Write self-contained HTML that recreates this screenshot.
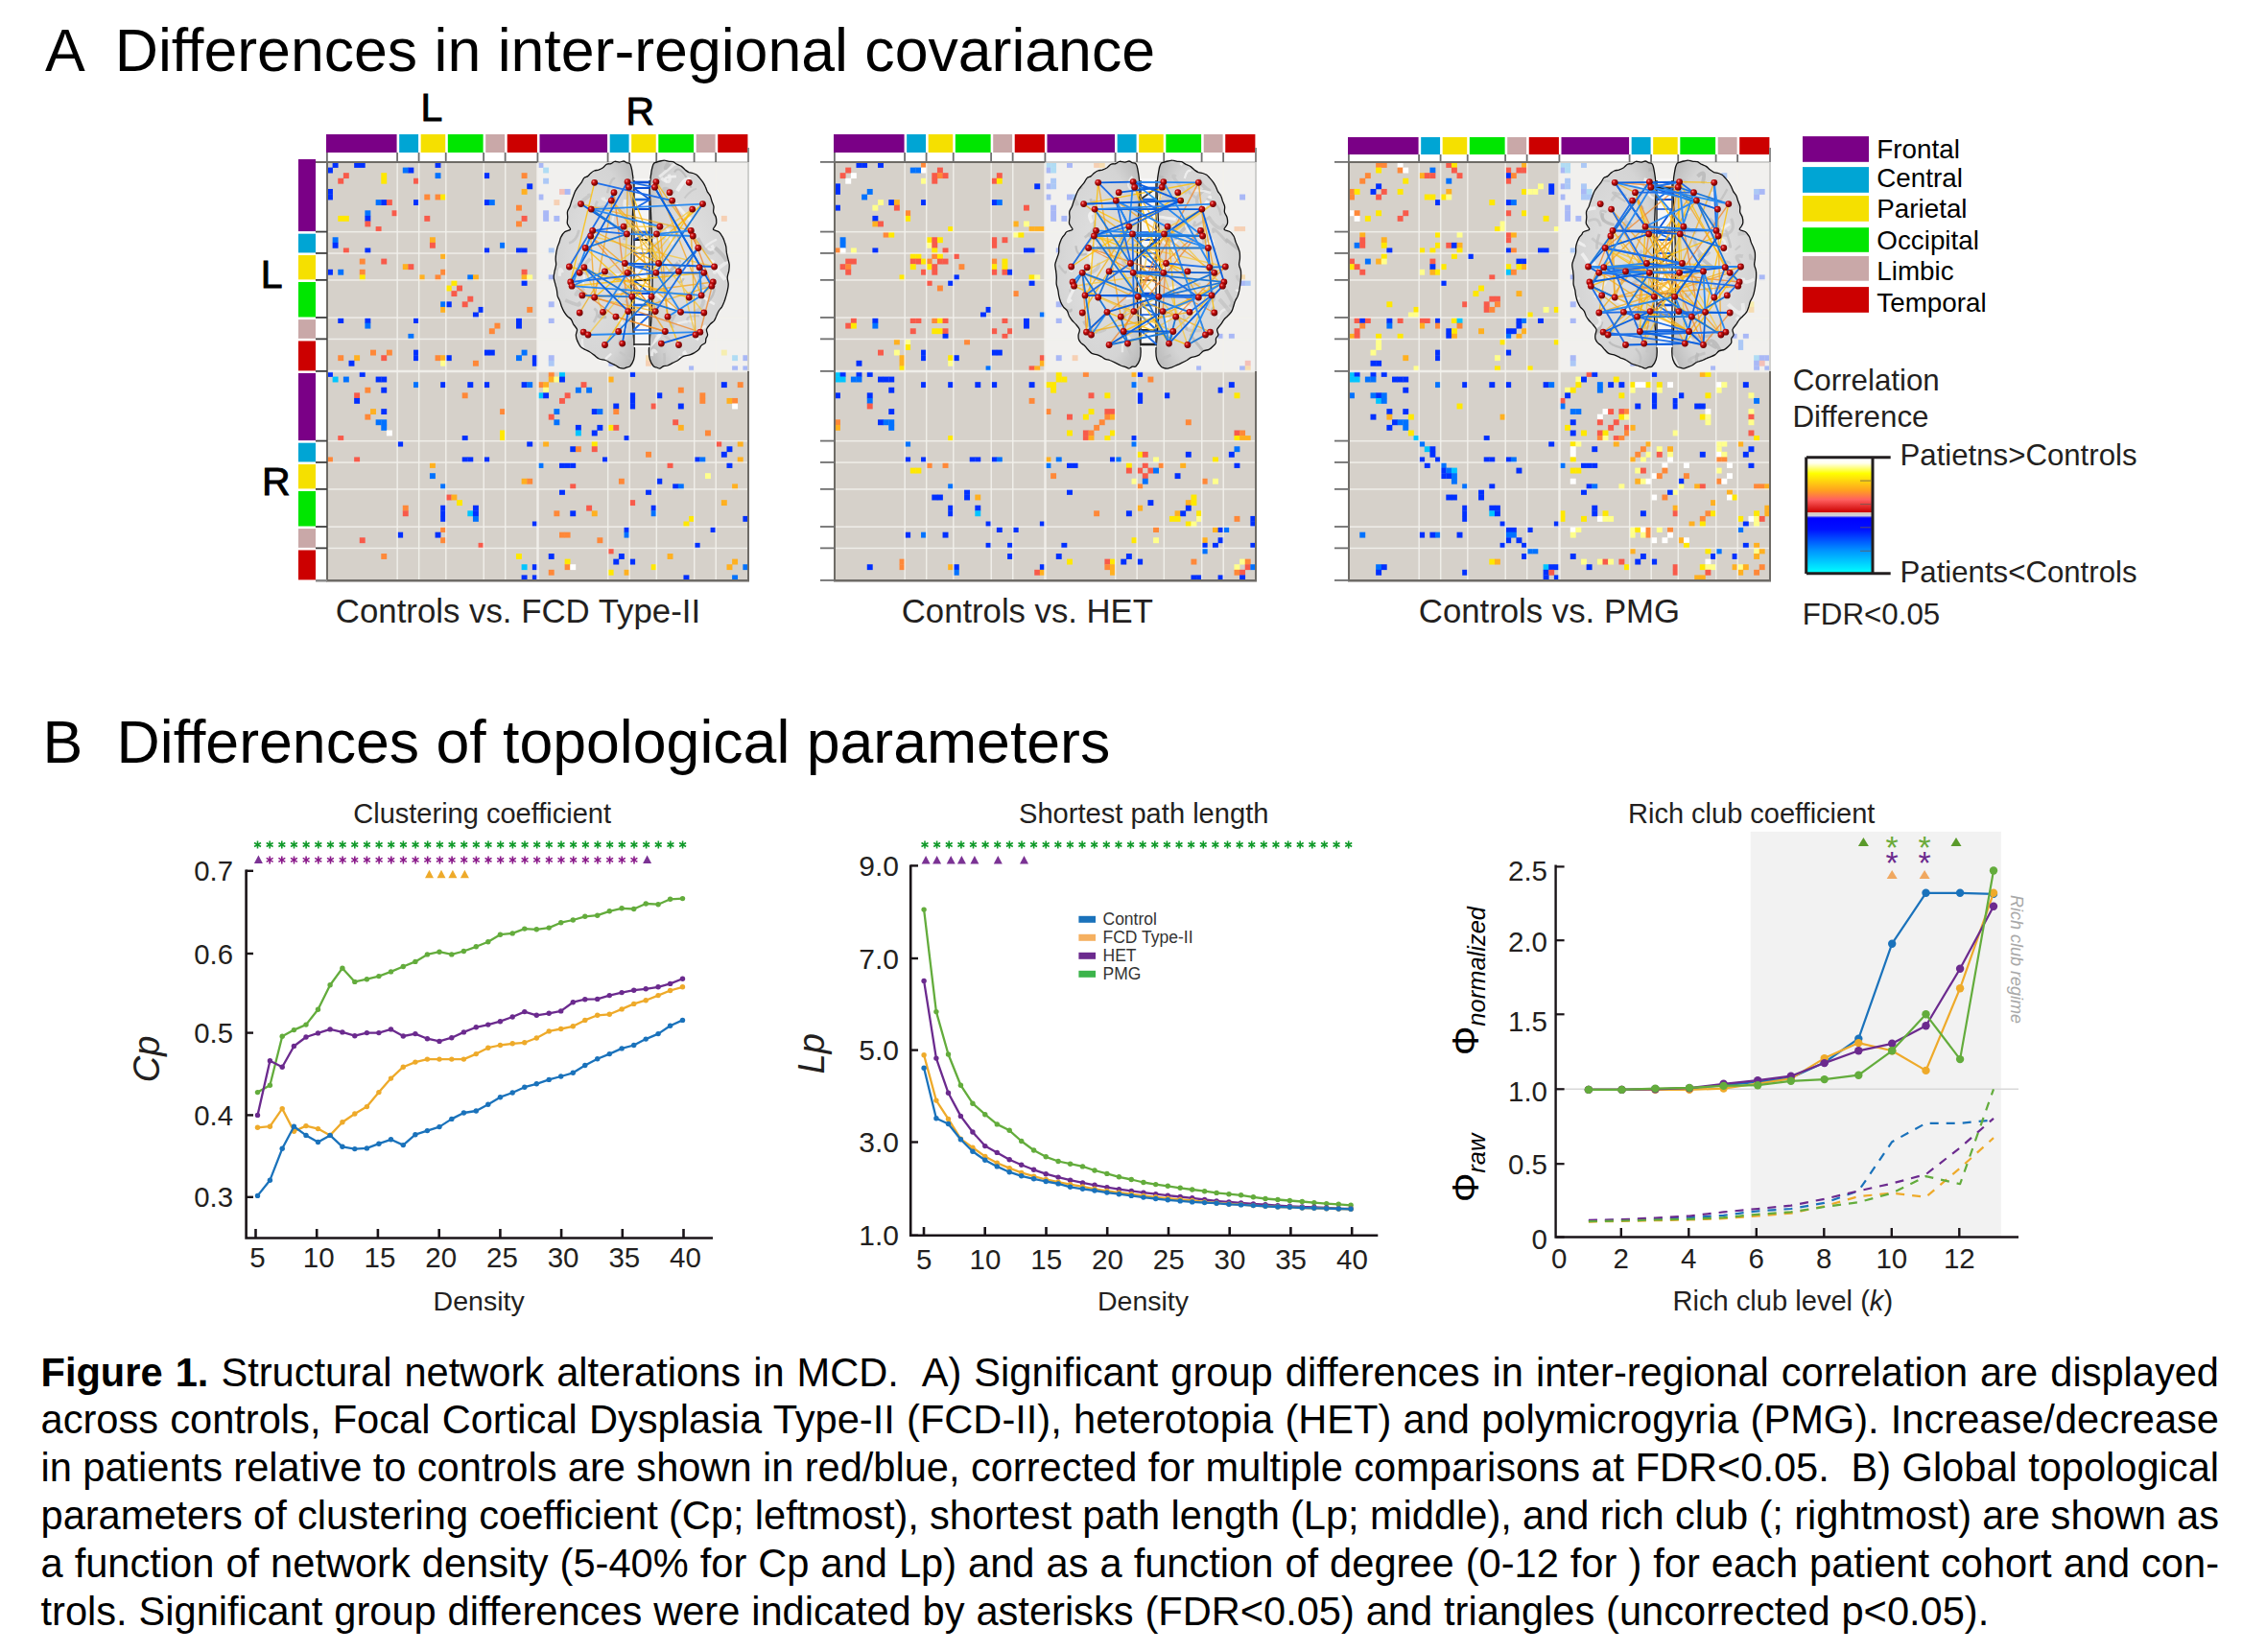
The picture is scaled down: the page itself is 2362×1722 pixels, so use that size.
<!DOCTYPE html>
<html><head><meta charset="utf-8"><style>
html,body{margin:0;padding:0;background:#fff;width:2362px;height:1722px;overflow:hidden}
body{position:relative;font-family:"Liberation Sans",sans-serif}
svg{position:absolute;left:0;top:0}
svg text{font-family:"Liberation Sans",sans-serif}
.cap{position:absolute;left:42.5px;width:2270.5px;font-size:41.6px;line-height:50px;height:50px;white-space:nowrap;color:#000}
</style></head><body>
<svg width="2362" height="1722" viewBox="0 0 2362 1722">
<rect x="341" y="169" width="439" height="436" fill="#d6d1ca"/>
<rect x="560.50" y="169" width="219.50" height="218.00" fill="#f1f0ee"/>
<rect x="346.63" y="169.00" width="5.93" height="5.89" fill="#0030ff"/>
<rect x="369.14" y="169.00" width="5.93" height="5.89" fill="#0030ff"/>
<rect x="374.77" y="169.00" width="5.93" height="5.89" fill="#0030ff"/>
<rect x="453.56" y="169.00" width="5.93" height="5.89" fill="#0030ff"/>
<rect x="341.00" y="174.59" width="5.93" height="5.89" fill="#0030ff"/>
<rect x="419.79" y="174.59" width="5.93" height="5.89" fill="#0072ff"/>
<rect x="425.42" y="174.59" width="5.93" height="5.89" fill="#0030ff"/>
<rect x="357.88" y="180.18" width="5.93" height="5.89" fill="#f85a4a"/>
<rect x="397.28" y="180.18" width="5.93" height="5.89" fill="#ffe800"/>
<rect x="453.56" y="180.18" width="5.93" height="5.89" fill="#0072ff"/>
<rect x="504.22" y="180.18" width="5.93" height="5.89" fill="#0030ff"/>
<rect x="543.62" y="180.18" width="5.93" height="5.89" fill="#ff8838"/>
<rect x="352.26" y="185.77" width="5.93" height="5.89" fill="#f85a4a"/>
<rect x="397.28" y="185.77" width="5.93" height="5.89" fill="#ffe800"/>
<rect x="431.05" y="185.77" width="5.93" height="5.89" fill="#f85a4a"/>
<rect x="549.24" y="191.36" width="5.93" height="5.89" fill="#0030ff"/>
<rect x="341.00" y="196.95" width="5.93" height="5.89" fill="#0030ff"/>
<rect x="543.62" y="196.95" width="5.93" height="5.89" fill="#ffb020"/>
<rect x="341.00" y="202.54" width="5.93" height="5.89" fill="#0030ff"/>
<rect x="442.31" y="202.54" width="5.93" height="5.89" fill="#ff8838"/>
<rect x="453.56" y="202.54" width="5.93" height="5.89" fill="#ff8838"/>
<rect x="459.19" y="202.54" width="5.93" height="5.89" fill="#ffe800"/>
<rect x="391.65" y="208.13" width="5.93" height="5.89" fill="#0072ff"/>
<rect x="397.28" y="208.13" width="5.93" height="5.89" fill="#0030ff"/>
<rect x="402.91" y="208.13" width="5.93" height="5.89" fill="#f85a4a"/>
<rect x="431.05" y="208.13" width="5.93" height="5.89" fill="#0030ff"/>
<rect x="504.22" y="208.13" width="5.93" height="5.89" fill="#0030ff"/>
<rect x="509.85" y="208.13" width="5.93" height="5.89" fill="#0072ff"/>
<rect x="537.99" y="213.72" width="5.93" height="5.89" fill="#ff8838"/>
<rect x="380.40" y="219.31" width="5.93" height="5.89" fill="#0072ff"/>
<rect x="408.54" y="219.31" width="5.93" height="5.89" fill="#f85a4a"/>
<rect x="352.26" y="224.90" width="5.93" height="5.89" fill="#ffe800"/>
<rect x="357.88" y="224.90" width="5.93" height="5.89" fill="#ffe800"/>
<rect x="380.40" y="224.90" width="5.93" height="5.89" fill="#0030ff"/>
<rect x="442.31" y="224.90" width="5.93" height="5.89" fill="#f85a4a"/>
<rect x="543.62" y="224.90" width="5.93" height="5.89" fill="#f85a4a"/>
<rect x="380.40" y="230.49" width="5.93" height="5.89" fill="#f85a4a"/>
<rect x="537.99" y="230.49" width="5.93" height="5.89" fill="#ff8838"/>
<rect x="391.65" y="236.08" width="5.93" height="5.89" fill="#f85a4a"/>
<rect x="346.63" y="247.26" width="5.93" height="5.89" fill="#0072ff"/>
<rect x="447.94" y="247.26" width="5.93" height="5.89" fill="#ffb020"/>
<rect x="346.63" y="252.85" width="5.93" height="5.89" fill="#0030ff"/>
<rect x="447.94" y="252.85" width="5.93" height="5.89" fill="#f85a4a"/>
<rect x="521.10" y="252.85" width="5.93" height="5.89" fill="#0072ff"/>
<rect x="357.88" y="258.44" width="5.93" height="5.89" fill="#f85a4a"/>
<rect x="380.40" y="258.44" width="5.93" height="5.89" fill="#0030ff"/>
<rect x="504.22" y="258.44" width="5.93" height="5.89" fill="#0030ff"/>
<rect x="537.99" y="258.44" width="5.93" height="5.89" fill="#0030ff"/>
<rect x="543.62" y="258.44" width="5.93" height="5.89" fill="#0030ff"/>
<rect x="459.19" y="264.03" width="5.93" height="5.89" fill="#ffb020"/>
<rect x="374.77" y="269.62" width="5.93" height="5.89" fill="#ff8838"/>
<rect x="397.28" y="269.62" width="5.93" height="5.89" fill="#f85a4a"/>
<rect x="419.79" y="275.21" width="5.93" height="5.89" fill="#ffb020"/>
<rect x="425.42" y="275.21" width="5.93" height="5.89" fill="#f85a4a"/>
<rect x="341.00" y="280.79" width="5.93" height="5.89" fill="#0030ff"/>
<rect x="352.26" y="280.79" width="5.93" height="5.89" fill="#0072ff"/>
<rect x="374.77" y="280.79" width="5.93" height="5.89" fill="#ff8838"/>
<rect x="459.19" y="280.79" width="5.93" height="5.89" fill="#ff8838"/>
<rect x="543.62" y="280.79" width="5.93" height="5.89" fill="#f85a4a"/>
<rect x="374.77" y="286.38" width="5.93" height="5.89" fill="#ffe800"/>
<rect x="436.68" y="286.38" width="5.93" height="5.89" fill="#ffb020"/>
<rect x="453.56" y="286.38" width="5.93" height="5.89" fill="#ff8838"/>
<rect x="487.33" y="286.38" width="5.93" height="5.89" fill="#0072ff"/>
<rect x="492.96" y="286.38" width="5.93" height="5.89" fill="#ffb020"/>
<rect x="543.62" y="286.38" width="5.93" height="5.89" fill="#ffb020"/>
<rect x="549.24" y="286.38" width="5.93" height="5.89" fill="#ffff8c"/>
<rect x="470.45" y="291.97" width="5.93" height="5.89" fill="#ffe800"/>
<rect x="543.62" y="291.97" width="5.93" height="5.89" fill="#0030ff"/>
<rect x="464.82" y="297.56" width="5.93" height="5.89" fill="#ffe800"/>
<rect x="476.08" y="297.56" width="5.93" height="5.89" fill="#f85a4a"/>
<rect x="470.45" y="303.15" width="5.93" height="5.89" fill="#f85a4a"/>
<rect x="487.33" y="308.74" width="5.93" height="5.89" fill="#f85a4a"/>
<rect x="459.19" y="314.33" width="5.93" height="5.89" fill="#0072ff"/>
<rect x="464.82" y="314.33" width="5.93" height="5.89" fill="#0030ff"/>
<rect x="481.71" y="314.33" width="5.93" height="5.89" fill="#f85a4a"/>
<rect x="459.19" y="319.92" width="5.93" height="5.89" fill="#ffb020"/>
<rect x="498.59" y="319.92" width="5.93" height="5.89" fill="#0030ff"/>
<rect x="549.24" y="319.92" width="5.93" height="5.89" fill="#ff8838"/>
<rect x="492.96" y="325.51" width="5.93" height="5.89" fill="#0030ff"/>
<rect x="352.26" y="331.10" width="5.93" height="5.89" fill="#0030ff"/>
<rect x="380.40" y="331.10" width="5.93" height="5.89" fill="#0030ff"/>
<rect x="431.05" y="331.10" width="5.93" height="5.89" fill="#0030ff"/>
<rect x="537.99" y="331.10" width="5.93" height="5.89" fill="#0030ff"/>
<rect x="380.40" y="336.69" width="5.93" height="5.89" fill="#0072ff"/>
<rect x="515.47" y="336.69" width="5.93" height="5.89" fill="#ff8838"/>
<rect x="537.99" y="336.69" width="5.93" height="5.89" fill="#0030ff"/>
<rect x="509.85" y="342.28" width="5.93" height="5.89" fill="#ff8838"/>
<rect x="425.42" y="347.87" width="5.93" height="5.89" fill="#0072ff"/>
<rect x="386.03" y="364.64" width="5.93" height="5.89" fill="#ff8838"/>
<rect x="402.91" y="364.64" width="5.93" height="5.89" fill="#ff8838"/>
<rect x="431.05" y="364.64" width="5.93" height="5.89" fill="#0030ff"/>
<rect x="504.22" y="364.64" width="5.93" height="5.89" fill="#0030ff"/>
<rect x="509.85" y="364.64" width="5.93" height="5.89" fill="#0030ff"/>
<rect x="543.62" y="364.64" width="5.93" height="5.89" fill="#0072ff"/>
<rect x="352.26" y="370.23" width="5.93" height="5.89" fill="#ff8838"/>
<rect x="369.14" y="370.23" width="5.93" height="5.89" fill="#ffb020"/>
<rect x="397.28" y="370.23" width="5.93" height="5.89" fill="#f85a4a"/>
<rect x="431.05" y="370.23" width="5.93" height="5.89" fill="#0030ff"/>
<rect x="453.56" y="370.23" width="5.93" height="5.89" fill="#ff8838"/>
<rect x="459.19" y="370.23" width="5.93" height="5.89" fill="#ffb020"/>
<rect x="464.82" y="370.23" width="5.93" height="5.89" fill="#0030ff"/>
<rect x="537.99" y="370.23" width="5.93" height="5.89" fill="#0072ff"/>
<rect x="554.87" y="370.23" width="5.93" height="5.89" fill="#0030ff"/>
<rect x="363.51" y="375.82" width="5.93" height="5.89" fill="#0030ff"/>
<rect x="459.19" y="375.82" width="5.93" height="5.89" fill="#ffff8c"/>
<rect x="492.96" y="375.82" width="5.93" height="5.89" fill="#ff8838"/>
<rect x="554.87" y="375.82" width="5.93" height="5.89" fill="#0030ff"/>
<rect x="341.00" y="387.00" width="5.93" height="5.89" fill="#0030ff"/>
<rect x="560.50" y="169.00" width="5.93" height="5.89" fill="#a9b8f6"/>
<rect x="374.77" y="387.00" width="5.93" height="5.89" fill="#0030ff"/>
<rect x="560.50" y="202.54" width="5.93" height="5.89" fill="#a9b8f6"/>
<rect x="346.63" y="392.59" width="5.93" height="5.89" fill="#00c4ff"/>
<rect x="566.13" y="174.59" width="5.93" height="5.89" fill="#b0dcf4"/>
<rect x="357.88" y="392.59" width="5.93" height="5.89" fill="#0072ff"/>
<rect x="566.13" y="185.77" width="5.93" height="5.89" fill="#acc8f6"/>
<rect x="391.65" y="392.59" width="5.93" height="5.89" fill="#0030ff"/>
<rect x="566.13" y="219.31" width="5.93" height="5.89" fill="#a9b8f6"/>
<rect x="397.28" y="392.59" width="5.93" height="5.89" fill="#0030ff"/>
<rect x="566.13" y="224.90" width="5.93" height="5.89" fill="#a9b8f6"/>
<rect x="431.05" y="398.18" width="5.93" height="5.89" fill="#0072ff"/>
<rect x="571.76" y="258.44" width="5.93" height="5.89" fill="#acc8f6"/>
<rect x="459.19" y="398.18" width="5.93" height="5.89" fill="#0030ff"/>
<rect x="571.76" y="286.38" width="5.93" height="5.89" fill="#a9b8f6"/>
<rect x="487.33" y="398.18" width="5.93" height="5.89" fill="#0030ff"/>
<rect x="571.76" y="314.33" width="5.93" height="5.89" fill="#a9b8f6"/>
<rect x="504.22" y="398.18" width="5.93" height="5.89" fill="#0030ff"/>
<rect x="571.76" y="331.10" width="5.93" height="5.89" fill="#a9b8f6"/>
<rect x="543.62" y="398.18" width="5.93" height="5.89" fill="#0030ff"/>
<rect x="571.76" y="370.23" width="5.93" height="5.89" fill="#a9b8f6"/>
<rect x="549.24" y="398.18" width="5.93" height="5.89" fill="#0072ff"/>
<rect x="571.76" y="375.82" width="5.93" height="5.89" fill="#acc8f6"/>
<rect x="380.40" y="403.77" width="5.93" height="5.89" fill="#ff8838"/>
<rect x="577.38" y="208.13" width="5.93" height="5.89" fill="#f6d0b4"/>
<rect x="397.28" y="403.77" width="5.93" height="5.89" fill="#0030ff"/>
<rect x="577.38" y="224.90" width="5.93" height="5.89" fill="#a9b8f6"/>
<rect x="369.14" y="409.36" width="5.93" height="5.89" fill="#f85a4a"/>
<rect x="583.01" y="196.95" width="5.93" height="5.89" fill="#f4c0b8"/>
<rect x="481.71" y="409.36" width="5.93" height="5.89" fill="#ff8838"/>
<rect x="583.01" y="308.74" width="5.93" height="5.89" fill="#f6d0b4"/>
<rect x="369.14" y="414.95" width="5.93" height="5.89" fill="#0030ff"/>
<rect x="588.64" y="196.95" width="5.93" height="5.89" fill="#a9b8f6"/>
<rect x="386.03" y="426.13" width="5.93" height="5.89" fill="#ffb020"/>
<rect x="599.90" y="213.72" width="5.93" height="5.89" fill="#f6dcb0"/>
<rect x="397.28" y="426.13" width="5.93" height="5.89" fill="#0030ff"/>
<rect x="599.90" y="224.90" width="5.93" height="5.89" fill="#a9b8f6"/>
<rect x="521.10" y="426.13" width="5.93" height="5.89" fill="#ff8838"/>
<rect x="599.90" y="347.87" width="5.93" height="5.89" fill="#f6d0b4"/>
<rect x="380.40" y="431.72" width="5.93" height="5.89" fill="#ff8838"/>
<rect x="605.53" y="208.13" width="5.93" height="5.89" fill="#f6d0b4"/>
<rect x="391.65" y="437.31" width="5.93" height="5.89" fill="#0072ff"/>
<rect x="611.15" y="219.31" width="5.93" height="5.89" fill="#acc8f6"/>
<rect x="397.28" y="437.31" width="5.93" height="5.89" fill="#0072ff"/>
<rect x="611.15" y="224.90" width="5.93" height="5.89" fill="#acc8f6"/>
<rect x="397.28" y="442.90" width="5.93" height="5.89" fill="#0072ff"/>
<rect x="616.78" y="224.90" width="5.93" height="5.89" fill="#acc8f6"/>
<rect x="402.91" y="448.49" width="5.93" height="5.89" fill="#ffffff"/>
<rect x="622.41" y="230.49" width="5.93" height="5.89" fill="#f8f8f8"/>
<rect x="521.10" y="448.49" width="5.93" height="5.89" fill="#ffe800"/>
<rect x="622.41" y="347.87" width="5.93" height="5.89" fill="#f6eeb0"/>
<rect x="352.26" y="454.08" width="5.93" height="5.89" fill="#f85a4a"/>
<rect x="628.04" y="180.18" width="5.93" height="5.89" fill="#f4c0b8"/>
<rect x="481.71" y="454.08" width="5.93" height="5.89" fill="#0030ff"/>
<rect x="628.04" y="308.74" width="5.93" height="5.89" fill="#a9b8f6"/>
<rect x="521.10" y="454.08" width="5.93" height="5.89" fill="#ffe800"/>
<rect x="628.04" y="347.87" width="5.93" height="5.89" fill="#f6eeb0"/>
<rect x="414.17" y="459.67" width="5.93" height="5.89" fill="#0030ff"/>
<rect x="633.67" y="241.67" width="5.93" height="5.89" fill="#a9b8f6"/>
<rect x="549.24" y="459.67" width="5.93" height="5.89" fill="#0030ff"/>
<rect x="633.67" y="375.82" width="5.93" height="5.89" fill="#a9b8f6"/>
<rect x="341.00" y="476.44" width="5.93" height="5.89" fill="#ff8838"/>
<rect x="650.55" y="169.00" width="5.93" height="5.89" fill="#f6d0b4"/>
<rect x="369.14" y="476.44" width="5.93" height="5.89" fill="#f85a4a"/>
<rect x="650.55" y="196.95" width="5.93" height="5.89" fill="#f4c0b8"/>
<rect x="481.71" y="476.44" width="5.93" height="5.89" fill="#0030ff"/>
<rect x="650.55" y="308.74" width="5.93" height="5.89" fill="#a9b8f6"/>
<rect x="487.33" y="476.44" width="5.93" height="5.89" fill="#0030ff"/>
<rect x="650.55" y="314.33" width="5.93" height="5.89" fill="#a9b8f6"/>
<rect x="504.22" y="476.44" width="5.93" height="5.89" fill="#0030ff"/>
<rect x="650.55" y="331.10" width="5.93" height="5.89" fill="#a9b8f6"/>
<rect x="447.94" y="482.03" width="5.93" height="5.89" fill="#ffb020"/>
<rect x="656.18" y="275.21" width="5.93" height="5.89" fill="#f6dcb0"/>
<rect x="447.94" y="493.21" width="5.93" height="5.89" fill="#0072ff"/>
<rect x="667.44" y="275.21" width="5.93" height="5.89" fill="#acc8f6"/>
<rect x="543.62" y="498.79" width="5.93" height="5.89" fill="#ffb020"/>
<rect x="673.06" y="370.23" width="5.93" height="5.89" fill="#f6dcb0"/>
<rect x="549.24" y="498.79" width="5.93" height="5.89" fill="#ff8838"/>
<rect x="673.06" y="375.82" width="5.93" height="5.89" fill="#f6d0b4"/>
<rect x="459.19" y="504.38" width="5.93" height="5.89" fill="#0072ff"/>
<rect x="678.69" y="286.38" width="5.93" height="5.89" fill="#acc8f6"/>
<rect x="464.82" y="515.56" width="5.93" height="5.89" fill="#f85a4a"/>
<rect x="689.95" y="291.97" width="5.93" height="5.89" fill="#f4c0b8"/>
<rect x="470.45" y="515.56" width="5.93" height="5.89" fill="#ffb020"/>
<rect x="689.95" y="297.56" width="5.93" height="5.89" fill="#f6dcb0"/>
<rect x="476.08" y="521.15" width="5.93" height="5.89" fill="#ffe800"/>
<rect x="695.58" y="303.15" width="5.93" height="5.89" fill="#f6eeb0"/>
<rect x="419.79" y="526.74" width="5.93" height="5.89" fill="#ff8838"/>
<rect x="701.21" y="247.26" width="5.93" height="5.89" fill="#f6d0b4"/>
<rect x="459.19" y="526.74" width="5.93" height="5.89" fill="#0030ff"/>
<rect x="701.21" y="286.38" width="5.93" height="5.89" fill="#a9b8f6"/>
<rect x="492.96" y="526.74" width="5.93" height="5.89" fill="#0030ff"/>
<rect x="701.21" y="319.92" width="5.93" height="5.89" fill="#a9b8f6"/>
<rect x="419.79" y="532.33" width="5.93" height="5.89" fill="#f85a4a"/>
<rect x="706.83" y="247.26" width="5.93" height="5.89" fill="#f4c0b8"/>
<rect x="459.19" y="532.33" width="5.93" height="5.89" fill="#0030ff"/>
<rect x="706.83" y="286.38" width="5.93" height="5.89" fill="#a9b8f6"/>
<rect x="487.33" y="532.33" width="5.93" height="5.89" fill="#00c4ff"/>
<rect x="706.83" y="314.33" width="5.93" height="5.89" fill="#b0dcf4"/>
<rect x="492.96" y="532.33" width="5.93" height="5.89" fill="#0030ff"/>
<rect x="706.83" y="319.92" width="5.93" height="5.89" fill="#a9b8f6"/>
<rect x="459.19" y="537.92" width="5.93" height="5.89" fill="#0030ff"/>
<rect x="712.46" y="286.38" width="5.93" height="5.89" fill="#a9b8f6"/>
<rect x="492.96" y="537.92" width="5.93" height="5.89" fill="#0072ff"/>
<rect x="712.46" y="319.92" width="5.93" height="5.89" fill="#acc8f6"/>
<rect x="554.87" y="543.51" width="5.93" height="5.89" fill="#0030ff"/>
<rect x="718.09" y="381.41" width="5.93" height="5.89" fill="#a9b8f6"/>
<rect x="459.19" y="549.10" width="5.93" height="5.89" fill="#ff8838"/>
<rect x="723.72" y="286.38" width="5.93" height="5.89" fill="#f6d0b4"/>
<rect x="414.17" y="554.69" width="5.93" height="5.89" fill="#0030ff"/>
<rect x="729.35" y="241.67" width="5.93" height="5.89" fill="#a9b8f6"/>
<rect x="453.56" y="554.69" width="5.93" height="5.89" fill="#0030ff"/>
<rect x="729.35" y="280.79" width="5.93" height="5.89" fill="#a9b8f6"/>
<rect x="374.77" y="560.28" width="5.93" height="5.89" fill="#f85a4a"/>
<rect x="734.97" y="202.54" width="5.93" height="5.89" fill="#f4c0b8"/>
<rect x="459.19" y="560.28" width="5.93" height="5.89" fill="#ff8838"/>
<rect x="734.97" y="286.38" width="5.93" height="5.89" fill="#f6d0b4"/>
<rect x="498.59" y="565.87" width="5.93" height="5.89" fill="#f85a4a"/>
<rect x="740.60" y="325.51" width="5.93" height="5.89" fill="#f4c0b8"/>
<rect x="397.28" y="577.05" width="5.93" height="5.89" fill="#ff8838"/>
<rect x="751.86" y="224.90" width="5.93" height="5.89" fill="#f6d0b4"/>
<rect x="537.99" y="577.05" width="5.93" height="5.89" fill="#ffe800"/>
<rect x="751.86" y="364.64" width="5.93" height="5.89" fill="#f6eeb0"/>
<rect x="543.62" y="588.23" width="5.93" height="5.89" fill="#00c4ff"/>
<rect x="763.12" y="370.23" width="5.93" height="5.89" fill="#b0dcf4"/>
<rect x="554.87" y="588.23" width="5.93" height="5.89" fill="#0030ff"/>
<rect x="763.12" y="381.41" width="5.93" height="5.89" fill="#a9b8f6"/>
<rect x="543.62" y="599.41" width="5.93" height="5.89" fill="#0030ff"/>
<rect x="774.37" y="370.23" width="5.93" height="5.89" fill="#a9b8f6"/>
<rect x="554.87" y="599.41" width="5.93" height="5.89" fill="#0030ff"/>
<rect x="774.37" y="381.41" width="5.93" height="5.89" fill="#a9b8f6"/>
<rect x="571.76" y="387.00" width="5.93" height="5.89" fill="#ff8838"/>
<rect x="583.01" y="387.00" width="5.93" height="5.89" fill="#00c4ff"/>
<rect x="656.18" y="387.00" width="5.93" height="5.89" fill="#0030ff"/>
<rect x="571.76" y="392.59" width="5.93" height="5.89" fill="#ffb020"/>
<rect x="577.38" y="392.59" width="5.93" height="5.89" fill="#ffff8c"/>
<rect x="583.01" y="392.59" width="5.93" height="5.89" fill="#0030ff"/>
<rect x="633.67" y="392.59" width="5.93" height="5.89" fill="#ffb020"/>
<rect x="560.50" y="398.18" width="5.93" height="5.89" fill="#ff8838"/>
<rect x="566.13" y="398.18" width="5.93" height="5.89" fill="#ffb020"/>
<rect x="605.53" y="398.18" width="5.93" height="5.89" fill="#f85a4a"/>
<rect x="751.86" y="398.18" width="5.93" height="5.89" fill="#0030ff"/>
<rect x="768.74" y="398.18" width="5.93" height="5.89" fill="#ff8838"/>
<rect x="566.13" y="403.77" width="5.93" height="5.89" fill="#ffff8c"/>
<rect x="599.90" y="403.77" width="5.93" height="5.89" fill="#0072ff"/>
<rect x="611.15" y="403.77" width="5.93" height="5.89" fill="#0072ff"/>
<rect x="706.83" y="403.77" width="5.93" height="5.89" fill="#ff8838"/>
<rect x="560.50" y="409.36" width="5.93" height="5.89" fill="#00c4ff"/>
<rect x="566.13" y="409.36" width="5.93" height="5.89" fill="#0030ff"/>
<rect x="588.64" y="409.36" width="5.93" height="5.89" fill="#f85a4a"/>
<rect x="656.18" y="409.36" width="5.93" height="5.89" fill="#0030ff"/>
<rect x="684.32" y="409.36" width="5.93" height="5.89" fill="#0030ff"/>
<rect x="729.35" y="409.36" width="5.93" height="5.89" fill="#ff8838"/>
<rect x="583.01" y="414.95" width="5.93" height="5.89" fill="#f85a4a"/>
<rect x="656.18" y="414.95" width="5.93" height="5.89" fill="#0030ff"/>
<rect x="729.35" y="414.95" width="5.93" height="5.89" fill="#ff8838"/>
<rect x="757.49" y="414.95" width="5.93" height="5.89" fill="#ffb020"/>
<rect x="763.12" y="414.95" width="5.93" height="5.89" fill="#ff8838"/>
<rect x="639.29" y="420.54" width="5.93" height="5.89" fill="#0030ff"/>
<rect x="656.18" y="420.54" width="5.93" height="5.89" fill="#0030ff"/>
<rect x="678.69" y="420.54" width="5.93" height="5.89" fill="#f85a4a"/>
<rect x="706.83" y="420.54" width="5.93" height="5.89" fill="#0030ff"/>
<rect x="763.12" y="420.54" width="5.93" height="5.89" fill="#ffffff"/>
<rect x="577.38" y="426.13" width="5.93" height="5.89" fill="#0072ff"/>
<rect x="616.78" y="426.13" width="5.93" height="5.89" fill="#0030ff"/>
<rect x="622.41" y="426.13" width="5.93" height="5.89" fill="#0072ff"/>
<rect x="639.29" y="426.13" width="5.93" height="5.89" fill="#ff8838"/>
<rect x="571.76" y="431.72" width="5.93" height="5.89" fill="#f85a4a"/>
<rect x="577.38" y="437.31" width="5.93" height="5.89" fill="#0072ff"/>
<rect x="701.21" y="437.31" width="5.93" height="5.89" fill="#f85a4a"/>
<rect x="599.90" y="442.90" width="5.93" height="5.89" fill="#0030ff"/>
<rect x="622.41" y="442.90" width="5.93" height="5.89" fill="#0030ff"/>
<rect x="633.67" y="442.90" width="5.93" height="5.89" fill="#ffe800"/>
<rect x="639.29" y="442.90" width="5.93" height="5.89" fill="#f85a4a"/>
<rect x="706.83" y="442.90" width="5.93" height="5.89" fill="#ffb020"/>
<rect x="599.90" y="448.49" width="5.93" height="5.89" fill="#00c4ff"/>
<rect x="616.78" y="448.49" width="5.93" height="5.89" fill="#0030ff"/>
<rect x="734.97" y="448.49" width="5.93" height="5.89" fill="#ff8838"/>
<rect x="650.55" y="454.08" width="5.93" height="5.89" fill="#0030ff"/>
<rect x="566.13" y="459.67" width="5.93" height="5.89" fill="#ffb020"/>
<rect x="616.78" y="459.67" width="5.93" height="5.89" fill="#ffe800"/>
<rect x="746.23" y="459.67" width="5.93" height="5.89" fill="#f85a4a"/>
<rect x="768.74" y="459.67" width="5.93" height="5.89" fill="#ffb020"/>
<rect x="594.27" y="465.26" width="5.93" height="5.89" fill="#0030ff"/>
<rect x="599.90" y="465.26" width="5.93" height="5.89" fill="#ff8838"/>
<rect x="616.78" y="465.26" width="5.93" height="5.89" fill="#f85a4a"/>
<rect x="757.49" y="465.26" width="5.93" height="5.89" fill="#0030ff"/>
<rect x="673.06" y="470.85" width="5.93" height="5.89" fill="#ff8838"/>
<rect x="751.86" y="470.85" width="5.93" height="5.89" fill="#0030ff"/>
<rect x="628.04" y="476.44" width="5.93" height="5.89" fill="#0030ff"/>
<rect x="723.72" y="476.44" width="5.93" height="5.89" fill="#0030ff"/>
<rect x="729.35" y="476.44" width="5.93" height="5.89" fill="#0072ff"/>
<rect x="768.74" y="476.44" width="5.93" height="5.89" fill="#ffb020"/>
<rect x="560.50" y="482.03" width="5.93" height="5.89" fill="#0072ff"/>
<rect x="583.01" y="482.03" width="5.93" height="5.89" fill="#0030ff"/>
<rect x="588.64" y="482.03" width="5.93" height="5.89" fill="#0030ff"/>
<rect x="594.27" y="482.03" width="5.93" height="5.89" fill="#0030ff"/>
<rect x="695.58" y="482.03" width="5.93" height="5.89" fill="#f85a4a"/>
<rect x="757.49" y="482.03" width="5.93" height="5.89" fill="#0030ff"/>
<rect x="734.97" y="493.21" width="5.93" height="5.89" fill="#ffff8c"/>
<rect x="644.92" y="498.79" width="5.93" height="5.89" fill="#ff8838"/>
<rect x="684.32" y="498.79" width="5.93" height="5.89" fill="#0030ff"/>
<rect x="594.27" y="504.38" width="5.93" height="5.89" fill="#f85a4a"/>
<rect x="701.21" y="504.38" width="5.93" height="5.89" fill="#0030ff"/>
<rect x="706.83" y="504.38" width="5.93" height="5.89" fill="#0072ff"/>
<rect x="763.12" y="504.38" width="5.93" height="5.89" fill="#ffb020"/>
<rect x="583.01" y="509.97" width="5.93" height="5.89" fill="#0030ff"/>
<rect x="673.06" y="509.97" width="5.93" height="5.89" fill="#0030ff"/>
<rect x="656.18" y="521.15" width="5.93" height="5.89" fill="#f85a4a"/>
<rect x="751.86" y="521.15" width="5.93" height="5.89" fill="#ffb020"/>
<rect x="611.15" y="526.74" width="5.93" height="5.89" fill="#f85a4a"/>
<rect x="678.69" y="526.74" width="5.93" height="5.89" fill="#0030ff"/>
<rect x="577.38" y="532.33" width="5.93" height="5.89" fill="#ff8838"/>
<rect x="594.27" y="532.33" width="5.93" height="5.89" fill="#0030ff"/>
<rect x="616.78" y="532.33" width="5.93" height="5.89" fill="#ffb020"/>
<rect x="678.69" y="532.33" width="5.93" height="5.89" fill="#0072ff"/>
<rect x="718.09" y="537.92" width="5.93" height="5.89" fill="#ffe800"/>
<rect x="774.37" y="537.92" width="5.93" height="5.89" fill="#0030ff"/>
<rect x="712.46" y="543.51" width="5.93" height="5.89" fill="#ffe800"/>
<rect x="650.55" y="549.10" width="5.93" height="5.89" fill="#0030ff"/>
<rect x="740.60" y="549.10" width="5.93" height="5.89" fill="#0030ff"/>
<rect x="583.01" y="554.69" width="5.93" height="5.89" fill="#ff8838"/>
<rect x="588.64" y="554.69" width="5.93" height="5.89" fill="#ff8838"/>
<rect x="650.55" y="554.69" width="5.93" height="5.89" fill="#0072ff"/>
<rect x="622.41" y="560.28" width="5.93" height="5.89" fill="#ff8838"/>
<rect x="723.72" y="565.87" width="5.93" height="5.89" fill="#0030ff"/>
<rect x="633.67" y="571.46" width="5.93" height="5.89" fill="#f85a4a"/>
<rect x="571.76" y="577.05" width="5.93" height="5.89" fill="#0030ff"/>
<rect x="644.92" y="577.05" width="5.93" height="5.89" fill="#0030ff"/>
<rect x="695.58" y="577.05" width="5.93" height="5.89" fill="#ffb020"/>
<rect x="588.64" y="582.64" width="5.93" height="5.89" fill="#ffe800"/>
<rect x="639.29" y="582.64" width="5.93" height="5.89" fill="#0030ff"/>
<rect x="656.18" y="582.64" width="5.93" height="5.89" fill="#0030ff"/>
<rect x="763.12" y="582.64" width="5.93" height="5.89" fill="#ffb020"/>
<rect x="588.64" y="588.23" width="5.93" height="5.89" fill="#ff8838"/>
<rect x="594.27" y="588.23" width="5.93" height="5.89" fill="#ffffff"/>
<rect x="678.69" y="588.23" width="5.93" height="5.89" fill="#ffe800"/>
<rect x="757.49" y="588.23" width="5.93" height="5.89" fill="#ffb020"/>
<rect x="774.37" y="588.23" width="5.93" height="5.89" fill="#0072ff"/>
<rect x="571.76" y="593.82" width="5.93" height="5.89" fill="#ff8838"/>
<rect x="633.67" y="593.82" width="5.93" height="5.89" fill="#ffe800"/>
<rect x="650.55" y="593.82" width="5.93" height="5.89" fill="#ffb020"/>
<rect x="712.46" y="599.41" width="5.93" height="5.89" fill="#0030ff"/>
<rect x="763.12" y="599.41" width="5.93" height="5.89" fill="#0072ff"/>
<rect x="413.42" y="169" width="1.5" height="436" fill="#f2f1ec" opacity="0.9"/>
<rect x="341" y="240.92" width="439" height="1.5" fill="#f2f1ec" opacity="0.9"/>
<rect x="435.93" y="169" width="1.5" height="436" fill="#f2f1ec" opacity="0.9"/>
<rect x="341" y="263.28" width="439" height="1.5" fill="#f2f1ec" opacity="0.9"/>
<rect x="464.07" y="169" width="1.5" height="436" fill="#f2f1ec" opacity="0.9"/>
<rect x="341" y="291.22" width="439" height="1.5" fill="#f2f1ec" opacity="0.9"/>
<rect x="503.47" y="169" width="1.5" height="436" fill="#f2f1ec" opacity="0.9"/>
<rect x="341" y="330.35" width="439" height="1.5" fill="#f2f1ec" opacity="0.9"/>
<rect x="525.98" y="169" width="1.5" height="436" fill="#f2f1ec" opacity="0.9"/>
<rect x="341" y="352.71" width="439" height="1.5" fill="#f2f1ec" opacity="0.9"/>
<rect x="559.25" y="169" width="2.5" height="436" fill="#f2f1ec" opacity="0.9"/>
<rect x="341" y="385.75" width="439" height="2.5" fill="#f2f1ec" opacity="0.9"/>
<rect x="632.92" y="169" width="1.5" height="436" fill="#f2f1ec" opacity="0.9"/>
<rect x="341" y="458.92" width="439" height="1.5" fill="#f2f1ec" opacity="0.9"/>
<rect x="655.43" y="169" width="1.5" height="436" fill="#f2f1ec" opacity="0.9"/>
<rect x="341" y="481.28" width="439" height="1.5" fill="#f2f1ec" opacity="0.9"/>
<rect x="683.57" y="169" width="1.5" height="436" fill="#f2f1ec" opacity="0.9"/>
<rect x="341" y="509.22" width="439" height="1.5" fill="#f2f1ec" opacity="0.9"/>
<rect x="722.97" y="169" width="1.5" height="436" fill="#f2f1ec" opacity="0.9"/>
<rect x="341" y="548.35" width="439" height="1.5" fill="#f2f1ec" opacity="0.9"/>
<rect x="745.48" y="169" width="1.5" height="436" fill="#f2f1ec" opacity="0.9"/>
<rect x="341" y="570.71" width="439" height="1.5" fill="#f2f1ec" opacity="0.9"/>
<rect x="340" y="168" width="2" height="438" fill="#6e6b66"/>
<rect x="340" y="604" width="441" height="2.5" fill="#6e6b66"/>
<rect x="340" y="168" width="220.50" height="2" fill="#6e6b66"/>
<rect x="560.50" y="168" width="219.50" height="2" fill="#cfcfcd"/>
<rect x="779" y="169" width="2" height="218.00" fill="#cfcfcd"/>
<rect x="779" y="387.00" width="2" height="218.00" fill="#6e6b66"/>
<rect x="340.00" y="140" width="73.57" height="19" fill="#7a0086"/>
<rect x="416.17" y="140" width="19.91" height="19" fill="#00a5d4"/>
<rect x="438.68" y="140" width="25.54" height="19" fill="#f5e000"/>
<rect x="466.82" y="140" width="36.80" height="19" fill="#00e600"/>
<rect x="506.22" y="140" width="19.91" height="19" fill="#c9a8a8"/>
<rect x="528.73" y="140" width="31.17" height="19" fill="#cc0000"/>
<rect x="562.50" y="140" width="70.57" height="19" fill="#7a0086"/>
<rect x="635.67" y="140" width="19.91" height="19" fill="#00a5d4"/>
<rect x="658.18" y="140" width="25.54" height="19" fill="#f5e000"/>
<rect x="686.32" y="140" width="36.80" height="19" fill="#00e600"/>
<rect x="725.72" y="140" width="19.91" height="19" fill="#c9a8a8"/>
<rect x="748.23" y="140" width="31.17" height="19" fill="#cc0000"/>
<rect x="340.00" y="159" width="1.8" height="10" fill="#707070"/>
<rect x="413.17" y="159" width="1.8" height="10" fill="#707070"/>
<rect x="435.68" y="159" width="1.8" height="10" fill="#707070"/>
<rect x="463.82" y="159" width="1.8" height="10" fill="#707070"/>
<rect x="503.22" y="159" width="1.8" height="10" fill="#707070"/>
<rect x="525.73" y="159" width="1.8" height="10" fill="#707070"/>
<rect x="559.50" y="159" width="1.8" height="10" fill="#707070"/>
<rect x="632.67" y="159" width="1.8" height="10" fill="#707070"/>
<rect x="655.18" y="159" width="1.8" height="10" fill="#707070"/>
<rect x="683.32" y="159" width="1.8" height="10" fill="#707070"/>
<rect x="722.72" y="159" width="1.8" height="10" fill="#707070"/>
<rect x="745.23" y="159" width="1.8" height="10" fill="#707070"/>
<rect x="779.00" y="159" width="1.8" height="10" fill="#707070"/>
<rect x="779" y="154" width="2" height="15" fill="#8a8a8a"/>
<rect x="311" y="166.00" width="18" height="75.07" fill="#7a0086"/>
<rect x="311" y="243.67" width="18" height="19.76" fill="#00a5d4"/>
<rect x="311" y="266.03" width="18" height="25.35" fill="#f5e000"/>
<rect x="311" y="293.97" width="18" height="36.53" fill="#00e600"/>
<rect x="311" y="333.10" width="18" height="19.76" fill="#c9a8a8"/>
<rect x="311" y="355.46" width="18" height="30.94" fill="#cc0000"/>
<rect x="311" y="389.00" width="18" height="70.07" fill="#7a0086"/>
<rect x="311" y="461.67" width="18" height="19.76" fill="#00a5d4"/>
<rect x="311" y="484.03" width="18" height="25.35" fill="#f5e000"/>
<rect x="311" y="511.97" width="18" height="36.53" fill="#00e600"/>
<rect x="311" y="551.10" width="18" height="19.76" fill="#c9a8a8"/>
<rect x="311" y="573.46" width="18" height="30.94" fill="#cc0000"/>
<rect x="329" y="240.67" width="12" height="1.8" fill="#404040"/>
<rect x="329" y="263.03" width="12" height="1.8" fill="#404040"/>
<rect x="329" y="290.97" width="12" height="1.8" fill="#404040"/>
<rect x="329" y="330.10" width="12" height="1.8" fill="#404040"/>
<rect x="329" y="352.46" width="12" height="1.8" fill="#404040"/>
<rect x="329" y="386.00" width="12" height="1.8" fill="#404040"/>
<rect x="329" y="458.67" width="12" height="1.8" fill="#404040"/>
<rect x="329" y="481.03" width="12" height="1.8" fill="#404040"/>
<rect x="329" y="508.97" width="12" height="1.8" fill="#404040"/>
<rect x="329" y="548.10" width="12" height="1.8" fill="#404040"/>
<rect x="329" y="570.46" width="12" height="1.8" fill="#404040"/>
<rect x="329" y="168" width="12" height="2" fill="#6e6b66"/>
<rect x="329" y="604" width="12" height="2.5" fill="#8a8a8a"/>
<rect x="870" y="169" width="439" height="436" fill="#d6d1ca"/>
<rect x="1089.50" y="169" width="219.50" height="218.00" fill="#f1f0ee"/>
<rect x="892.51" y="169.00" width="5.93" height="5.89" fill="#0030ff"/>
<rect x="898.14" y="169.00" width="5.93" height="5.89" fill="#0030ff"/>
<rect x="915.03" y="169.00" width="5.93" height="5.89" fill="#0030ff"/>
<rect x="960.05" y="169.00" width="5.93" height="5.89" fill="#ff8838"/>
<rect x="881.26" y="174.59" width="5.93" height="5.89" fill="#f85a4a"/>
<rect x="948.79" y="174.59" width="5.93" height="5.89" fill="#0072ff"/>
<rect x="954.42" y="174.59" width="5.93" height="5.89" fill="#0072ff"/>
<rect x="960.05" y="174.59" width="5.93" height="5.89" fill="#ffffff"/>
<rect x="976.94" y="174.59" width="5.93" height="5.89" fill="#f85a4a"/>
<rect x="875.63" y="180.18" width="5.93" height="5.89" fill="#f85a4a"/>
<rect x="886.88" y="180.18" width="5.93" height="5.89" fill="#ffffff"/>
<rect x="971.31" y="180.18" width="5.93" height="5.89" fill="#f85a4a"/>
<rect x="976.94" y="180.18" width="5.93" height="5.89" fill="#ff8838"/>
<rect x="982.56" y="180.18" width="5.93" height="5.89" fill="#f85a4a"/>
<rect x="1038.85" y="180.18" width="5.93" height="5.89" fill="#f85a4a"/>
<rect x="881.26" y="185.77" width="5.93" height="5.89" fill="#ffffff"/>
<rect x="960.05" y="185.77" width="5.93" height="5.89" fill="#ffff8c"/>
<rect x="971.31" y="185.77" width="5.93" height="5.89" fill="#f85a4a"/>
<rect x="1033.22" y="185.77" width="5.93" height="5.89" fill="#f85a4a"/>
<rect x="1038.85" y="185.77" width="5.93" height="5.89" fill="#ffe800"/>
<rect x="870.00" y="191.36" width="5.93" height="5.89" fill="#0030ff"/>
<rect x="1078.24" y="191.36" width="5.93" height="5.89" fill="#0030ff"/>
<rect x="870.00" y="196.95" width="5.93" height="5.89" fill="#0030ff"/>
<rect x="903.77" y="196.95" width="5.93" height="5.89" fill="#0072ff"/>
<rect x="898.14" y="202.54" width="5.93" height="5.89" fill="#0072ff"/>
<rect x="915.03" y="208.13" width="5.93" height="5.89" fill="#ffff8c"/>
<rect x="926.28" y="208.13" width="5.93" height="5.89" fill="#0030ff"/>
<rect x="931.91" y="208.13" width="5.93" height="5.89" fill="#ffb020"/>
<rect x="960.05" y="208.13" width="5.93" height="5.89" fill="#0030ff"/>
<rect x="1033.22" y="208.13" width="5.93" height="5.89" fill="#0030ff"/>
<rect x="1038.85" y="208.13" width="5.93" height="5.89" fill="#0072ff"/>
<rect x="870.00" y="213.72" width="5.93" height="5.89" fill="#0030ff"/>
<rect x="909.40" y="213.72" width="5.93" height="5.89" fill="#ffff8c"/>
<rect x="931.91" y="213.72" width="5.93" height="5.89" fill="#f85a4a"/>
<rect x="1066.99" y="213.72" width="5.93" height="5.89" fill="#f85a4a"/>
<rect x="943.17" y="219.31" width="5.93" height="5.89" fill="#ff8838"/>
<rect x="909.40" y="224.90" width="5.93" height="5.89" fill="#0030ff"/>
<rect x="943.17" y="224.90" width="5.93" height="5.89" fill="#ffe800"/>
<rect x="909.40" y="230.49" width="5.93" height="5.89" fill="#ffb020"/>
<rect x="915.03" y="230.49" width="5.93" height="5.89" fill="#f85a4a"/>
<rect x="1055.73" y="230.49" width="5.93" height="5.89" fill="#ffb020"/>
<rect x="1066.99" y="230.49" width="5.93" height="5.89" fill="#ffff8c"/>
<rect x="988.19" y="236.08" width="5.93" height="5.89" fill="#ffe800"/>
<rect x="1072.62" y="236.08" width="5.93" height="5.89" fill="#ffb020"/>
<rect x="1078.24" y="236.08" width="5.93" height="5.89" fill="#ffb020"/>
<rect x="1083.87" y="236.08" width="5.93" height="5.89" fill="#ffb020"/>
<rect x="920.65" y="241.67" width="5.93" height="5.89" fill="#ff8838"/>
<rect x="926.28" y="241.67" width="5.93" height="5.89" fill="#ffe800"/>
<rect x="1055.73" y="241.67" width="5.93" height="5.89" fill="#ffff8c"/>
<rect x="1061.36" y="241.67" width="5.93" height="5.89" fill="#ffe800"/>
<rect x="875.63" y="247.26" width="5.93" height="5.89" fill="#0072ff"/>
<rect x="965.68" y="247.26" width="5.93" height="5.89" fill="#ffe800"/>
<rect x="971.31" y="247.26" width="5.93" height="5.89" fill="#f85a4a"/>
<rect x="976.94" y="247.26" width="5.93" height="5.89" fill="#ffe800"/>
<rect x="1033.22" y="247.26" width="5.93" height="5.89" fill="#f85a4a"/>
<rect x="1044.47" y="247.26" width="5.93" height="5.89" fill="#f85a4a"/>
<rect x="875.63" y="252.85" width="5.93" height="5.89" fill="#0072ff"/>
<rect x="965.68" y="252.85" width="5.93" height="5.89" fill="#ffff8c"/>
<rect x="971.31" y="252.85" width="5.93" height="5.89" fill="#f85a4a"/>
<rect x="1033.22" y="252.85" width="5.93" height="5.89" fill="#f85a4a"/>
<rect x="870.00" y="258.44" width="5.93" height="5.89" fill="#ff8838"/>
<rect x="875.63" y="258.44" width="5.93" height="5.89" fill="#ffffff"/>
<rect x="886.88" y="258.44" width="5.93" height="5.89" fill="#ffff8c"/>
<rect x="909.40" y="258.44" width="5.93" height="5.89" fill="#0030ff"/>
<rect x="971.31" y="258.44" width="5.93" height="5.89" fill="#ffe800"/>
<rect x="982.56" y="258.44" width="5.93" height="5.89" fill="#f85a4a"/>
<rect x="1066.99" y="258.44" width="5.93" height="5.89" fill="#0030ff"/>
<rect x="1072.62" y="258.44" width="5.93" height="5.89" fill="#0030ff"/>
<rect x="948.79" y="264.03" width="5.93" height="5.89" fill="#ffe800"/>
<rect x="954.42" y="264.03" width="5.93" height="5.89" fill="#ffe800"/>
<rect x="971.31" y="264.03" width="5.93" height="5.89" fill="#ff8838"/>
<rect x="976.94" y="264.03" width="5.93" height="5.89" fill="#ffe800"/>
<rect x="993.82" y="264.03" width="5.93" height="5.89" fill="#f85a4a"/>
<rect x="881.26" y="269.62" width="5.93" height="5.89" fill="#f85a4a"/>
<rect x="886.88" y="269.62" width="5.93" height="5.89" fill="#f85a4a"/>
<rect x="948.79" y="269.62" width="5.93" height="5.89" fill="#f85a4a"/>
<rect x="954.42" y="269.62" width="5.93" height="5.89" fill="#f85a4a"/>
<rect x="960.05" y="269.62" width="5.93" height="5.89" fill="#ffe800"/>
<rect x="965.68" y="269.62" width="5.93" height="5.89" fill="#ff8838"/>
<rect x="976.94" y="269.62" width="5.93" height="5.89" fill="#f85a4a"/>
<rect x="982.56" y="269.62" width="5.93" height="5.89" fill="#f85a4a"/>
<rect x="1033.22" y="269.62" width="5.93" height="5.89" fill="#ff8838"/>
<rect x="1044.47" y="269.62" width="5.93" height="5.89" fill="#ffe800"/>
<rect x="875.63" y="275.21" width="5.93" height="5.89" fill="#f85a4a"/>
<rect x="881.26" y="275.21" width="5.93" height="5.89" fill="#ff8838"/>
<rect x="948.79" y="275.21" width="5.93" height="5.89" fill="#ffe800"/>
<rect x="965.68" y="275.21" width="5.93" height="5.89" fill="#ffe800"/>
<rect x="971.31" y="275.21" width="5.93" height="5.89" fill="#f85a4a"/>
<rect x="999.45" y="275.21" width="5.93" height="5.89" fill="#ff8838"/>
<rect x="1033.22" y="275.21" width="5.93" height="5.89" fill="#ffe800"/>
<rect x="1044.47" y="275.21" width="5.93" height="5.89" fill="#ffe800"/>
<rect x="881.26" y="280.79" width="5.93" height="5.89" fill="#f85a4a"/>
<rect x="960.05" y="280.79" width="5.93" height="5.89" fill="#f85a4a"/>
<rect x="971.31" y="280.79" width="5.93" height="5.89" fill="#f85a4a"/>
<rect x="1033.22" y="280.79" width="5.93" height="5.89" fill="#f85a4a"/>
<rect x="1044.47" y="280.79" width="5.93" height="5.89" fill="#f85a4a"/>
<rect x="1050.10" y="280.79" width="5.93" height="5.89" fill="#0030ff"/>
<rect x="937.54" y="286.38" width="5.93" height="5.89" fill="#ffe800"/>
<rect x="993.82" y="286.38" width="5.93" height="5.89" fill="#0030ff"/>
<rect x="1072.62" y="286.38" width="5.93" height="5.89" fill="#ffe800"/>
<rect x="1078.24" y="286.38" width="5.93" height="5.89" fill="#ffff8c"/>
<rect x="965.68" y="291.97" width="5.93" height="5.89" fill="#f85a4a"/>
<rect x="988.19" y="291.97" width="5.93" height="5.89" fill="#0030ff"/>
<rect x="1072.62" y="291.97" width="5.93" height="5.89" fill="#0030ff"/>
<rect x="976.94" y="297.56" width="5.93" height="5.89" fill="#ff8838"/>
<rect x="1055.73" y="303.15" width="5.93" height="5.89" fill="#ff8838"/>
<rect x="1027.59" y="319.92" width="5.93" height="5.89" fill="#0030ff"/>
<rect x="1021.96" y="325.51" width="5.93" height="5.89" fill="#0030ff"/>
<rect x="1083.87" y="325.51" width="5.93" height="5.89" fill="#0072ff"/>
<rect x="886.88" y="331.10" width="5.93" height="5.89" fill="#f85a4a"/>
<rect x="909.40" y="331.10" width="5.93" height="5.89" fill="#0030ff"/>
<rect x="948.79" y="331.10" width="5.93" height="5.89" fill="#f85a4a"/>
<rect x="954.42" y="331.10" width="5.93" height="5.89" fill="#f85a4a"/>
<rect x="971.31" y="331.10" width="5.93" height="5.89" fill="#ff8838"/>
<rect x="976.94" y="331.10" width="5.93" height="5.89" fill="#ffe800"/>
<rect x="982.56" y="331.10" width="5.93" height="5.89" fill="#f85a4a"/>
<rect x="1044.47" y="331.10" width="5.93" height="5.89" fill="#f85a4a"/>
<rect x="1066.99" y="331.10" width="5.93" height="5.89" fill="#0030ff"/>
<rect x="881.26" y="336.69" width="5.93" height="5.89" fill="#f85a4a"/>
<rect x="886.88" y="336.69" width="5.93" height="5.89" fill="#ffe800"/>
<rect x="909.40" y="336.69" width="5.93" height="5.89" fill="#0072ff"/>
<rect x="1066.99" y="336.69" width="5.93" height="5.89" fill="#0030ff"/>
<rect x="948.79" y="342.28" width="5.93" height="5.89" fill="#f85a4a"/>
<rect x="971.31" y="342.28" width="5.93" height="5.89" fill="#ffe800"/>
<rect x="976.94" y="342.28" width="5.93" height="5.89" fill="#ffe800"/>
<rect x="982.56" y="342.28" width="5.93" height="5.89" fill="#f85a4a"/>
<rect x="1033.22" y="342.28" width="5.93" height="5.89" fill="#f85a4a"/>
<rect x="1050.10" y="342.28" width="5.93" height="5.89" fill="#f85a4a"/>
<rect x="982.56" y="347.87" width="5.93" height="5.89" fill="#0030ff"/>
<rect x="1044.47" y="347.87" width="5.93" height="5.89" fill="#f85a4a"/>
<rect x="931.91" y="353.46" width="5.93" height="5.89" fill="#ffb020"/>
<rect x="943.17" y="353.46" width="5.93" height="5.89" fill="#ffff8c"/>
<rect x="1005.08" y="353.46" width="5.93" height="5.89" fill="#ff8838"/>
<rect x="943.17" y="359.05" width="5.93" height="5.89" fill="#ffe800"/>
<rect x="915.03" y="364.64" width="5.93" height="5.89" fill="#f85a4a"/>
<rect x="931.91" y="364.64" width="5.93" height="5.89" fill="#ffff8c"/>
<rect x="960.05" y="364.64" width="5.93" height="5.89" fill="#0030ff"/>
<rect x="1033.22" y="364.64" width="5.93" height="5.89" fill="#0030ff"/>
<rect x="1038.85" y="364.64" width="5.93" height="5.89" fill="#0030ff"/>
<rect x="937.54" y="370.23" width="5.93" height="5.89" fill="#ffb020"/>
<rect x="960.05" y="370.23" width="5.93" height="5.89" fill="#0030ff"/>
<rect x="988.19" y="370.23" width="5.93" height="5.89" fill="#ffe800"/>
<rect x="993.82" y="370.23" width="5.93" height="5.89" fill="#0030ff"/>
<rect x="1083.87" y="370.23" width="5.93" height="5.89" fill="#f85a4a"/>
<rect x="892.51" y="375.82" width="5.93" height="5.89" fill="#0030ff"/>
<rect x="937.54" y="375.82" width="5.93" height="5.89" fill="#ffb020"/>
<rect x="988.19" y="375.82" width="5.93" height="5.89" fill="#ffff8c"/>
<rect x="1083.87" y="375.82" width="5.93" height="5.89" fill="#ffb020"/>
<rect x="937.54" y="381.41" width="5.93" height="5.89" fill="#ffe800"/>
<rect x="1027.59" y="381.41" width="5.93" height="5.89" fill="#0072ff"/>
<rect x="1072.62" y="381.41" width="5.93" height="5.89" fill="#f85a4a"/>
<rect x="1078.24" y="381.41" width="5.93" height="5.89" fill="#ffb020"/>
<rect x="870.00" y="387.00" width="5.93" height="5.89" fill="#00c4ff"/>
<rect x="1089.50" y="169.00" width="5.93" height="5.89" fill="#b0dcf4"/>
<rect x="875.63" y="387.00" width="5.93" height="5.89" fill="#0030ff"/>
<rect x="1089.50" y="174.59" width="5.93" height="5.89" fill="#a9b8f6"/>
<rect x="892.51" y="387.00" width="5.93" height="5.89" fill="#0030ff"/>
<rect x="1089.50" y="191.36" width="5.93" height="5.89" fill="#a9b8f6"/>
<rect x="903.77" y="387.00" width="5.93" height="5.89" fill="#0030ff"/>
<rect x="1089.50" y="202.54" width="5.93" height="5.89" fill="#a9b8f6"/>
<rect x="870.00" y="392.59" width="5.93" height="5.89" fill="#00c4ff"/>
<rect x="1095.13" y="169.00" width="5.93" height="5.89" fill="#b0dcf4"/>
<rect x="875.63" y="392.59" width="5.93" height="5.89" fill="#00c4ff"/>
<rect x="1095.13" y="174.59" width="5.93" height="5.89" fill="#b0dcf4"/>
<rect x="886.88" y="392.59" width="5.93" height="5.89" fill="#0072ff"/>
<rect x="1095.13" y="185.77" width="5.93" height="5.89" fill="#acc8f6"/>
<rect x="892.51" y="392.59" width="5.93" height="5.89" fill="#0072ff"/>
<rect x="1095.13" y="191.36" width="5.93" height="5.89" fill="#acc8f6"/>
<rect x="915.03" y="392.59" width="5.93" height="5.89" fill="#0030ff"/>
<rect x="1095.13" y="213.72" width="5.93" height="5.89" fill="#a9b8f6"/>
<rect x="920.65" y="392.59" width="5.93" height="5.89" fill="#0030ff"/>
<rect x="1095.13" y="219.31" width="5.93" height="5.89" fill="#a9b8f6"/>
<rect x="926.28" y="392.59" width="5.93" height="5.89" fill="#0030ff"/>
<rect x="1095.13" y="224.90" width="5.93" height="5.89" fill="#a9b8f6"/>
<rect x="960.05" y="398.18" width="5.93" height="5.89" fill="#0030ff"/>
<rect x="1100.76" y="258.44" width="5.93" height="5.89" fill="#a9b8f6"/>
<rect x="988.19" y="398.18" width="5.93" height="5.89" fill="#0030ff"/>
<rect x="1100.76" y="286.38" width="5.93" height="5.89" fill="#a9b8f6"/>
<rect x="1016.33" y="398.18" width="5.93" height="5.89" fill="#0030ff"/>
<rect x="1100.76" y="314.33" width="5.93" height="5.89" fill="#a9b8f6"/>
<rect x="1033.22" y="398.18" width="5.93" height="5.89" fill="#0030ff"/>
<rect x="1100.76" y="331.10" width="5.93" height="5.89" fill="#a9b8f6"/>
<rect x="1072.62" y="398.18" width="5.93" height="5.89" fill="#0030ff"/>
<rect x="1100.76" y="370.23" width="5.93" height="5.89" fill="#a9b8f6"/>
<rect x="926.28" y="403.77" width="5.93" height="5.89" fill="#0030ff"/>
<rect x="1106.38" y="224.90" width="5.93" height="5.89" fill="#a9b8f6"/>
<rect x="870.00" y="409.36" width="5.93" height="5.89" fill="#0030ff"/>
<rect x="1112.01" y="169.00" width="5.93" height="5.89" fill="#a9b8f6"/>
<rect x="903.77" y="409.36" width="5.93" height="5.89" fill="#0030ff"/>
<rect x="1112.01" y="202.54" width="5.93" height="5.89" fill="#a9b8f6"/>
<rect x="903.77" y="414.95" width="5.93" height="5.89" fill="#0072ff"/>
<rect x="1117.64" y="202.54" width="5.93" height="5.89" fill="#acc8f6"/>
<rect x="1072.62" y="414.95" width="5.93" height="5.89" fill="#ff8838"/>
<rect x="1117.64" y="370.23" width="5.93" height="5.89" fill="#f6d0b4"/>
<rect x="903.77" y="420.54" width="5.93" height="5.89" fill="#f85a4a"/>
<rect x="1123.27" y="202.54" width="5.93" height="5.89" fill="#f4c0b8"/>
<rect x="926.28" y="426.13" width="5.93" height="5.89" fill="#0030ff"/>
<rect x="1128.90" y="224.90" width="5.93" height="5.89" fill="#a9b8f6"/>
<rect x="870.00" y="437.31" width="5.93" height="5.89" fill="#ff8838"/>
<rect x="1140.15" y="169.00" width="5.93" height="5.89" fill="#f6d0b4"/>
<rect x="915.03" y="437.31" width="5.93" height="5.89" fill="#0030ff"/>
<rect x="1140.15" y="213.72" width="5.93" height="5.89" fill="#a9b8f6"/>
<rect x="920.65" y="437.31" width="5.93" height="5.89" fill="#0072ff"/>
<rect x="1140.15" y="219.31" width="5.93" height="5.89" fill="#acc8f6"/>
<rect x="926.28" y="437.31" width="5.93" height="5.89" fill="#0072ff"/>
<rect x="1140.15" y="224.90" width="5.93" height="5.89" fill="#acc8f6"/>
<rect x="870.00" y="442.90" width="5.93" height="5.89" fill="#ffb020"/>
<rect x="1145.78" y="169.00" width="5.93" height="5.89" fill="#f6dcb0"/>
<rect x="926.28" y="442.90" width="5.93" height="5.89" fill="#0072ff"/>
<rect x="1145.78" y="224.90" width="5.93" height="5.89" fill="#acc8f6"/>
<rect x="988.19" y="454.08" width="5.93" height="5.89" fill="#ffe800"/>
<rect x="1157.04" y="286.38" width="5.93" height="5.89" fill="#f6eeb0"/>
<rect x="943.17" y="459.67" width="5.93" height="5.89" fill="#0072ff"/>
<rect x="1162.67" y="241.67" width="5.93" height="5.89" fill="#acc8f6"/>
<rect x="943.17" y="476.44" width="5.93" height="5.89" fill="#0030ff"/>
<rect x="1179.55" y="241.67" width="5.93" height="5.89" fill="#a9b8f6"/>
<rect x="960.05" y="476.44" width="5.93" height="5.89" fill="#0030ff"/>
<rect x="1179.55" y="258.44" width="5.93" height="5.89" fill="#a9b8f6"/>
<rect x="1010.71" y="476.44" width="5.93" height="5.89" fill="#0030ff"/>
<rect x="1179.55" y="308.74" width="5.93" height="5.89" fill="#a9b8f6"/>
<rect x="1016.33" y="476.44" width="5.93" height="5.89" fill="#0030ff"/>
<rect x="1179.55" y="314.33" width="5.93" height="5.89" fill="#a9b8f6"/>
<rect x="1033.22" y="476.44" width="5.93" height="5.89" fill="#0030ff"/>
<rect x="1179.55" y="331.10" width="5.93" height="5.89" fill="#a9b8f6"/>
<rect x="1038.85" y="476.44" width="5.93" height="5.89" fill="#0072ff"/>
<rect x="1179.55" y="336.69" width="5.93" height="5.89" fill="#acc8f6"/>
<rect x="965.68" y="482.03" width="5.93" height="5.89" fill="#ff8838"/>
<rect x="1185.18" y="264.03" width="5.93" height="5.89" fill="#f6d0b4"/>
<rect x="982.56" y="482.03" width="5.93" height="5.89" fill="#ff8838"/>
<rect x="1185.18" y="280.79" width="5.93" height="5.89" fill="#f6d0b4"/>
<rect x="948.79" y="487.62" width="5.93" height="5.89" fill="#ffe800"/>
<rect x="1190.81" y="247.26" width="5.93" height="5.89" fill="#f6eeb0"/>
<rect x="954.42" y="487.62" width="5.93" height="5.89" fill="#ffe800"/>
<rect x="1190.81" y="252.85" width="5.93" height="5.89" fill="#f6eeb0"/>
<rect x="988.19" y="504.38" width="5.93" height="5.89" fill="#0072ff"/>
<rect x="1207.69" y="286.38" width="5.93" height="5.89" fill="#acc8f6"/>
<rect x="1005.08" y="509.97" width="5.93" height="5.89" fill="#0030ff"/>
<rect x="1213.32" y="303.15" width="5.93" height="5.89" fill="#a9b8f6"/>
<rect x="971.31" y="515.56" width="5.93" height="5.89" fill="#0030ff"/>
<rect x="1218.95" y="269.62" width="5.93" height="5.89" fill="#a9b8f6"/>
<rect x="976.94" y="515.56" width="5.93" height="5.89" fill="#0030ff"/>
<rect x="1218.95" y="275.21" width="5.93" height="5.89" fill="#a9b8f6"/>
<rect x="1005.08" y="515.56" width="5.93" height="5.89" fill="#0030ff"/>
<rect x="1218.95" y="303.15" width="5.93" height="5.89" fill="#a9b8f6"/>
<rect x="1016.33" y="515.56" width="5.93" height="5.89" fill="#ffb020"/>
<rect x="1218.95" y="314.33" width="5.93" height="5.89" fill="#f6dcb0"/>
<rect x="988.19" y="526.74" width="5.93" height="5.89" fill="#0030ff"/>
<rect x="1230.21" y="286.38" width="5.93" height="5.89" fill="#a9b8f6"/>
<rect x="1016.33" y="526.74" width="5.93" height="5.89" fill="#0030ff"/>
<rect x="1230.21" y="314.33" width="5.93" height="5.89" fill="#a9b8f6"/>
<rect x="988.19" y="532.33" width="5.93" height="5.89" fill="#0030ff"/>
<rect x="1235.83" y="286.38" width="5.93" height="5.89" fill="#a9b8f6"/>
<rect x="1016.33" y="532.33" width="5.93" height="5.89" fill="#00c4ff"/>
<rect x="1235.83" y="314.33" width="5.93" height="5.89" fill="#b0dcf4"/>
<rect x="1027.59" y="543.51" width="5.93" height="5.89" fill="#0030ff"/>
<rect x="1247.09" y="325.51" width="5.93" height="5.89" fill="#a9b8f6"/>
<rect x="1083.87" y="543.51" width="5.93" height="5.89" fill="#0030ff"/>
<rect x="1247.09" y="381.41" width="5.93" height="5.89" fill="#a9b8f6"/>
<rect x="1038.85" y="549.10" width="5.93" height="5.89" fill="#0030ff"/>
<rect x="1252.72" y="336.69" width="5.93" height="5.89" fill="#a9b8f6"/>
<rect x="1055.73" y="549.10" width="5.93" height="5.89" fill="#0030ff"/>
<rect x="1252.72" y="353.46" width="5.93" height="5.89" fill="#a9b8f6"/>
<rect x="943.17" y="554.69" width="5.93" height="5.89" fill="#0030ff"/>
<rect x="1258.35" y="241.67" width="5.93" height="5.89" fill="#a9b8f6"/>
<rect x="960.05" y="554.69" width="5.93" height="5.89" fill="#0072ff"/>
<rect x="1258.35" y="258.44" width="5.93" height="5.89" fill="#acc8f6"/>
<rect x="982.56" y="554.69" width="5.93" height="5.89" fill="#0030ff"/>
<rect x="1258.35" y="280.79" width="5.93" height="5.89" fill="#a9b8f6"/>
<rect x="1027.59" y="565.87" width="5.93" height="5.89" fill="#0030ff"/>
<rect x="1269.60" y="325.51" width="5.93" height="5.89" fill="#a9b8f6"/>
<rect x="1050.10" y="565.87" width="5.93" height="5.89" fill="#0030ff"/>
<rect x="1269.60" y="347.87" width="5.93" height="5.89" fill="#a9b8f6"/>
<rect x="1050.10" y="577.05" width="5.93" height="5.89" fill="#0030ff"/>
<rect x="1280.86" y="347.87" width="5.93" height="5.89" fill="#a9b8f6"/>
<rect x="937.54" y="582.64" width="5.93" height="5.89" fill="#ff8838"/>
<rect x="1286.49" y="236.08" width="5.93" height="5.89" fill="#f6d0b4"/>
<rect x="903.77" y="588.23" width="5.93" height="5.89" fill="#0030ff"/>
<rect x="1292.12" y="202.54" width="5.93" height="5.89" fill="#a9b8f6"/>
<rect x="937.54" y="588.23" width="5.93" height="5.89" fill="#ff8838"/>
<rect x="1292.12" y="236.08" width="5.93" height="5.89" fill="#f6d0b4"/>
<rect x="988.19" y="588.23" width="5.93" height="5.89" fill="#ffb020"/>
<rect x="1292.12" y="286.38" width="5.93" height="5.89" fill="#f6dcb0"/>
<rect x="993.82" y="588.23" width="5.93" height="5.89" fill="#0030ff"/>
<rect x="1292.12" y="291.97" width="5.93" height="5.89" fill="#a9b8f6"/>
<rect x="1083.87" y="588.23" width="5.93" height="5.89" fill="#0030ff"/>
<rect x="1292.12" y="381.41" width="5.93" height="5.89" fill="#a9b8f6"/>
<rect x="993.82" y="593.82" width="5.93" height="5.89" fill="#0072ff"/>
<rect x="1297.74" y="291.97" width="5.93" height="5.89" fill="#acc8f6"/>
<rect x="1078.24" y="593.82" width="5.93" height="5.89" fill="#f85a4a"/>
<rect x="1297.74" y="375.82" width="5.93" height="5.89" fill="#f4c0b8"/>
<rect x="1083.87" y="593.82" width="5.93" height="5.89" fill="#ffb020"/>
<rect x="1297.74" y="381.41" width="5.93" height="5.89" fill="#f6dcb0"/>
<rect x="1100.76" y="387.00" width="5.93" height="5.89" fill="#ffe800"/>
<rect x="1128.90" y="387.00" width="5.93" height="5.89" fill="#ff8838"/>
<rect x="1179.55" y="387.00" width="5.93" height="5.89" fill="#ffb020"/>
<rect x="1185.18" y="387.00" width="5.93" height="5.89" fill="#0030ff"/>
<rect x="1100.76" y="392.59" width="5.93" height="5.89" fill="#ffe800"/>
<rect x="1106.38" y="392.59" width="5.93" height="5.89" fill="#ffe800"/>
<rect x="1196.44" y="392.59" width="5.93" height="5.89" fill="#ff8838"/>
<rect x="1089.50" y="398.18" width="5.93" height="5.89" fill="#ffe800"/>
<rect x="1095.13" y="398.18" width="5.93" height="5.89" fill="#ffe800"/>
<rect x="1179.55" y="398.18" width="5.93" height="5.89" fill="#0072ff"/>
<rect x="1280.86" y="398.18" width="5.93" height="5.89" fill="#0030ff"/>
<rect x="1095.13" y="403.77" width="5.93" height="5.89" fill="#ffe800"/>
<rect x="1269.60" y="403.77" width="5.93" height="5.89" fill="#0030ff"/>
<rect x="1134.53" y="409.36" width="5.93" height="5.89" fill="#f85a4a"/>
<rect x="1151.41" y="409.36" width="5.93" height="5.89" fill="#ffe800"/>
<rect x="1185.18" y="409.36" width="5.93" height="5.89" fill="#0030ff"/>
<rect x="1213.32" y="409.36" width="5.93" height="5.89" fill="#0030ff"/>
<rect x="1286.49" y="409.36" width="5.93" height="5.89" fill="#ffe800"/>
<rect x="1185.18" y="414.95" width="5.93" height="5.89" fill="#0030ff"/>
<rect x="1089.50" y="426.13" width="5.93" height="5.89" fill="#ff8838"/>
<rect x="1134.53" y="426.13" width="5.93" height="5.89" fill="#ffe800"/>
<rect x="1151.41" y="426.13" width="5.93" height="5.89" fill="#f85a4a"/>
<rect x="1157.04" y="426.13" width="5.93" height="5.89" fill="#f85a4a"/>
<rect x="1112.01" y="431.72" width="5.93" height="5.89" fill="#f85a4a"/>
<rect x="1128.90" y="431.72" width="5.93" height="5.89" fill="#ffe800"/>
<rect x="1151.41" y="431.72" width="5.93" height="5.89" fill="#ff8838"/>
<rect x="1157.04" y="431.72" width="5.93" height="5.89" fill="#ffb020"/>
<rect x="1145.78" y="437.31" width="5.93" height="5.89" fill="#ff8838"/>
<rect x="1235.83" y="437.31" width="5.93" height="5.89" fill="#ff8838"/>
<rect x="1140.15" y="442.90" width="5.93" height="5.89" fill="#ff8838"/>
<rect x="1112.01" y="448.49" width="5.93" height="5.89" fill="#ffe800"/>
<rect x="1128.90" y="448.49" width="5.93" height="5.89" fill="#f85a4a"/>
<rect x="1134.53" y="448.49" width="5.93" height="5.89" fill="#ff8838"/>
<rect x="1157.04" y="448.49" width="5.93" height="5.89" fill="#ffe800"/>
<rect x="1286.49" y="448.49" width="5.93" height="5.89" fill="#f85a4a"/>
<rect x="1292.12" y="448.49" width="5.93" height="5.89" fill="#ff8838"/>
<rect x="1128.90" y="454.08" width="5.93" height="5.89" fill="#f85a4a"/>
<rect x="1134.53" y="454.08" width="5.93" height="5.89" fill="#ffb020"/>
<rect x="1151.41" y="454.08" width="5.93" height="5.89" fill="#ffe800"/>
<rect x="1179.55" y="454.08" width="5.93" height="5.89" fill="#0030ff"/>
<rect x="1286.49" y="454.08" width="5.93" height="5.89" fill="#ffe800"/>
<rect x="1292.12" y="454.08" width="5.93" height="5.89" fill="#ffb020"/>
<rect x="1297.74" y="454.08" width="5.93" height="5.89" fill="#ffb020"/>
<rect x="1179.55" y="459.67" width="5.93" height="5.89" fill="#0072ff"/>
<rect x="1286.49" y="465.26" width="5.93" height="5.89" fill="#0072ff"/>
<rect x="1185.18" y="470.85" width="5.93" height="5.89" fill="#ffe800"/>
<rect x="1190.81" y="470.85" width="5.93" height="5.89" fill="#f85a4a"/>
<rect x="1235.83" y="470.85" width="5.93" height="5.89" fill="#0030ff"/>
<rect x="1280.86" y="470.85" width="5.93" height="5.89" fill="#0030ff"/>
<rect x="1089.50" y="476.44" width="5.93" height="5.89" fill="#ffb020"/>
<rect x="1100.76" y="476.44" width="5.93" height="5.89" fill="#0072ff"/>
<rect x="1157.04" y="476.44" width="5.93" height="5.89" fill="#0030ff"/>
<rect x="1162.67" y="476.44" width="5.93" height="5.89" fill="#0072ff"/>
<rect x="1202.06" y="476.44" width="5.93" height="5.89" fill="#ffff8c"/>
<rect x="1263.97" y="476.44" width="5.93" height="5.89" fill="#ffe800"/>
<rect x="1089.50" y="482.03" width="5.93" height="5.89" fill="#0072ff"/>
<rect x="1112.01" y="482.03" width="5.93" height="5.89" fill="#0030ff"/>
<rect x="1117.64" y="482.03" width="5.93" height="5.89" fill="#0030ff"/>
<rect x="1173.92" y="482.03" width="5.93" height="5.89" fill="#ffe800"/>
<rect x="1190.81" y="482.03" width="5.93" height="5.89" fill="#f85a4a"/>
<rect x="1207.69" y="482.03" width="5.93" height="5.89" fill="#ff8838"/>
<rect x="1230.21" y="482.03" width="5.93" height="5.89" fill="#ffb020"/>
<rect x="1286.49" y="482.03" width="5.93" height="5.89" fill="#0030ff"/>
<rect x="1173.92" y="487.62" width="5.93" height="5.89" fill="#f85a4a"/>
<rect x="1185.18" y="487.62" width="5.93" height="5.89" fill="#f85a4a"/>
<rect x="1196.44" y="487.62" width="5.93" height="5.89" fill="#f85a4a"/>
<rect x="1202.06" y="487.62" width="5.93" height="5.89" fill="#0072ff"/>
<rect x="1095.13" y="493.21" width="5.93" height="5.89" fill="#ff8838"/>
<rect x="1190.81" y="493.21" width="5.93" height="5.89" fill="#f85a4a"/>
<rect x="1224.58" y="493.21" width="5.93" height="5.89" fill="#0030ff"/>
<rect x="1179.55" y="498.79" width="5.93" height="5.89" fill="#ffff8c"/>
<rect x="1190.81" y="498.79" width="5.93" height="5.89" fill="#0072ff"/>
<rect x="1252.72" y="498.79" width="5.93" height="5.89" fill="#ff8838"/>
<rect x="1263.97" y="498.79" width="5.93" height="5.89" fill="#ffff8c"/>
<rect x="1185.18" y="504.38" width="5.93" height="5.89" fill="#ff8838"/>
<rect x="1112.01" y="509.97" width="5.93" height="5.89" fill="#0030ff"/>
<rect x="1241.46" y="515.56" width="5.93" height="5.89" fill="#ffe800"/>
<rect x="1196.44" y="521.15" width="5.93" height="5.89" fill="#0030ff"/>
<rect x="1235.83" y="521.15" width="5.93" height="5.89" fill="#ffb020"/>
<rect x="1241.46" y="521.15" width="5.93" height="5.89" fill="#ffe800"/>
<rect x="1185.18" y="526.74" width="5.93" height="5.89" fill="#ffb020"/>
<rect x="1235.83" y="526.74" width="5.93" height="5.89" fill="#0030ff"/>
<rect x="1140.15" y="532.33" width="5.93" height="5.89" fill="#ff8838"/>
<rect x="1173.92" y="532.33" width="5.93" height="5.89" fill="#0030ff"/>
<rect x="1224.58" y="532.33" width="5.93" height="5.89" fill="#ffb020"/>
<rect x="1230.21" y="532.33" width="5.93" height="5.89" fill="#0030ff"/>
<rect x="1247.09" y="532.33" width="5.93" height="5.89" fill="#ffe800"/>
<rect x="1218.95" y="537.92" width="5.93" height="5.89" fill="#ffe800"/>
<rect x="1224.58" y="537.92" width="5.93" height="5.89" fill="#ffe800"/>
<rect x="1247.09" y="537.92" width="5.93" height="5.89" fill="#ffff8c"/>
<rect x="1286.49" y="537.92" width="5.93" height="5.89" fill="#ff8838"/>
<rect x="1303.37" y="537.92" width="5.93" height="5.89" fill="#0030ff"/>
<rect x="1235.83" y="543.51" width="5.93" height="5.89" fill="#ffe800"/>
<rect x="1241.46" y="543.51" width="5.93" height="5.89" fill="#ffff8c"/>
<rect x="1303.37" y="543.51" width="5.93" height="5.89" fill="#0030ff"/>
<rect x="1202.06" y="549.10" width="5.93" height="5.89" fill="#ff8838"/>
<rect x="1263.97" y="549.10" width="5.93" height="5.89" fill="#ffb020"/>
<rect x="1269.60" y="549.10" width="5.93" height="5.89" fill="#0030ff"/>
<rect x="1275.23" y="549.10" width="5.93" height="5.89" fill="#0072ff"/>
<rect x="1179.55" y="560.28" width="5.93" height="5.89" fill="#ffe800"/>
<rect x="1202.06" y="560.28" width="5.93" height="5.89" fill="#ffff8c"/>
<rect x="1252.72" y="560.28" width="5.93" height="5.89" fill="#ffb020"/>
<rect x="1269.60" y="560.28" width="5.93" height="5.89" fill="#0030ff"/>
<rect x="1106.38" y="565.87" width="5.93" height="5.89" fill="#0030ff"/>
<rect x="1252.72" y="565.87" width="5.93" height="5.89" fill="#0030ff"/>
<rect x="1263.97" y="565.87" width="5.93" height="5.89" fill="#0030ff"/>
<rect x="1303.37" y="565.87" width="5.93" height="5.89" fill="#0030ff"/>
<rect x="1252.72" y="571.46" width="5.93" height="5.89" fill="#0072ff"/>
<rect x="1100.76" y="577.05" width="5.93" height="5.89" fill="#0030ff"/>
<rect x="1173.92" y="577.05" width="5.93" height="5.89" fill="#0030ff"/>
<rect x="1112.01" y="582.64" width="5.93" height="5.89" fill="#ffe800"/>
<rect x="1151.41" y="582.64" width="5.93" height="5.89" fill="#f85a4a"/>
<rect x="1157.04" y="582.64" width="5.93" height="5.89" fill="#ffe800"/>
<rect x="1168.29" y="582.64" width="5.93" height="5.89" fill="#0030ff"/>
<rect x="1185.18" y="582.64" width="5.93" height="5.89" fill="#0030ff"/>
<rect x="1241.46" y="582.64" width="5.93" height="5.89" fill="#ff8838"/>
<rect x="1292.12" y="582.64" width="5.93" height="5.89" fill="#ffff8c"/>
<rect x="1297.74" y="582.64" width="5.93" height="5.89" fill="#ff8838"/>
<rect x="1151.41" y="588.23" width="5.93" height="5.89" fill="#ff8838"/>
<rect x="1157.04" y="588.23" width="5.93" height="5.89" fill="#ffb020"/>
<rect x="1286.49" y="588.23" width="5.93" height="5.89" fill="#ffff8c"/>
<rect x="1297.74" y="588.23" width="5.93" height="5.89" fill="#f85a4a"/>
<rect x="1303.37" y="588.23" width="5.93" height="5.89" fill="#0072ff"/>
<rect x="1157.04" y="593.82" width="5.93" height="5.89" fill="#ffb020"/>
<rect x="1286.49" y="593.82" width="5.93" height="5.89" fill="#ff8838"/>
<rect x="1292.12" y="593.82" width="5.93" height="5.89" fill="#f85a4a"/>
<rect x="1241.46" y="599.41" width="5.93" height="5.89" fill="#0030ff"/>
<rect x="1247.09" y="599.41" width="5.93" height="5.89" fill="#0030ff"/>
<rect x="1269.60" y="599.41" width="5.93" height="5.89" fill="#0030ff"/>
<rect x="1292.12" y="599.41" width="5.93" height="5.89" fill="#0030ff"/>
<rect x="942.42" y="169" width="1.5" height="436" fill="#f2f1ec" opacity="0.9"/>
<rect x="870" y="240.92" width="439" height="1.5" fill="#f2f1ec" opacity="0.9"/>
<rect x="964.93" y="169" width="1.5" height="436" fill="#f2f1ec" opacity="0.9"/>
<rect x="870" y="263.28" width="439" height="1.5" fill="#f2f1ec" opacity="0.9"/>
<rect x="993.07" y="169" width="1.5" height="436" fill="#f2f1ec" opacity="0.9"/>
<rect x="870" y="291.22" width="439" height="1.5" fill="#f2f1ec" opacity="0.9"/>
<rect x="1032.47" y="169" width="1.5" height="436" fill="#f2f1ec" opacity="0.9"/>
<rect x="870" y="330.35" width="439" height="1.5" fill="#f2f1ec" opacity="0.9"/>
<rect x="1054.98" y="169" width="1.5" height="436" fill="#f2f1ec" opacity="0.9"/>
<rect x="870" y="352.71" width="439" height="1.5" fill="#f2f1ec" opacity="0.9"/>
<rect x="1088.25" y="169" width="2.5" height="436" fill="#f2f1ec" opacity="0.9"/>
<rect x="870" y="385.75" width="439" height="2.5" fill="#f2f1ec" opacity="0.9"/>
<rect x="1161.92" y="169" width="1.5" height="436" fill="#f2f1ec" opacity="0.9"/>
<rect x="870" y="458.92" width="439" height="1.5" fill="#f2f1ec" opacity="0.9"/>
<rect x="1184.43" y="169" width="1.5" height="436" fill="#f2f1ec" opacity="0.9"/>
<rect x="870" y="481.28" width="439" height="1.5" fill="#f2f1ec" opacity="0.9"/>
<rect x="1212.57" y="169" width="1.5" height="436" fill="#f2f1ec" opacity="0.9"/>
<rect x="870" y="509.22" width="439" height="1.5" fill="#f2f1ec" opacity="0.9"/>
<rect x="1251.97" y="169" width="1.5" height="436" fill="#f2f1ec" opacity="0.9"/>
<rect x="870" y="548.35" width="439" height="1.5" fill="#f2f1ec" opacity="0.9"/>
<rect x="1274.48" y="169" width="1.5" height="436" fill="#f2f1ec" opacity="0.9"/>
<rect x="870" y="570.71" width="439" height="1.5" fill="#f2f1ec" opacity="0.9"/>
<rect x="869" y="168" width="2" height="438" fill="#6e6b66"/>
<rect x="869" y="604" width="441" height="2.5" fill="#6e6b66"/>
<rect x="869" y="168" width="220.50" height="2" fill="#6e6b66"/>
<rect x="1089.50" y="168" width="219.50" height="2" fill="#cfcfcd"/>
<rect x="1308" y="169" width="2" height="218.00" fill="#cfcfcd"/>
<rect x="1308" y="387.00" width="2" height="218.00" fill="#6e6b66"/>
<rect x="869.00" y="140" width="73.57" height="19" fill="#7a0086"/>
<rect x="945.17" y="140" width="19.91" height="19" fill="#00a5d4"/>
<rect x="967.68" y="140" width="25.54" height="19" fill="#f5e000"/>
<rect x="995.82" y="140" width="36.80" height="19" fill="#00e600"/>
<rect x="1035.22" y="140" width="19.91" height="19" fill="#c9a8a8"/>
<rect x="1057.73" y="140" width="31.17" height="19" fill="#cc0000"/>
<rect x="1091.50" y="140" width="70.57" height="19" fill="#7a0086"/>
<rect x="1164.67" y="140" width="19.91" height="19" fill="#00a5d4"/>
<rect x="1187.18" y="140" width="25.54" height="19" fill="#f5e000"/>
<rect x="1215.32" y="140" width="36.80" height="19" fill="#00e600"/>
<rect x="1254.72" y="140" width="19.91" height="19" fill="#c9a8a8"/>
<rect x="1277.23" y="140" width="31.17" height="19" fill="#cc0000"/>
<rect x="869.00" y="159" width="1.8" height="10" fill="#707070"/>
<rect x="942.17" y="159" width="1.8" height="10" fill="#707070"/>
<rect x="964.68" y="159" width="1.8" height="10" fill="#707070"/>
<rect x="992.82" y="159" width="1.8" height="10" fill="#707070"/>
<rect x="1032.22" y="159" width="1.8" height="10" fill="#707070"/>
<rect x="1054.73" y="159" width="1.8" height="10" fill="#707070"/>
<rect x="1088.50" y="159" width="1.8" height="10" fill="#707070"/>
<rect x="1161.67" y="159" width="1.8" height="10" fill="#707070"/>
<rect x="1184.18" y="159" width="1.8" height="10" fill="#707070"/>
<rect x="1212.32" y="159" width="1.8" height="10" fill="#707070"/>
<rect x="1251.72" y="159" width="1.8" height="10" fill="#707070"/>
<rect x="1274.23" y="159" width="1.8" height="10" fill="#707070"/>
<rect x="1308.00" y="159" width="1.8" height="10" fill="#707070"/>
<rect x="1308" y="154" width="2" height="15" fill="#8a8a8a"/>
<rect x="855" y="168.00" width="15" height="1.8" fill="#707070"/>
<rect x="855" y="240.67" width="15" height="1.8" fill="#707070"/>
<rect x="855" y="263.03" width="15" height="1.8" fill="#707070"/>
<rect x="855" y="290.97" width="15" height="1.8" fill="#707070"/>
<rect x="855" y="330.10" width="15" height="1.8" fill="#707070"/>
<rect x="855" y="352.46" width="15" height="1.8" fill="#707070"/>
<rect x="855" y="386.00" width="15" height="1.8" fill="#707070"/>
<rect x="855" y="458.67" width="15" height="1.8" fill="#707070"/>
<rect x="855" y="481.03" width="15" height="1.8" fill="#707070"/>
<rect x="855" y="508.97" width="15" height="1.8" fill="#707070"/>
<rect x="855" y="548.10" width="15" height="1.8" fill="#707070"/>
<rect x="855" y="570.46" width="15" height="1.8" fill="#707070"/>
<rect x="855" y="604.00" width="15" height="1.8" fill="#707070"/>
<rect x="1406" y="169" width="439" height="436" fill="#d6d1ca"/>
<rect x="1625.50" y="169" width="219.50" height="218.00" fill="#f1f0ee"/>
<rect x="1434.14" y="169.00" width="5.93" height="5.89" fill="#ff8838"/>
<rect x="1439.77" y="169.00" width="5.93" height="5.89" fill="#ff8838"/>
<rect x="1456.65" y="169.00" width="5.93" height="5.89" fill="#ffffff"/>
<rect x="1507.31" y="169.00" width="5.93" height="5.89" fill="#f85a4a"/>
<rect x="1512.94" y="169.00" width="5.93" height="5.89" fill="#ffe800"/>
<rect x="1586.10" y="169.00" width="5.93" height="5.89" fill="#ffb020"/>
<rect x="1434.14" y="174.59" width="5.93" height="5.89" fill="#ffe800"/>
<rect x="1456.65" y="174.59" width="5.93" height="5.89" fill="#ff8838"/>
<rect x="1462.28" y="174.59" width="5.93" height="5.89" fill="#ffffff"/>
<rect x="1490.42" y="174.59" width="5.93" height="5.89" fill="#0072ff"/>
<rect x="1512.94" y="174.59" width="5.93" height="5.89" fill="#f85a4a"/>
<rect x="1569.22" y="174.59" width="5.93" height="5.89" fill="#f85a4a"/>
<rect x="1580.47" y="174.59" width="5.93" height="5.89" fill="#f85a4a"/>
<rect x="1586.10" y="174.59" width="5.93" height="5.89" fill="#f85a4a"/>
<rect x="1422.88" y="180.18" width="5.93" height="5.89" fill="#ff8838"/>
<rect x="1479.17" y="180.18" width="5.93" height="5.89" fill="#ffb020"/>
<rect x="1484.79" y="180.18" width="5.93" height="5.89" fill="#f85a4a"/>
<rect x="1490.42" y="180.18" width="5.93" height="5.89" fill="#f85a4a"/>
<rect x="1518.56" y="180.18" width="5.93" height="5.89" fill="#f85a4a"/>
<rect x="1569.22" y="180.18" width="5.93" height="5.89" fill="#0030ff"/>
<rect x="1574.85" y="180.18" width="5.93" height="5.89" fill="#ff8838"/>
<rect x="1417.26" y="185.77" width="5.93" height="5.89" fill="#ff8838"/>
<rect x="1462.28" y="185.77" width="5.93" height="5.89" fill="#ffe800"/>
<rect x="1507.31" y="185.77" width="5.93" height="5.89" fill="#0072ff"/>
<rect x="1569.22" y="185.77" width="5.93" height="5.89" fill="#f85a4a"/>
<rect x="1434.14" y="191.36" width="5.93" height="5.89" fill="#0030ff"/>
<rect x="1602.99" y="191.36" width="5.93" height="5.89" fill="#ffff8c"/>
<rect x="1614.24" y="191.36" width="5.93" height="5.89" fill="#0030ff"/>
<rect x="1406.00" y="196.95" width="5.93" height="5.89" fill="#ff8838"/>
<rect x="1411.63" y="196.95" width="5.93" height="5.89" fill="#ffe800"/>
<rect x="1428.51" y="196.95" width="5.93" height="5.89" fill="#0030ff"/>
<rect x="1439.77" y="196.95" width="5.93" height="5.89" fill="#f85a4a"/>
<rect x="1456.65" y="196.95" width="5.93" height="5.89" fill="#ffe800"/>
<rect x="1507.31" y="196.95" width="5.93" height="5.89" fill="#ffb020"/>
<rect x="1586.10" y="196.95" width="5.93" height="5.89" fill="#ffe800"/>
<rect x="1591.73" y="196.95" width="5.93" height="5.89" fill="#ffff8c"/>
<rect x="1597.36" y="196.95" width="5.93" height="5.89" fill="#ffff8c"/>
<rect x="1614.24" y="196.95" width="5.93" height="5.89" fill="#0030ff"/>
<rect x="1406.00" y="202.54" width="5.93" height="5.89" fill="#ff8838"/>
<rect x="1434.14" y="202.54" width="5.93" height="5.89" fill="#f85a4a"/>
<rect x="1484.79" y="202.54" width="5.93" height="5.89" fill="#ffe800"/>
<rect x="1490.42" y="202.54" width="5.93" height="5.89" fill="#ffe800"/>
<rect x="1501.68" y="202.54" width="5.93" height="5.89" fill="#ffe800"/>
<rect x="1507.31" y="202.54" width="5.93" height="5.89" fill="#ffff8c"/>
<rect x="1496.05" y="208.13" width="5.93" height="5.89" fill="#0030ff"/>
<rect x="1552.33" y="208.13" width="5.93" height="5.89" fill="#ffe800"/>
<rect x="1569.22" y="208.13" width="5.93" height="5.89" fill="#0030ff"/>
<rect x="1574.85" y="208.13" width="5.93" height="5.89" fill="#0072ff"/>
<rect x="1406.00" y="219.31" width="5.93" height="5.89" fill="#ffffff"/>
<rect x="1411.63" y="219.31" width="5.93" height="5.89" fill="#ff8838"/>
<rect x="1434.14" y="219.31" width="5.93" height="5.89" fill="#ffe800"/>
<rect x="1462.28" y="219.31" width="5.93" height="5.89" fill="#f85a4a"/>
<rect x="1569.22" y="219.31" width="5.93" height="5.89" fill="#f85a4a"/>
<rect x="1586.10" y="219.31" width="5.93" height="5.89" fill="#ffe800"/>
<rect x="1411.63" y="224.90" width="5.93" height="5.89" fill="#ffffff"/>
<rect x="1422.88" y="224.90" width="5.93" height="5.89" fill="#ffe800"/>
<rect x="1456.65" y="224.90" width="5.93" height="5.89" fill="#f85a4a"/>
<rect x="1608.62" y="224.90" width="5.93" height="5.89" fill="#ffe800"/>
<rect x="1563.59" y="230.49" width="5.93" height="5.89" fill="#ffff8c"/>
<rect x="1557.96" y="236.08" width="5.93" height="5.89" fill="#ffe800"/>
<rect x="1563.59" y="236.08" width="5.93" height="5.89" fill="#ffff8c"/>
<rect x="1619.87" y="236.08" width="5.93" height="5.89" fill="#ffff8c"/>
<rect x="1417.26" y="241.67" width="5.93" height="5.89" fill="#ffb020"/>
<rect x="1496.05" y="241.67" width="5.93" height="5.89" fill="#ffe800"/>
<rect x="1518.56" y="241.67" width="5.93" height="5.89" fill="#ffff8c"/>
<rect x="1569.22" y="241.67" width="5.93" height="5.89" fill="#f85a4a"/>
<rect x="1574.85" y="241.67" width="5.93" height="5.89" fill="#ffb020"/>
<rect x="1417.26" y="247.26" width="5.93" height="5.89" fill="#f85a4a"/>
<rect x="1439.77" y="247.26" width="5.93" height="5.89" fill="#ffb020"/>
<rect x="1569.22" y="247.26" width="5.93" height="5.89" fill="#f85a4a"/>
<rect x="1411.63" y="252.85" width="5.93" height="5.89" fill="#0072ff"/>
<rect x="1417.26" y="252.85" width="5.93" height="5.89" fill="#f85a4a"/>
<rect x="1439.77" y="252.85" width="5.93" height="5.89" fill="#ffe800"/>
<rect x="1496.05" y="252.85" width="5.93" height="5.89" fill="#ffe800"/>
<rect x="1507.31" y="252.85" width="5.93" height="5.89" fill="#f85a4a"/>
<rect x="1512.94" y="252.85" width="5.93" height="5.89" fill="#0030ff"/>
<rect x="1518.56" y="252.85" width="5.93" height="5.89" fill="#ffb020"/>
<rect x="1445.40" y="258.44" width="5.93" height="5.89" fill="#0030ff"/>
<rect x="1479.17" y="258.44" width="5.93" height="5.89" fill="#ffe800"/>
<rect x="1490.42" y="258.44" width="5.93" height="5.89" fill="#ffe800"/>
<rect x="1518.56" y="258.44" width="5.93" height="5.89" fill="#ffe800"/>
<rect x="1569.22" y="258.44" width="5.93" height="5.89" fill="#0030ff"/>
<rect x="1574.85" y="258.44" width="5.93" height="5.89" fill="#ff8838"/>
<rect x="1602.99" y="258.44" width="5.93" height="5.89" fill="#0030ff"/>
<rect x="1608.62" y="258.44" width="5.93" height="5.89" fill="#0030ff"/>
<rect x="1439.77" y="264.03" width="5.93" height="5.89" fill="#ffe800"/>
<rect x="1512.94" y="264.03" width="5.93" height="5.89" fill="#ffe800"/>
<rect x="1529.82" y="264.03" width="5.93" height="5.89" fill="#0030ff"/>
<rect x="1406.00" y="269.62" width="5.93" height="5.89" fill="#f85a4a"/>
<rect x="1422.88" y="269.62" width="5.93" height="5.89" fill="#0072ff"/>
<rect x="1434.14" y="269.62" width="5.93" height="5.89" fill="#ffb020"/>
<rect x="1439.77" y="269.62" width="5.93" height="5.89" fill="#ffff8c"/>
<rect x="1490.42" y="269.62" width="5.93" height="5.89" fill="#f85a4a"/>
<rect x="1580.47" y="269.62" width="5.93" height="5.89" fill="#0030ff"/>
<rect x="1586.10" y="269.62" width="5.93" height="5.89" fill="#0030ff"/>
<rect x="1406.00" y="275.21" width="5.93" height="5.89" fill="#ffe800"/>
<rect x="1411.63" y="275.21" width="5.93" height="5.89" fill="#f85a4a"/>
<rect x="1490.42" y="275.21" width="5.93" height="5.89" fill="#0030ff"/>
<rect x="1501.68" y="275.21" width="5.93" height="5.89" fill="#ffe800"/>
<rect x="1569.22" y="275.21" width="5.93" height="5.89" fill="#ffe800"/>
<rect x="1580.47" y="275.21" width="5.93" height="5.89" fill="#ffe800"/>
<rect x="1586.10" y="275.21" width="5.93" height="5.89" fill="#ffb020"/>
<rect x="1417.26" y="280.79" width="5.93" height="5.89" fill="#f85a4a"/>
<rect x="1479.17" y="280.79" width="5.93" height="5.89" fill="#ffff8c"/>
<rect x="1490.42" y="280.79" width="5.93" height="5.89" fill="#ffb020"/>
<rect x="1496.05" y="280.79" width="5.93" height="5.89" fill="#ffe800"/>
<rect x="1569.22" y="280.79" width="5.93" height="5.89" fill="#00c4ff"/>
<rect x="1574.85" y="280.79" width="5.93" height="5.89" fill="#ff8838"/>
<rect x="1552.33" y="286.38" width="5.93" height="5.89" fill="#f85a4a"/>
<rect x="1501.68" y="291.97" width="5.93" height="5.89" fill="#0030ff"/>
<rect x="1541.08" y="297.56" width="5.93" height="5.89" fill="#ffe800"/>
<rect x="1535.45" y="303.15" width="5.93" height="5.89" fill="#ffe800"/>
<rect x="1580.47" y="303.15" width="5.93" height="5.89" fill="#ffb020"/>
<rect x="1552.33" y="308.74" width="5.93" height="5.89" fill="#f85a4a"/>
<rect x="1557.96" y="308.74" width="5.93" height="5.89" fill="#f85a4a"/>
<rect x="1445.40" y="314.33" width="5.93" height="5.89" fill="#ffe800"/>
<rect x="1524.19" y="314.33" width="5.93" height="5.89" fill="#f85a4a"/>
<rect x="1546.71" y="314.33" width="5.93" height="5.89" fill="#f85a4a"/>
<rect x="1557.96" y="314.33" width="5.93" height="5.89" fill="#ff8838"/>
<rect x="1473.54" y="319.92" width="5.93" height="5.89" fill="#ffe800"/>
<rect x="1546.71" y="319.92" width="5.93" height="5.89" fill="#f85a4a"/>
<rect x="1552.33" y="319.92" width="5.93" height="5.89" fill="#ff8838"/>
<rect x="1608.62" y="319.92" width="5.93" height="5.89" fill="#ffff8c"/>
<rect x="1619.87" y="319.92" width="5.93" height="5.89" fill="#ffe800"/>
<rect x="1467.91" y="325.51" width="5.93" height="5.89" fill="#ffff8c"/>
<rect x="1473.54" y="325.51" width="5.93" height="5.89" fill="#ffff8c"/>
<rect x="1591.73" y="325.51" width="5.93" height="5.89" fill="#ffe800"/>
<rect x="1411.63" y="331.10" width="5.93" height="5.89" fill="#f85a4a"/>
<rect x="1417.26" y="331.10" width="5.93" height="5.89" fill="#0030ff"/>
<rect x="1422.88" y="331.10" width="5.93" height="5.89" fill="#f85a4a"/>
<rect x="1445.40" y="331.10" width="5.93" height="5.89" fill="#0030ff"/>
<rect x="1456.65" y="331.10" width="5.93" height="5.89" fill="#f85a4a"/>
<rect x="1479.17" y="331.10" width="5.93" height="5.89" fill="#f85a4a"/>
<rect x="1484.79" y="331.10" width="5.93" height="5.89" fill="#f85a4a"/>
<rect x="1496.05" y="331.10" width="5.93" height="5.89" fill="#0030ff"/>
<rect x="1512.94" y="331.10" width="5.93" height="5.89" fill="#ffe800"/>
<rect x="1518.56" y="331.10" width="5.93" height="5.89" fill="#00c4ff"/>
<rect x="1580.47" y="331.10" width="5.93" height="5.89" fill="#0030ff"/>
<rect x="1586.10" y="331.10" width="5.93" height="5.89" fill="#0072ff"/>
<rect x="1602.99" y="331.10" width="5.93" height="5.89" fill="#0030ff"/>
<rect x="1417.26" y="336.69" width="5.93" height="5.89" fill="#ff8838"/>
<rect x="1445.40" y="336.69" width="5.93" height="5.89" fill="#0072ff"/>
<rect x="1479.17" y="336.69" width="5.93" height="5.89" fill="#ffb020"/>
<rect x="1496.05" y="336.69" width="5.93" height="5.89" fill="#ff8838"/>
<rect x="1518.56" y="336.69" width="5.93" height="5.89" fill="#ff8838"/>
<rect x="1580.47" y="336.69" width="5.93" height="5.89" fill="#0030ff"/>
<rect x="1411.63" y="342.28" width="5.93" height="5.89" fill="#f85a4a"/>
<rect x="1507.31" y="342.28" width="5.93" height="5.89" fill="#0030ff"/>
<rect x="1512.94" y="342.28" width="5.93" height="5.89" fill="#ffe800"/>
<rect x="1541.08" y="342.28" width="5.93" height="5.89" fill="#ffb020"/>
<rect x="1569.22" y="342.28" width="5.93" height="5.89" fill="#0030ff"/>
<rect x="1574.85" y="342.28" width="5.93" height="5.89" fill="#0030ff"/>
<rect x="1586.10" y="342.28" width="5.93" height="5.89" fill="#ffb020"/>
<rect x="1406.00" y="347.87" width="5.93" height="5.89" fill="#ffb020"/>
<rect x="1411.63" y="347.87" width="5.93" height="5.89" fill="#f85a4a"/>
<rect x="1434.14" y="347.87" width="5.93" height="5.89" fill="#ffe800"/>
<rect x="1456.65" y="347.87" width="5.93" height="5.89" fill="#ffe800"/>
<rect x="1507.31" y="347.87" width="5.93" height="5.89" fill="#0030ff"/>
<rect x="1512.94" y="347.87" width="5.93" height="5.89" fill="#ffb020"/>
<rect x="1569.22" y="347.87" width="5.93" height="5.89" fill="#0072ff"/>
<rect x="1580.47" y="347.87" width="5.93" height="5.89" fill="#ffb020"/>
<rect x="1434.14" y="353.46" width="5.93" height="5.89" fill="#ffff8c"/>
<rect x="1563.59" y="353.46" width="5.93" height="5.89" fill="#ffe800"/>
<rect x="1619.87" y="353.46" width="5.93" height="5.89" fill="#ffe800"/>
<rect x="1434.14" y="359.05" width="5.93" height="5.89" fill="#ffff8c"/>
<rect x="1428.51" y="364.64" width="5.93" height="5.89" fill="#ffff8c"/>
<rect x="1496.05" y="364.64" width="5.93" height="5.89" fill="#0030ff"/>
<rect x="1569.22" y="364.64" width="5.93" height="5.89" fill="#0030ff"/>
<rect x="1462.28" y="370.23" width="5.93" height="5.89" fill="#ffb020"/>
<rect x="1496.05" y="370.23" width="5.93" height="5.89" fill="#0030ff"/>
<rect x="1557.96" y="370.23" width="5.93" height="5.89" fill="#ffff8c"/>
<rect x="1428.51" y="375.82" width="5.93" height="5.89" fill="#0030ff"/>
<rect x="1434.14" y="375.82" width="5.93" height="5.89" fill="#0030ff"/>
<rect x="1473.54" y="381.41" width="5.93" height="5.89" fill="#ffff8c"/>
<rect x="1557.96" y="381.41" width="5.93" height="5.89" fill="#ffe800"/>
<rect x="1591.73" y="381.41" width="5.93" height="5.89" fill="#ffe800"/>
<rect x="1406.00" y="387.00" width="5.93" height="5.89" fill="#00c4ff"/>
<rect x="1625.50" y="169.00" width="5.93" height="5.89" fill="#b0dcf4"/>
<rect x="1411.63" y="387.00" width="5.93" height="5.89" fill="#0030ff"/>
<rect x="1625.50" y="174.59" width="5.93" height="5.89" fill="#a9b8f6"/>
<rect x="1428.51" y="387.00" width="5.93" height="5.89" fill="#0030ff"/>
<rect x="1625.50" y="191.36" width="5.93" height="5.89" fill="#a9b8f6"/>
<rect x="1439.77" y="387.00" width="5.93" height="5.89" fill="#0030ff"/>
<rect x="1625.50" y="202.54" width="5.93" height="5.89" fill="#a9b8f6"/>
<rect x="1406.00" y="392.59" width="5.93" height="5.89" fill="#00c4ff"/>
<rect x="1631.13" y="169.00" width="5.93" height="5.89" fill="#b0dcf4"/>
<rect x="1411.63" y="392.59" width="5.93" height="5.89" fill="#00c4ff"/>
<rect x="1631.13" y="174.59" width="5.93" height="5.89" fill="#b0dcf4"/>
<rect x="1422.88" y="392.59" width="5.93" height="5.89" fill="#0072ff"/>
<rect x="1631.13" y="185.77" width="5.93" height="5.89" fill="#acc8f6"/>
<rect x="1428.51" y="392.59" width="5.93" height="5.89" fill="#0072ff"/>
<rect x="1631.13" y="191.36" width="5.93" height="5.89" fill="#acc8f6"/>
<rect x="1451.03" y="392.59" width="5.93" height="5.89" fill="#0030ff"/>
<rect x="1631.13" y="213.72" width="5.93" height="5.89" fill="#a9b8f6"/>
<rect x="1456.65" y="392.59" width="5.93" height="5.89" fill="#0030ff"/>
<rect x="1631.13" y="219.31" width="5.93" height="5.89" fill="#a9b8f6"/>
<rect x="1462.28" y="392.59" width="5.93" height="5.89" fill="#0030ff"/>
<rect x="1631.13" y="224.90" width="5.93" height="5.89" fill="#a9b8f6"/>
<rect x="1496.05" y="398.18" width="5.93" height="5.89" fill="#0072ff"/>
<rect x="1636.76" y="258.44" width="5.93" height="5.89" fill="#acc8f6"/>
<rect x="1524.19" y="398.18" width="5.93" height="5.89" fill="#0030ff"/>
<rect x="1636.76" y="286.38" width="5.93" height="5.89" fill="#a9b8f6"/>
<rect x="1552.33" y="398.18" width="5.93" height="5.89" fill="#0030ff"/>
<rect x="1636.76" y="314.33" width="5.93" height="5.89" fill="#a9b8f6"/>
<rect x="1569.22" y="398.18" width="5.93" height="5.89" fill="#0030ff"/>
<rect x="1636.76" y="331.10" width="5.93" height="5.89" fill="#a9b8f6"/>
<rect x="1608.62" y="398.18" width="5.93" height="5.89" fill="#0030ff"/>
<rect x="1636.76" y="370.23" width="5.93" height="5.89" fill="#a9b8f6"/>
<rect x="1614.24" y="398.18" width="5.93" height="5.89" fill="#0072ff"/>
<rect x="1636.76" y="375.82" width="5.93" height="5.89" fill="#acc8f6"/>
<rect x="1462.28" y="403.77" width="5.93" height="5.89" fill="#0030ff"/>
<rect x="1642.38" y="224.90" width="5.93" height="5.89" fill="#a9b8f6"/>
<rect x="1406.00" y="409.36" width="5.93" height="5.89" fill="#0072ff"/>
<rect x="1648.01" y="169.00" width="5.93" height="5.89" fill="#acc8f6"/>
<rect x="1428.51" y="409.36" width="5.93" height="5.89" fill="#0072ff"/>
<rect x="1648.01" y="191.36" width="5.93" height="5.89" fill="#acc8f6"/>
<rect x="1434.14" y="409.36" width="5.93" height="5.89" fill="#0030ff"/>
<rect x="1648.01" y="196.95" width="5.93" height="5.89" fill="#a9b8f6"/>
<rect x="1439.77" y="409.36" width="5.93" height="5.89" fill="#0072ff"/>
<rect x="1648.01" y="202.54" width="5.93" height="5.89" fill="#acc8f6"/>
<rect x="1434.14" y="414.95" width="5.93" height="5.89" fill="#00c4ff"/>
<rect x="1653.64" y="196.95" width="5.93" height="5.89" fill="#b0dcf4"/>
<rect x="1439.77" y="414.95" width="5.93" height="5.89" fill="#0072ff"/>
<rect x="1653.64" y="202.54" width="5.93" height="5.89" fill="#acc8f6"/>
<rect x="1518.56" y="420.54" width="5.93" height="5.89" fill="#ffe800"/>
<rect x="1659.27" y="280.79" width="5.93" height="5.89" fill="#f6eeb0"/>
<rect x="1445.40" y="426.13" width="5.93" height="5.89" fill="#0030ff"/>
<rect x="1664.90" y="208.13" width="5.93" height="5.89" fill="#a9b8f6"/>
<rect x="1462.28" y="426.13" width="5.93" height="5.89" fill="#0030ff"/>
<rect x="1664.90" y="224.90" width="5.93" height="5.89" fill="#a9b8f6"/>
<rect x="1428.51" y="431.72" width="5.93" height="5.89" fill="#0030ff"/>
<rect x="1670.53" y="191.36" width="5.93" height="5.89" fill="#a9b8f6"/>
<rect x="1445.40" y="431.72" width="5.93" height="5.89" fill="#ffb020"/>
<rect x="1670.53" y="208.13" width="5.93" height="5.89" fill="#f6dcb0"/>
<rect x="1467.91" y="431.72" width="5.93" height="5.89" fill="#ffe800"/>
<rect x="1670.53" y="230.49" width="5.93" height="5.89" fill="#f6eeb0"/>
<rect x="1563.59" y="431.72" width="5.93" height="5.89" fill="#ffb020"/>
<rect x="1670.53" y="325.51" width="5.93" height="5.89" fill="#f6dcb0"/>
<rect x="1451.03" y="437.31" width="5.93" height="5.89" fill="#0030ff"/>
<rect x="1676.15" y="213.72" width="5.93" height="5.89" fill="#a9b8f6"/>
<rect x="1456.65" y="437.31" width="5.93" height="5.89" fill="#0072ff"/>
<rect x="1676.15" y="219.31" width="5.93" height="5.89" fill="#acc8f6"/>
<rect x="1462.28" y="437.31" width="5.93" height="5.89" fill="#0072ff"/>
<rect x="1676.15" y="224.90" width="5.93" height="5.89" fill="#acc8f6"/>
<rect x="1445.40" y="442.90" width="5.93" height="5.89" fill="#0030ff"/>
<rect x="1681.78" y="208.13" width="5.93" height="5.89" fill="#a9b8f6"/>
<rect x="1462.28" y="442.90" width="5.93" height="5.89" fill="#0072ff"/>
<rect x="1681.78" y="224.90" width="5.93" height="5.89" fill="#acc8f6"/>
<rect x="1467.91" y="448.49" width="5.93" height="5.89" fill="#ffe800"/>
<rect x="1687.41" y="230.49" width="5.93" height="5.89" fill="#f6eeb0"/>
<rect x="1473.54" y="454.08" width="5.93" height="5.89" fill="#00c4ff"/>
<rect x="1693.04" y="236.08" width="5.93" height="5.89" fill="#b0dcf4"/>
<rect x="1546.71" y="454.08" width="5.93" height="5.89" fill="#0030ff"/>
<rect x="1693.04" y="308.74" width="5.93" height="5.89" fill="#a9b8f6"/>
<rect x="1479.17" y="459.67" width="5.93" height="5.89" fill="#0072ff"/>
<rect x="1698.67" y="241.67" width="5.93" height="5.89" fill="#acc8f6"/>
<rect x="1614.24" y="459.67" width="5.93" height="5.89" fill="#0030ff"/>
<rect x="1698.67" y="375.82" width="5.93" height="5.89" fill="#a9b8f6"/>
<rect x="1484.79" y="465.26" width="5.93" height="5.89" fill="#00c4ff"/>
<rect x="1704.29" y="247.26" width="5.93" height="5.89" fill="#b0dcf4"/>
<rect x="1490.42" y="465.26" width="5.93" height="5.89" fill="#0030ff"/>
<rect x="1704.29" y="252.85" width="5.93" height="5.89" fill="#a9b8f6"/>
<rect x="1490.42" y="470.85" width="5.93" height="5.89" fill="#0030ff"/>
<rect x="1709.92" y="252.85" width="5.93" height="5.89" fill="#a9b8f6"/>
<rect x="1479.17" y="476.44" width="5.93" height="5.89" fill="#0030ff"/>
<rect x="1715.55" y="241.67" width="5.93" height="5.89" fill="#a9b8f6"/>
<rect x="1496.05" y="476.44" width="5.93" height="5.89" fill="#0030ff"/>
<rect x="1715.55" y="258.44" width="5.93" height="5.89" fill="#a9b8f6"/>
<rect x="1546.71" y="476.44" width="5.93" height="5.89" fill="#0030ff"/>
<rect x="1715.55" y="308.74" width="5.93" height="5.89" fill="#a9b8f6"/>
<rect x="1552.33" y="476.44" width="5.93" height="5.89" fill="#0030ff"/>
<rect x="1715.55" y="314.33" width="5.93" height="5.89" fill="#a9b8f6"/>
<rect x="1569.22" y="476.44" width="5.93" height="5.89" fill="#0030ff"/>
<rect x="1715.55" y="331.10" width="5.93" height="5.89" fill="#a9b8f6"/>
<rect x="1574.85" y="476.44" width="5.93" height="5.89" fill="#0072ff"/>
<rect x="1715.55" y="336.69" width="5.93" height="5.89" fill="#acc8f6"/>
<rect x="1484.79" y="482.03" width="5.93" height="5.89" fill="#0030ff"/>
<rect x="1721.18" y="247.26" width="5.93" height="5.89" fill="#a9b8f6"/>
<rect x="1501.68" y="482.03" width="5.93" height="5.89" fill="#0072ff"/>
<rect x="1721.18" y="264.03" width="5.93" height="5.89" fill="#acc8f6"/>
<rect x="1501.68" y="487.62" width="5.93" height="5.89" fill="#0030ff"/>
<rect x="1726.81" y="264.03" width="5.93" height="5.89" fill="#a9b8f6"/>
<rect x="1507.31" y="487.62" width="5.93" height="5.89" fill="#0072ff"/>
<rect x="1726.81" y="269.62" width="5.93" height="5.89" fill="#acc8f6"/>
<rect x="1512.94" y="487.62" width="5.93" height="5.89" fill="#00c4ff"/>
<rect x="1726.81" y="275.21" width="5.93" height="5.89" fill="#b0dcf4"/>
<rect x="1580.47" y="487.62" width="5.93" height="5.89" fill="#0030ff"/>
<rect x="1726.81" y="342.28" width="5.93" height="5.89" fill="#a9b8f6"/>
<rect x="1501.68" y="493.21" width="5.93" height="5.89" fill="#0030ff"/>
<rect x="1732.44" y="264.03" width="5.93" height="5.89" fill="#a9b8f6"/>
<rect x="1507.31" y="493.21" width="5.93" height="5.89" fill="#0030ff"/>
<rect x="1732.44" y="269.62" width="5.93" height="5.89" fill="#a9b8f6"/>
<rect x="1512.94" y="493.21" width="5.93" height="5.89" fill="#0072ff"/>
<rect x="1732.44" y="275.21" width="5.93" height="5.89" fill="#acc8f6"/>
<rect x="1512.94" y="498.79" width="5.93" height="5.89" fill="#0072ff"/>
<rect x="1738.06" y="275.21" width="5.93" height="5.89" fill="#acc8f6"/>
<rect x="1524.19" y="504.38" width="5.93" height="5.89" fill="#0072ff"/>
<rect x="1743.69" y="286.38" width="5.93" height="5.89" fill="#acc8f6"/>
<rect x="1552.33" y="504.38" width="5.93" height="5.89" fill="#0030ff"/>
<rect x="1743.69" y="314.33" width="5.93" height="5.89" fill="#a9b8f6"/>
<rect x="1541.08" y="509.97" width="5.93" height="5.89" fill="#0030ff"/>
<rect x="1749.32" y="303.15" width="5.93" height="5.89" fill="#a9b8f6"/>
<rect x="1507.31" y="515.56" width="5.93" height="5.89" fill="#0030ff"/>
<rect x="1754.95" y="269.62" width="5.93" height="5.89" fill="#a9b8f6"/>
<rect x="1512.94" y="515.56" width="5.93" height="5.89" fill="#0030ff"/>
<rect x="1754.95" y="275.21" width="5.93" height="5.89" fill="#a9b8f6"/>
<rect x="1541.08" y="515.56" width="5.93" height="5.89" fill="#0030ff"/>
<rect x="1754.95" y="303.15" width="5.93" height="5.89" fill="#a9b8f6"/>
<rect x="1524.19" y="526.74" width="5.93" height="5.89" fill="#0030ff"/>
<rect x="1766.21" y="286.38" width="5.93" height="5.89" fill="#a9b8f6"/>
<rect x="1552.33" y="526.74" width="5.93" height="5.89" fill="#0030ff"/>
<rect x="1766.21" y="314.33" width="5.93" height="5.89" fill="#a9b8f6"/>
<rect x="1557.96" y="526.74" width="5.93" height="5.89" fill="#0030ff"/>
<rect x="1766.21" y="319.92" width="5.93" height="5.89" fill="#a9b8f6"/>
<rect x="1524.19" y="532.33" width="5.93" height="5.89" fill="#0030ff"/>
<rect x="1771.83" y="286.38" width="5.93" height="5.89" fill="#a9b8f6"/>
<rect x="1552.33" y="532.33" width="5.93" height="5.89" fill="#00c4ff"/>
<rect x="1771.83" y="314.33" width="5.93" height="5.89" fill="#b0dcf4"/>
<rect x="1557.96" y="532.33" width="5.93" height="5.89" fill="#0030ff"/>
<rect x="1771.83" y="319.92" width="5.93" height="5.89" fill="#a9b8f6"/>
<rect x="1524.19" y="537.92" width="5.93" height="5.89" fill="#0030ff"/>
<rect x="1777.46" y="286.38" width="5.93" height="5.89" fill="#a9b8f6"/>
<rect x="1563.59" y="543.51" width="5.93" height="5.89" fill="#0030ff"/>
<rect x="1783.09" y="325.51" width="5.93" height="5.89" fill="#a9b8f6"/>
<rect x="1619.87" y="543.51" width="5.93" height="5.89" fill="#0030ff"/>
<rect x="1783.09" y="381.41" width="5.93" height="5.89" fill="#a9b8f6"/>
<rect x="1569.22" y="549.10" width="5.93" height="5.89" fill="#0030ff"/>
<rect x="1788.72" y="331.10" width="5.93" height="5.89" fill="#a9b8f6"/>
<rect x="1574.85" y="549.10" width="5.93" height="5.89" fill="#0030ff"/>
<rect x="1788.72" y="336.69" width="5.93" height="5.89" fill="#a9b8f6"/>
<rect x="1591.73" y="549.10" width="5.93" height="5.89" fill="#0030ff"/>
<rect x="1788.72" y="353.46" width="5.93" height="5.89" fill="#a9b8f6"/>
<rect x="1417.26" y="554.69" width="5.93" height="5.89" fill="#0072ff"/>
<rect x="1794.35" y="180.18" width="5.93" height="5.89" fill="#acc8f6"/>
<rect x="1479.17" y="554.69" width="5.93" height="5.89" fill="#0030ff"/>
<rect x="1794.35" y="241.67" width="5.93" height="5.89" fill="#a9b8f6"/>
<rect x="1490.42" y="554.69" width="5.93" height="5.89" fill="#0030ff"/>
<rect x="1794.35" y="252.85" width="5.93" height="5.89" fill="#a9b8f6"/>
<rect x="1496.05" y="554.69" width="5.93" height="5.89" fill="#0072ff"/>
<rect x="1794.35" y="258.44" width="5.93" height="5.89" fill="#acc8f6"/>
<rect x="1518.56" y="554.69" width="5.93" height="5.89" fill="#0030ff"/>
<rect x="1794.35" y="280.79" width="5.93" height="5.89" fill="#a9b8f6"/>
<rect x="1569.22" y="554.69" width="5.93" height="5.89" fill="#0072ff"/>
<rect x="1794.35" y="331.10" width="5.93" height="5.89" fill="#acc8f6"/>
<rect x="1574.85" y="554.69" width="5.93" height="5.89" fill="#0072ff"/>
<rect x="1794.35" y="336.69" width="5.93" height="5.89" fill="#acc8f6"/>
<rect x="1569.22" y="560.28" width="5.93" height="5.89" fill="#0030ff"/>
<rect x="1799.97" y="331.10" width="5.93" height="5.89" fill="#a9b8f6"/>
<rect x="1580.47" y="560.28" width="5.93" height="5.89" fill="#0030ff"/>
<rect x="1799.97" y="342.28" width="5.93" height="5.89" fill="#a9b8f6"/>
<rect x="1563.59" y="565.87" width="5.93" height="5.89" fill="#0030ff"/>
<rect x="1805.60" y="325.51" width="5.93" height="5.89" fill="#a9b8f6"/>
<rect x="1586.10" y="565.87" width="5.93" height="5.89" fill="#0030ff"/>
<rect x="1805.60" y="347.87" width="5.93" height="5.89" fill="#a9b8f6"/>
<rect x="1591.73" y="571.46" width="5.93" height="5.89" fill="#0072ff"/>
<rect x="1811.23" y="353.46" width="5.93" height="5.89" fill="#acc8f6"/>
<rect x="1597.36" y="571.46" width="5.93" height="5.89" fill="#0072ff"/>
<rect x="1811.23" y="359.05" width="5.93" height="5.89" fill="#acc8f6"/>
<rect x="1586.10" y="577.05" width="5.93" height="5.89" fill="#0030ff"/>
<rect x="1816.86" y="347.87" width="5.93" height="5.89" fill="#a9b8f6"/>
<rect x="1552.33" y="582.64" width="5.93" height="5.89" fill="#ffe800"/>
<rect x="1822.49" y="314.33" width="5.93" height="5.89" fill="#f6eeb0"/>
<rect x="1557.96" y="582.64" width="5.93" height="5.89" fill="#ffb020"/>
<rect x="1822.49" y="319.92" width="5.93" height="5.89" fill="#f6dcb0"/>
<rect x="1434.14" y="588.23" width="5.93" height="5.89" fill="#0072ff"/>
<rect x="1828.12" y="196.95" width="5.93" height="5.89" fill="#acc8f6"/>
<rect x="1439.77" y="588.23" width="5.93" height="5.89" fill="#0030ff"/>
<rect x="1828.12" y="202.54" width="5.93" height="5.89" fill="#a9b8f6"/>
<rect x="1608.62" y="588.23" width="5.93" height="5.89" fill="#00c4ff"/>
<rect x="1828.12" y="370.23" width="5.93" height="5.89" fill="#b0dcf4"/>
<rect x="1614.24" y="588.23" width="5.93" height="5.89" fill="#0030ff"/>
<rect x="1828.12" y="375.82" width="5.93" height="5.89" fill="#a9b8f6"/>
<rect x="1619.87" y="588.23" width="5.93" height="5.89" fill="#0030ff"/>
<rect x="1828.12" y="381.41" width="5.93" height="5.89" fill="#a9b8f6"/>
<rect x="1434.14" y="593.82" width="5.93" height="5.89" fill="#0030ff"/>
<rect x="1833.74" y="196.95" width="5.93" height="5.89" fill="#a9b8f6"/>
<rect x="1524.19" y="593.82" width="5.93" height="5.89" fill="#0030ff"/>
<rect x="1833.74" y="286.38" width="5.93" height="5.89" fill="#a9b8f6"/>
<rect x="1608.62" y="593.82" width="5.93" height="5.89" fill="#0030ff"/>
<rect x="1833.74" y="370.23" width="5.93" height="5.89" fill="#a9b8f6"/>
<rect x="1614.24" y="593.82" width="5.93" height="5.89" fill="#f85a4a"/>
<rect x="1833.74" y="375.82" width="5.93" height="5.89" fill="#f4c0b8"/>
<rect x="1608.62" y="599.41" width="5.93" height="5.89" fill="#0030ff"/>
<rect x="1839.37" y="370.23" width="5.93" height="5.89" fill="#a9b8f6"/>
<rect x="1619.87" y="599.41" width="5.93" height="5.89" fill="#0030ff"/>
<rect x="1839.37" y="381.41" width="5.93" height="5.89" fill="#a9b8f6"/>
<rect x="1653.64" y="387.00" width="5.93" height="5.89" fill="#f85a4a"/>
<rect x="1659.27" y="387.00" width="5.93" height="5.89" fill="#0030ff"/>
<rect x="1721.18" y="387.00" width="5.93" height="5.89" fill="#0030ff"/>
<rect x="1771.83" y="387.00" width="5.93" height="5.89" fill="#ffb020"/>
<rect x="1777.46" y="387.00" width="5.93" height="5.89" fill="#ffe800"/>
<rect x="1642.38" y="392.59" width="5.93" height="5.89" fill="#ffff8c"/>
<rect x="1648.01" y="392.59" width="5.93" height="5.89" fill="#0030ff"/>
<rect x="1681.78" y="392.59" width="5.93" height="5.89" fill="#ffe800"/>
<rect x="1642.38" y="398.18" width="5.93" height="5.89" fill="#ffe800"/>
<rect x="1664.90" y="398.18" width="5.93" height="5.89" fill="#0072ff"/>
<rect x="1676.15" y="398.18" width="5.93" height="5.89" fill="#0030ff"/>
<rect x="1687.41" y="398.18" width="5.93" height="5.89" fill="#0030ff"/>
<rect x="1698.67" y="398.18" width="5.93" height="5.89" fill="#ffe800"/>
<rect x="1704.29" y="398.18" width="5.93" height="5.89" fill="#ffffff"/>
<rect x="1709.92" y="398.18" width="5.93" height="5.89" fill="#ffffff"/>
<rect x="1715.55" y="398.18" width="5.93" height="5.89" fill="#ffe800"/>
<rect x="1726.81" y="398.18" width="5.93" height="5.89" fill="#ffe800"/>
<rect x="1738.06" y="398.18" width="5.93" height="5.89" fill="#ffffff"/>
<rect x="1788.72" y="398.18" width="5.93" height="5.89" fill="#ffffff"/>
<rect x="1794.35" y="398.18" width="5.93" height="5.89" fill="#ffff8c"/>
<rect x="1816.86" y="398.18" width="5.93" height="5.89" fill="#0030ff"/>
<rect x="1631.13" y="403.77" width="5.93" height="5.89" fill="#ffff8c"/>
<rect x="1636.76" y="403.77" width="5.93" height="5.89" fill="#ffe800"/>
<rect x="1664.90" y="403.77" width="5.93" height="5.89" fill="#0072ff"/>
<rect x="1698.67" y="403.77" width="5.93" height="5.89" fill="#ffff8c"/>
<rect x="1726.81" y="403.77" width="5.93" height="5.89" fill="#ffff8c"/>
<rect x="1788.72" y="403.77" width="5.93" height="5.89" fill="#ffff8c"/>
<rect x="1631.13" y="409.36" width="5.93" height="5.89" fill="#0030ff"/>
<rect x="1687.41" y="409.36" width="5.93" height="5.89" fill="#ffe800"/>
<rect x="1721.18" y="409.36" width="5.93" height="5.89" fill="#0030ff"/>
<rect x="1749.32" y="409.36" width="5.93" height="5.89" fill="#0030ff"/>
<rect x="1777.46" y="409.36" width="5.93" height="5.89" fill="#ffe800"/>
<rect x="1822.49" y="409.36" width="5.93" height="5.89" fill="#ffff8c"/>
<rect x="1625.50" y="414.95" width="5.93" height="5.89" fill="#f85a4a"/>
<rect x="1721.18" y="414.95" width="5.93" height="5.89" fill="#0030ff"/>
<rect x="1743.69" y="414.95" width="5.93" height="5.89" fill="#0030ff"/>
<rect x="1828.12" y="414.95" width="5.93" height="5.89" fill="#0072ff"/>
<rect x="1625.50" y="420.54" width="5.93" height="5.89" fill="#0072ff"/>
<rect x="1704.29" y="420.54" width="5.93" height="5.89" fill="#0030ff"/>
<rect x="1721.18" y="420.54" width="5.93" height="5.89" fill="#0030ff"/>
<rect x="1743.69" y="420.54" width="5.93" height="5.89" fill="#0030ff"/>
<rect x="1766.21" y="420.54" width="5.93" height="5.89" fill="#0030ff"/>
<rect x="1771.83" y="420.54" width="5.93" height="5.89" fill="#0030ff"/>
<rect x="1636.76" y="426.13" width="5.93" height="5.89" fill="#0072ff"/>
<rect x="1642.38" y="426.13" width="5.93" height="5.89" fill="#0072ff"/>
<rect x="1670.53" y="426.13" width="5.93" height="5.89" fill="#ffffff"/>
<rect x="1676.15" y="426.13" width="5.93" height="5.89" fill="#f85a4a"/>
<rect x="1687.41" y="426.13" width="5.93" height="5.89" fill="#f85a4a"/>
<rect x="1693.04" y="426.13" width="5.93" height="5.89" fill="#ff8838"/>
<rect x="1777.46" y="426.13" width="5.93" height="5.89" fill="#ffffff"/>
<rect x="1822.49" y="426.13" width="5.93" height="5.89" fill="#ffff8c"/>
<rect x="1664.90" y="431.72" width="5.93" height="5.89" fill="#ffffff"/>
<rect x="1687.41" y="431.72" width="5.93" height="5.89" fill="#ffe800"/>
<rect x="1693.04" y="431.72" width="5.93" height="5.89" fill="#ffff8c"/>
<rect x="1771.83" y="431.72" width="5.93" height="5.89" fill="#ffe800"/>
<rect x="1777.46" y="431.72" width="5.93" height="5.89" fill="#ffff8c"/>
<rect x="1822.49" y="431.72" width="5.93" height="5.89" fill="#f85a4a"/>
<rect x="1636.76" y="437.31" width="5.93" height="5.89" fill="#0030ff"/>
<rect x="1664.90" y="437.31" width="5.93" height="5.89" fill="#f85a4a"/>
<rect x="1681.78" y="437.31" width="5.93" height="5.89" fill="#f85a4a"/>
<rect x="1777.46" y="437.31" width="5.93" height="5.89" fill="#ffff8c"/>
<rect x="1822.49" y="437.31" width="5.93" height="5.89" fill="#ffff8c"/>
<rect x="1631.13" y="442.90" width="5.93" height="5.89" fill="#ffe800"/>
<rect x="1676.15" y="442.90" width="5.93" height="5.89" fill="#f85a4a"/>
<rect x="1693.04" y="442.90" width="5.93" height="5.89" fill="#f85a4a"/>
<rect x="1698.67" y="442.90" width="5.93" height="5.89" fill="#ffb020"/>
<rect x="1636.76" y="448.49" width="5.93" height="5.89" fill="#0030ff"/>
<rect x="1648.01" y="448.49" width="5.93" height="5.89" fill="#ffe800"/>
<rect x="1664.90" y="448.49" width="5.93" height="5.89" fill="#f85a4a"/>
<rect x="1670.53" y="448.49" width="5.93" height="5.89" fill="#ffe800"/>
<rect x="1693.04" y="448.49" width="5.93" height="5.89" fill="#ff8838"/>
<rect x="1743.69" y="448.49" width="5.93" height="5.89" fill="#ffff8c"/>
<rect x="1822.49" y="448.49" width="5.93" height="5.89" fill="#f85a4a"/>
<rect x="1664.90" y="454.08" width="5.93" height="5.89" fill="#ff8838"/>
<rect x="1670.53" y="454.08" width="5.93" height="5.89" fill="#ffff8c"/>
<rect x="1681.78" y="454.08" width="5.93" height="5.89" fill="#f85a4a"/>
<rect x="1687.41" y="454.08" width="5.93" height="5.89" fill="#ff8838"/>
<rect x="1828.12" y="454.08" width="5.93" height="5.89" fill="#ffe800"/>
<rect x="1636.76" y="459.67" width="5.93" height="5.89" fill="#ffe800"/>
<rect x="1642.38" y="459.67" width="5.93" height="5.89" fill="#ffff8c"/>
<rect x="1681.78" y="459.67" width="5.93" height="5.89" fill="#ffb020"/>
<rect x="1715.55" y="459.67" width="5.93" height="5.89" fill="#ffb020"/>
<rect x="1788.72" y="459.67" width="5.93" height="5.89" fill="#ffff8c"/>
<rect x="1794.35" y="459.67" width="5.93" height="5.89" fill="#ffff8c"/>
<rect x="1811.23" y="459.67" width="5.93" height="5.89" fill="#ffb020"/>
<rect x="1636.76" y="465.26" width="5.93" height="5.89" fill="#ffffff"/>
<rect x="1659.27" y="465.26" width="5.93" height="5.89" fill="#0030ff"/>
<rect x="1709.92" y="465.26" width="5.93" height="5.89" fill="#ff8838"/>
<rect x="1726.81" y="465.26" width="5.93" height="5.89" fill="#ffff8c"/>
<rect x="1738.06" y="465.26" width="5.93" height="5.89" fill="#ffb020"/>
<rect x="1788.72" y="465.26" width="5.93" height="5.89" fill="#ffff8c"/>
<rect x="1822.49" y="465.26" width="5.93" height="5.89" fill="#0030ff"/>
<rect x="1636.76" y="470.85" width="5.93" height="5.89" fill="#ffffff"/>
<rect x="1704.29" y="470.85" width="5.93" height="5.89" fill="#ff8838"/>
<rect x="1715.55" y="470.85" width="5.93" height="5.89" fill="#ffff8c"/>
<rect x="1726.81" y="470.85" width="5.93" height="5.89" fill="#f85a4a"/>
<rect x="1738.06" y="470.85" width="5.93" height="5.89" fill="#ffff8c"/>
<rect x="1771.83" y="470.85" width="5.93" height="5.89" fill="#0030ff"/>
<rect x="1788.72" y="470.85" width="5.93" height="5.89" fill="#ffffff"/>
<rect x="1794.35" y="470.85" width="5.93" height="5.89" fill="#ffff8c"/>
<rect x="1816.86" y="470.85" width="5.93" height="5.89" fill="#0030ff"/>
<rect x="1636.76" y="476.44" width="5.93" height="5.89" fill="#ffe800"/>
<rect x="1698.67" y="476.44" width="5.93" height="5.89" fill="#ffb020"/>
<rect x="1709.92" y="476.44" width="5.93" height="5.89" fill="#ffff8c"/>
<rect x="1738.06" y="476.44" width="5.93" height="5.89" fill="#ffffff"/>
<rect x="1788.72" y="476.44" width="5.93" height="5.89" fill="#ff8838"/>
<rect x="1794.35" y="476.44" width="5.93" height="5.89" fill="#ff8838"/>
<rect x="1625.50" y="482.03" width="5.93" height="5.89" fill="#0072ff"/>
<rect x="1648.01" y="482.03" width="5.93" height="5.89" fill="#0030ff"/>
<rect x="1653.64" y="482.03" width="5.93" height="5.89" fill="#0030ff"/>
<rect x="1659.27" y="482.03" width="5.93" height="5.89" fill="#0030ff"/>
<rect x="1732.44" y="482.03" width="5.93" height="5.89" fill="#ffffff"/>
<rect x="1754.95" y="482.03" width="5.93" height="5.89" fill="#ffffff"/>
<rect x="1799.97" y="482.03" width="5.93" height="5.89" fill="#ffffff"/>
<rect x="1822.49" y="482.03" width="5.93" height="5.89" fill="#0030ff"/>
<rect x="1636.76" y="487.62" width="5.93" height="5.89" fill="#ffe800"/>
<rect x="1642.38" y="487.62" width="5.93" height="5.89" fill="#ffe800"/>
<rect x="1704.29" y="487.62" width="5.93" height="5.89" fill="#ffff8c"/>
<rect x="1709.92" y="487.62" width="5.93" height="5.89" fill="#f85a4a"/>
<rect x="1732.44" y="487.62" width="5.93" height="5.89" fill="#ff8838"/>
<rect x="1788.72" y="487.62" width="5.93" height="5.89" fill="#ffff8c"/>
<rect x="1721.18" y="493.21" width="5.93" height="5.89" fill="#ffffff"/>
<rect x="1726.81" y="493.21" width="5.93" height="5.89" fill="#ff8838"/>
<rect x="1754.95" y="493.21" width="5.93" height="5.89" fill="#ff8838"/>
<rect x="1799.97" y="493.21" width="5.93" height="5.89" fill="#ffffff"/>
<rect x="1636.76" y="498.79" width="5.93" height="5.89" fill="#ffffff"/>
<rect x="1704.29" y="498.79" width="5.93" height="5.89" fill="#ffb020"/>
<rect x="1709.92" y="498.79" width="5.93" height="5.89" fill="#ffff8c"/>
<rect x="1715.55" y="498.79" width="5.93" height="5.89" fill="#ffffff"/>
<rect x="1749.32" y="498.79" width="5.93" height="5.89" fill="#0030ff"/>
<rect x="1788.72" y="498.79" width="5.93" height="5.89" fill="#ff8838"/>
<rect x="1794.35" y="498.79" width="5.93" height="5.89" fill="#ffffff"/>
<rect x="1653.64" y="504.38" width="5.93" height="5.89" fill="#0030ff"/>
<rect x="1659.27" y="504.38" width="5.93" height="5.89" fill="#0072ff"/>
<rect x="1687.41" y="504.38" width="5.93" height="5.89" fill="#ffff8c"/>
<rect x="1749.32" y="504.38" width="5.93" height="5.89" fill="#ffff8c"/>
<rect x="1766.21" y="504.38" width="5.93" height="5.89" fill="#ffb020"/>
<rect x="1771.83" y="504.38" width="5.93" height="5.89" fill="#f85a4a"/>
<rect x="1828.12" y="504.38" width="5.93" height="5.89" fill="#ff8838"/>
<rect x="1833.74" y="504.38" width="5.93" height="5.89" fill="#ff8838"/>
<rect x="1839.37" y="504.38" width="5.93" height="5.89" fill="#ffb020"/>
<rect x="1648.01" y="509.97" width="5.93" height="5.89" fill="#0030ff"/>
<rect x="1738.06" y="509.97" width="5.93" height="5.89" fill="#0030ff"/>
<rect x="1743.69" y="509.97" width="5.93" height="5.89" fill="#ffff8c"/>
<rect x="1799.97" y="509.97" width="5.93" height="5.89" fill="#ffb020"/>
<rect x="1721.18" y="515.56" width="5.93" height="5.89" fill="#ffffff"/>
<rect x="1732.44" y="515.56" width="5.93" height="5.89" fill="#ff8838"/>
<rect x="1799.97" y="515.56" width="5.93" height="5.89" fill="#ffffff"/>
<rect x="1805.60" y="515.56" width="5.93" height="5.89" fill="#ffe800"/>
<rect x="1783.09" y="521.15" width="5.93" height="5.89" fill="#ffb020"/>
<rect x="1659.27" y="526.74" width="5.93" height="5.89" fill="#0030ff"/>
<rect x="1743.69" y="526.74" width="5.93" height="5.89" fill="#ffb020"/>
<rect x="1839.37" y="526.74" width="5.93" height="5.89" fill="#ffb020"/>
<rect x="1625.50" y="532.33" width="5.93" height="5.89" fill="#ffe800"/>
<rect x="1659.27" y="532.33" width="5.93" height="5.89" fill="#0030ff"/>
<rect x="1670.53" y="532.33" width="5.93" height="5.89" fill="#ffe800"/>
<rect x="1709.92" y="532.33" width="5.93" height="5.89" fill="#0030ff"/>
<rect x="1743.69" y="532.33" width="5.93" height="5.89" fill="#f85a4a"/>
<rect x="1777.46" y="532.33" width="5.93" height="5.89" fill="#ff8838"/>
<rect x="1783.09" y="532.33" width="5.93" height="5.89" fill="#ffe800"/>
<rect x="1828.12" y="532.33" width="5.93" height="5.89" fill="#ffe800"/>
<rect x="1839.37" y="532.33" width="5.93" height="5.89" fill="#ffb020"/>
<rect x="1625.50" y="537.92" width="5.93" height="5.89" fill="#ffe800"/>
<rect x="1648.01" y="537.92" width="5.93" height="5.89" fill="#ffe800"/>
<rect x="1664.90" y="537.92" width="5.93" height="5.89" fill="#ffffff"/>
<rect x="1670.53" y="537.92" width="5.93" height="5.89" fill="#ffff8c"/>
<rect x="1676.15" y="537.92" width="5.93" height="5.89" fill="#ffff8c"/>
<rect x="1771.83" y="537.92" width="5.93" height="5.89" fill="#ff8838"/>
<rect x="1811.23" y="537.92" width="5.93" height="5.89" fill="#ffe800"/>
<rect x="1822.49" y="537.92" width="5.93" height="5.89" fill="#ffffff"/>
<rect x="1828.12" y="537.92" width="5.93" height="5.89" fill="#ffff8c"/>
<rect x="1833.74" y="537.92" width="5.93" height="5.89" fill="#f85a4a"/>
<rect x="1760.58" y="543.51" width="5.93" height="5.89" fill="#ffb020"/>
<rect x="1771.83" y="543.51" width="5.93" height="5.89" fill="#ffe800"/>
<rect x="1816.86" y="543.51" width="5.93" height="5.89" fill="#0030ff"/>
<rect x="1828.12" y="543.51" width="5.93" height="5.89" fill="#ffff8c"/>
<rect x="1636.76" y="549.10" width="5.93" height="5.89" fill="#ffffff"/>
<rect x="1642.38" y="549.10" width="5.93" height="5.89" fill="#ffff8c"/>
<rect x="1698.67" y="549.10" width="5.93" height="5.89" fill="#ffff8c"/>
<rect x="1704.29" y="549.10" width="5.93" height="5.89" fill="#ffe800"/>
<rect x="1709.92" y="549.10" width="5.93" height="5.89" fill="#ffffff"/>
<rect x="1715.55" y="549.10" width="5.93" height="5.89" fill="#ff8838"/>
<rect x="1726.81" y="549.10" width="5.93" height="5.89" fill="#ffff8c"/>
<rect x="1738.06" y="549.10" width="5.93" height="5.89" fill="#ff8838"/>
<rect x="1811.23" y="549.10" width="5.93" height="5.89" fill="#0072ff"/>
<rect x="1636.76" y="554.69" width="5.93" height="5.89" fill="#ffff8c"/>
<rect x="1698.67" y="554.69" width="5.93" height="5.89" fill="#ffff8c"/>
<rect x="1709.92" y="554.69" width="5.93" height="5.89" fill="#ffff8c"/>
<rect x="1715.55" y="554.69" width="5.93" height="5.89" fill="#ff8838"/>
<rect x="1738.06" y="554.69" width="5.93" height="5.89" fill="#ffffff"/>
<rect x="1721.18" y="560.28" width="5.93" height="5.89" fill="#ffffff"/>
<rect x="1732.44" y="560.28" width="5.93" height="5.89" fill="#ffffff"/>
<rect x="1749.32" y="560.28" width="5.93" height="5.89" fill="#ffb020"/>
<rect x="1754.95" y="560.28" width="5.93" height="5.89" fill="#ffffff"/>
<rect x="1754.95" y="565.87" width="5.93" height="5.89" fill="#ffe800"/>
<rect x="1816.86" y="565.87" width="5.93" height="5.89" fill="#0030ff"/>
<rect x="1828.12" y="565.87" width="5.93" height="5.89" fill="#ffb020"/>
<rect x="1698.67" y="571.46" width="5.93" height="5.89" fill="#ffb020"/>
<rect x="1777.46" y="571.46" width="5.93" height="5.89" fill="#ffe800"/>
<rect x="1788.72" y="571.46" width="5.93" height="5.89" fill="#0072ff"/>
<rect x="1828.12" y="571.46" width="5.93" height="5.89" fill="#ffff8c"/>
<rect x="1833.74" y="571.46" width="5.93" height="5.89" fill="#ffb020"/>
<rect x="1636.76" y="577.05" width="5.93" height="5.89" fill="#0030ff"/>
<rect x="1709.92" y="577.05" width="5.93" height="5.89" fill="#0030ff"/>
<rect x="1783.09" y="577.05" width="5.93" height="5.89" fill="#0030ff"/>
<rect x="1805.60" y="577.05" width="5.93" height="5.89" fill="#0030ff"/>
<rect x="1828.12" y="577.05" width="5.93" height="5.89" fill="#ffb020"/>
<rect x="1648.01" y="582.64" width="5.93" height="5.89" fill="#ffff8c"/>
<rect x="1664.90" y="582.64" width="5.93" height="5.89" fill="#ffff8c"/>
<rect x="1670.53" y="582.64" width="5.93" height="5.89" fill="#f85a4a"/>
<rect x="1676.15" y="582.64" width="5.93" height="5.89" fill="#ffff8c"/>
<rect x="1687.41" y="582.64" width="5.93" height="5.89" fill="#f85a4a"/>
<rect x="1704.29" y="582.64" width="5.93" height="5.89" fill="#0030ff"/>
<rect x="1721.18" y="582.64" width="5.93" height="5.89" fill="#0030ff"/>
<rect x="1777.46" y="582.64" width="5.93" height="5.89" fill="#ffffff"/>
<rect x="1653.64" y="588.23" width="5.93" height="5.89" fill="#0030ff"/>
<rect x="1693.04" y="588.23" width="5.93" height="5.89" fill="#ffe800"/>
<rect x="1743.69" y="588.23" width="5.93" height="5.89" fill="#f85a4a"/>
<rect x="1771.83" y="588.23" width="5.93" height="5.89" fill="#ffe800"/>
<rect x="1777.46" y="588.23" width="5.93" height="5.89" fill="#ffff8c"/>
<rect x="1783.09" y="588.23" width="5.93" height="5.89" fill="#ffff8c"/>
<rect x="1805.60" y="588.23" width="5.93" height="5.89" fill="#ffb020"/>
<rect x="1811.23" y="588.23" width="5.93" height="5.89" fill="#ffff8c"/>
<rect x="1816.86" y="588.23" width="5.93" height="5.89" fill="#ffb020"/>
<rect x="1833.74" y="588.23" width="5.93" height="5.89" fill="#ff8838"/>
<rect x="1743.69" y="593.82" width="5.93" height="5.89" fill="#f85a4a"/>
<rect x="1777.46" y="593.82" width="5.93" height="5.89" fill="#f85a4a"/>
<rect x="1811.23" y="593.82" width="5.93" height="5.89" fill="#ffb020"/>
<rect x="1828.12" y="593.82" width="5.93" height="5.89" fill="#ff8838"/>
<rect x="1766.21" y="599.41" width="5.93" height="5.89" fill="#ffb020"/>
<rect x="1771.83" y="599.41" width="5.93" height="5.89" fill="#ffb020"/>
<rect x="1478.42" y="169" width="1.5" height="436" fill="#f2f1ec" opacity="0.9"/>
<rect x="1406" y="240.92" width="439" height="1.5" fill="#f2f1ec" opacity="0.9"/>
<rect x="1500.93" y="169" width="1.5" height="436" fill="#f2f1ec" opacity="0.9"/>
<rect x="1406" y="263.28" width="439" height="1.5" fill="#f2f1ec" opacity="0.9"/>
<rect x="1529.07" y="169" width="1.5" height="436" fill="#f2f1ec" opacity="0.9"/>
<rect x="1406" y="291.22" width="439" height="1.5" fill="#f2f1ec" opacity="0.9"/>
<rect x="1568.47" y="169" width="1.5" height="436" fill="#f2f1ec" opacity="0.9"/>
<rect x="1406" y="330.35" width="439" height="1.5" fill="#f2f1ec" opacity="0.9"/>
<rect x="1590.98" y="169" width="1.5" height="436" fill="#f2f1ec" opacity="0.9"/>
<rect x="1406" y="352.71" width="439" height="1.5" fill="#f2f1ec" opacity="0.9"/>
<rect x="1624.25" y="169" width="2.5" height="436" fill="#f2f1ec" opacity="0.9"/>
<rect x="1406" y="385.75" width="439" height="2.5" fill="#f2f1ec" opacity="0.9"/>
<rect x="1697.92" y="169" width="1.5" height="436" fill="#f2f1ec" opacity="0.9"/>
<rect x="1406" y="458.92" width="439" height="1.5" fill="#f2f1ec" opacity="0.9"/>
<rect x="1720.43" y="169" width="1.5" height="436" fill="#f2f1ec" opacity="0.9"/>
<rect x="1406" y="481.28" width="439" height="1.5" fill="#f2f1ec" opacity="0.9"/>
<rect x="1748.57" y="169" width="1.5" height="436" fill="#f2f1ec" opacity="0.9"/>
<rect x="1406" y="509.22" width="439" height="1.5" fill="#f2f1ec" opacity="0.9"/>
<rect x="1787.97" y="169" width="1.5" height="436" fill="#f2f1ec" opacity="0.9"/>
<rect x="1406" y="548.35" width="439" height="1.5" fill="#f2f1ec" opacity="0.9"/>
<rect x="1810.48" y="169" width="1.5" height="436" fill="#f2f1ec" opacity="0.9"/>
<rect x="1406" y="570.71" width="439" height="1.5" fill="#f2f1ec" opacity="0.9"/>
<rect x="1405" y="168" width="2" height="438" fill="#6e6b66"/>
<rect x="1405" y="604" width="441" height="2.5" fill="#6e6b66"/>
<rect x="1405" y="168" width="220.50" height="2" fill="#6e6b66"/>
<rect x="1625.50" y="168" width="219.50" height="2" fill="#cfcfcd"/>
<rect x="1844" y="169" width="2" height="218.00" fill="#cfcfcd"/>
<rect x="1844" y="387.00" width="2" height="218.00" fill="#6e6b66"/>
<rect x="1405.00" y="143" width="73.57" height="18" fill="#7a0086"/>
<rect x="1481.17" y="143" width="19.91" height="18" fill="#00a5d4"/>
<rect x="1503.68" y="143" width="25.54" height="18" fill="#f5e000"/>
<rect x="1531.82" y="143" width="36.80" height="18" fill="#00e600"/>
<rect x="1571.22" y="143" width="19.91" height="18" fill="#c9a8a8"/>
<rect x="1593.73" y="143" width="31.17" height="18" fill="#cc0000"/>
<rect x="1627.50" y="143" width="70.57" height="18" fill="#7a0086"/>
<rect x="1700.67" y="143" width="19.91" height="18" fill="#00a5d4"/>
<rect x="1723.18" y="143" width="25.54" height="18" fill="#f5e000"/>
<rect x="1751.32" y="143" width="36.80" height="18" fill="#00e600"/>
<rect x="1790.72" y="143" width="19.91" height="18" fill="#c9a8a8"/>
<rect x="1813.23" y="143" width="31.17" height="18" fill="#cc0000"/>
<rect x="1405.00" y="161" width="1.8" height="8" fill="#707070"/>
<rect x="1478.17" y="161" width="1.8" height="8" fill="#707070"/>
<rect x="1500.68" y="161" width="1.8" height="8" fill="#707070"/>
<rect x="1528.82" y="161" width="1.8" height="8" fill="#707070"/>
<rect x="1568.22" y="161" width="1.8" height="8" fill="#707070"/>
<rect x="1590.73" y="161" width="1.8" height="8" fill="#707070"/>
<rect x="1624.50" y="161" width="1.8" height="8" fill="#707070"/>
<rect x="1697.67" y="161" width="1.8" height="8" fill="#707070"/>
<rect x="1720.18" y="161" width="1.8" height="8" fill="#707070"/>
<rect x="1748.32" y="161" width="1.8" height="8" fill="#707070"/>
<rect x="1787.72" y="161" width="1.8" height="8" fill="#707070"/>
<rect x="1810.23" y="161" width="1.8" height="8" fill="#707070"/>
<rect x="1844.00" y="161" width="1.8" height="8" fill="#707070"/>
<rect x="1844" y="154" width="2" height="15" fill="#8a8a8a"/>
<rect x="1391" y="168.00" width="15" height="1.8" fill="#707070"/>
<rect x="1391" y="240.67" width="15" height="1.8" fill="#707070"/>
<rect x="1391" y="263.03" width="15" height="1.8" fill="#707070"/>
<rect x="1391" y="290.97" width="15" height="1.8" fill="#707070"/>
<rect x="1391" y="330.10" width="15" height="1.8" fill="#707070"/>
<rect x="1391" y="352.46" width="15" height="1.8" fill="#707070"/>
<rect x="1391" y="386.00" width="15" height="1.8" fill="#707070"/>
<rect x="1391" y="458.67" width="15" height="1.8" fill="#707070"/>
<rect x="1391" y="481.03" width="15" height="1.8" fill="#707070"/>
<rect x="1391" y="508.97" width="15" height="1.8" fill="#707070"/>
<rect x="1391" y="548.10" width="15" height="1.8" fill="#707070"/>
<rect x="1391" y="570.46" width="15" height="1.8" fill="#707070"/>
<rect x="1391" y="604.00" width="15" height="1.8" fill="#707070"/>
<text x="46.9" y="74.3" font-size="62.6" fill="#000" text-anchor="start" >A</text>
<text x="119.7" y="74.3" font-size="62.6" fill="#000" text-anchor="start" >Differences in inter-regional covariance</text>
<text x="44.5" y="795.2" font-size="62.6" fill="#000" text-anchor="start" >B</text>
<text x="121.6" y="795.2" font-size="62.6" fill="#000" text-anchor="start" >Differences of topological parameters</text>
<text x="438.4" y="126.0" font-size="41" fill="#000" text-anchor="start" stroke="#000" stroke-width="0.9">L</text>
<text x="652.5" y="130.3" font-size="41" fill="#000" text-anchor="start" stroke="#000" stroke-width="0.9">R</text>
<text x="271.8" y="300.3" font-size="41" fill="#000" text-anchor="start" stroke="#000" stroke-width="0.9">L</text>
<text x="272.9" y="516.3" font-size="41" fill="#000" text-anchor="start" stroke="#000" stroke-width="0.9">R</text>
<defs><radialGradient id="bga" cx="50%" cy="50%" r="65%"><stop offset="0" stop-color="#e2e2e2"/><stop offset="0.75" stop-color="#d4d4d4"/><stop offset="1" stop-color="#bdbdbd"/></radialGradient><radialGradient id="nda" cx="35%" cy="35%" r="65%"><stop offset="0" stop-color="#ff9a9a"/><stop offset="0.35" stop-color="#c81010"/><stop offset="1" stop-color="#6a0000"/></radialGradient><clipPath id="cpa"><path d="M658.9,178.4 C658.2,174.5 657.8,172.2 656.8,170.8 C655.9,169.3 654.5,170.1 653.4,169.7 C652.2,169.2 651.4,168.1 650.1,168.0 C648.8,167.9 647.0,169.1 645.4,169.1 C643.8,169.1 642.0,168.0 640.6,168.3 C639.2,168.5 638.3,170.2 636.9,170.6 C635.6,171.1 633.9,170.4 632.5,171.1 C631.1,171.7 630.1,173.7 628.6,174.7 C627.1,175.7 625.3,176.5 623.8,177.1 C622.2,177.6 620.7,177.4 619.4,178.0 C618.0,178.6 616.8,179.6 615.7,180.5 C614.5,181.5 613.9,182.8 612.7,183.6 C611.6,184.4 610.0,184.3 608.9,185.4 C607.8,186.5 607.2,188.6 606.2,190.1 C605.2,191.6 603.9,193.0 602.8,194.5 C601.7,195.9 600.6,197.4 599.7,199.1 C598.9,200.7 598.4,202.4 597.7,204.2 C597.0,206.0 596.4,207.9 595.7,209.7 C595.1,211.6 594.7,213.5 594.0,215.3 C593.3,217.2 591.9,218.8 591.5,220.6 C591.1,222.5 591.8,224.5 591.7,226.5 C591.7,228.5 591.1,231.2 591.3,232.7 C591.5,234.3 592.4,234.9 592.9,236.0 C593.4,237.1 595.2,238.3 594.4,239.3 C593.7,240.3 590.3,240.4 588.6,241.8 C587.0,243.1 585.5,245.6 584.6,247.4 C583.7,249.1 583.7,250.7 583.1,252.3 C582.6,253.9 581.8,255.3 581.2,257.1 C580.7,258.9 580.2,261.2 579.8,263.3 C579.5,265.4 579.2,267.5 579.2,269.6 C579.1,271.8 579.8,273.9 579.6,276.0 C579.5,278.1 578.6,280.0 578.2,282.2 C577.8,284.4 577.1,286.9 577.2,289.2 C577.3,291.5 578.3,293.9 578.8,296.1 C579.3,298.3 580.0,300.2 580.4,302.3 C580.8,304.4 580.7,306.7 581.2,308.6 C581.8,310.6 583.0,312.2 583.7,314.1 C584.4,315.9 584.8,318.0 585.5,319.8 C586.2,321.6 587.0,323.3 587.9,324.9 C588.9,326.6 590.1,328.2 591.3,329.5 C592.6,330.9 594.3,331.6 595.4,333.0 C596.5,334.4 596.7,336.1 597.7,337.9 C598.7,339.6 601.0,341.6 601.5,343.4 C601.9,345.3 600.4,347.4 600.4,349.0 C600.3,350.7 600.7,351.9 601.1,353.3 C601.5,354.7 602.1,356.0 602.8,357.4 C603.5,358.7 604.3,360.5 605.4,361.6 C606.5,362.8 608.0,363.5 609.6,364.3 C611.1,365.2 613.0,365.7 614.6,366.7 C616.1,367.6 617.4,368.7 619.0,369.9 C620.7,371.1 622.5,373.1 624.5,374.0 C626.5,374.9 629.2,374.7 631.2,375.5 C633.2,376.2 634.7,377.4 636.5,378.3 C638.3,379.3 640.5,380.2 642.0,381.0 C643.5,381.9 644.4,382.9 645.7,383.4 C647.1,383.9 648.8,384.2 650.1,384.1 C651.4,384.0 652.3,383.2 653.4,382.8 C654.6,382.4 655.6,383.1 656.8,381.7 C658.0,380.4 659.8,377.4 660.6,374.8 C661.4,372.1 661.6,370.2 661.6,365.7 C661.5,361.2 660.7,355.3 660.2,347.6 C659.7,340.0 658.8,330.2 658.5,319.8 C658.1,309.3 657.9,296.6 657.9,285.0 C657.9,273.4 658.2,261.8 658.5,250.1 C658.8,238.5 659.5,224.6 659.8,215.3 C660.2,206.1 660.8,200.6 660.6,194.5 C660.5,188.3 659.5,182.4 658.9,178.4Z"/><path d="M679.1,178.4 C679.8,174.5 680.3,172.3 681.2,170.8 C682.0,169.2 683.3,169.6 684.4,169.1 C685.5,168.6 686.5,168.3 687.9,168.0 C689.3,167.7 691.1,167.1 692.7,167.2 C694.2,167.2 695.8,168.0 697.4,168.3 C698.9,168.5 700.4,168.2 701.7,168.7 C703.1,169.2 704.0,170.3 705.5,171.1 C706.9,171.8 708.8,172.4 710.3,173.4 C711.8,174.4 713.0,176.0 714.2,177.1 C715.5,178.1 716.6,179.0 718.0,179.6 C719.3,180.1 721.0,180.1 722.3,180.5 C723.7,181.0 725.1,181.5 726.2,182.3 C727.3,183.1 728.1,184.2 729.1,185.4 C730.1,186.6 731.4,188.2 732.5,189.7 C733.5,191.2 734.4,192.8 735.2,194.5 C736.0,196.1 736.4,198.0 737.2,199.6 C738.1,201.2 739.5,202.5 740.3,204.2 C741.1,205.9 741.4,208.0 742.0,209.8 C742.6,211.7 743.7,213.4 744.0,215.3 C744.2,217.2 743.3,219.3 743.7,221.2 C744.1,223.0 745.8,224.6 746.3,226.5 C746.7,228.4 746.8,231.2 746.7,232.7 C746.5,234.3 745.7,234.9 745.1,236.0 C744.6,237.1 742.8,238.3 743.6,239.3 C744.3,240.2 747.7,240.4 749.4,241.8 C751.0,243.1 752.4,245.6 753.4,247.4 C754.4,249.1 754.8,250.5 755.3,252.2 C755.9,253.8 756.4,255.2 756.8,257.1 C757.1,259.0 757.1,261.3 757.4,263.4 C757.8,265.5 758.4,267.6 758.8,269.6 C759.3,271.7 760.0,273.8 760.2,275.8 C760.3,277.9 760.1,280.0 759.8,282.2 C759.4,284.4 758.3,286.8 758.2,289.1 C758.1,291.4 759.2,293.9 759.2,296.1 C759.3,298.3 758.8,300.4 758.4,302.4 C758.0,304.5 757.4,306.6 756.8,308.6 C756.2,310.6 755.7,312.5 755.0,314.3 C754.2,316.2 753.5,318.1 752.5,319.8 C751.5,321.4 750.0,322.7 749.1,324.3 C748.1,326.0 747.4,327.8 746.7,329.5 C745.9,331.2 745.4,333.0 744.4,334.4 C743.3,335.8 741.6,336.4 740.3,337.9 C739.0,339.4 737.0,341.6 736.5,343.4 C736.1,345.3 737.7,347.4 737.6,349.0 C737.5,350.6 736.3,351.6 735.9,353.0 C735.5,354.4 736.0,356.2 735.2,357.4 C734.4,358.5 732.1,358.9 731.0,360.1 C729.9,361.2 729.6,363.1 728.4,364.3 C727.3,365.6 725.5,366.6 724.0,367.6 C722.4,368.5 720.9,369.3 719.0,369.9 C717.0,370.5 714.3,370.5 712.3,371.4 C710.3,372.3 708.6,374.3 706.8,375.5 C705.0,376.6 703.2,377.2 701.4,378.2 C699.6,379.1 697.6,380.4 696.0,381.0 C694.4,381.6 693.0,381.2 691.6,381.7 C690.3,382.3 689.1,383.9 687.9,384.1 C686.7,384.3 685.6,383.4 684.5,383.0 C683.4,382.6 682.3,383.1 681.2,381.7 C680.0,380.4 678.2,377.4 677.4,374.8 C676.6,372.1 676.4,370.2 676.4,365.7 C676.5,361.2 677.3,355.3 677.8,347.6 C678.3,340.0 679.2,330.2 679.5,319.8 C679.9,309.3 680.1,296.6 680.1,285.0 C680.1,273.4 679.8,261.8 679.5,250.1 C679.2,238.5 678.5,224.6 678.2,215.3 C677.8,206.1 677.2,200.6 677.4,194.5 C677.5,188.3 678.5,182.4 679.1,178.4Z"/></clipPath></defs>
<path d="M658.9,178.4 C658.2,174.5 657.8,172.2 656.8,170.8 C655.9,169.3 654.5,170.1 653.4,169.7 C652.2,169.2 651.4,168.1 650.1,168.0 C648.8,167.9 647.0,169.1 645.4,169.1 C643.8,169.1 642.0,168.0 640.6,168.3 C639.2,168.5 638.3,170.2 636.9,170.6 C635.6,171.1 633.9,170.4 632.5,171.1 C631.1,171.7 630.1,173.7 628.6,174.7 C627.1,175.7 625.3,176.5 623.8,177.1 C622.2,177.6 620.7,177.4 619.4,178.0 C618.0,178.6 616.8,179.6 615.7,180.5 C614.5,181.5 613.9,182.8 612.7,183.6 C611.6,184.4 610.0,184.3 608.9,185.4 C607.8,186.5 607.2,188.6 606.2,190.1 C605.2,191.6 603.9,193.0 602.8,194.5 C601.7,195.9 600.6,197.4 599.7,199.1 C598.9,200.7 598.4,202.4 597.7,204.2 C597.0,206.0 596.4,207.9 595.7,209.7 C595.1,211.6 594.7,213.5 594.0,215.3 C593.3,217.2 591.9,218.8 591.5,220.6 C591.1,222.5 591.8,224.5 591.7,226.5 C591.7,228.5 591.1,231.2 591.3,232.7 C591.5,234.3 592.4,234.9 592.9,236.0 C593.4,237.1 595.2,238.3 594.4,239.3 C593.7,240.3 590.3,240.4 588.6,241.8 C587.0,243.1 585.5,245.6 584.6,247.4 C583.7,249.1 583.7,250.7 583.1,252.3 C582.6,253.9 581.8,255.3 581.2,257.1 C580.7,258.9 580.2,261.2 579.8,263.3 C579.5,265.4 579.2,267.5 579.2,269.6 C579.1,271.8 579.8,273.9 579.6,276.0 C579.5,278.1 578.6,280.0 578.2,282.2 C577.8,284.4 577.1,286.9 577.2,289.2 C577.3,291.5 578.3,293.9 578.8,296.1 C579.3,298.3 580.0,300.2 580.4,302.3 C580.8,304.4 580.7,306.7 581.2,308.6 C581.8,310.6 583.0,312.2 583.7,314.1 C584.4,315.9 584.8,318.0 585.5,319.8 C586.2,321.6 587.0,323.3 587.9,324.9 C588.9,326.6 590.1,328.2 591.3,329.5 C592.6,330.9 594.3,331.6 595.4,333.0 C596.5,334.4 596.7,336.1 597.7,337.9 C598.7,339.6 601.0,341.6 601.5,343.4 C601.9,345.3 600.4,347.4 600.4,349.0 C600.3,350.7 600.7,351.9 601.1,353.3 C601.5,354.7 602.1,356.0 602.8,357.4 C603.5,358.7 604.3,360.5 605.4,361.6 C606.5,362.8 608.0,363.5 609.6,364.3 C611.1,365.2 613.0,365.7 614.6,366.7 C616.1,367.6 617.4,368.7 619.0,369.9 C620.7,371.1 622.5,373.1 624.5,374.0 C626.5,374.9 629.2,374.7 631.2,375.5 C633.2,376.2 634.7,377.4 636.5,378.3 C638.3,379.3 640.5,380.2 642.0,381.0 C643.5,381.9 644.4,382.9 645.7,383.4 C647.1,383.9 648.8,384.2 650.1,384.1 C651.4,384.0 652.3,383.2 653.4,382.8 C654.6,382.4 655.6,383.1 656.8,381.7 C658.0,380.4 659.8,377.4 660.6,374.8 C661.4,372.1 661.6,370.2 661.6,365.7 C661.5,361.2 660.7,355.3 660.2,347.6 C659.7,340.0 658.8,330.2 658.5,319.8 C658.1,309.3 657.9,296.6 657.9,285.0 C657.9,273.4 658.2,261.8 658.5,250.1 C658.8,238.5 659.5,224.6 659.8,215.3 C660.2,206.1 660.8,200.6 660.6,194.5 C660.5,188.3 659.5,182.4 658.9,178.4Z" fill="url(#bga)"/><path d="M679.1,178.4 C679.8,174.5 680.3,172.3 681.2,170.8 C682.0,169.2 683.3,169.6 684.4,169.1 C685.5,168.6 686.5,168.3 687.9,168.0 C689.3,167.7 691.1,167.1 692.7,167.2 C694.2,167.2 695.8,168.0 697.4,168.3 C698.9,168.5 700.4,168.2 701.7,168.7 C703.1,169.2 704.0,170.3 705.5,171.1 C706.9,171.8 708.8,172.4 710.3,173.4 C711.8,174.4 713.0,176.0 714.2,177.1 C715.5,178.1 716.6,179.0 718.0,179.6 C719.3,180.1 721.0,180.1 722.3,180.5 C723.7,181.0 725.1,181.5 726.2,182.3 C727.3,183.1 728.1,184.2 729.1,185.4 C730.1,186.6 731.4,188.2 732.5,189.7 C733.5,191.2 734.4,192.8 735.2,194.5 C736.0,196.1 736.4,198.0 737.2,199.6 C738.1,201.2 739.5,202.5 740.3,204.2 C741.1,205.9 741.4,208.0 742.0,209.8 C742.6,211.7 743.7,213.4 744.0,215.3 C744.2,217.2 743.3,219.3 743.7,221.2 C744.1,223.0 745.8,224.6 746.3,226.5 C746.7,228.4 746.8,231.2 746.7,232.7 C746.5,234.3 745.7,234.9 745.1,236.0 C744.6,237.1 742.8,238.3 743.6,239.3 C744.3,240.2 747.7,240.4 749.4,241.8 C751.0,243.1 752.4,245.6 753.4,247.4 C754.4,249.1 754.8,250.5 755.3,252.2 C755.9,253.8 756.4,255.2 756.8,257.1 C757.1,259.0 757.1,261.3 757.4,263.4 C757.8,265.5 758.4,267.6 758.8,269.6 C759.3,271.7 760.0,273.8 760.2,275.8 C760.3,277.9 760.1,280.0 759.8,282.2 C759.4,284.4 758.3,286.8 758.2,289.1 C758.1,291.4 759.2,293.9 759.2,296.1 C759.3,298.3 758.8,300.4 758.4,302.4 C758.0,304.5 757.4,306.6 756.8,308.6 C756.2,310.6 755.7,312.5 755.0,314.3 C754.2,316.2 753.5,318.1 752.5,319.8 C751.5,321.4 750.0,322.7 749.1,324.3 C748.1,326.0 747.4,327.8 746.7,329.5 C745.9,331.2 745.4,333.0 744.4,334.4 C743.3,335.8 741.6,336.4 740.3,337.9 C739.0,339.4 737.0,341.6 736.5,343.4 C736.1,345.3 737.7,347.4 737.6,349.0 C737.5,350.6 736.3,351.6 735.9,353.0 C735.5,354.4 736.0,356.2 735.2,357.4 C734.4,358.5 732.1,358.9 731.0,360.1 C729.9,361.2 729.6,363.1 728.4,364.3 C727.3,365.6 725.5,366.6 724.0,367.6 C722.4,368.5 720.9,369.3 719.0,369.9 C717.0,370.5 714.3,370.5 712.3,371.4 C710.3,372.3 708.6,374.3 706.8,375.5 C705.0,376.6 703.2,377.2 701.4,378.2 C699.6,379.1 697.6,380.4 696.0,381.0 C694.4,381.6 693.0,381.2 691.6,381.7 C690.3,382.3 689.1,383.9 687.9,384.1 C686.7,384.3 685.6,383.4 684.5,383.0 C683.4,382.6 682.3,383.1 681.2,381.7 C680.0,380.4 678.2,377.4 677.4,374.8 C676.6,372.1 676.4,370.2 676.4,365.7 C676.5,361.2 677.3,355.3 677.8,347.6 C678.3,340.0 679.2,330.2 679.5,319.8 C679.9,309.3 680.1,296.6 680.1,285.0 C680.1,273.4 679.8,261.8 679.5,250.1 C679.2,238.5 678.5,224.6 678.2,215.3 C677.8,206.1 677.2,200.6 677.4,194.5 C677.5,188.3 678.5,182.4 679.1,178.4Z" fill="url(#bga)"/>
<g clip-path="url(#cpa)"><path d="M660.2,291.1 q-1.2,8.5 -11.2,10.9" stroke="#c0c0c0" stroke-width="3.0" fill="none" opacity="0.8"/><path d="M690.0,209.0 q-4.7,-9.8 11.1,7.0" stroke="#c0c0c0" stroke-width="2.1" fill="none" opacity="0.8"/><path d="M757.9,380.2 q3.6,3.0 11.9,-15.7" stroke="#c4c4c4" stroke-width="2.1" fill="none" opacity="0.8"/><path d="M739.0,299.9 q-4.2,2.2 -11.0,-9.6" stroke="#c0c0c0" stroke-width="2.6" fill="none" opacity="0.8"/><path d="M577.7,186.7 q-2.2,1.2 15.5,-15.0" stroke="#b8b8b8" stroke-width="2.5" fill="none" opacity="0.8"/><path d="M716.5,280.8 q-10.3,6.4 -3.6,12.5" stroke="#efefef" stroke-width="2.8" fill="none" opacity="0.8"/><path d="M753.4,354.4 q-6.9,10.2 -16.1,-4.5" stroke="#efefef" stroke-width="3.4" fill="none" opacity="0.8"/><path d="M654.2,292.6 q6.7,-5.5 -14.9,-6.0" stroke="#f4f4f4" stroke-width="3.9" fill="none" opacity="0.8"/><path d="M716.6,194.0 q5.0,-11.7 -1.3,-0.5" stroke="#f4f4f4" stroke-width="3.4" fill="none" opacity="0.8"/><path d="M611.6,280.0 q-1.9,-2.8 -3.8,17.6" stroke="#f4f4f4" stroke-width="2.0" fill="none" opacity="0.8"/><path d="M736.1,382.5 q-4.7,9.2 -10.4,-3.8" stroke="#c4c4c4" stroke-width="3.7" fill="none" opacity="0.8"/><path d="M695.1,190.1 q-6.9,-5.8 9.8,-6.2" stroke="#f4f4f4" stroke-width="2.6" fill="none" opacity="0.8"/><path d="M590.4,187.8 q3.3,-11.6 -4.7,4.4" stroke="#c4c4c4" stroke-width="2.3" fill="none" opacity="0.8"/><path d="M685.1,351.1 q8.8,-7.6 -12.5,14.7" stroke="#f4f4f4" stroke-width="3.6" fill="none" opacity="0.8"/><path d="M622.8,209.8 q-7.3,10.8 13.8,3.7" stroke="#c4c4c4" stroke-width="2.8" fill="none" opacity="0.8"/><path d="M596.0,176.5 q-6.3,4.9 -8.7,11.7" stroke="#b8b8b8" stroke-width="3.2" fill="none" opacity="0.8"/><path d="M630.9,206.6 q-9.0,-0.5 5.5,4.2" stroke="#efefef" stroke-width="2.1" fill="none" opacity="0.8"/><path d="M616.0,369.3 q-10.3,-2.1 -9.0,-16.3" stroke="#efefef" stroke-width="2.6" fill="none" opacity="0.8"/><path d="M674.7,382.1 q-3.3,9.4 17.3,5.6" stroke="#efefef" stroke-width="3.4" fill="none" opacity="0.8"/><path d="M684.6,198.9 q10.2,-0.6 -5.1,-6.8" stroke="#efefef" stroke-width="2.1" fill="none" opacity="0.8"/><path d="M687.1,184.5 q5.5,-4.3 18.0,-15.3" stroke="#efefef" stroke-width="3.1" fill="none" opacity="0.8"/><path d="M712.7,366.0 q7.0,10.0 -5.3,6.7" stroke="#f4f4f4" stroke-width="3.8" fill="none" opacity="0.8"/><path d="M737.4,259.8 q8.7,1.7 4.5,-4.2" stroke="#efefef" stroke-width="3.2" fill="none" opacity="0.8"/><path d="M689.1,185.6 q11.8,9.1 8.2,-4.0" stroke="#efefef" stroke-width="3.5" fill="none" opacity="0.8"/><path d="M683.9,264.9 q-10.0,6.0 -16.9,3.6" stroke="#c4c4c4" stroke-width="3.0" fill="none" opacity="0.8"/><path d="M619.3,321.6 q6.7,3.8 -0.5,14.3" stroke="#c0c0c0" stroke-width="2.7" fill="none" opacity="0.8"/><path d="M603.2,302.6 q-7.9,9.7 5.8,-2.1" stroke="#c4c4c4" stroke-width="3.8" fill="none" opacity="0.8"/><path d="M637.1,314.5 q3.2,7.3 9.2,-10.8" stroke="#f4f4f4" stroke-width="2.4" fill="none" opacity="0.8"/><path d="M617.3,370.6 q-8.7,-0.1 12.1,12.6" stroke="#f4f4f4" stroke-width="3.4" fill="none" opacity="0.8"/><path d="M751.9,228.9 q-9.3,-0.7 15.3,11.9" stroke="#f4f4f4" stroke-width="2.8" fill="none" opacity="0.8"/><path d="M672.7,315.9 q-1.1,-10.2 -16.9,13.4" stroke="#c4c4c4" stroke-width="2.1" fill="none" opacity="0.8"/><path d="M707.5,293.5 q3.6,1.5 5.1,-3.4" stroke="#b8b8b8" stroke-width="2.4" fill="none" opacity="0.8"/><path d="M718.6,226.6 q7.1,11.6 -13.8,-14.1" stroke="#f4f4f4" stroke-width="3.1" fill="none" opacity="0.8"/><path d="M694.8,249.1 q4.4,-7.2 -0.9,-11.6" stroke="#efefef" stroke-width="2.0" fill="none" opacity="0.8"/><path d="M663.9,325.1 q-6.6,6.7 1.4,16.1" stroke="#f4f4f4" stroke-width="3.0" fill="none" opacity="0.8"/><path d="M760.6,203.0 q-9.9,10.4 8.0,-13.3" stroke="#f4f4f4" stroke-width="2.9" fill="none" opacity="0.8"/><path d="M692.1,368.2 q1.2,3.7 0.1,11.5" stroke="#c0c0c0" stroke-width="2.7" fill="none" opacity="0.8"/><path d="M637.0,384.1 q5.3,7.6 5.1,7.8" stroke="#efefef" stroke-width="2.4" fill="none" opacity="0.8"/><path d="M742.7,383.7 q0.9,7.0 -6.5,14.8" stroke="#b8b8b8" stroke-width="3.7" fill="none" opacity="0.8"/><path d="M641.1,186.2 q-3.8,-1.9 -8.1,15.1" stroke="#c0c0c0" stroke-width="2.4" fill="none" opacity="0.8"/><path d="M736.7,262.4 q-7.9,-4.0 10.4,-12.9" stroke="#efefef" stroke-width="2.3" fill="none" opacity="0.8"/><path d="M672.0,327.2 q10.7,-0.2 16.2,-14.9" stroke="#c0c0c0" stroke-width="2.4" fill="none" opacity="0.8"/><path d="M673.9,231.8 q3.3,0.5 12.4,2.2" stroke="#c4c4c4" stroke-width="2.6" fill="none" opacity="0.8"/><path d="M647.1,354.0 q-7.0,8.4 16.9,0.9" stroke="#c4c4c4" stroke-width="3.1" fill="none" opacity="0.8"/><path d="M613.9,285.9 q-11.9,-3.0 1.4,-16.4" stroke="#c4c4c4" stroke-width="3.8" fill="none" opacity="0.8"/><path d="M677.1,385.7 q-0.2,4.6 -15.6,1.4" stroke="#efefef" stroke-width="2.8" fill="none" opacity="0.8"/><path d="M753.2,371.2 q-6.1,-0.2 -5.8,14.4" stroke="#b8b8b8" stroke-width="3.9" fill="none" opacity="0.8"/><path d="M746.4,283.5 q-7.4,2.8 15.3,-13.3" stroke="#efefef" stroke-width="3.6" fill="none" opacity="0.8"/><path d="M581.0,210.7 q-11.7,-5.2 8.0,-9.2" stroke="#f4f4f4" stroke-width="3.0" fill="none" opacity="0.8"/><path d="M668.9,296.1 q3.0,5.2 7.2,13.6" stroke="#c4c4c4" stroke-width="2.0" fill="none" opacity="0.8"/><path d="M693.5,349.5 q-8.2,-7.1 4.7,5.0" stroke="#c4c4c4" stroke-width="3.1" fill="none" opacity="0.8"/><path d="M733.7,302.6 q-6.4,5.8 11.2,14.5" stroke="#f4f4f4" stroke-width="2.6" fill="none" opacity="0.8"/><path d="M634.9,371.0 q6.7,-7.3 -14.5,14.0" stroke="#f4f4f4" stroke-width="2.3" fill="none" opacity="0.8"/><path d="M593.1,253.3 q8.0,-1.9 10.4,-13.5" stroke="#c0c0c0" stroke-width="2.8" fill="none" opacity="0.8"/><path d="M703.1,171.9 q1.7,-3.4 11.6,-5.0" stroke="#f4f4f4" stroke-width="3.4" fill="none" opacity="0.8"/><path d="M693.8,243.6 q7.3,-0.4 -17.1,9.4" stroke="#f4f4f4" stroke-width="3.2" fill="none" opacity="0.8"/><path d="M743.7,273.9 q-7.6,-7.1 12.2,17.7" stroke="#f4f4f4" stroke-width="3.9" fill="none" opacity="0.8"/><path d="M594.4,181.6 q-10.1,-9.7 -3.9,-2.6" stroke="#c0c0c0" stroke-width="2.7" fill="none" opacity="0.8"/><path d="M615.6,250.1 q8.3,-7.6 -1.7,8.6" stroke="#efefef" stroke-width="2.8" fill="none" opacity="0.8"/><path d="M612.8,204.3 q7.0,-4.2 -14.9,12.3" stroke="#c4c4c4" stroke-width="3.8" fill="none" opacity="0.8"/><path d="M744.3,374.7 q2.4,0.1 17.4,11.0" stroke="#c4c4c4" stroke-width="2.5" fill="none" opacity="0.8"/><path d="M744.8,331.8 q7.6,-2.3 14.3,13.7" stroke="#f4f4f4" stroke-width="3.4" fill="none" opacity="0.8"/><path d="M718.3,336.4 q-7.0,-7.6 10.7,-7.1" stroke="#c0c0c0" stroke-width="2.2" fill="none" opacity="0.8"/><path d="M740.5,385.9 q-10.8,-5.4 16.6,-7.2" stroke="#c4c4c4" stroke-width="2.4" fill="none" opacity="0.8"/><path d="M651.7,208.0 q-2.6,12.0 5.1,7.2" stroke="#efefef" stroke-width="3.5" fill="none" opacity="0.8"/><path d="M757.5,173.0 q-9.4,-6.3 -2.0,0.2" stroke="#c4c4c4" stroke-width="3.5" fill="none" opacity="0.8"/><path d="M696.3,170.4 q-6.0,9.7 1.8,0.3" stroke="#b8b8b8" stroke-width="3.9" fill="none" opacity="0.8"/><path d="M681.5,386.9 q7.4,-10.2 3.5,9.3" stroke="#c0c0c0" stroke-width="2.1" fill="none" opacity="0.8"/><path d="M748.3,203.2 q11.3,8.5 1.5,3.5" stroke="#c0c0c0" stroke-width="2.9" fill="none" opacity="0.8"/><path d="M668.0,230.6 q2.3,-3.2 -7.7,5.6" stroke="#c0c0c0" stroke-width="3.1" fill="none" opacity="0.8"/><path d="M629.1,325.7 q-11.4,6.5 3.1,4.8" stroke="#b8b8b8" stroke-width="2.8" fill="none" opacity="0.8"/><path d="M703.0,179.6 q6.0,-10.8 17.6,16.0" stroke="#b8b8b8" stroke-width="2.1" fill="none" opacity="0.8"/><path d="M743.7,262.5 q-6.0,6.1 -16.4,-14.5" stroke="#c0c0c0" stroke-width="3.6" fill="none" opacity="0.8"/><path d="M744.5,199.8 q2.5,-9.2 4.5,-1.6" stroke="#f4f4f4" stroke-width="2.4" fill="none" opacity="0.8"/><path d="M586.4,284.2 q-3.3,-8.6 -3.0,3.6" stroke="#efefef" stroke-width="3.3" fill="none" opacity="0.8"/><path d="M702.5,248.1 q7.6,-8.7 -7.6,-13.4" stroke="#c4c4c4" stroke-width="3.0" fill="none" opacity="0.8"/><path d="M669.5,235.9 q3.0,-3.4 -8.2,6.7" stroke="#c4c4c4" stroke-width="3.1" fill="none" opacity="0.8"/><path d="M685.9,307.3 q-7.4,-6.0 17.3,15.0" stroke="#f4f4f4" stroke-width="3.8" fill="none" opacity="0.8"/><path d="M584.1,181.4 q-5.8,-11.4 -16.6,-10.0" stroke="#b8b8b8" stroke-width="2.6" fill="none" opacity="0.8"/><path d="M716.1,368.8 q1.2,3.1 -4.6,-0.8" stroke="#f4f4f4" stroke-width="2.4" fill="none" opacity="0.8"/><path d="M640.2,331.9 q7.3,-1.3 11.6,12.2" stroke="#efefef" stroke-width="3.5" fill="none" opacity="0.8"/><path d="M658.7,332.4 q7.4,-3.1 5.5,17.6" stroke="#c0c0c0" stroke-width="2.7" fill="none" opacity="0.8"/><path d="M678.0,332.1 q-1.7,-3.1 -14.5,13.5" stroke="#f4f4f4" stroke-width="2.2" fill="none" opacity="0.8"/><path d="M592.2,292.1 q7.6,-0.9 11.6,-17.7" stroke="#c0c0c0" stroke-width="2.6" fill="none" opacity="0.8"/><path d="M744.7,300.8 q-0.1,6.3 -6.2,13.7" stroke="#b8b8b8" stroke-width="2.4" fill="none" opacity="0.8"/><path d="M698.0,240.0 q-4.3,-1.4 3.4,14.5" stroke="#efefef" stroke-width="3.4" fill="none" opacity="0.8"/><path d="M628.3,284.6 q-1.0,-6.7 16.8,8.3" stroke="#b8b8b8" stroke-width="3.0" fill="none" opacity="0.8"/><path d="M592.4,350.3 q-3.3,-2.5 -4.0,-11.0" stroke="#efefef" stroke-width="3.1" fill="none" opacity="0.8"/><path d="M723.8,286.9 q1.5,-7.8 9.3,13.7" stroke="#c4c4c4" stroke-width="2.6" fill="none" opacity="0.8"/><path d="M580.9,281.4 q-8.2,-4.9 -17.2,12.3" stroke="#c4c4c4" stroke-width="2.8" fill="none" opacity="0.8"/><path d="M684.1,235.2 q-10.0,-10.0 8.5,14.4" stroke="#c4c4c4" stroke-width="2.2" fill="none" opacity="0.8"/><path d="M693.7,199.7 q-6.1,-6.7 9.6,0.8" stroke="#c0c0c0" stroke-width="3.5" fill="none" opacity="0.8"/><path d="M649.5,242.3 q4.1,-0.2 1.3,8.0" stroke="#b8b8b8" stroke-width="3.4" fill="none" opacity="0.8"/><path d="M745.5,258.3 q8.5,7.3 12.0,14.0" stroke="#b8b8b8" stroke-width="3.9" fill="none" opacity="0.8"/><path d="M694.9,283.2 q7.3,-1.9 -2.9,-12.7" stroke="#efefef" stroke-width="3.5" fill="none" opacity="0.8"/><path d="M759.5,250.6 q-4.3,-2.7 1.0,-8.1" stroke="#f4f4f4" stroke-width="3.8" fill="none" opacity="0.8"/><path d="M663.7,328.8 q3.6,6.6 -11.5,-15.8" stroke="#b8b8b8" stroke-width="2.9" fill="none" opacity="0.8"/><path d="M684.5,368.0 q-4.5,-7.3 -5.1,3.2" stroke="#efefef" stroke-width="3.2" fill="none" opacity="0.8"/><path d="M663.8,279.9 q-7.6,-5.3 -11.8,9.3" stroke="#c0c0c0" stroke-width="2.6" fill="none" opacity="0.8"/><path d="M677.9,347.8 q8.5,-0.4 -3.5,16.4" stroke="#c0c0c0" stroke-width="3.3" fill="none" opacity="0.8"/><path d="M719.1,188.3 q-2.4,-6.8 -13.2,10.7" stroke="#f4f4f4" stroke-width="4.0" fill="none" opacity="0.8"/><path d="M723.3,338.3 q3.8,-6.3 -17.6,-1.0" stroke="#efefef" stroke-width="2.7" fill="none" opacity="0.8"/><path d="M723.7,324.9 q9.0,-2.0 9.8,-12.8" stroke="#c4c4c4" stroke-width="3.8" fill="none" opacity="0.8"/><path d="M726.1,196.8 q-5.6,0.8 -12.6,9.7" stroke="#c4c4c4" stroke-width="2.0" fill="none" opacity="0.8"/><path d="M728.2,354.2 q-10.0,-5.5 7.8,-14.5" stroke="#f4f4f4" stroke-width="3.0" fill="none" opacity="0.8"/><path d="M663.2,378.2 q1.0,0.1 -17.3,-11.2" stroke="#c4c4c4" stroke-width="2.4" fill="none" opacity="0.8"/><path d="M702.6,339.9 q-7.0,1.0 0.9,-12.3" stroke="#c0c0c0" stroke-width="3.7" fill="none" opacity="0.8"/><path d="M634.2,236.4 q1.4,11.9 6.0,-15.6" stroke="#efefef" stroke-width="2.1" fill="none" opacity="0.8"/><path d="M602.8,314.9 q5.9,6.8 -13.6,-2.0" stroke="#c0c0c0" stroke-width="3.7" fill="none" opacity="0.8"/><path d="M708.0,272.6 q1.5,-1.0 -17.6,17.7" stroke="#b8b8b8" stroke-width="3.6" fill="none" opacity="0.8"/></g>
<path d="M658.9,178.4 C658.2,174.5 657.8,172.2 656.8,170.8 C655.9,169.3 654.5,170.1 653.4,169.7 C652.2,169.2 651.4,168.1 650.1,168.0 C648.8,167.9 647.0,169.1 645.4,169.1 C643.8,169.1 642.0,168.0 640.6,168.3 C639.2,168.5 638.3,170.2 636.9,170.6 C635.6,171.1 633.9,170.4 632.5,171.1 C631.1,171.7 630.1,173.7 628.6,174.7 C627.1,175.7 625.3,176.5 623.8,177.1 C622.2,177.6 620.7,177.4 619.4,178.0 C618.0,178.6 616.8,179.6 615.7,180.5 C614.5,181.5 613.9,182.8 612.7,183.6 C611.6,184.4 610.0,184.3 608.9,185.4 C607.8,186.5 607.2,188.6 606.2,190.1 C605.2,191.6 603.9,193.0 602.8,194.5 C601.7,195.9 600.6,197.4 599.7,199.1 C598.9,200.7 598.4,202.4 597.7,204.2 C597.0,206.0 596.4,207.9 595.7,209.7 C595.1,211.6 594.7,213.5 594.0,215.3 C593.3,217.2 591.9,218.8 591.5,220.6 C591.1,222.5 591.8,224.5 591.7,226.5 C591.7,228.5 591.1,231.2 591.3,232.7 C591.5,234.3 592.4,234.9 592.9,236.0 C593.4,237.1 595.2,238.3 594.4,239.3 C593.7,240.3 590.3,240.4 588.6,241.8 C587.0,243.1 585.5,245.6 584.6,247.4 C583.7,249.1 583.7,250.7 583.1,252.3 C582.6,253.9 581.8,255.3 581.2,257.1 C580.7,258.9 580.2,261.2 579.8,263.3 C579.5,265.4 579.2,267.5 579.2,269.6 C579.1,271.8 579.8,273.9 579.6,276.0 C579.5,278.1 578.6,280.0 578.2,282.2 C577.8,284.4 577.1,286.9 577.2,289.2 C577.3,291.5 578.3,293.9 578.8,296.1 C579.3,298.3 580.0,300.2 580.4,302.3 C580.8,304.4 580.7,306.7 581.2,308.6 C581.8,310.6 583.0,312.2 583.7,314.1 C584.4,315.9 584.8,318.0 585.5,319.8 C586.2,321.6 587.0,323.3 587.9,324.9 C588.9,326.6 590.1,328.2 591.3,329.5 C592.6,330.9 594.3,331.6 595.4,333.0 C596.5,334.4 596.7,336.1 597.7,337.9 C598.7,339.6 601.0,341.6 601.5,343.4 C601.9,345.3 600.4,347.4 600.4,349.0 C600.3,350.7 600.7,351.9 601.1,353.3 C601.5,354.7 602.1,356.0 602.8,357.4 C603.5,358.7 604.3,360.5 605.4,361.6 C606.5,362.8 608.0,363.5 609.6,364.3 C611.1,365.2 613.0,365.7 614.6,366.7 C616.1,367.6 617.4,368.7 619.0,369.9 C620.7,371.1 622.5,373.1 624.5,374.0 C626.5,374.9 629.2,374.7 631.2,375.5 C633.2,376.2 634.7,377.4 636.5,378.3 C638.3,379.3 640.5,380.2 642.0,381.0 C643.5,381.9 644.4,382.9 645.7,383.4 C647.1,383.9 648.8,384.2 650.1,384.1 C651.4,384.0 652.3,383.2 653.4,382.8 C654.6,382.4 655.6,383.1 656.8,381.7 C658.0,380.4 659.8,377.4 660.6,374.8 C661.4,372.1 661.6,370.2 661.6,365.7 C661.5,361.2 660.7,355.3 660.2,347.6 C659.7,340.0 658.8,330.2 658.5,319.8 C658.1,309.3 657.9,296.6 657.9,285.0 C657.9,273.4 658.2,261.8 658.5,250.1 C658.8,238.5 659.5,224.6 659.8,215.3 C660.2,206.1 660.8,200.6 660.6,194.5 C660.5,188.3 659.5,182.4 658.9,178.4Z" fill="none" stroke="#111" stroke-width="1.3"/><path d="M679.1,178.4 C679.8,174.5 680.3,172.3 681.2,170.8 C682.0,169.2 683.3,169.6 684.4,169.1 C685.5,168.6 686.5,168.3 687.9,168.0 C689.3,167.7 691.1,167.1 692.7,167.2 C694.2,167.2 695.8,168.0 697.4,168.3 C698.9,168.5 700.4,168.2 701.7,168.7 C703.1,169.2 704.0,170.3 705.5,171.1 C706.9,171.8 708.8,172.4 710.3,173.4 C711.8,174.4 713.0,176.0 714.2,177.1 C715.5,178.1 716.6,179.0 718.0,179.6 C719.3,180.1 721.0,180.1 722.3,180.5 C723.7,181.0 725.1,181.5 726.2,182.3 C727.3,183.1 728.1,184.2 729.1,185.4 C730.1,186.6 731.4,188.2 732.5,189.7 C733.5,191.2 734.4,192.8 735.2,194.5 C736.0,196.1 736.4,198.0 737.2,199.6 C738.1,201.2 739.5,202.5 740.3,204.2 C741.1,205.9 741.4,208.0 742.0,209.8 C742.6,211.7 743.7,213.4 744.0,215.3 C744.2,217.2 743.3,219.3 743.7,221.2 C744.1,223.0 745.8,224.6 746.3,226.5 C746.7,228.4 746.8,231.2 746.7,232.7 C746.5,234.3 745.7,234.9 745.1,236.0 C744.6,237.1 742.8,238.3 743.6,239.3 C744.3,240.2 747.7,240.4 749.4,241.8 C751.0,243.1 752.4,245.6 753.4,247.4 C754.4,249.1 754.8,250.5 755.3,252.2 C755.9,253.8 756.4,255.2 756.8,257.1 C757.1,259.0 757.1,261.3 757.4,263.4 C757.8,265.5 758.4,267.6 758.8,269.6 C759.3,271.7 760.0,273.8 760.2,275.8 C760.3,277.9 760.1,280.0 759.8,282.2 C759.4,284.4 758.3,286.8 758.2,289.1 C758.1,291.4 759.2,293.9 759.2,296.1 C759.3,298.3 758.8,300.4 758.4,302.4 C758.0,304.5 757.4,306.6 756.8,308.6 C756.2,310.6 755.7,312.5 755.0,314.3 C754.2,316.2 753.5,318.1 752.5,319.8 C751.5,321.4 750.0,322.7 749.1,324.3 C748.1,326.0 747.4,327.8 746.7,329.5 C745.9,331.2 745.4,333.0 744.4,334.4 C743.3,335.8 741.6,336.4 740.3,337.9 C739.0,339.4 737.0,341.6 736.5,343.4 C736.1,345.3 737.7,347.4 737.6,349.0 C737.5,350.6 736.3,351.6 735.9,353.0 C735.5,354.4 736.0,356.2 735.2,357.4 C734.4,358.5 732.1,358.9 731.0,360.1 C729.9,361.2 729.6,363.1 728.4,364.3 C727.3,365.6 725.5,366.6 724.0,367.6 C722.4,368.5 720.9,369.3 719.0,369.9 C717.0,370.5 714.3,370.5 712.3,371.4 C710.3,372.3 708.6,374.3 706.8,375.5 C705.0,376.6 703.2,377.2 701.4,378.2 C699.6,379.1 697.6,380.4 696.0,381.0 C694.4,381.6 693.0,381.2 691.6,381.7 C690.3,382.3 689.1,383.9 687.9,384.1 C686.7,384.3 685.6,383.4 684.5,383.0 C683.4,382.6 682.3,383.1 681.2,381.7 C680.0,380.4 678.2,377.4 677.4,374.8 C676.6,372.1 676.4,370.2 676.4,365.7 C676.5,361.2 677.3,355.3 677.8,347.6 C678.3,340.0 679.2,330.2 679.5,319.8 C679.9,309.3 680.1,296.6 680.1,285.0 C680.1,273.4 679.8,261.8 679.5,250.1 C679.2,238.5 678.5,224.6 678.2,215.3 C677.8,206.1 677.2,200.6 677.4,194.5 C677.5,188.3 678.5,182.4 679.1,178.4Z" fill="none" stroke="#111" stroke-width="1.3"/>
<rect x="660.5" y="186.0" width="17" height="176" fill="#f6f6f6"/>
<path d="M661.0,188.0 V360.0 M677.0,188.0 V360.0" stroke="#111" stroke-width="1.3"/>
<line x1="660.5" y1="190.0" x2="677.5" y2="190.0" stroke="#0a50d8" stroke-width="2.6"/>
<line x1="660.5" y1="196.0" x2="677.5" y2="196.0" stroke="#0a50d8" stroke-width="2.0"/>
<line x1="660.5" y1="208.0" x2="677.5" y2="208.0" stroke="#1a6ae8" stroke-width="2.6"/>
<line x1="660.5" y1="218.0" x2="677.5" y2="218.0" stroke="#0a50d8" stroke-width="2.0"/>
<line x1="660.5" y1="242.0" x2="677.5" y2="242.0" stroke="#1a6ae8" stroke-width="2.6"/>
<line x1="660.5" y1="250.0" x2="677.5" y2="250.0" stroke="#222" stroke-width="2.0"/>
<line x1="660.5" y1="264.0" x2="677.5" y2="264.0" stroke="#0a50d8" stroke-width="1.5"/>
<line x1="660.5" y1="278.0" x2="677.5" y2="278.0" stroke="#1a6ae8" stroke-width="2.6"/>
<line x1="660.5" y1="292.0" x2="677.5" y2="292.0" stroke="#222" stroke-width="2.0"/>
<line x1="660.5" y1="306.0" x2="677.5" y2="306.0" stroke="#0a50d8" stroke-width="2.0"/>
<line x1="660.5" y1="318.0" x2="677.5" y2="318.0" stroke="#1a6ae8" stroke-width="2.6"/>
<line x1="660.5" y1="328.0" x2="677.5" y2="328.0" stroke="#0a50d8" stroke-width="2.0"/>
<line x1="660.5" y1="344.0" x2="677.5" y2="344.0" stroke="#1a6ae8" stroke-width="1.5"/>
<line x1="660.5" y1="359.0" x2="677.5" y2="359.0" stroke="#222" stroke-width="1.5"/>
<line x1="660.5" y1="196.0" x2="677.5" y2="208.0" stroke="#0a50d8" stroke-width="1.8"/>
<line x1="660.5" y1="218.0" x2="677.5" y2="208.0" stroke="#1a6ae8" stroke-width="1.8"/>
<line x1="660.5" y1="250.0" x2="677.5" y2="242.0" stroke="#0a50d8" stroke-width="1.8"/>
<line x1="660.5" y1="264.0" x2="677.5" y2="278.0" stroke="#f0a020" stroke-width="1.8"/>
<line x1="660.5" y1="292.0" x2="677.5" y2="306.0" stroke="#0a50d8" stroke-width="1.8"/>
<line x1="660.5" y1="344.0" x2="677.5" y2="328.0" stroke="#1a6ae8" stroke-width="1.8"/>
<line x1="683.2" y1="324.6" x2="606.9" y2="307.9" stroke="#f0b020" stroke-width="1.4" opacity="0.8"/>
<line x1="654.1" y1="189.6" x2="686.6" y2="274.5" stroke="#ffc000" stroke-width="1.4" opacity="0.8"/>
<line x1="593.4" y1="278.0" x2="718.3" y2="310.0" stroke="#ffc000" stroke-width="1.4" opacity="0.8"/>
<line x1="613.0" y1="349.0" x2="721.7" y2="218.1" stroke="#f5c842" stroke-width="1.4" opacity="0.8"/>
<line x1="628.5" y1="325.3" x2="608.9" y2="278.7" stroke="#f5c842" stroke-width="1.4" opacity="0.8"/>
<line x1="619.7" y1="310.0" x2="743.3" y2="294.0" stroke="#f5a623" stroke-width="1.4" opacity="0.8"/>
<line x1="653.5" y1="243.9" x2="651.4" y2="274.5" stroke="#f5c842" stroke-width="1.4" opacity="0.8"/>
<line x1="596.1" y1="298.2" x2="733.8" y2="284.3" stroke="#ffc000" stroke-width="1.4" opacity="0.8"/>
<line x1="615.7" y1="246.0" x2="744.6" y2="278.0" stroke="#f5c842" stroke-width="1.4" opacity="0.8"/>
<line x1="744.6" y1="278.0" x2="683.9" y2="189.6" stroke="#f0b020" stroke-width="1.4" opacity="0.8"/>
<line x1="605.5" y1="212.6" x2="720.3" y2="240.4" stroke="#f0b020" stroke-width="1.4" opacity="0.8"/>
<line x1="707.5" y1="359.5" x2="696.0" y2="330.2" stroke="#ffc000" stroke-width="1.4" opacity="0.8"/>
<line x1="619.7" y1="310.0" x2="732.5" y2="212.6" stroke="#ffc000" stroke-width="1.4" opacity="0.8"/>
<line x1="654.1" y1="284.3" x2="693.3" y2="345.5" stroke="#f5a623" stroke-width="1.4" opacity="0.8"/>
<line x1="725.0" y1="349.0" x2="720.3" y2="240.4" stroke="#f0b020" stroke-width="1.4" opacity="0.8"/>
<line x1="637.3" y1="209.1" x2="686.6" y2="274.5" stroke="#f0b020" stroke-width="1.4" opacity="0.8"/>
<line x1="619.7" y1="310.0" x2="615.7" y2="246.0" stroke="#f5a623" stroke-width="1.4" opacity="0.8"/>
<line x1="619.7" y1="190.3" x2="594.7" y2="294.0" stroke="#ffc000" stroke-width="1.4" opacity="0.8"/>
<line x1="630.5" y1="282.9" x2="604.2" y2="326.0" stroke="#f0b020" stroke-width="1.4" opacity="0.8"/>
<line x1="727.8" y1="258.5" x2="700.7" y2="209.1" stroke="#f08a30" stroke-width="1.4" opacity="0.8"/>
<line x1="655.5" y1="195.2" x2="683.2" y2="324.6" stroke="#f0b020" stroke-width="1.4" opacity="0.8"/>
<line x1="720.3" y1="240.4" x2="741.9" y2="298.2" stroke="#f08a30" stroke-width="1.4" opacity="0.8"/>
<line x1="654.1" y1="189.6" x2="653.5" y2="243.9" stroke="#f0b020" stroke-width="1.4" opacity="0.8"/>
<line x1="642.0" y1="330.2" x2="693.3" y2="345.5" stroke="#f5a623" stroke-width="1.4" opacity="0.8"/>
<line x1="615.7" y1="246.0" x2="709.5" y2="325.3" stroke="#f5a623" stroke-width="1.4" opacity="0.8"/>
<line x1="683.2" y1="324.6" x2="610.2" y2="258.5" stroke="#ffc000" stroke-width="1.4" opacity="0.8"/>
<line x1="617.7" y1="240.4" x2="686.6" y2="274.5" stroke="#f0b020" stroke-width="1.4" opacity="0.8"/>
<line x1="619.7" y1="310.0" x2="640.0" y2="200.7" stroke="#f5a623" stroke-width="1.4" opacity="0.8"/>
<line x1="615.7" y1="246.0" x2="683.2" y2="324.6" stroke="#f08a30" stroke-width="1.4" opacity="0.8"/>
<line x1="721.7" y1="218.1" x2="630.5" y2="359.5" stroke="#ffc000" stroke-width="1.4" opacity="0.8"/>
<line x1="642.0" y1="330.2" x2="594.7" y2="294.0" stroke="#f08a30" stroke-width="1.4" opacity="0.8"/>
<line x1="693.3" y1="345.5" x2="642.0" y2="330.2" stroke="#f08a30" stroke-width="1.4" opacity="0.8"/>
<line x1="687.9" y1="236.2" x2="650.1" y2="236.2" stroke="#f5c842" stroke-width="1.4" opacity="0.8"/>
<line x1="619.7" y1="310.0" x2="729.8" y2="346.2" stroke="#f08a30" stroke-width="1.4" opacity="0.8"/>
<line x1="683.9" y1="189.6" x2="731.1" y2="307.9" stroke="#f5a623" stroke-width="1.4" opacity="0.8"/>
<line x1="743.3" y1="294.0" x2="729.8" y2="346.2" stroke="#f08a30" stroke-width="1.4" opacity="0.8"/>
<line x1="731.1" y1="307.9" x2="741.9" y2="298.2" stroke="#f5c842" stroke-width="1.4" opacity="0.8"/>
<line x1="637.3" y1="209.1" x2="707.5" y2="282.9" stroke="#f5a623" stroke-width="1.4" opacity="0.8"/>
<line x1="725.0" y1="349.0" x2="707.5" y2="282.9" stroke="#f5c842" stroke-width="1.4" opacity="0.8"/>
<line x1="654.8" y1="324.6" x2="640.0" y2="200.7" stroke="#f08a30" stroke-width="1.4" opacity="0.8"/>
<line x1="721.7" y1="218.1" x2="630.5" y2="282.9" stroke="#f5c842" stroke-width="1.4" opacity="0.8"/>
<line x1="741.9" y1="298.2" x2="654.8" y2="324.6" stroke="#f0b020" stroke-width="1.4" opacity="0.8"/>
<line x1="637.3" y1="209.1" x2="733.8" y2="326.0" stroke="#f5c842" stroke-width="1.4" opacity="0.8"/>
<line x1="696.0" y1="330.2" x2="684.5" y2="243.9" stroke="#f0b020" stroke-width="1.4" opacity="0.8"/>
<line x1="696.0" y1="330.2" x2="687.9" y2="236.2" stroke="#f5a623" stroke-width="1.4" opacity="0.8"/>
<line x1="616.3" y1="218.1" x2="732.5" y2="212.6" stroke="#2a8af0" stroke-width="1.8"/>
<line x1="617.7" y1="240.4" x2="650.1" y2="236.2" stroke="#1f6fe8" stroke-width="1.8"/>
<line x1="610.2" y1="258.5" x2="653.5" y2="243.9" stroke="#1e78d8" stroke-width="1.8"/>
<line x1="628.5" y1="325.3" x2="654.1" y2="284.3" stroke="#2a8af0" stroke-width="1.8"/>
<line x1="658.9" y1="309.3" x2="709.5" y2="325.3" stroke="#1e78d8" stroke-width="1.8"/>
<line x1="696.0" y1="330.2" x2="731.1" y2="307.9" stroke="#2a8af0" stroke-width="1.8"/>
<line x1="651.4" y1="274.5" x2="610.2" y2="258.5" stroke="#2a8af0" stroke-width="1.8"/>
<line x1="731.1" y1="307.9" x2="596.1" y2="298.2" stroke="#2a8af0" stroke-width="1.8"/>
<line x1="741.9" y1="298.2" x2="743.3" y2="294.0" stroke="#1f6fe8" stroke-width="1.8"/>
<line x1="731.1" y1="307.9" x2="729.1" y2="278.7" stroke="#2a8af0" stroke-width="1.8"/>
<line x1="683.9" y1="284.3" x2="709.5" y2="325.3" stroke="#2a8af0" stroke-width="1.8"/>
<line x1="654.1" y1="189.6" x2="594.7" y2="294.0" stroke="#0a60e0" stroke-width="1.8"/>
<line x1="615.7" y1="246.0" x2="596.1" y2="298.2" stroke="#2a8af0" stroke-width="1.8"/>
<line x1="608.9" y1="278.7" x2="654.8" y2="324.6" stroke="#0a60e0" stroke-width="1.8"/>
<line x1="683.9" y1="284.3" x2="733.8" y2="284.3" stroke="#0a60e0" stroke-width="1.8"/>
<line x1="593.4" y1="278.0" x2="640.0" y2="200.7" stroke="#1f6fe8" stroke-width="1.8"/>
<line x1="729.8" y1="346.2" x2="689.3" y2="358.1" stroke="#0a60e0" stroke-width="1.8"/>
<line x1="651.4" y1="274.5" x2="744.6" y2="278.0" stroke="#0a60e0" stroke-width="1.8"/>
<line x1="658.9" y1="309.3" x2="608.9" y2="278.7" stroke="#1e78d8" stroke-width="1.8"/>
<line x1="594.7" y1="294.0" x2="683.9" y2="284.3" stroke="#1f6fe8" stroke-width="1.8"/>
<line x1="653.5" y1="243.9" x2="605.5" y2="212.6" stroke="#0a60e0" stroke-width="1.8"/>
<line x1="630.5" y1="359.5" x2="727.8" y2="258.5" stroke="#1e78d8" stroke-width="1.8"/>
<line x1="683.2" y1="324.6" x2="727.8" y2="258.5" stroke="#1f6fe8" stroke-width="1.8"/>
<line x1="683.9" y1="284.3" x2="732.5" y2="212.6" stroke="#1e78d8" stroke-width="1.8"/>
<line x1="729.8" y1="346.2" x2="613.0" y2="349.0" stroke="#2a8af0" stroke-width="1.8"/>
<line x1="654.1" y1="189.6" x2="682.5" y2="195.2" stroke="#1f6fe8" stroke-width="1.8"/>
<line x1="658.9" y1="309.3" x2="606.9" y2="307.9" stroke="#1e78d8" stroke-width="1.8"/>
<line x1="653.5" y1="243.9" x2="722.3" y2="246.0" stroke="#2a8af0" stroke-width="1.8"/>
<line x1="733.8" y1="284.3" x2="682.5" y2="195.2" stroke="#1e78d8" stroke-width="1.8"/>
<line x1="733.8" y1="326.0" x2="709.5" y2="325.3" stroke="#0a60e0" stroke-width="1.8"/>
<line x1="653.5" y1="243.9" x2="616.3" y2="218.1" stroke="#1e78d8" stroke-width="1.8"/>
<line x1="630.5" y1="282.9" x2="596.1" y2="298.2" stroke="#2a8af0" stroke-width="1.8"/>
<line x1="743.3" y1="294.0" x2="731.1" y2="307.9" stroke="#1e78d8" stroke-width="1.8"/>
<line x1="617.7" y1="240.4" x2="653.5" y2="243.9" stroke="#1f6fe8" stroke-width="1.8"/>
<line x1="640.0" y1="200.7" x2="637.3" y2="209.1" stroke="#0a60e0" stroke-width="1.8"/>
<line x1="648.7" y1="358.1" x2="654.8" y2="324.6" stroke="#0a60e0" stroke-width="1.8"/>
<line x1="615.7" y1="246.0" x2="610.2" y2="258.5" stroke="#2a8af0" stroke-width="1.8"/>
<line x1="604.2" y1="326.0" x2="604.2" y2="326.0" stroke="#2a8af0" stroke-width="1.8"/>
<line x1="616.3" y1="218.1" x2="687.9" y2="236.2" stroke="#2a8af0" stroke-width="1.8"/>
<line x1="741.9" y1="298.2" x2="682.5" y2="195.2" stroke="#0a60e0" stroke-width="1.8"/>
<line x1="619.7" y1="190.3" x2="700.7" y2="209.1" stroke="#1f6fe8" stroke-width="1.8"/>
<line x1="720.3" y1="240.4" x2="684.5" y2="243.9" stroke="#2a8af0" stroke-width="1.8"/>
<line x1="616.3" y1="218.1" x2="616.3" y2="218.1" stroke="#2a8af0" stroke-width="1.8"/>
<line x1="733.8" y1="284.3" x2="718.3" y2="310.0" stroke="#2a8af0" stroke-width="1.8"/>
<line x1="651.4" y1="274.5" x2="683.9" y2="284.3" stroke="#1f6fe8" stroke-width="1.8"/>
<circle cx="619.7" cy="190.3" r="3.4" fill="url(#nda)"/>
<circle cx="718.3" cy="190.3" r="3.4" fill="url(#nda)"/>
<circle cx="654.1" cy="189.6" r="3.4" fill="url(#nda)"/>
<circle cx="683.9" cy="189.6" r="3.4" fill="url(#nda)"/>
<circle cx="655.5" cy="195.2" r="3.4" fill="url(#nda)"/>
<circle cx="682.5" cy="195.2" r="3.4" fill="url(#nda)"/>
<circle cx="640.0" cy="200.7" r="3.4" fill="url(#nda)"/>
<circle cx="698.0" cy="200.7" r="3.4" fill="url(#nda)"/>
<circle cx="637.3" cy="209.1" r="3.4" fill="url(#nda)"/>
<circle cx="700.7" cy="209.1" r="3.4" fill="url(#nda)"/>
<circle cx="605.5" cy="212.6" r="3.4" fill="url(#nda)"/>
<circle cx="732.5" cy="212.6" r="3.4" fill="url(#nda)"/>
<circle cx="616.3" cy="218.1" r="3.4" fill="url(#nda)"/>
<circle cx="721.7" cy="218.1" r="3.4" fill="url(#nda)"/>
<circle cx="650.1" cy="236.2" r="3.4" fill="url(#nda)"/>
<circle cx="687.9" cy="236.2" r="3.4" fill="url(#nda)"/>
<circle cx="617.7" cy="240.4" r="3.4" fill="url(#nda)"/>
<circle cx="720.3" cy="240.4" r="3.4" fill="url(#nda)"/>
<circle cx="615.7" cy="246.0" r="3.4" fill="url(#nda)"/>
<circle cx="722.3" cy="246.0" r="3.4" fill="url(#nda)"/>
<circle cx="653.5" cy="243.9" r="3.4" fill="url(#nda)"/>
<circle cx="684.5" cy="243.9" r="3.4" fill="url(#nda)"/>
<circle cx="610.2" cy="258.5" r="3.4" fill="url(#nda)"/>
<circle cx="727.8" cy="258.5" r="3.4" fill="url(#nda)"/>
<circle cx="593.4" cy="278.0" r="3.4" fill="url(#nda)"/>
<circle cx="744.6" cy="278.0" r="3.4" fill="url(#nda)"/>
<circle cx="608.9" cy="278.7" r="3.4" fill="url(#nda)"/>
<circle cx="729.1" cy="278.7" r="3.4" fill="url(#nda)"/>
<circle cx="604.2" cy="284.3" r="3.4" fill="url(#nda)"/>
<circle cx="733.8" cy="284.3" r="3.4" fill="url(#nda)"/>
<circle cx="630.5" cy="282.9" r="3.4" fill="url(#nda)"/>
<circle cx="707.5" cy="282.9" r="3.4" fill="url(#nda)"/>
<circle cx="651.4" cy="274.5" r="3.4" fill="url(#nda)"/>
<circle cx="686.6" cy="274.5" r="3.4" fill="url(#nda)"/>
<circle cx="654.1" cy="284.3" r="3.4" fill="url(#nda)"/>
<circle cx="683.9" cy="284.3" r="3.4" fill="url(#nda)"/>
<circle cx="594.7" cy="294.0" r="3.4" fill="url(#nda)"/>
<circle cx="743.3" cy="294.0" r="3.4" fill="url(#nda)"/>
<circle cx="596.1" cy="298.2" r="3.4" fill="url(#nda)"/>
<circle cx="741.9" cy="298.2" r="3.4" fill="url(#nda)"/>
<circle cx="606.9" cy="307.9" r="3.4" fill="url(#nda)"/>
<circle cx="731.1" cy="307.9" r="3.4" fill="url(#nda)"/>
<circle cx="619.7" cy="310.0" r="3.4" fill="url(#nda)"/>
<circle cx="718.3" cy="310.0" r="3.4" fill="url(#nda)"/>
<circle cx="658.9" cy="309.3" r="3.4" fill="url(#nda)"/>
<circle cx="679.1" cy="309.3" r="3.4" fill="url(#nda)"/>
<circle cx="604.2" cy="326.0" r="3.4" fill="url(#nda)"/>
<circle cx="733.8" cy="326.0" r="3.4" fill="url(#nda)"/>
<circle cx="628.5" cy="325.3" r="3.4" fill="url(#nda)"/>
<circle cx="709.5" cy="325.3" r="3.4" fill="url(#nda)"/>
<circle cx="654.8" cy="324.6" r="3.4" fill="url(#nda)"/>
<circle cx="683.2" cy="324.6" r="3.4" fill="url(#nda)"/>
<circle cx="642.0" cy="330.2" r="3.4" fill="url(#nda)"/>
<circle cx="696.0" cy="330.2" r="3.4" fill="url(#nda)"/>
<circle cx="608.2" cy="346.2" r="3.4" fill="url(#nda)"/>
<circle cx="729.8" cy="346.2" r="3.4" fill="url(#nda)"/>
<circle cx="613.0" cy="349.0" r="3.4" fill="url(#nda)"/>
<circle cx="725.0" cy="349.0" r="3.4" fill="url(#nda)"/>
<circle cx="644.7" cy="345.5" r="3.4" fill="url(#nda)"/>
<circle cx="693.3" cy="345.5" r="3.4" fill="url(#nda)"/>
<circle cx="630.5" cy="359.5" r="3.4" fill="url(#nda)"/>
<circle cx="707.5" cy="359.5" r="3.4" fill="url(#nda)"/>
<circle cx="648.7" cy="358.1" r="3.4" fill="url(#nda)"/>
<circle cx="689.3" cy="358.1" r="3.4" fill="url(#nda)"/>
<defs><radialGradient id="bgb" cx="50%" cy="50%" r="65%"><stop offset="0" stop-color="#e2e2e2"/><stop offset="0.75" stop-color="#d4d4d4"/><stop offset="1" stop-color="#bdbdbd"/></radialGradient><radialGradient id="ndb" cx="35%" cy="35%" r="65%"><stop offset="0" stop-color="#ff9a9a"/><stop offset="0.35" stop-color="#c81010"/><stop offset="1" stop-color="#6a0000"/></radialGradient><clipPath id="cpb"><path d="M1186.2,178.4 C1185.6,174.5 1185.1,172.2 1184.1,170.8 C1183.1,169.3 1181.6,170.1 1180.4,169.7 C1179.2,169.2 1178.3,168.1 1176.9,168.0 C1175.5,167.9 1173.6,169.1 1171.9,169.1 C1170.3,169.1 1168.4,168.0 1166.9,168.3 C1165.4,168.5 1164.3,170.2 1162.9,170.6 C1161.5,171.1 1159.8,170.4 1158.3,171.1 C1156.8,171.7 1155.6,173.7 1154.1,174.7 C1152.5,175.7 1150.6,176.5 1149.0,177.1 C1147.3,177.6 1145.8,177.4 1144.3,178.0 C1142.9,178.6 1141.5,179.6 1140.4,180.5 C1139.2,181.5 1138.4,182.8 1137.2,183.6 C1136.0,184.4 1134.3,184.3 1133.2,185.4 C1132.0,186.5 1131.3,188.6 1130.3,190.1 C1129.2,191.7 1127.9,193.0 1126.7,194.5 C1125.6,195.9 1124.4,197.4 1123.5,199.0 C1122.6,200.7 1122.0,202.4 1121.3,204.2 C1120.6,206.0 1119.9,207.9 1119.2,209.7 C1118.6,211.6 1118.1,213.5 1117.4,215.3 C1116.7,217.2 1115.2,218.8 1114.8,220.6 C1114.4,222.5 1115.0,224.5 1115.0,226.5 C1114.9,228.5 1114.3,231.2 1114.5,232.7 C1114.7,234.3 1115.7,234.9 1116.2,236.0 C1116.8,237.1 1118.6,238.3 1117.8,239.3 C1117.1,240.3 1113.0,240.9 1111.7,241.8 C1110.3,242.7 1110.4,243.8 1109.7,244.7 C1109.0,245.7 1108.1,246.1 1107.4,247.4 C1106.6,248.6 1105.8,250.5 1105.2,252.1 C1104.6,253.7 1104.1,255.2 1103.8,257.1 C1103.5,259.0 1104.0,261.4 1103.6,263.5 C1103.2,265.6 1102.3,267.6 1101.6,269.6 C1101.0,271.7 1100.0,273.7 1099.8,275.8 C1099.7,277.9 1100.4,280.0 1100.6,282.2 C1100.9,284.4 1101.2,286.8 1101.3,289.1 C1101.4,291.4 1100.9,293.9 1101.2,296.1 C1101.5,298.3 1102.4,300.2 1102.8,302.3 C1103.3,304.4 1103.3,306.6 1103.8,308.6 C1104.2,310.7 1104.8,312.6 1105.5,314.4 C1106.3,316.3 1107.2,318.2 1108.4,319.8 C1109.5,321.4 1111.4,322.4 1112.4,324.0 C1113.4,325.7 1113.7,327.9 1114.5,329.5 C1115.4,331.2 1116.4,332.6 1117.5,334.0 C1118.6,335.4 1120.0,336.3 1121.3,337.9 C1122.6,339.4 1124.8,341.6 1125.3,343.4 C1125.8,345.3 1124.3,347.3 1124.1,349.0 C1124.0,350.7 1123.9,352.1 1124.4,353.5 C1124.8,354.9 1125.7,356.2 1126.7,357.4 C1127.8,358.5 1129.5,359.3 1130.7,360.5 C1131.9,361.6 1132.6,363.0 1133.9,364.3 C1135.2,365.6 1136.6,367.4 1138.2,368.4 C1139.9,369.3 1142.3,369.3 1143.9,369.9 C1145.6,370.5 1146.8,371.1 1148.2,371.8 C1149.6,372.6 1150.8,373.8 1152.2,374.4 C1153.6,375.0 1155.1,374.8 1156.8,375.5 C1158.6,376.1 1160.7,377.2 1162.6,378.2 C1164.5,379.1 1166.6,380.3 1168.3,381.0 C1170.0,381.7 1171.3,381.8 1172.7,382.3 C1174.2,382.8 1175.7,384.1 1176.9,384.1 C1178.2,384.1 1179.1,382.6 1180.3,382.2 C1181.5,381.8 1182.8,383.0 1184.1,381.7 C1185.4,380.5 1187.3,377.4 1188.1,374.8 C1188.9,372.1 1189.2,370.2 1189.1,365.7 C1189.0,361.2 1188.2,355.3 1187.7,347.6 C1187.1,340.0 1186.2,330.2 1185.8,319.8 C1185.4,309.3 1185.2,296.6 1185.2,285.0 C1185.2,273.4 1185.5,261.8 1185.8,250.1 C1186.1,238.5 1186.9,224.6 1187.2,215.3 C1187.6,206.1 1188.3,200.6 1188.1,194.5 C1187.9,188.3 1186.9,182.4 1186.2,178.4Z"/><path d="M1207.8,178.4 C1208.4,174.5 1209.0,172.3 1209.9,170.8 C1210.8,169.2 1212.2,169.6 1213.4,169.1 C1214.6,168.6 1215.6,168.3 1217.1,168.0 C1218.5,167.7 1220.5,167.1 1222.1,167.2 C1223.8,167.2 1225.5,168.0 1227.1,168.3 C1228.7,168.5 1230.3,168.2 1231.7,168.7 C1233.2,169.2 1234.2,170.3 1235.7,171.1 C1237.2,171.8 1239.3,172.4 1240.8,173.4 C1242.4,174.4 1243.7,176.0 1245.0,177.1 C1246.4,178.1 1247.6,179.0 1249.0,179.6 C1250.5,180.1 1252.2,180.1 1253.6,180.5 C1255.1,181.0 1256.5,181.5 1257.7,182.3 C1258.9,183.1 1259.7,184.2 1260.8,185.4 C1261.9,186.6 1263.3,188.2 1264.4,189.7 C1265.4,191.2 1266.4,192.8 1267.3,194.5 C1268.1,196.1 1268.6,198.0 1269.5,199.6 C1270.4,201.2 1271.9,202.5 1272.7,204.2 C1273.6,205.9 1273.9,208.0 1274.5,209.8 C1275.2,211.7 1276.3,213.4 1276.6,215.3 C1276.9,217.2 1276.0,219.4 1276.4,221.2 C1276.8,223.1 1278.5,224.6 1279.0,226.5 C1279.5,228.4 1279.7,231.2 1279.5,232.7 C1279.3,234.3 1278.4,234.9 1277.8,236.0 C1277.3,237.1 1275.4,238.3 1276.2,239.3 C1276.9,240.2 1280.9,240.9 1282.3,241.8 C1283.8,242.7 1284.0,243.5 1284.7,244.4 C1285.4,245.4 1286.1,246.0 1286.6,247.4 C1287.2,248.7 1287.5,250.7 1288.1,252.4 C1288.7,254.0 1289.5,255.3 1290.2,257.1 C1290.9,258.9 1291.8,261.1 1292.2,263.2 C1292.5,265.3 1292.5,267.5 1292.4,269.6 C1292.3,271.8 1291.4,273.9 1291.6,276.0 C1291.8,278.1 1293.1,280.0 1293.4,282.2 C1293.7,284.4 1293.6,286.8 1293.5,289.2 C1293.4,291.5 1293.1,293.9 1292.8,296.1 C1292.5,298.3 1292.3,300.3 1291.9,302.4 C1291.4,304.5 1291.0,306.7 1290.2,308.6 C1289.5,310.6 1288.1,312.1 1287.4,314.0 C1286.6,315.8 1286.3,317.9 1285.6,319.8 C1285.0,321.6 1284.5,323.6 1283.5,325.2 C1282.5,326.9 1280.8,328.2 1279.5,329.5 C1278.2,330.9 1276.8,332.0 1275.7,333.4 C1274.6,334.8 1273.9,336.2 1272.7,337.9 C1271.6,339.5 1269.2,341.6 1268.7,343.4 C1268.2,345.3 1270.1,347.4 1269.9,349.0 C1269.7,350.6 1267.9,351.5 1267.5,352.9 C1267.1,354.2 1267.8,356.0 1267.3,357.4 C1266.7,358.8 1265.2,360.1 1264.0,361.2 C1262.9,362.4 1261.7,363.5 1260.1,364.3 C1258.5,365.1 1256.1,364.9 1254.4,365.9 C1252.7,366.8 1251.5,368.9 1250.1,369.9 C1248.6,370.9 1247.2,371.2 1245.7,371.7 C1244.2,372.2 1242.5,372.2 1241.1,372.8 C1239.7,373.4 1238.8,374.5 1237.2,375.5 C1235.5,376.4 1233.4,377.4 1231.5,378.3 C1229.6,379.3 1227.3,380.3 1225.7,381.0 C1224.0,381.8 1222.9,382.3 1221.5,382.9 C1220.1,383.4 1218.4,384.0 1217.1,384.1 C1215.7,384.2 1214.5,384.0 1213.3,383.6 C1212.1,383.2 1211.1,383.2 1209.9,381.7 C1208.7,380.3 1206.7,377.4 1205.9,374.8 C1205.1,372.1 1204.8,370.2 1204.9,365.7 C1205.0,361.2 1205.8,355.3 1206.3,347.6 C1206.9,340.0 1207.8,330.2 1208.2,319.8 C1208.6,309.3 1208.8,296.6 1208.8,285.0 C1208.8,273.4 1208.5,261.8 1208.2,250.1 C1207.9,238.5 1207.1,224.6 1206.8,215.3 C1206.4,206.1 1205.7,200.6 1205.9,194.5 C1206.1,188.3 1207.1,182.4 1207.8,178.4Z"/></clipPath></defs>
<path d="M1186.2,178.4 C1185.6,174.5 1185.1,172.2 1184.1,170.8 C1183.1,169.3 1181.6,170.1 1180.4,169.7 C1179.2,169.2 1178.3,168.1 1176.9,168.0 C1175.5,167.9 1173.6,169.1 1171.9,169.1 C1170.3,169.1 1168.4,168.0 1166.9,168.3 C1165.4,168.5 1164.3,170.2 1162.9,170.6 C1161.5,171.1 1159.8,170.4 1158.3,171.1 C1156.8,171.7 1155.6,173.7 1154.1,174.7 C1152.5,175.7 1150.6,176.5 1149.0,177.1 C1147.3,177.6 1145.8,177.4 1144.3,178.0 C1142.9,178.6 1141.5,179.6 1140.4,180.5 C1139.2,181.5 1138.4,182.8 1137.2,183.6 C1136.0,184.4 1134.3,184.3 1133.2,185.4 C1132.0,186.5 1131.3,188.6 1130.3,190.1 C1129.2,191.7 1127.9,193.0 1126.7,194.5 C1125.6,195.9 1124.4,197.4 1123.5,199.0 C1122.6,200.7 1122.0,202.4 1121.3,204.2 C1120.6,206.0 1119.9,207.9 1119.2,209.7 C1118.6,211.6 1118.1,213.5 1117.4,215.3 C1116.7,217.2 1115.2,218.8 1114.8,220.6 C1114.4,222.5 1115.0,224.5 1115.0,226.5 C1114.9,228.5 1114.3,231.2 1114.5,232.7 C1114.7,234.3 1115.7,234.9 1116.2,236.0 C1116.8,237.1 1118.6,238.3 1117.8,239.3 C1117.1,240.3 1113.0,240.9 1111.7,241.8 C1110.3,242.7 1110.4,243.8 1109.7,244.7 C1109.0,245.7 1108.1,246.1 1107.4,247.4 C1106.6,248.6 1105.8,250.5 1105.2,252.1 C1104.6,253.7 1104.1,255.2 1103.8,257.1 C1103.5,259.0 1104.0,261.4 1103.6,263.5 C1103.2,265.6 1102.3,267.6 1101.6,269.6 C1101.0,271.7 1100.0,273.7 1099.8,275.8 C1099.7,277.9 1100.4,280.0 1100.6,282.2 C1100.9,284.4 1101.2,286.8 1101.3,289.1 C1101.4,291.4 1100.9,293.9 1101.2,296.1 C1101.5,298.3 1102.4,300.2 1102.8,302.3 C1103.3,304.4 1103.3,306.6 1103.8,308.6 C1104.2,310.7 1104.8,312.6 1105.5,314.4 C1106.3,316.3 1107.2,318.2 1108.4,319.8 C1109.5,321.4 1111.4,322.4 1112.4,324.0 C1113.4,325.7 1113.7,327.9 1114.5,329.5 C1115.4,331.2 1116.4,332.6 1117.5,334.0 C1118.6,335.4 1120.0,336.3 1121.3,337.9 C1122.6,339.4 1124.8,341.6 1125.3,343.4 C1125.8,345.3 1124.3,347.3 1124.1,349.0 C1124.0,350.7 1123.9,352.1 1124.4,353.5 C1124.8,354.9 1125.7,356.2 1126.7,357.4 C1127.8,358.5 1129.5,359.3 1130.7,360.5 C1131.9,361.6 1132.6,363.0 1133.9,364.3 C1135.2,365.6 1136.6,367.4 1138.2,368.4 C1139.9,369.3 1142.3,369.3 1143.9,369.9 C1145.6,370.5 1146.8,371.1 1148.2,371.8 C1149.6,372.6 1150.8,373.8 1152.2,374.4 C1153.6,375.0 1155.1,374.8 1156.8,375.5 C1158.6,376.1 1160.7,377.2 1162.6,378.2 C1164.5,379.1 1166.6,380.3 1168.3,381.0 C1170.0,381.7 1171.3,381.8 1172.7,382.3 C1174.2,382.8 1175.7,384.1 1176.9,384.1 C1178.2,384.1 1179.1,382.6 1180.3,382.2 C1181.5,381.8 1182.8,383.0 1184.1,381.7 C1185.4,380.5 1187.3,377.4 1188.1,374.8 C1188.9,372.1 1189.2,370.2 1189.1,365.7 C1189.0,361.2 1188.2,355.3 1187.7,347.6 C1187.1,340.0 1186.2,330.2 1185.8,319.8 C1185.4,309.3 1185.2,296.6 1185.2,285.0 C1185.2,273.4 1185.5,261.8 1185.8,250.1 C1186.1,238.5 1186.9,224.6 1187.2,215.3 C1187.6,206.1 1188.3,200.6 1188.1,194.5 C1187.9,188.3 1186.9,182.4 1186.2,178.4Z" fill="url(#bgb)"/><path d="M1207.8,178.4 C1208.4,174.5 1209.0,172.3 1209.9,170.8 C1210.8,169.2 1212.2,169.6 1213.4,169.1 C1214.6,168.6 1215.6,168.3 1217.1,168.0 C1218.5,167.7 1220.5,167.1 1222.1,167.2 C1223.8,167.2 1225.5,168.0 1227.1,168.3 C1228.7,168.5 1230.3,168.2 1231.7,168.7 C1233.2,169.2 1234.2,170.3 1235.7,171.1 C1237.2,171.8 1239.3,172.4 1240.8,173.4 C1242.4,174.4 1243.7,176.0 1245.0,177.1 C1246.4,178.1 1247.6,179.0 1249.0,179.6 C1250.5,180.1 1252.2,180.1 1253.6,180.5 C1255.1,181.0 1256.5,181.5 1257.7,182.3 C1258.9,183.1 1259.7,184.2 1260.8,185.4 C1261.9,186.6 1263.3,188.2 1264.4,189.7 C1265.4,191.2 1266.4,192.8 1267.3,194.5 C1268.1,196.1 1268.6,198.0 1269.5,199.6 C1270.4,201.2 1271.9,202.5 1272.7,204.2 C1273.6,205.9 1273.9,208.0 1274.5,209.8 C1275.2,211.7 1276.3,213.4 1276.6,215.3 C1276.9,217.2 1276.0,219.4 1276.4,221.2 C1276.8,223.1 1278.5,224.6 1279.0,226.5 C1279.5,228.4 1279.7,231.2 1279.5,232.7 C1279.3,234.3 1278.4,234.9 1277.8,236.0 C1277.3,237.1 1275.4,238.3 1276.2,239.3 C1276.9,240.2 1280.9,240.9 1282.3,241.8 C1283.8,242.7 1284.0,243.5 1284.7,244.4 C1285.4,245.4 1286.1,246.0 1286.6,247.4 C1287.2,248.7 1287.5,250.7 1288.1,252.4 C1288.7,254.0 1289.5,255.3 1290.2,257.1 C1290.9,258.9 1291.8,261.1 1292.2,263.2 C1292.5,265.3 1292.5,267.5 1292.4,269.6 C1292.3,271.8 1291.4,273.9 1291.6,276.0 C1291.8,278.1 1293.1,280.0 1293.4,282.2 C1293.7,284.4 1293.6,286.8 1293.5,289.2 C1293.4,291.5 1293.1,293.9 1292.8,296.1 C1292.5,298.3 1292.3,300.3 1291.9,302.4 C1291.4,304.5 1291.0,306.7 1290.2,308.6 C1289.5,310.6 1288.1,312.1 1287.4,314.0 C1286.6,315.8 1286.3,317.9 1285.6,319.8 C1285.0,321.6 1284.5,323.6 1283.5,325.2 C1282.5,326.9 1280.8,328.2 1279.5,329.5 C1278.2,330.9 1276.8,332.0 1275.7,333.4 C1274.6,334.8 1273.9,336.2 1272.7,337.9 C1271.6,339.5 1269.2,341.6 1268.7,343.4 C1268.2,345.3 1270.1,347.4 1269.9,349.0 C1269.7,350.6 1267.9,351.5 1267.5,352.9 C1267.1,354.2 1267.8,356.0 1267.3,357.4 C1266.7,358.8 1265.2,360.1 1264.0,361.2 C1262.9,362.4 1261.7,363.5 1260.1,364.3 C1258.5,365.1 1256.1,364.9 1254.4,365.9 C1252.7,366.8 1251.5,368.9 1250.1,369.9 C1248.6,370.9 1247.2,371.2 1245.7,371.7 C1244.2,372.2 1242.5,372.2 1241.1,372.8 C1239.7,373.4 1238.8,374.5 1237.2,375.5 C1235.5,376.4 1233.4,377.4 1231.5,378.3 C1229.6,379.3 1227.3,380.3 1225.7,381.0 C1224.0,381.8 1222.9,382.3 1221.5,382.9 C1220.1,383.4 1218.4,384.0 1217.1,384.1 C1215.7,384.2 1214.5,384.0 1213.3,383.6 C1212.1,383.2 1211.1,383.2 1209.9,381.7 C1208.7,380.3 1206.7,377.4 1205.9,374.8 C1205.1,372.1 1204.8,370.2 1204.9,365.7 C1205.0,361.2 1205.8,355.3 1206.3,347.6 C1206.9,340.0 1207.8,330.2 1208.2,319.8 C1208.6,309.3 1208.8,296.6 1208.8,285.0 C1208.8,273.4 1208.5,261.8 1208.2,250.1 C1207.9,238.5 1207.1,224.6 1206.8,215.3 C1206.4,206.1 1205.7,200.6 1205.9,194.5 C1206.1,188.3 1207.1,182.4 1207.8,178.4Z" fill="url(#bgb)"/>
<g clip-path="url(#cpb)"><path d="M1192.0,312.6 q-8.6,-11.7 -4.5,-8.1" stroke="#b8b8b8" stroke-width="3.6" fill="none" opacity="0.8"/><path d="M1234.3,300.3 q-12.0,3.0 17.2,-4.8" stroke="#c4c4c4" stroke-width="2.7" fill="none" opacity="0.8"/><path d="M1140.3,294.8 q-10.2,4.5 -5.9,-3.4" stroke="#f4f4f4" stroke-width="3.7" fill="none" opacity="0.8"/><path d="M1102.8,181.4 q-6.6,11.7 -2.7,-2.0" stroke="#c4c4c4" stroke-width="3.3" fill="none" opacity="0.8"/><path d="M1289.2,286.7 q1.4,11.4 13.9,2.0" stroke="#c4c4c4" stroke-width="3.0" fill="none" opacity="0.8"/><path d="M1115.5,301.6 q-0.7,2.6 1.5,5.1" stroke="#c4c4c4" stroke-width="2.2" fill="none" opacity="0.8"/><path d="M1136.7,341.2 q-3.4,-3.3 6.8,6.3" stroke="#b8b8b8" stroke-width="2.2" fill="none" opacity="0.8"/><path d="M1145.1,247.9 q1.8,6.4 -11.5,-4.3" stroke="#c4c4c4" stroke-width="3.7" fill="none" opacity="0.8"/><path d="M1105.6,173.7 q-11.0,-7.1 3.9,9.1" stroke="#c0c0c0" stroke-width="2.4" fill="none" opacity="0.8"/><path d="M1114.4,228.2 q-5.4,-3.7 4.9,-16.1" stroke="#c0c0c0" stroke-width="2.9" fill="none" opacity="0.8"/><path d="M1140.0,230.0 q4.7,8.5 -9.4,17.6" stroke="#c0c0c0" stroke-width="2.9" fill="none" opacity="0.8"/><path d="M1206.6,208.0 q9.9,-11.8 -8.3,9.7" stroke="#f4f4f4" stroke-width="2.7" fill="none" opacity="0.8"/><path d="M1146.4,169.9 q-6.1,-9.2 -5.0,1.7" stroke="#efefef" stroke-width="2.3" fill="none" opacity="0.8"/><path d="M1280.7,362.0 q3.3,-6.5 1.0,-0.8" stroke="#b8b8b8" stroke-width="3.3" fill="none" opacity="0.8"/><path d="M1150.6,376.3 q-1.2,2.8 -16.3,-6.1" stroke="#f4f4f4" stroke-width="3.7" fill="none" opacity="0.8"/><path d="M1224.4,265.9 q5.6,0.5 -17.0,-17.9" stroke="#f4f4f4" stroke-width="2.1" fill="none" opacity="0.8"/><path d="M1208.4,226.5 q-6.2,-1.6 17.3,2.2" stroke="#f4f4f4" stroke-width="3.2" fill="none" opacity="0.8"/><path d="M1279.2,379.6 q-2.0,2.1 14.4,10.4" stroke="#efefef" stroke-width="3.2" fill="none" opacity="0.8"/><path d="M1167.2,249.1 q1.5,-11.6 7.6,14.5" stroke="#c0c0c0" stroke-width="3.6" fill="none" opacity="0.8"/><path d="M1274.8,368.3 q-7.2,10.2 10.5,7.6" stroke="#c4c4c4" stroke-width="2.4" fill="none" opacity="0.8"/><path d="M1152.1,342.5 q-0.2,2.7 -10.4,3.6" stroke="#c4c4c4" stroke-width="3.4" fill="none" opacity="0.8"/><path d="M1212.8,183.8 q-4.2,4.4 -12.9,-14.7" stroke="#b8b8b8" stroke-width="2.6" fill="none" opacity="0.8"/><path d="M1235.3,335.1 q-3.2,-11.3 -0.4,-2.0" stroke="#c0c0c0" stroke-width="2.4" fill="none" opacity="0.8"/><path d="M1229.8,243.1 q9.2,-9.7 -9.9,16.7" stroke="#f4f4f4" stroke-width="2.7" fill="none" opacity="0.8"/><path d="M1265.3,319.5 q-6.7,10.1 0.0,7.1" stroke="#b8b8b8" stroke-width="2.3" fill="none" opacity="0.8"/><path d="M1190.1,301.4 q-1.0,6.9 -16.2,9.8" stroke="#f4f4f4" stroke-width="2.8" fill="none" opacity="0.8"/><path d="M1235.9,342.2 q4.2,3.9 17.0,1.9" stroke="#c4c4c4" stroke-width="3.4" fill="none" opacity="0.8"/><path d="M1167.7,329.1 q6.6,9.5 4.8,-11.9" stroke="#b8b8b8" stroke-width="3.0" fill="none" opacity="0.8"/><path d="M1255.9,197.6 q-10.9,7.3 -7.7,15.7" stroke="#c0c0c0" stroke-width="3.2" fill="none" opacity="0.8"/><path d="M1175.3,360.1 q-4.3,-9.0 5.1,12.3" stroke="#c4c4c4" stroke-width="3.2" fill="none" opacity="0.8"/><path d="M1252.6,258.7 q3.8,-3.8 9.7,-0.3" stroke="#c4c4c4" stroke-width="3.9" fill="none" opacity="0.8"/><path d="M1258.6,208.2 q8.1,-9.4 -8.4,14.0" stroke="#f4f4f4" stroke-width="3.7" fill="none" opacity="0.8"/><path d="M1226.9,331.2 q11.5,10.0 9.7,12.9" stroke="#b8b8b8" stroke-width="2.6" fill="none" opacity="0.8"/><path d="M1269.9,332.8 q1.3,-11.0 11.2,-11.0" stroke="#efefef" stroke-width="2.4" fill="none" opacity="0.8"/><path d="M1257.4,371.9 q6.6,1.1 -17.2,14.8" stroke="#f4f4f4" stroke-width="2.7" fill="none" opacity="0.8"/><path d="M1196.7,212.1 q0.7,3.6 10.8,0.2" stroke="#efefef" stroke-width="3.3" fill="none" opacity="0.8"/><path d="M1190.6,307.5 q8.5,9.4 -17.0,12.4" stroke="#c0c0c0" stroke-width="2.0" fill="none" opacity="0.8"/><path d="M1129.5,334.6 q4.6,11.0 6.6,-2.6" stroke="#b8b8b8" stroke-width="2.8" fill="none" opacity="0.8"/><path d="M1218.1,333.9 q-3.6,-6.4 -2.8,11.0" stroke="#f4f4f4" stroke-width="3.7" fill="none" opacity="0.8"/><path d="M1281.7,174.8 q2.8,11.2 16.6,8.9" stroke="#c4c4c4" stroke-width="3.9" fill="none" opacity="0.8"/><path d="M1104.6,218.1 q3.1,-0.9 -5.9,5.4" stroke="#c0c0c0" stroke-width="3.7" fill="none" opacity="0.8"/><path d="M1255.7,254.0 q-3.9,-10.6 10.7,6.7" stroke="#c4c4c4" stroke-width="4.0" fill="none" opacity="0.8"/><path d="M1127.0,194.9 q2.4,4.1 -17.5,-9.8" stroke="#c0c0c0" stroke-width="3.0" fill="none" opacity="0.8"/><path d="M1242.2,349.7 q-3.8,-2.8 13.0,17.6" stroke="#b8b8b8" stroke-width="3.0" fill="none" opacity="0.8"/><path d="M1137.3,305.4 q2.9,-10.5 -5.7,-8.4" stroke="#c4c4c4" stroke-width="3.1" fill="none" opacity="0.8"/><path d="M1263.2,314.6 q5.9,-5.9 -2.9,-14.3" stroke="#c0c0c0" stroke-width="3.5" fill="none" opacity="0.8"/><path d="M1222.8,206.0 q-8.3,2.9 -8.1,-5.9" stroke="#c4c4c4" stroke-width="2.7" fill="none" opacity="0.8"/><path d="M1276.6,369.6 q2.4,-10.3 4.5,14.0" stroke="#c4c4c4" stroke-width="3.9" fill="none" opacity="0.8"/><path d="M1220.6,303.5 q-4.9,-4.0 5.7,-3.7" stroke="#f4f4f4" stroke-width="3.0" fill="none" opacity="0.8"/><path d="M1225.9,184.2 q-9.6,-6.0 11.2,17.6" stroke="#c4c4c4" stroke-width="3.3" fill="none" opacity="0.8"/><path d="M1132.7,264.4 q-10.4,4.5 -11.2,-8.1" stroke="#b8b8b8" stroke-width="2.2" fill="none" opacity="0.8"/><path d="M1140.7,208.3 q-1.0,10.5 -3.9,-1.2" stroke="#b8b8b8" stroke-width="2.7" fill="none" opacity="0.8"/><path d="M1239.1,333.3 q2.2,6.8 -0.5,5.7" stroke="#f4f4f4" stroke-width="3.4" fill="none" opacity="0.8"/><path d="M1265.3,242.7 q-4.6,-11.4 14.1,10.4" stroke="#c0c0c0" stroke-width="2.8" fill="none" opacity="0.8"/><path d="M1288.4,366.5 q4.6,0.5 2.8,-11.5" stroke="#f4f4f4" stroke-width="2.8" fill="none" opacity="0.8"/><path d="M1261.8,199.3 q-9.2,-4.6 -12.3,-13.6" stroke="#c0c0c0" stroke-width="3.7" fill="none" opacity="0.8"/><path d="M1173.4,275.9 q-9.8,-7.4 12.2,-4.3" stroke="#c4c4c4" stroke-width="3.1" fill="none" opacity="0.8"/><path d="M1149.3,378.5 q6.8,-9.0 -10.5,12.4" stroke="#b8b8b8" stroke-width="2.2" fill="none" opacity="0.8"/><path d="M1145.9,175.5 q9.8,-9.4 4.2,-11.3" stroke="#c4c4c4" stroke-width="3.7" fill="none" opacity="0.8"/><path d="M1263.4,309.7 q-4.8,11.8 -4.2,12.3" stroke="#c0c0c0" stroke-width="2.2" fill="none" opacity="0.8"/><path d="M1206.1,368.3 q1.5,8.2 14.3,1.8" stroke="#c0c0c0" stroke-width="3.1" fill="none" opacity="0.8"/><path d="M1264.9,250.0 q-11.4,7.1 1.0,4.4" stroke="#f4f4f4" stroke-width="4.0" fill="none" opacity="0.8"/><path d="M1142.2,257.6 q5.9,0.6 10.0,6.4" stroke="#c4c4c4" stroke-width="3.7" fill="none" opacity="0.8"/><path d="M1226.4,247.9 q-3.7,3.7 11.7,-13.9" stroke="#b8b8b8" stroke-width="3.6" fill="none" opacity="0.8"/><path d="M1111.7,201.1 q0.8,-7.8 11.8,13.0" stroke="#c4c4c4" stroke-width="4.0" fill="none" opacity="0.8"/><path d="M1142.9,256.6 q-5.2,1.7 7.2,9.1" stroke="#f4f4f4" stroke-width="3.6" fill="none" opacity="0.8"/><path d="M1246.1,230.8 q-7.1,10.9 15.5,-5.2" stroke="#c0c0c0" stroke-width="2.6" fill="none" opacity="0.8"/><path d="M1219.1,249.8 q-4.2,1.6 1.4,1.1" stroke="#b8b8b8" stroke-width="4.0" fill="none" opacity="0.8"/><path d="M1276.2,233.7 q-4.4,10.5 -15.9,-6.6" stroke="#c4c4c4" stroke-width="3.9" fill="none" opacity="0.8"/><path d="M1228.6,323.4 q9.2,-9.9 16.5,3.9" stroke="#f4f4f4" stroke-width="3.5" fill="none" opacity="0.8"/><path d="M1293.6,385.1 q12.0,6.7 -2.3,14.8" stroke="#b8b8b8" stroke-width="2.6" fill="none" opacity="0.8"/><path d="M1109.2,379.1 q3.8,-0.5 -10.7,-10.1" stroke="#b8b8b8" stroke-width="2.1" fill="none" opacity="0.8"/><path d="M1117.5,273.4 q0.3,4.2 -1.2,9.9" stroke="#f4f4f4" stroke-width="3.4" fill="none" opacity="0.8"/><path d="M1291.9,354.0 q2.2,-8.0 -1.0,-1.9" stroke="#f4f4f4" stroke-width="2.3" fill="none" opacity="0.8"/><path d="M1138.6,258.5 q-5.8,-10.3 -1.1,15.2" stroke="#f4f4f4" stroke-width="2.9" fill="none" opacity="0.8"/><path d="M1116.9,312.2 q-7.9,8.3 2.6,-11.6" stroke="#f4f4f4" stroke-width="3.2" fill="none" opacity="0.8"/><path d="M1115.6,322.3 q3.0,3.9 -16.4,-1.0" stroke="#b8b8b8" stroke-width="3.7" fill="none" opacity="0.8"/><path d="M1244.3,198.8 q8.6,-1.0 17.8,2.2" stroke="#efefef" stroke-width="2.5" fill="none" opacity="0.8"/><path d="M1280.9,381.4 q9.4,0.4 3.4,0.9" stroke="#f4f4f4" stroke-width="3.3" fill="none" opacity="0.8"/><path d="M1148.1,254.4 q-5.5,10.7 13.6,6.1" stroke="#c4c4c4" stroke-width="2.9" fill="none" opacity="0.8"/><path d="M1107.3,350.9 q11.1,3.1 9.7,2.0" stroke="#f4f4f4" stroke-width="3.3" fill="none" opacity="0.8"/><path d="M1230.7,172.1 q5.6,-8.6 -7.2,-10.5" stroke="#efefef" stroke-width="2.9" fill="none" opacity="0.8"/><path d="M1279.5,352.8 q7.6,0.3 10.6,-15.5" stroke="#c4c4c4" stroke-width="2.3" fill="none" opacity="0.8"/><path d="M1178.3,353.3 q-8.4,-10.1 -8.4,14.0" stroke="#efefef" stroke-width="2.5" fill="none" opacity="0.8"/><path d="M1240.3,194.2 q-7.9,2.3 8.7,13.6" stroke="#c4c4c4" stroke-width="2.9" fill="none" opacity="0.8"/><path d="M1291.9,257.4 q9.9,12.0 -14.2,-8.2" stroke="#b8b8b8" stroke-width="3.4" fill="none" opacity="0.8"/><path d="M1272.4,224.5 q-0.6,-11.9 -14.9,-17.7" stroke="#c0c0c0" stroke-width="2.5" fill="none" opacity="0.8"/><path d="M1281.7,317.5 q9.2,6.4 -4.1,-15.6" stroke="#c0c0c0" stroke-width="3.8" fill="none" opacity="0.8"/><path d="M1288.3,301.7 q4.5,5.9 11.7,-6.8" stroke="#f4f4f4" stroke-width="2.6" fill="none" opacity="0.8"/><path d="M1241.5,178.3 q-4.4,-2.6 -6.7,7.7" stroke="#f4f4f4" stroke-width="2.3" fill="none" opacity="0.8"/><path d="M1125.7,182.6 q-10.1,-4.1 -4.3,-6.5" stroke="#f4f4f4" stroke-width="2.6" fill="none" opacity="0.8"/><path d="M1114.0,242.4 q-9.4,-1.8 -8.4,-15.9" stroke="#efefef" stroke-width="2.3" fill="none" opacity="0.8"/><path d="M1280.8,326.0 q7.5,5.7 -9.8,-14.1" stroke="#c4c4c4" stroke-width="4.0" fill="none" opacity="0.8"/><path d="M1233.1,327.1 q-11.5,-3.1 12.8,-4.8" stroke="#f4f4f4" stroke-width="2.3" fill="none" opacity="0.8"/><path d="M1184.2,193.8 q10.1,1.4 12.2,-11.3" stroke="#efefef" stroke-width="3.3" fill="none" opacity="0.8"/><path d="M1240.1,242.2 q-7.5,-8.4 -2.0,-13.9" stroke="#efefef" stroke-width="2.1" fill="none" opacity="0.8"/><path d="M1191.8,179.3 q6.4,4.9 16.3,-12.0" stroke="#f4f4f4" stroke-width="2.8" fill="none" opacity="0.8"/><path d="M1180.3,183.9 q-11.0,11.6 6.3,17.5" stroke="#efefef" stroke-width="2.1" fill="none" opacity="0.8"/><path d="M1274.0,380.0 q-4.6,0.7 -0.1,-2.6" stroke="#c4c4c4" stroke-width="2.5" fill="none" opacity="0.8"/><path d="M1192.3,197.1 q2.1,10.6 9.8,-6.1" stroke="#f4f4f4" stroke-width="3.4" fill="none" opacity="0.8"/><path d="M1144.9,273.9 q2.3,6.7 -10.5,11.7" stroke="#c4c4c4" stroke-width="3.7" fill="none" opacity="0.8"/><path d="M1103.5,276.5 q8.9,11.7 7.1,5.9" stroke="#c0c0c0" stroke-width="2.3" fill="none" opacity="0.8"/><path d="M1277.3,364.3 q-0.1,4.4 15.3,17.4" stroke="#c4c4c4" stroke-width="2.0" fill="none" opacity="0.8"/><path d="M1280.7,190.8 q6.9,-5.8 7.8,2.3" stroke="#f4f4f4" stroke-width="2.9" fill="none" opacity="0.8"/><path d="M1221.8,268.4 q4.7,-11.9 5.0,7.4" stroke="#efefef" stroke-width="3.7" fill="none" opacity="0.8"/><path d="M1204.0,287.1 q6.4,0.8 15.0,-17.0" stroke="#f4f4f4" stroke-width="3.7" fill="none" opacity="0.8"/><path d="M1183.8,264.3 q2.7,8.3 15.6,-16.4" stroke="#efefef" stroke-width="2.7" fill="none" opacity="0.8"/><path d="M1138.2,255.8 q4.1,3.3 -7.9,2.1" stroke="#b8b8b8" stroke-width="3.4" fill="none" opacity="0.8"/><path d="M1139.8,221.8 q-7.0,-0.3 -1.6,10.0" stroke="#f4f4f4" stroke-width="3.7" fill="none" opacity="0.8"/><path d="M1248.6,305.8 q-10.6,6.6 -12.7,10.5" stroke="#c4c4c4" stroke-width="3.5" fill="none" opacity="0.8"/></g>
<path d="M1186.2,178.4 C1185.6,174.5 1185.1,172.2 1184.1,170.8 C1183.1,169.3 1181.6,170.1 1180.4,169.7 C1179.2,169.2 1178.3,168.1 1176.9,168.0 C1175.5,167.9 1173.6,169.1 1171.9,169.1 C1170.3,169.1 1168.4,168.0 1166.9,168.3 C1165.4,168.5 1164.3,170.2 1162.9,170.6 C1161.5,171.1 1159.8,170.4 1158.3,171.1 C1156.8,171.7 1155.6,173.7 1154.1,174.7 C1152.5,175.7 1150.6,176.5 1149.0,177.1 C1147.3,177.6 1145.8,177.4 1144.3,178.0 C1142.9,178.6 1141.5,179.6 1140.4,180.5 C1139.2,181.5 1138.4,182.8 1137.2,183.6 C1136.0,184.4 1134.3,184.3 1133.2,185.4 C1132.0,186.5 1131.3,188.6 1130.3,190.1 C1129.2,191.7 1127.9,193.0 1126.7,194.5 C1125.6,195.9 1124.4,197.4 1123.5,199.0 C1122.6,200.7 1122.0,202.4 1121.3,204.2 C1120.6,206.0 1119.9,207.9 1119.2,209.7 C1118.6,211.6 1118.1,213.5 1117.4,215.3 C1116.7,217.2 1115.2,218.8 1114.8,220.6 C1114.4,222.5 1115.0,224.5 1115.0,226.5 C1114.9,228.5 1114.3,231.2 1114.5,232.7 C1114.7,234.3 1115.7,234.9 1116.2,236.0 C1116.8,237.1 1118.6,238.3 1117.8,239.3 C1117.1,240.3 1113.0,240.9 1111.7,241.8 C1110.3,242.7 1110.4,243.8 1109.7,244.7 C1109.0,245.7 1108.1,246.1 1107.4,247.4 C1106.6,248.6 1105.8,250.5 1105.2,252.1 C1104.6,253.7 1104.1,255.2 1103.8,257.1 C1103.5,259.0 1104.0,261.4 1103.6,263.5 C1103.2,265.6 1102.3,267.6 1101.6,269.6 C1101.0,271.7 1100.0,273.7 1099.8,275.8 C1099.7,277.9 1100.4,280.0 1100.6,282.2 C1100.9,284.4 1101.2,286.8 1101.3,289.1 C1101.4,291.4 1100.9,293.9 1101.2,296.1 C1101.5,298.3 1102.4,300.2 1102.8,302.3 C1103.3,304.4 1103.3,306.6 1103.8,308.6 C1104.2,310.7 1104.8,312.6 1105.5,314.4 C1106.3,316.3 1107.2,318.2 1108.4,319.8 C1109.5,321.4 1111.4,322.4 1112.4,324.0 C1113.4,325.7 1113.7,327.9 1114.5,329.5 C1115.4,331.2 1116.4,332.6 1117.5,334.0 C1118.6,335.4 1120.0,336.3 1121.3,337.9 C1122.6,339.4 1124.8,341.6 1125.3,343.4 C1125.8,345.3 1124.3,347.3 1124.1,349.0 C1124.0,350.7 1123.9,352.1 1124.4,353.5 C1124.8,354.9 1125.7,356.2 1126.7,357.4 C1127.8,358.5 1129.5,359.3 1130.7,360.5 C1131.9,361.6 1132.6,363.0 1133.9,364.3 C1135.2,365.6 1136.6,367.4 1138.2,368.4 C1139.9,369.3 1142.3,369.3 1143.9,369.9 C1145.6,370.5 1146.8,371.1 1148.2,371.8 C1149.6,372.6 1150.8,373.8 1152.2,374.4 C1153.6,375.0 1155.1,374.8 1156.8,375.5 C1158.6,376.1 1160.7,377.2 1162.6,378.2 C1164.5,379.1 1166.6,380.3 1168.3,381.0 C1170.0,381.7 1171.3,381.8 1172.7,382.3 C1174.2,382.8 1175.7,384.1 1176.9,384.1 C1178.2,384.1 1179.1,382.6 1180.3,382.2 C1181.5,381.8 1182.8,383.0 1184.1,381.7 C1185.4,380.5 1187.3,377.4 1188.1,374.8 C1188.9,372.1 1189.2,370.2 1189.1,365.7 C1189.0,361.2 1188.2,355.3 1187.7,347.6 C1187.1,340.0 1186.2,330.2 1185.8,319.8 C1185.4,309.3 1185.2,296.6 1185.2,285.0 C1185.2,273.4 1185.5,261.8 1185.8,250.1 C1186.1,238.5 1186.9,224.6 1187.2,215.3 C1187.6,206.1 1188.3,200.6 1188.1,194.5 C1187.9,188.3 1186.9,182.4 1186.2,178.4Z" fill="none" stroke="#111" stroke-width="1.3"/><path d="M1207.8,178.4 C1208.4,174.5 1209.0,172.3 1209.9,170.8 C1210.8,169.2 1212.2,169.6 1213.4,169.1 C1214.6,168.6 1215.6,168.3 1217.1,168.0 C1218.5,167.7 1220.5,167.1 1222.1,167.2 C1223.8,167.2 1225.5,168.0 1227.1,168.3 C1228.7,168.5 1230.3,168.2 1231.7,168.7 C1233.2,169.2 1234.2,170.3 1235.7,171.1 C1237.2,171.8 1239.3,172.4 1240.8,173.4 C1242.4,174.4 1243.7,176.0 1245.0,177.1 C1246.4,178.1 1247.6,179.0 1249.0,179.6 C1250.5,180.1 1252.2,180.1 1253.6,180.5 C1255.1,181.0 1256.5,181.5 1257.7,182.3 C1258.9,183.1 1259.7,184.2 1260.8,185.4 C1261.9,186.6 1263.3,188.2 1264.4,189.7 C1265.4,191.2 1266.4,192.8 1267.3,194.5 C1268.1,196.1 1268.6,198.0 1269.5,199.6 C1270.4,201.2 1271.9,202.5 1272.7,204.2 C1273.6,205.9 1273.9,208.0 1274.5,209.8 C1275.2,211.7 1276.3,213.4 1276.6,215.3 C1276.9,217.2 1276.0,219.4 1276.4,221.2 C1276.8,223.1 1278.5,224.6 1279.0,226.5 C1279.5,228.4 1279.7,231.2 1279.5,232.7 C1279.3,234.3 1278.4,234.9 1277.8,236.0 C1277.3,237.1 1275.4,238.3 1276.2,239.3 C1276.9,240.2 1280.9,240.9 1282.3,241.8 C1283.8,242.7 1284.0,243.5 1284.7,244.4 C1285.4,245.4 1286.1,246.0 1286.6,247.4 C1287.2,248.7 1287.5,250.7 1288.1,252.4 C1288.7,254.0 1289.5,255.3 1290.2,257.1 C1290.9,258.9 1291.8,261.1 1292.2,263.2 C1292.5,265.3 1292.5,267.5 1292.4,269.6 C1292.3,271.8 1291.4,273.9 1291.6,276.0 C1291.8,278.1 1293.1,280.0 1293.4,282.2 C1293.7,284.4 1293.6,286.8 1293.5,289.2 C1293.4,291.5 1293.1,293.9 1292.8,296.1 C1292.5,298.3 1292.3,300.3 1291.9,302.4 C1291.4,304.5 1291.0,306.7 1290.2,308.6 C1289.5,310.6 1288.1,312.1 1287.4,314.0 C1286.6,315.8 1286.3,317.9 1285.6,319.8 C1285.0,321.6 1284.5,323.6 1283.5,325.2 C1282.5,326.9 1280.8,328.2 1279.5,329.5 C1278.2,330.9 1276.8,332.0 1275.7,333.4 C1274.6,334.8 1273.9,336.2 1272.7,337.9 C1271.6,339.5 1269.2,341.6 1268.7,343.4 C1268.2,345.3 1270.1,347.4 1269.9,349.0 C1269.7,350.6 1267.9,351.5 1267.5,352.9 C1267.1,354.2 1267.8,356.0 1267.3,357.4 C1266.7,358.8 1265.2,360.1 1264.0,361.2 C1262.9,362.4 1261.7,363.5 1260.1,364.3 C1258.5,365.1 1256.1,364.9 1254.4,365.9 C1252.7,366.8 1251.5,368.9 1250.1,369.9 C1248.6,370.9 1247.2,371.2 1245.7,371.7 C1244.2,372.2 1242.5,372.2 1241.1,372.8 C1239.7,373.4 1238.8,374.5 1237.2,375.5 C1235.5,376.4 1233.4,377.4 1231.5,378.3 C1229.6,379.3 1227.3,380.3 1225.7,381.0 C1224.0,381.8 1222.9,382.3 1221.5,382.9 C1220.1,383.4 1218.4,384.0 1217.1,384.1 C1215.7,384.2 1214.5,384.0 1213.3,383.6 C1212.1,383.2 1211.1,383.2 1209.9,381.7 C1208.7,380.3 1206.7,377.4 1205.9,374.8 C1205.1,372.1 1204.8,370.2 1204.9,365.7 C1205.0,361.2 1205.8,355.3 1206.3,347.6 C1206.9,340.0 1207.8,330.2 1208.2,319.8 C1208.6,309.3 1208.8,296.6 1208.8,285.0 C1208.8,273.4 1208.5,261.8 1208.2,250.1 C1207.9,238.5 1207.1,224.6 1206.8,215.3 C1206.4,206.1 1205.7,200.6 1205.9,194.5 C1206.1,188.3 1207.1,182.4 1207.8,178.4Z" fill="none" stroke="#111" stroke-width="1.3"/>
<rect x="1188.5" y="186.0" width="17" height="176" fill="#f6f6f6"/>
<path d="M1189.0,188.0 V360.0 M1205.0,188.0 V360.0" stroke="#111" stroke-width="1.3"/>
<line x1="1188.5" y1="190.0" x2="1205.5" y2="190.0" stroke="#0a50d8" stroke-width="1.5"/>
<line x1="1188.5" y1="196.0" x2="1205.5" y2="196.0" stroke="#1a6ae8" stroke-width="2.6"/>
<line x1="1188.5" y1="208.0" x2="1205.5" y2="208.0" stroke="#1a6ae8" stroke-width="2.6"/>
<line x1="1188.5" y1="218.0" x2="1205.5" y2="218.0" stroke="#1a6ae8" stroke-width="1.5"/>
<line x1="1188.5" y1="242.0" x2="1205.5" y2="242.0" stroke="#0a50d8" stroke-width="1.5"/>
<line x1="1188.5" y1="250.0" x2="1205.5" y2="250.0" stroke="#0a50d8" stroke-width="2.0"/>
<line x1="1188.5" y1="264.0" x2="1205.5" y2="264.0" stroke="#1a6ae8" stroke-width="1.5"/>
<line x1="1188.5" y1="278.0" x2="1205.5" y2="278.0" stroke="#0a50d8" stroke-width="2.0"/>
<line x1="1188.5" y1="292.0" x2="1205.5" y2="292.0" stroke="#222" stroke-width="1.5"/>
<line x1="1188.5" y1="306.0" x2="1205.5" y2="306.0" stroke="#0a50d8" stroke-width="2.6"/>
<line x1="1188.5" y1="318.0" x2="1205.5" y2="318.0" stroke="#1a6ae8" stroke-width="2.6"/>
<line x1="1188.5" y1="328.0" x2="1205.5" y2="328.0" stroke="#0a50d8" stroke-width="1.5"/>
<line x1="1188.5" y1="344.0" x2="1205.5" y2="344.0" stroke="#222" stroke-width="2.0"/>
<line x1="1188.5" y1="359.0" x2="1205.5" y2="359.0" stroke="#222" stroke-width="2.6"/>
<line x1="1188.5" y1="208.0" x2="1205.5" y2="196.0" stroke="#333" stroke-width="1.8"/>
<line x1="1188.5" y1="208.0" x2="1205.5" y2="218.0" stroke="#1a6ae8" stroke-width="1.8"/>
<line x1="1188.5" y1="264.0" x2="1205.5" y2="250.0" stroke="#333" stroke-width="1.8"/>
<line x1="1188.5" y1="264.0" x2="1205.5" y2="278.0" stroke="#1a6ae8" stroke-width="1.8"/>
<line x1="1188.5" y1="278.0" x2="1205.5" y2="292.0" stroke="#f0a020" stroke-width="1.8"/>
<line x1="1188.5" y1="318.0" x2="1205.5" y2="328.0" stroke="#1a6ae8" stroke-width="1.8"/>
<line x1="1188.5" y1="328.0" x2="1205.5" y2="344.0" stroke="#1a6ae8" stroke-width="1.8"/>
<line x1="1188.5" y1="344.0" x2="1205.5" y2="359.0" stroke="#1a6ae8" stroke-width="1.8"/>
<line x1="1131.0" y1="307.9" x2="1176.9" y2="236.2" stroke="#f0b020" stroke-width="1.4" opacity="0.8"/>
<line x1="1275.9" y1="294.0" x2="1156.1" y2="359.5" stroke="#f0b020" stroke-width="1.4" opacity="0.8"/>
<line x1="1181.9" y1="324.6" x2="1119.6" y2="298.2" stroke="#f0b020" stroke-width="1.4" opacity="0.8"/>
<line x1="1163.3" y1="209.1" x2="1265.8" y2="284.3" stroke="#f5a623" stroke-width="1.4" opacity="0.8"/>
<line x1="1116.7" y1="278.0" x2="1140.4" y2="246.0" stroke="#f5c842" stroke-width="1.4" opacity="0.8"/>
<line x1="1225.7" y1="330.2" x2="1217.1" y2="236.2" stroke="#ffc000" stroke-width="1.4" opacity="0.8"/>
<line x1="1176.9" y1="236.2" x2="1141.1" y2="218.1" stroke="#ffc000" stroke-width="1.4" opacity="0.8"/>
<line x1="1261.5" y1="346.2" x2="1237.9" y2="359.5" stroke="#f5c842" stroke-width="1.4" opacity="0.8"/>
<line x1="1140.4" y1="246.0" x2="1237.9" y2="282.9" stroke="#ffc000" stroke-width="1.4" opacity="0.8"/>
<line x1="1225.7" y1="330.2" x2="1277.3" y2="278.0" stroke="#f08a30" stroke-width="1.4" opacity="0.8"/>
<line x1="1134.6" y1="258.5" x2="1259.4" y2="258.5" stroke="#f5c842" stroke-width="1.4" opacity="0.8"/>
<line x1="1237.9" y1="282.9" x2="1215.6" y2="274.5" stroke="#ffc000" stroke-width="1.4" opacity="0.8"/>
<line x1="1275.9" y1="294.0" x2="1171.2" y2="345.5" stroke="#ffc000" stroke-width="1.4" opacity="0.8"/>
<line x1="1218.5" y1="358.1" x2="1142.5" y2="240.4" stroke="#ffc000" stroke-width="1.4" opacity="0.8"/>
<line x1="1140.4" y1="246.0" x2="1277.3" y2="278.0" stroke="#f5c842" stroke-width="1.4" opacity="0.8"/>
<line x1="1265.8" y1="284.3" x2="1277.3" y2="278.0" stroke="#f5c842" stroke-width="1.4" opacity="0.8"/>
<line x1="1263.0" y1="307.9" x2="1249.3" y2="190.3" stroke="#f5a623" stroke-width="1.4" opacity="0.8"/>
<line x1="1217.1" y1="236.2" x2="1171.2" y2="345.5" stroke="#f08a30" stroke-width="1.4" opacity="0.8"/>
<line x1="1134.6" y1="258.5" x2="1265.8" y2="326.0" stroke="#f08a30" stroke-width="1.4" opacity="0.8"/>
<line x1="1217.1" y1="236.2" x2="1274.4" y2="298.2" stroke="#f5c842" stroke-width="1.4" opacity="0.8"/>
<line x1="1251.5" y1="240.4" x2="1132.5" y2="346.2" stroke="#f08a30" stroke-width="1.4" opacity="0.8"/>
<line x1="1225.7" y1="330.2" x2="1175.5" y2="358.1" stroke="#f5c842" stroke-width="1.4" opacity="0.8"/>
<line x1="1265.8" y1="326.0" x2="1263.0" y2="307.9" stroke="#ffc000" stroke-width="1.4" opacity="0.8"/>
<line x1="1222.8" y1="345.5" x2="1274.4" y2="298.2" stroke="#f5c842" stroke-width="1.4" opacity="0.8"/>
<line x1="1186.2" y1="309.3" x2="1249.3" y2="190.3" stroke="#f08a30" stroke-width="1.4" opacity="0.8"/>
<line x1="1134.6" y1="258.5" x2="1212.8" y2="284.3" stroke="#f08a30" stroke-width="1.4" opacity="0.8"/>
<line x1="1212.8" y1="189.6" x2="1186.2" y2="309.3" stroke="#f5c842" stroke-width="1.4" opacity="0.8"/>
<line x1="1142.5" y1="240.4" x2="1225.7" y2="330.2" stroke="#f5c842" stroke-width="1.4" opacity="0.8"/>
<line x1="1128.2" y1="326.0" x2="1180.5" y2="243.9" stroke="#f0b020" stroke-width="1.4" opacity="0.8"/>
<line x1="1131.0" y1="307.9" x2="1264.4" y2="212.6" stroke="#f5c842" stroke-width="1.4" opacity="0.8"/>
<line x1="1261.5" y1="346.2" x2="1128.2" y2="284.3" stroke="#f0b020" stroke-width="1.4" opacity="0.8"/>
<line x1="1119.6" y1="298.2" x2="1212.8" y2="284.3" stroke="#f5c842" stroke-width="1.4" opacity="0.8"/>
<line x1="1168.3" y1="330.2" x2="1144.7" y2="190.3" stroke="#f5a623" stroke-width="1.4" opacity="0.8"/>
<line x1="1128.2" y1="284.3" x2="1132.5" y2="346.2" stroke="#f08a30" stroke-width="1.4" opacity="0.8"/>
<line x1="1178.4" y1="274.5" x2="1252.9" y2="218.1" stroke="#f0b020" stroke-width="1.4" opacity="0.8"/>
<line x1="1154.0" y1="325.3" x2="1237.9" y2="359.5" stroke="#ffc000" stroke-width="1.4" opacity="0.8"/>
<line x1="1137.5" y1="349.0" x2="1207.8" y2="309.3" stroke="#f5c842" stroke-width="1.4" opacity="0.8"/>
<line x1="1128.2" y1="284.3" x2="1252.9" y2="218.1" stroke="#f5c842" stroke-width="1.4" opacity="0.8"/>
<line x1="1263.0" y1="307.9" x2="1129.6" y2="212.6" stroke="#f0b020" stroke-width="1.4" opacity="0.8"/>
<line x1="1256.5" y1="349.0" x2="1217.1" y2="236.2" stroke="#f08a30" stroke-width="1.4" opacity="0.8"/>
<line x1="1237.9" y1="359.5" x2="1182.7" y2="195.2" stroke="#f5c842" stroke-width="1.4" opacity="0.8"/>
<line x1="1251.5" y1="240.4" x2="1156.1" y2="359.5" stroke="#f08a30" stroke-width="1.4" opacity="0.8"/>
<line x1="1132.5" y1="346.2" x2="1240.0" y2="325.3" stroke="#f0b020" stroke-width="1.4" opacity="0.8"/>
<line x1="1156.1" y1="282.9" x2="1265.8" y2="284.3" stroke="#f5c842" stroke-width="1.4" opacity="0.8"/>
<line x1="1222.8" y1="345.5" x2="1119.6" y2="298.2" stroke="#f5c842" stroke-width="1.4" opacity="0.8"/>
<line x1="1168.3" y1="330.2" x2="1215.6" y2="274.5" stroke="#f5c842" stroke-width="1.4" opacity="0.8"/>
<line x1="1217.1" y1="236.2" x2="1212.1" y2="324.6" stroke="#f08a30" stroke-width="1.4" opacity="0.8"/>
<line x1="1249.3" y1="310.0" x2="1182.7" y2="195.2" stroke="#f0b020" stroke-width="1.4" opacity="0.8"/>
<line x1="1129.6" y1="212.6" x2="1249.3" y2="190.3" stroke="#ffc000" stroke-width="1.4" opacity="0.8"/>
<line x1="1264.4" y1="212.6" x2="1213.5" y2="243.9" stroke="#f5c842" stroke-width="1.4" opacity="0.8"/>
<line x1="1265.8" y1="284.3" x2="1252.9" y2="218.1" stroke="#f5a623" stroke-width="1.4" opacity="0.8"/>
<line x1="1237.9" y1="359.5" x2="1265.8" y2="284.3" stroke="#f5c842" stroke-width="1.4" opacity="0.8"/>
<line x1="1212.8" y1="284.3" x2="1181.2" y2="189.6" stroke="#ffc000" stroke-width="1.4" opacity="0.8"/>
<line x1="1144.7" y1="190.3" x2="1132.5" y2="346.2" stroke="#ffc000" stroke-width="1.4" opacity="0.8"/>
<line x1="1116.7" y1="278.0" x2="1249.3" y2="190.3" stroke="#ffc000" stroke-width="1.4" opacity="0.8"/>
<line x1="1131.0" y1="307.9" x2="1249.3" y2="310.0" stroke="#1f6fe8" stroke-width="1.8"/>
<line x1="1249.3" y1="190.3" x2="1181.2" y2="189.6" stroke="#2a8af0" stroke-width="1.8"/>
<line x1="1128.2" y1="284.3" x2="1240.0" y2="325.3" stroke="#1e78d8" stroke-width="1.8"/>
<line x1="1259.4" y1="258.5" x2="1263.0" y2="307.9" stroke="#0a60e0" stroke-width="1.8"/>
<line x1="1140.4" y1="246.0" x2="1140.4" y2="246.0" stroke="#1e78d8" stroke-width="1.8"/>
<line x1="1129.6" y1="212.6" x2="1230.7" y2="209.1" stroke="#1e78d8" stroke-width="1.8"/>
<line x1="1178.4" y1="274.5" x2="1141.1" y2="218.1" stroke="#1e78d8" stroke-width="1.8"/>
<line x1="1176.9" y1="236.2" x2="1163.3" y2="209.1" stroke="#0a60e0" stroke-width="1.8"/>
<line x1="1181.9" y1="324.6" x2="1180.5" y2="243.9" stroke="#1f6fe8" stroke-width="1.8"/>
<line x1="1249.3" y1="310.0" x2="1275.9" y2="294.0" stroke="#2a8af0" stroke-width="1.8"/>
<line x1="1132.5" y1="346.2" x2="1137.5" y2="349.0" stroke="#1f6fe8" stroke-width="1.8"/>
<line x1="1213.5" y1="243.9" x2="1178.4" y2="274.5" stroke="#0a60e0" stroke-width="1.8"/>
<line x1="1274.4" y1="298.2" x2="1218.5" y2="358.1" stroke="#0a60e0" stroke-width="1.8"/>
<line x1="1140.4" y1="246.0" x2="1186.2" y2="309.3" stroke="#1e78d8" stroke-width="1.8"/>
<line x1="1181.2" y1="189.6" x2="1176.9" y2="236.2" stroke="#2a8af0" stroke-width="1.8"/>
<line x1="1253.6" y1="246.0" x2="1181.2" y2="189.6" stroke="#2a8af0" stroke-width="1.8"/>
<line x1="1265.8" y1="284.3" x2="1207.8" y2="309.3" stroke="#1e78d8" stroke-width="1.8"/>
<line x1="1175.5" y1="358.1" x2="1168.3" y2="330.2" stroke="#1e78d8" stroke-width="1.8"/>
<line x1="1275.9" y1="294.0" x2="1252.9" y2="218.1" stroke="#0a60e0" stroke-width="1.8"/>
<line x1="1176.9" y1="236.2" x2="1144.7" y2="310.0" stroke="#1e78d8" stroke-width="1.8"/>
<line x1="1230.7" y1="209.1" x2="1176.9" y2="236.2" stroke="#1f6fe8" stroke-width="1.8"/>
<line x1="1213.5" y1="243.9" x2="1252.9" y2="218.1" stroke="#0a60e0" stroke-width="1.8"/>
<line x1="1116.7" y1="278.0" x2="1142.5" y2="240.4" stroke="#1f6fe8" stroke-width="1.8"/>
<line x1="1175.5" y1="358.1" x2="1128.2" y2="284.3" stroke="#1e78d8" stroke-width="1.8"/>
<line x1="1140.4" y1="246.0" x2="1176.9" y2="236.2" stroke="#2a8af0" stroke-width="1.8"/>
<line x1="1119.6" y1="298.2" x2="1128.2" y2="284.3" stroke="#1e78d8" stroke-width="1.8"/>
<line x1="1259.4" y1="258.5" x2="1134.6" y2="258.5" stroke="#1e78d8" stroke-width="1.8"/>
<line x1="1259.4" y1="258.5" x2="1213.5" y2="243.9" stroke="#2a8af0" stroke-width="1.8"/>
<line x1="1265.8" y1="284.3" x2="1156.1" y2="282.9" stroke="#0a60e0" stroke-width="1.8"/>
<line x1="1218.5" y1="358.1" x2="1222.8" y2="345.5" stroke="#1e78d8" stroke-width="1.8"/>
<line x1="1240.0" y1="325.3" x2="1263.0" y2="307.9" stroke="#1f6fe8" stroke-width="1.8"/>
<line x1="1212.8" y1="189.6" x2="1265.8" y2="284.3" stroke="#2a8af0" stroke-width="1.8"/>
<line x1="1237.9" y1="359.5" x2="1263.0" y2="307.9" stroke="#2a8af0" stroke-width="1.8"/>
<line x1="1144.7" y1="310.0" x2="1144.7" y2="310.0" stroke="#2a8af0" stroke-width="1.8"/>
<line x1="1275.9" y1="294.0" x2="1181.2" y2="284.3" stroke="#1e78d8" stroke-width="1.8"/>
<line x1="1137.5" y1="349.0" x2="1154.0" y2="325.3" stroke="#2a8af0" stroke-width="1.8"/>
<line x1="1263.0" y1="307.9" x2="1263.0" y2="307.9" stroke="#0a60e0" stroke-width="1.8"/>
<line x1="1211.3" y1="195.2" x2="1166.2" y2="200.7" stroke="#0a60e0" stroke-width="1.8"/>
<line x1="1218.5" y1="358.1" x2="1212.1" y2="324.6" stroke="#2a8af0" stroke-width="1.8"/>
<line x1="1163.3" y1="209.1" x2="1259.4" y2="258.5" stroke="#2a8af0" stroke-width="1.8"/>
<line x1="1181.2" y1="189.6" x2="1181.2" y2="189.6" stroke="#2a8af0" stroke-width="1.8"/>
<line x1="1181.2" y1="284.3" x2="1218.5" y2="358.1" stroke="#1e78d8" stroke-width="1.8"/>
<line x1="1213.5" y1="243.9" x2="1140.4" y2="246.0" stroke="#1f6fe8" stroke-width="1.8"/>
<line x1="1132.5" y1="346.2" x2="1154.0" y2="325.3" stroke="#0a60e0" stroke-width="1.8"/>
<line x1="1249.3" y1="310.0" x2="1212.1" y2="324.6" stroke="#2a8af0" stroke-width="1.8"/>
<line x1="1225.7" y1="330.2" x2="1218.5" y2="358.1" stroke="#1e78d8" stroke-width="1.8"/>
<line x1="1212.8" y1="284.3" x2="1180.5" y2="243.9" stroke="#1e78d8" stroke-width="1.8"/>
<line x1="1249.3" y1="310.0" x2="1212.8" y2="284.3" stroke="#1f6fe8" stroke-width="1.8"/>
<line x1="1256.5" y1="349.0" x2="1217.1" y2="236.2" stroke="#2a8af0" stroke-width="1.8"/>
<line x1="1131.0" y1="307.9" x2="1178.4" y2="274.5" stroke="#1f6fe8" stroke-width="1.8"/>
<line x1="1118.1" y1="294.0" x2="1133.2" y2="278.7" stroke="#2a8af0" stroke-width="1.8"/>
<line x1="1181.2" y1="284.3" x2="1212.8" y2="284.3" stroke="#2a8af0" stroke-width="1.8"/>
<line x1="1128.2" y1="284.3" x2="1137.5" y2="349.0" stroke="#1e78d8" stroke-width="1.8"/>
<line x1="1163.3" y1="209.1" x2="1181.2" y2="284.3" stroke="#1f6fe8" stroke-width="1.8"/>
<line x1="1142.5" y1="240.4" x2="1253.6" y2="246.0" stroke="#2a8af0" stroke-width="1.8"/>
<line x1="1180.5" y1="243.9" x2="1163.3" y2="209.1" stroke="#2a8af0" stroke-width="1.8"/>
<line x1="1154.0" y1="325.3" x2="1207.8" y2="309.3" stroke="#0a60e0" stroke-width="1.8"/>
<line x1="1141.1" y1="218.1" x2="1252.9" y2="218.1" stroke="#0a60e0" stroke-width="1.8"/>
<line x1="1181.2" y1="189.6" x2="1144.7" y2="190.3" stroke="#0a60e0" stroke-width="1.8"/>
<line x1="1181.2" y1="284.3" x2="1212.8" y2="284.3" stroke="#0a60e0" stroke-width="1.8"/>
<line x1="1237.9" y1="359.5" x2="1261.5" y2="346.2" stroke="#1e78d8" stroke-width="1.8"/>
<line x1="1260.8" y1="278.7" x2="1277.3" y2="278.0" stroke="#1e78d8" stroke-width="1.8"/>
<line x1="1141.1" y1="218.1" x2="1264.4" y2="212.6" stroke="#2a8af0" stroke-width="1.8"/>
<line x1="1156.1" y1="282.9" x2="1156.1" y2="282.9" stroke="#2a8af0" stroke-width="1.8"/>
<line x1="1230.7" y1="209.1" x2="1181.2" y2="189.6" stroke="#0a60e0" stroke-width="1.8"/>
<line x1="1275.9" y1="294.0" x2="1207.8" y2="309.3" stroke="#1e78d8" stroke-width="1.8"/>
<line x1="1215.6" y1="274.5" x2="1260.8" y2="278.7" stroke="#1f6fe8" stroke-width="1.8"/>
<line x1="1144.7" y1="190.3" x2="1163.3" y2="209.1" stroke="#1f6fe8" stroke-width="1.8"/>
<line x1="1212.1" y1="324.6" x2="1156.1" y2="359.5" stroke="#0a60e0" stroke-width="1.8"/>
<line x1="1230.7" y1="209.1" x2="1140.4" y2="246.0" stroke="#0a60e0" stroke-width="1.8"/>
<line x1="1263.0" y1="307.9" x2="1131.0" y2="307.9" stroke="#0a60e0" stroke-width="1.8"/>
<line x1="1171.2" y1="345.5" x2="1222.8" y2="345.5" stroke="#0a60e0" stroke-width="1.8"/>
<line x1="1140.4" y1="246.0" x2="1253.6" y2="246.0" stroke="#1e78d8" stroke-width="1.8"/>
<line x1="1129.6" y1="212.6" x2="1230.7" y2="209.1" stroke="#0a60e0" stroke-width="1.8"/>
<line x1="1156.1" y1="359.5" x2="1222.8" y2="345.5" stroke="#1e78d8" stroke-width="1.8"/>
<circle cx="1144.7" cy="190.3" r="3.4" fill="url(#ndb)"/>
<circle cx="1249.3" cy="190.3" r="3.4" fill="url(#ndb)"/>
<circle cx="1181.2" cy="189.6" r="3.4" fill="url(#ndb)"/>
<circle cx="1212.8" cy="189.6" r="3.4" fill="url(#ndb)"/>
<circle cx="1182.7" cy="195.2" r="3.4" fill="url(#ndb)"/>
<circle cx="1211.3" cy="195.2" r="3.4" fill="url(#ndb)"/>
<circle cx="1166.2" cy="200.7" r="3.4" fill="url(#ndb)"/>
<circle cx="1227.8" cy="200.7" r="3.4" fill="url(#ndb)"/>
<circle cx="1163.3" cy="209.1" r="3.4" fill="url(#ndb)"/>
<circle cx="1230.7" cy="209.1" r="3.4" fill="url(#ndb)"/>
<circle cx="1129.6" cy="212.6" r="3.4" fill="url(#ndb)"/>
<circle cx="1264.4" cy="212.6" r="3.4" fill="url(#ndb)"/>
<circle cx="1141.1" cy="218.1" r="3.4" fill="url(#ndb)"/>
<circle cx="1252.9" cy="218.1" r="3.4" fill="url(#ndb)"/>
<circle cx="1176.9" cy="236.2" r="3.4" fill="url(#ndb)"/>
<circle cx="1217.1" cy="236.2" r="3.4" fill="url(#ndb)"/>
<circle cx="1142.5" cy="240.4" r="3.4" fill="url(#ndb)"/>
<circle cx="1251.5" cy="240.4" r="3.4" fill="url(#ndb)"/>
<circle cx="1140.4" cy="246.0" r="3.4" fill="url(#ndb)"/>
<circle cx="1253.6" cy="246.0" r="3.4" fill="url(#ndb)"/>
<circle cx="1180.5" cy="243.9" r="3.4" fill="url(#ndb)"/>
<circle cx="1213.5" cy="243.9" r="3.4" fill="url(#ndb)"/>
<circle cx="1134.6" cy="258.5" r="3.4" fill="url(#ndb)"/>
<circle cx="1259.4" cy="258.5" r="3.4" fill="url(#ndb)"/>
<circle cx="1116.7" cy="278.0" r="3.4" fill="url(#ndb)"/>
<circle cx="1277.3" cy="278.0" r="3.4" fill="url(#ndb)"/>
<circle cx="1133.2" cy="278.7" r="3.4" fill="url(#ndb)"/>
<circle cx="1260.8" cy="278.7" r="3.4" fill="url(#ndb)"/>
<circle cx="1128.2" cy="284.3" r="3.4" fill="url(#ndb)"/>
<circle cx="1265.8" cy="284.3" r="3.4" fill="url(#ndb)"/>
<circle cx="1156.1" cy="282.9" r="3.4" fill="url(#ndb)"/>
<circle cx="1237.9" cy="282.9" r="3.4" fill="url(#ndb)"/>
<circle cx="1178.4" cy="274.5" r="3.4" fill="url(#ndb)"/>
<circle cx="1215.6" cy="274.5" r="3.4" fill="url(#ndb)"/>
<circle cx="1181.2" cy="284.3" r="3.4" fill="url(#ndb)"/>
<circle cx="1212.8" cy="284.3" r="3.4" fill="url(#ndb)"/>
<circle cx="1118.1" cy="294.0" r="3.4" fill="url(#ndb)"/>
<circle cx="1275.9" cy="294.0" r="3.4" fill="url(#ndb)"/>
<circle cx="1119.6" cy="298.2" r="3.4" fill="url(#ndb)"/>
<circle cx="1274.4" cy="298.2" r="3.4" fill="url(#ndb)"/>
<circle cx="1131.0" cy="307.9" r="3.4" fill="url(#ndb)"/>
<circle cx="1263.0" cy="307.9" r="3.4" fill="url(#ndb)"/>
<circle cx="1144.7" cy="310.0" r="3.4" fill="url(#ndb)"/>
<circle cx="1249.3" cy="310.0" r="3.4" fill="url(#ndb)"/>
<circle cx="1186.2" cy="309.3" r="3.4" fill="url(#ndb)"/>
<circle cx="1207.8" cy="309.3" r="3.4" fill="url(#ndb)"/>
<circle cx="1128.2" cy="326.0" r="3.4" fill="url(#ndb)"/>
<circle cx="1265.8" cy="326.0" r="3.4" fill="url(#ndb)"/>
<circle cx="1154.0" cy="325.3" r="3.4" fill="url(#ndb)"/>
<circle cx="1240.0" cy="325.3" r="3.4" fill="url(#ndb)"/>
<circle cx="1181.9" cy="324.6" r="3.4" fill="url(#ndb)"/>
<circle cx="1212.1" cy="324.6" r="3.4" fill="url(#ndb)"/>
<circle cx="1168.3" cy="330.2" r="3.4" fill="url(#ndb)"/>
<circle cx="1225.7" cy="330.2" r="3.4" fill="url(#ndb)"/>
<circle cx="1132.5" cy="346.2" r="3.4" fill="url(#ndb)"/>
<circle cx="1261.5" cy="346.2" r="3.4" fill="url(#ndb)"/>
<circle cx="1137.5" cy="349.0" r="3.4" fill="url(#ndb)"/>
<circle cx="1256.5" cy="349.0" r="3.4" fill="url(#ndb)"/>
<circle cx="1171.2" cy="345.5" r="3.4" fill="url(#ndb)"/>
<circle cx="1222.8" cy="345.5" r="3.4" fill="url(#ndb)"/>
<circle cx="1156.1" cy="359.5" r="3.4" fill="url(#ndb)"/>
<circle cx="1237.9" cy="359.5" r="3.4" fill="url(#ndb)"/>
<circle cx="1175.5" cy="358.1" r="3.4" fill="url(#ndb)"/>
<circle cx="1218.5" cy="358.1" r="3.4" fill="url(#ndb)"/>
<defs><radialGradient id="bgc" cx="50%" cy="50%" r="65%"><stop offset="0" stop-color="#e2e2e2"/><stop offset="0.75" stop-color="#d4d4d4"/><stop offset="1" stop-color="#bdbdbd"/></radialGradient><radialGradient id="ndc" cx="35%" cy="35%" r="65%"><stop offset="0" stop-color="#ff9a9a"/><stop offset="0.35" stop-color="#c81010"/><stop offset="1" stop-color="#6a0000"/></radialGradient><clipPath id="cpc"><path d="M1724.3,178.4 C1723.7,174.5 1723.2,172.2 1722.2,170.8 C1721.3,169.3 1719.7,170.1 1718.6,169.7 C1717.4,169.2 1716.5,168.1 1715.1,168.0 C1713.7,167.9 1711.8,169.1 1710.2,169.1 C1708.5,169.1 1706.7,168.0 1705.2,168.3 C1703.7,168.5 1702.7,170.2 1701.2,170.6 C1699.8,171.1 1698.1,170.4 1696.7,171.1 C1695.2,171.7 1694.0,173.7 1692.5,174.7 C1690.9,175.7 1689.0,176.5 1687.4,177.1 C1685.8,177.6 1684.3,177.4 1682.8,178.0 C1681.4,178.6 1680.1,179.6 1678.9,180.5 C1677.7,181.5 1677.0,182.8 1675.8,183.6 C1674.6,184.4 1672.9,184.3 1671.8,185.4 C1670.7,186.5 1670.0,188.6 1668.9,190.1 C1667.8,191.7 1666.5,193.0 1665.4,194.5 C1664.3,195.9 1663.1,197.4 1662.2,199.0 C1661.3,200.7 1660.7,202.4 1660.0,204.2 C1659.3,206.0 1658.6,207.9 1658.0,209.7 C1657.3,211.6 1656.9,213.5 1656.2,215.3 C1655.4,217.2 1654.0,218.8 1653.6,220.6 C1653.2,222.5 1653.8,224.5 1653.8,226.5 C1653.7,228.5 1653.1,231.2 1653.3,232.7 C1653.5,234.3 1654.5,234.9 1655.0,236.0 C1655.5,237.1 1657.4,238.3 1656.6,239.3 C1655.9,240.3 1651.8,240.9 1650.5,241.8 C1649.2,242.7 1649.3,243.8 1648.6,244.7 C1647.9,245.7 1647.0,246.1 1646.2,247.4 C1645.5,248.6 1644.7,250.5 1644.1,252.1 C1643.5,253.7 1643.0,255.2 1642.7,257.1 C1642.4,259.0 1642.9,261.4 1642.5,263.5 C1642.2,265.6 1641.2,267.6 1640.6,269.6 C1639.9,271.7 1638.9,273.7 1638.8,275.8 C1638.6,277.9 1639.3,280.0 1639.6,282.2 C1639.8,284.4 1640.2,286.8 1640.2,289.1 C1640.3,291.4 1639.9,293.9 1640.1,296.1 C1640.4,298.3 1641.3,300.2 1641.8,302.3 C1642.2,304.4 1642.2,306.6 1642.7,308.6 C1643.1,310.7 1643.7,312.6 1644.4,314.4 C1645.2,316.3 1646.1,318.2 1647.2,319.8 C1648.4,321.4 1650.2,322.4 1651.2,324.1 C1652.2,325.7 1652.5,327.9 1653.3,329.5 C1654.2,331.2 1655.2,332.6 1656.3,334.0 C1657.4,335.4 1658.7,336.3 1660.0,337.9 C1661.3,339.4 1663.5,341.6 1664.0,343.4 C1664.5,345.3 1663.0,347.3 1662.9,349.0 C1662.7,350.7 1662.6,352.1 1663.1,353.5 C1663.5,354.9 1664.4,356.2 1665.4,357.4 C1666.5,358.5 1668.1,359.3 1669.3,360.5 C1670.5,361.6 1671.3,363.0 1672.5,364.3 C1673.8,365.6 1675.1,367.4 1676.8,368.4 C1678.4,369.3 1680.4,369.2 1682.5,369.9 C1684.5,370.6 1686.7,371.8 1688.8,372.8 C1690.9,373.7 1693.3,374.4 1695.2,375.5 C1697.2,376.5 1698.6,378.1 1700.5,379.0 C1702.4,380.0 1704.9,380.5 1706.6,381.0 C1708.3,381.6 1709.5,382.0 1710.9,382.5 C1712.3,383.0 1713.8,384.1 1715.1,384.1 C1716.4,384.1 1717.4,383.0 1718.6,382.6 C1719.8,382.2 1720.9,383.0 1722.2,381.7 C1723.5,380.4 1725.4,377.4 1726.2,374.8 C1727.0,372.1 1727.3,370.2 1727.2,365.7 C1727.1,361.2 1726.3,355.3 1725.8,347.6 C1725.2,340.0 1724.3,330.2 1723.9,319.8 C1723.5,309.3 1723.4,296.6 1723.4,285.0 C1723.4,273.4 1723.6,261.8 1723.9,250.1 C1724.3,238.5 1725.0,224.6 1725.3,215.3 C1725.7,206.1 1726.4,200.6 1726.2,194.5 C1726.0,188.3 1725.0,182.4 1724.3,178.4Z"/><path d="M1745.7,178.4 C1746.3,174.5 1746.9,172.3 1747.8,170.8 C1748.7,169.2 1750.0,169.6 1751.2,169.1 C1752.4,168.6 1753.4,168.3 1754.9,168.0 C1756.3,167.7 1758.2,167.1 1759.9,167.2 C1761.5,167.2 1763.2,168.0 1764.8,168.3 C1766.4,168.5 1768.0,168.2 1769.4,168.7 C1770.8,169.2 1771.8,170.3 1773.3,171.1 C1774.8,171.8 1776.9,172.4 1778.4,173.4 C1779.9,174.4 1781.2,176.0 1782.6,177.1 C1783.9,178.1 1785.1,179.0 1786.5,179.6 C1787.9,180.1 1789.7,180.1 1791.1,180.5 C1792.5,181.0 1793.9,181.5 1795.1,182.3 C1796.3,183.1 1797.1,184.2 1798.2,185.4 C1799.3,186.6 1800.6,188.2 1801.7,189.7 C1802.8,191.2 1803.7,192.8 1804.6,194.5 C1805.4,196.1 1805.9,198.0 1806.8,199.6 C1807.7,201.2 1809.2,202.5 1810.0,204.2 C1810.8,205.9 1811.1,208.0 1811.8,209.8 C1812.4,211.7 1813.5,213.4 1813.8,215.3 C1814.1,217.2 1813.3,219.4 1813.7,221.2 C1814.1,223.1 1815.7,224.6 1816.2,226.5 C1816.7,228.4 1816.9,231.2 1816.7,232.7 C1816.5,234.3 1815.6,234.9 1815.1,236.0 C1814.5,237.1 1812.7,238.3 1813.4,239.3 C1814.1,240.2 1818.1,240.9 1819.5,241.8 C1820.9,242.7 1821.1,243.5 1821.8,244.4 C1822.5,245.4 1823.2,246.0 1823.8,247.4 C1824.3,248.7 1824.6,250.7 1825.2,252.4 C1825.8,254.0 1826.6,255.3 1827.3,257.1 C1828.0,258.9 1828.9,261.1 1829.3,263.2 C1829.6,265.3 1829.5,267.5 1829.4,269.6 C1829.3,271.8 1828.5,273.9 1828.7,276.0 C1828.8,278.1 1830.1,280.0 1830.4,282.2 C1830.8,284.4 1830.7,286.8 1830.6,289.2 C1830.5,291.5 1830.1,293.9 1829.9,296.1 C1829.6,298.3 1829.4,300.3 1828.9,302.4 C1828.5,304.5 1828.1,306.7 1827.3,308.6 C1826.6,310.6 1825.3,312.1 1824.5,314.0 C1823.7,315.8 1823.4,317.9 1822.8,319.8 C1822.1,321.6 1821.7,323.6 1820.7,325.2 C1819.6,326.9 1818.0,328.2 1816.7,329.5 C1815.4,330.9 1814.0,332.0 1812.9,333.4 C1811.8,334.8 1811.1,336.2 1810.0,337.9 C1808.8,339.5 1806.5,341.6 1806.0,343.4 C1805.5,345.3 1807.3,347.4 1807.1,349.0 C1806.9,350.6 1805.2,351.5 1804.8,352.9 C1804.4,354.2 1805.2,356.0 1804.6,357.4 C1804.0,358.8 1802.6,360.1 1801.4,361.2 C1800.2,362.4 1799.1,363.5 1797.5,364.3 C1795.9,365.1 1793.5,364.9 1791.8,365.9 C1790.2,366.8 1789.3,368.8 1787.5,369.9 C1785.8,371.0 1783.3,371.7 1781.1,372.6 C1779.0,373.5 1776.8,374.7 1774.8,375.5 C1772.7,376.3 1770.6,376.5 1768.7,377.5 C1766.8,378.4 1765.0,380.2 1763.4,381.0 C1761.8,381.9 1760.6,382.1 1759.2,382.7 C1757.8,383.2 1756.2,384.0 1754.9,384.1 C1753.6,384.2 1752.4,383.6 1751.2,383.2 C1750.1,382.8 1749.0,383.1 1747.8,381.7 C1746.5,380.3 1744.6,377.4 1743.8,374.8 C1743.0,372.1 1742.7,370.2 1742.8,365.7 C1742.9,361.2 1743.7,355.3 1744.2,347.6 C1744.8,340.0 1745.7,330.2 1746.1,319.8 C1746.5,309.3 1746.6,296.6 1746.6,285.0 C1746.6,273.4 1746.4,261.8 1746.1,250.1 C1745.7,238.5 1745.0,224.6 1744.7,215.3 C1744.3,206.1 1743.6,200.6 1743.8,194.5 C1744.0,188.3 1745.0,182.4 1745.7,178.4Z"/></clipPath></defs>
<path d="M1724.3,178.4 C1723.7,174.5 1723.2,172.2 1722.2,170.8 C1721.3,169.3 1719.7,170.1 1718.6,169.7 C1717.4,169.2 1716.5,168.1 1715.1,168.0 C1713.7,167.9 1711.8,169.1 1710.2,169.1 C1708.5,169.1 1706.7,168.0 1705.2,168.3 C1703.7,168.5 1702.7,170.2 1701.2,170.6 C1699.8,171.1 1698.1,170.4 1696.7,171.1 C1695.2,171.7 1694.0,173.7 1692.5,174.7 C1690.9,175.7 1689.0,176.5 1687.4,177.1 C1685.8,177.6 1684.3,177.4 1682.8,178.0 C1681.4,178.6 1680.1,179.6 1678.9,180.5 C1677.7,181.5 1677.0,182.8 1675.8,183.6 C1674.6,184.4 1672.9,184.3 1671.8,185.4 C1670.7,186.5 1670.0,188.6 1668.9,190.1 C1667.8,191.7 1666.5,193.0 1665.4,194.5 C1664.3,195.9 1663.1,197.4 1662.2,199.0 C1661.3,200.7 1660.7,202.4 1660.0,204.2 C1659.3,206.0 1658.6,207.9 1658.0,209.7 C1657.3,211.6 1656.9,213.5 1656.2,215.3 C1655.4,217.2 1654.0,218.8 1653.6,220.6 C1653.2,222.5 1653.8,224.5 1653.8,226.5 C1653.7,228.5 1653.1,231.2 1653.3,232.7 C1653.5,234.3 1654.5,234.9 1655.0,236.0 C1655.5,237.1 1657.4,238.3 1656.6,239.3 C1655.9,240.3 1651.8,240.9 1650.5,241.8 C1649.2,242.7 1649.3,243.8 1648.6,244.7 C1647.9,245.7 1647.0,246.1 1646.2,247.4 C1645.5,248.6 1644.7,250.5 1644.1,252.1 C1643.5,253.7 1643.0,255.2 1642.7,257.1 C1642.4,259.0 1642.9,261.4 1642.5,263.5 C1642.2,265.6 1641.2,267.6 1640.6,269.6 C1639.9,271.7 1638.9,273.7 1638.8,275.8 C1638.6,277.9 1639.3,280.0 1639.6,282.2 C1639.8,284.4 1640.2,286.8 1640.2,289.1 C1640.3,291.4 1639.9,293.9 1640.1,296.1 C1640.4,298.3 1641.3,300.2 1641.8,302.3 C1642.2,304.4 1642.2,306.6 1642.7,308.6 C1643.1,310.7 1643.7,312.6 1644.4,314.4 C1645.2,316.3 1646.1,318.2 1647.2,319.8 C1648.4,321.4 1650.2,322.4 1651.2,324.1 C1652.2,325.7 1652.5,327.9 1653.3,329.5 C1654.2,331.2 1655.2,332.6 1656.3,334.0 C1657.4,335.4 1658.7,336.3 1660.0,337.9 C1661.3,339.4 1663.5,341.6 1664.0,343.4 C1664.5,345.3 1663.0,347.3 1662.9,349.0 C1662.7,350.7 1662.6,352.1 1663.1,353.5 C1663.5,354.9 1664.4,356.2 1665.4,357.4 C1666.5,358.5 1668.1,359.3 1669.3,360.5 C1670.5,361.6 1671.3,363.0 1672.5,364.3 C1673.8,365.6 1675.1,367.4 1676.8,368.4 C1678.4,369.3 1680.4,369.2 1682.5,369.9 C1684.5,370.6 1686.7,371.8 1688.8,372.8 C1690.9,373.7 1693.3,374.4 1695.2,375.5 C1697.2,376.5 1698.6,378.1 1700.5,379.0 C1702.4,380.0 1704.9,380.5 1706.6,381.0 C1708.3,381.6 1709.5,382.0 1710.9,382.5 C1712.3,383.0 1713.8,384.1 1715.1,384.1 C1716.4,384.1 1717.4,383.0 1718.6,382.6 C1719.8,382.2 1720.9,383.0 1722.2,381.7 C1723.5,380.4 1725.4,377.4 1726.2,374.8 C1727.0,372.1 1727.3,370.2 1727.2,365.7 C1727.1,361.2 1726.3,355.3 1725.8,347.6 C1725.2,340.0 1724.3,330.2 1723.9,319.8 C1723.5,309.3 1723.4,296.6 1723.4,285.0 C1723.4,273.4 1723.6,261.8 1723.9,250.1 C1724.3,238.5 1725.0,224.6 1725.3,215.3 C1725.7,206.1 1726.4,200.6 1726.2,194.5 C1726.0,188.3 1725.0,182.4 1724.3,178.4Z" fill="url(#bgc)"/><path d="M1745.7,178.4 C1746.3,174.5 1746.9,172.3 1747.8,170.8 C1748.7,169.2 1750.0,169.6 1751.2,169.1 C1752.4,168.6 1753.4,168.3 1754.9,168.0 C1756.3,167.7 1758.2,167.1 1759.9,167.2 C1761.5,167.2 1763.2,168.0 1764.8,168.3 C1766.4,168.5 1768.0,168.2 1769.4,168.7 C1770.8,169.2 1771.8,170.3 1773.3,171.1 C1774.8,171.8 1776.9,172.4 1778.4,173.4 C1779.9,174.4 1781.2,176.0 1782.6,177.1 C1783.9,178.1 1785.1,179.0 1786.5,179.6 C1787.9,180.1 1789.7,180.1 1791.1,180.5 C1792.5,181.0 1793.9,181.5 1795.1,182.3 C1796.3,183.1 1797.1,184.2 1798.2,185.4 C1799.3,186.6 1800.6,188.2 1801.7,189.7 C1802.8,191.2 1803.7,192.8 1804.6,194.5 C1805.4,196.1 1805.9,198.0 1806.8,199.6 C1807.7,201.2 1809.2,202.5 1810.0,204.2 C1810.8,205.9 1811.1,208.0 1811.8,209.8 C1812.4,211.7 1813.5,213.4 1813.8,215.3 C1814.1,217.2 1813.3,219.4 1813.7,221.2 C1814.1,223.1 1815.7,224.6 1816.2,226.5 C1816.7,228.4 1816.9,231.2 1816.7,232.7 C1816.5,234.3 1815.6,234.9 1815.1,236.0 C1814.5,237.1 1812.7,238.3 1813.4,239.3 C1814.1,240.2 1818.1,240.9 1819.5,241.8 C1820.9,242.7 1821.1,243.5 1821.8,244.4 C1822.5,245.4 1823.2,246.0 1823.8,247.4 C1824.3,248.7 1824.6,250.7 1825.2,252.4 C1825.8,254.0 1826.6,255.3 1827.3,257.1 C1828.0,258.9 1828.9,261.1 1829.3,263.2 C1829.6,265.3 1829.5,267.5 1829.4,269.6 C1829.3,271.8 1828.5,273.9 1828.7,276.0 C1828.8,278.1 1830.1,280.0 1830.4,282.2 C1830.8,284.4 1830.7,286.8 1830.6,289.2 C1830.5,291.5 1830.1,293.9 1829.9,296.1 C1829.6,298.3 1829.4,300.3 1828.9,302.4 C1828.5,304.5 1828.1,306.7 1827.3,308.6 C1826.6,310.6 1825.3,312.1 1824.5,314.0 C1823.7,315.8 1823.4,317.9 1822.8,319.8 C1822.1,321.6 1821.7,323.6 1820.7,325.2 C1819.6,326.9 1818.0,328.2 1816.7,329.5 C1815.4,330.9 1814.0,332.0 1812.9,333.4 C1811.8,334.8 1811.1,336.2 1810.0,337.9 C1808.8,339.5 1806.5,341.6 1806.0,343.4 C1805.5,345.3 1807.3,347.4 1807.1,349.0 C1806.9,350.6 1805.2,351.5 1804.8,352.9 C1804.4,354.2 1805.2,356.0 1804.6,357.4 C1804.0,358.8 1802.6,360.1 1801.4,361.2 C1800.2,362.4 1799.1,363.5 1797.5,364.3 C1795.9,365.1 1793.5,364.9 1791.8,365.9 C1790.2,366.8 1789.3,368.8 1787.5,369.9 C1785.8,371.0 1783.3,371.7 1781.1,372.6 C1779.0,373.5 1776.8,374.7 1774.8,375.5 C1772.7,376.3 1770.6,376.5 1768.7,377.5 C1766.8,378.4 1765.0,380.2 1763.4,381.0 C1761.8,381.9 1760.6,382.1 1759.2,382.7 C1757.8,383.2 1756.2,384.0 1754.9,384.1 C1753.6,384.2 1752.4,383.6 1751.2,383.2 C1750.1,382.8 1749.0,383.1 1747.8,381.7 C1746.5,380.3 1744.6,377.4 1743.8,374.8 C1743.0,372.1 1742.7,370.2 1742.8,365.7 C1742.9,361.2 1743.7,355.3 1744.2,347.6 C1744.8,340.0 1745.7,330.2 1746.1,319.8 C1746.5,309.3 1746.6,296.6 1746.6,285.0 C1746.6,273.4 1746.4,261.8 1746.1,250.1 C1745.7,238.5 1745.0,224.6 1744.7,215.3 C1744.3,206.1 1743.6,200.6 1743.8,194.5 C1744.0,188.3 1745.0,182.4 1745.7,178.4Z" fill="url(#bgc)"/>
<g clip-path="url(#cpc)"><path d="M1688.3,318.8 q3.6,4.0 13.3,5.1" stroke="#f4f4f4" stroke-width="2.4" fill="none" opacity="0.8"/><path d="M1651.8,354.1 q-11.3,-9.0 6.6,17.9" stroke="#b8b8b8" stroke-width="4.0" fill="none" opacity="0.8"/><path d="M1799.8,186.7 q7.8,5.9 16.2,10.6" stroke="#b8b8b8" stroke-width="2.5" fill="none" opacity="0.8"/><path d="M1802.8,275.1 q1.5,-1.7 -4.9,-2.5" stroke="#c4c4c4" stroke-width="2.6" fill="none" opacity="0.8"/><path d="M1660.8,348.3 q4.6,1.3 8.9,-13.1" stroke="#b8b8b8" stroke-width="3.4" fill="none" opacity="0.8"/><path d="M1724.0,206.9 q-7.7,-3.5 -4.6,-8.6" stroke="#f4f4f4" stroke-width="2.6" fill="none" opacity="0.8"/><path d="M1810.4,295.0 q-6.3,-6.3 -11.0,-4.8" stroke="#c4c4c4" stroke-width="2.1" fill="none" opacity="0.8"/><path d="M1764.3,377.8 q-11.9,-1.8 13.2,-9.9" stroke="#c0c0c0" stroke-width="3.0" fill="none" opacity="0.8"/><path d="M1773.4,265.9 q-8.2,-2.1 13.3,13.9" stroke="#b8b8b8" stroke-width="3.6" fill="none" opacity="0.8"/><path d="M1677.5,355.8 q0.5,3.8 14.5,7.3" stroke="#b8b8b8" stroke-width="2.5" fill="none" opacity="0.8"/><path d="M1734.3,357.5 q1.9,2.2 -5.1,8.2" stroke="#efefef" stroke-width="2.7" fill="none" opacity="0.8"/><path d="M1695.3,204.2 q-9.3,-6.6 -15.5,5.2" stroke="#c4c4c4" stroke-width="3.1" fill="none" opacity="0.8"/><path d="M1743.4,176.5 q7.8,3.5 1.0,-13.4" stroke="#c0c0c0" stroke-width="2.6" fill="none" opacity="0.8"/><path d="M1717.2,367.5 q2.3,-10.1 -1.1,-4.8" stroke="#c4c4c4" stroke-width="3.7" fill="none" opacity="0.8"/><path d="M1639.2,241.6 q1.4,0.8 11.7,-10.0" stroke="#c0c0c0" stroke-width="2.4" fill="none" opacity="0.8"/><path d="M1792.9,250.8 q5.7,-5.8 6.6,12.6" stroke="#f4f4f4" stroke-width="2.5" fill="none" opacity="0.8"/><path d="M1752.1,246.2 q2.2,-1.7 5.1,-2.7" stroke="#f4f4f4" stroke-width="2.6" fill="none" opacity="0.8"/><path d="M1727.4,183.1 q2.4,-11.9 9.9,-11.1" stroke="#efefef" stroke-width="3.0" fill="none" opacity="0.8"/><path d="M1745.6,241.2 q0.7,10.8 -12.7,-16.1" stroke="#b8b8b8" stroke-width="2.7" fill="none" opacity="0.8"/><path d="M1668.4,235.8 q-2.7,-11.2 -13.4,-5.0" stroke="#c4c4c4" stroke-width="2.9" fill="none" opacity="0.8"/><path d="M1808.0,385.8 q-3.6,-4.9 16.8,-16.2" stroke="#efefef" stroke-width="2.3" fill="none" opacity="0.8"/><path d="M1810.0,330.7 q9.5,9.9 6.5,-14.8" stroke="#efefef" stroke-width="3.9" fill="none" opacity="0.8"/><path d="M1651.7,226.1 q-10.9,-6.3 11.8,-9.4" stroke="#f4f4f4" stroke-width="3.6" fill="none" opacity="0.8"/><path d="M1786.1,210.9 q2.9,8.2 14.3,-13.8" stroke="#c0c0c0" stroke-width="2.3" fill="none" opacity="0.8"/><path d="M1741.6,346.7 q-2.5,-8.4 1.6,-8.6" stroke="#c4c4c4" stroke-width="2.7" fill="none" opacity="0.8"/><path d="M1818.7,204.7 q-9.4,5.2 13.2,18.0" stroke="#efefef" stroke-width="3.6" fill="none" opacity="0.8"/><path d="M1720.3,304.9 q10.0,-11.0 -14.6,-3.4" stroke="#b8b8b8" stroke-width="2.8" fill="none" opacity="0.8"/><path d="M1713.7,201.2 q-1.2,-11.9 -16.9,-8.7" stroke="#f4f4f4" stroke-width="2.7" fill="none" opacity="0.8"/><path d="M1819.7,222.4 q-2.0,11.8 9.4,-0.6" stroke="#b8b8b8" stroke-width="2.5" fill="none" opacity="0.8"/><path d="M1727.5,366.5 q-0.9,6.4 7.7,11.9" stroke="#c4c4c4" stroke-width="2.1" fill="none" opacity="0.8"/><path d="M1813.6,274.0 q-7.7,-9.5 3.2,-6.9" stroke="#c4c4c4" stroke-width="3.8" fill="none" opacity="0.8"/><path d="M1734.4,282.7 q-6.9,5.9 5.4,-2.6" stroke="#efefef" stroke-width="3.9" fill="none" opacity="0.8"/><path d="M1642.4,357.7 q-4.8,2.9 5.4,8.4" stroke="#f4f4f4" stroke-width="2.9" fill="none" opacity="0.8"/><path d="M1783.6,217.7 q2.6,-6.2 1.1,-17.7" stroke="#efefef" stroke-width="2.9" fill="none" opacity="0.8"/><path d="M1785.3,242.8 q2.6,0.6 17.7,-9.5" stroke="#f4f4f4" stroke-width="3.0" fill="none" opacity="0.8"/><path d="M1640.6,249.2 q10.4,7.6 11.9,6.5" stroke="#f4f4f4" stroke-width="3.4" fill="none" opacity="0.8"/><path d="M1767.4,298.0 q5.1,-9.0 -11.6,-14.2" stroke="#b8b8b8" stroke-width="3.1" fill="none" opacity="0.8"/><path d="M1665.6,329.8 q6.6,9.0 -4.3,11.3" stroke="#efefef" stroke-width="3.0" fill="none" opacity="0.8"/><path d="M1748.9,259.1 q0.7,-5.3 -4.3,-13.5" stroke="#c0c0c0" stroke-width="2.4" fill="none" opacity="0.8"/><path d="M1701.5,295.6 q10.4,-4.8 15.4,-17.1" stroke="#c0c0c0" stroke-width="3.4" fill="none" opacity="0.8"/><path d="M1713.6,273.9 q-10.1,-6.8 -12.8,-6.3" stroke="#efefef" stroke-width="2.6" fill="none" opacity="0.8"/><path d="M1825.7,213.7 q-4.9,-7.1 17.1,-14.8" stroke="#c4c4c4" stroke-width="2.2" fill="none" opacity="0.8"/><path d="M1663.0,182.7 q3.1,-4.5 17.7,-12.2" stroke="#c0c0c0" stroke-width="2.4" fill="none" opacity="0.8"/><path d="M1648.9,264.2 q3.8,5.0 7.2,10.7" stroke="#f4f4f4" stroke-width="3.7" fill="none" opacity="0.8"/><path d="M1668.1,179.9 q-10.8,7.7 10.0,9.0" stroke="#c4c4c4" stroke-width="2.2" fill="none" opacity="0.8"/><path d="M1788.4,235.1 q-6.1,-5.2 2.8,1.9" stroke="#b8b8b8" stroke-width="3.8" fill="none" opacity="0.8"/><path d="M1692.4,325.4 q8.1,-10.0 -16.3,-13.7" stroke="#efefef" stroke-width="3.5" fill="none" opacity="0.8"/><path d="M1667.1,387.3 q-4.7,-9.5 -2.1,-14.2" stroke="#c4c4c4" stroke-width="3.4" fill="none" opacity="0.8"/><path d="M1749.6,260.4 q-6.4,-4.0 -4.9,-17.9" stroke="#c0c0c0" stroke-width="3.8" fill="none" opacity="0.8"/><path d="M1655.2,190.2 q-1.3,-1.9 -13.0,-18.0" stroke="#b8b8b8" stroke-width="3.0" fill="none" opacity="0.8"/><path d="M1685.3,201.2 q-11.5,-3.3 9.1,8.9" stroke="#c0c0c0" stroke-width="2.2" fill="none" opacity="0.8"/><path d="M1781.9,292.0 q10.6,7.2 3.6,9.7" stroke="#c0c0c0" stroke-width="3.0" fill="none" opacity="0.8"/><path d="M1745.0,347.8 q10.8,7.2 -3.7,-3.8" stroke="#c4c4c4" stroke-width="3.8" fill="none" opacity="0.8"/><path d="M1715.7,185.7 q-2.4,8.0 3.4,2.1" stroke="#f4f4f4" stroke-width="3.6" fill="none" opacity="0.8"/><path d="M1723.5,286.0 q5.3,5.8 14.1,2.1" stroke="#c4c4c4" stroke-width="3.1" fill="none" opacity="0.8"/><path d="M1674.6,221.1 q-10.9,-5.4 -2.7,9.9" stroke="#c0c0c0" stroke-width="2.4" fill="none" opacity="0.8"/><path d="M1814.1,256.1 q-8.2,6.5 -2.5,2.4" stroke="#c4c4c4" stroke-width="2.1" fill="none" opacity="0.8"/><path d="M1716.2,344.6 q1.5,-1.8 -16.6,7.2" stroke="#f4f4f4" stroke-width="2.9" fill="none" opacity="0.8"/><path d="M1778.4,302.6 q10.0,0.1 13.2,-1.7" stroke="#c0c0c0" stroke-width="3.0" fill="none" opacity="0.8"/><path d="M1733.0,306.3 q10.5,0.3 0.3,-15.8" stroke="#efefef" stroke-width="3.6" fill="none" opacity="0.8"/><path d="M1762.0,220.7 q-11.3,4.8 2.2,-10.7" stroke="#efefef" stroke-width="3.0" fill="none" opacity="0.8"/><path d="M1718.4,177.2 q5.5,-0.0 16.7,-12.7" stroke="#b8b8b8" stroke-width="3.6" fill="none" opacity="0.8"/><path d="M1777.7,171.8 q-10.4,-7.9 -0.9,-11.0" stroke="#c4c4c4" stroke-width="4.0" fill="none" opacity="0.8"/><path d="M1638.5,325.8 q-0.8,-9.2 7.9,-15.6" stroke="#efefef" stroke-width="3.1" fill="none" opacity="0.8"/><path d="M1672.9,291.9 q5.6,-2.8 -10.6,18.0" stroke="#efefef" stroke-width="2.9" fill="none" opacity="0.8"/><path d="M1794.0,240.3 q3.1,3.3 -11.7,-13.0" stroke="#c0c0c0" stroke-width="2.5" fill="none" opacity="0.8"/><path d="M1739.5,341.2 q4.7,0.1 -2.5,11.2" stroke="#c4c4c4" stroke-width="2.8" fill="none" opacity="0.8"/><path d="M1718.3,339.2 q-1.2,6.0 -14.2,-2.1" stroke="#b8b8b8" stroke-width="2.5" fill="none" opacity="0.8"/><path d="M1768.1,347.5 q-11.5,6.5 16.5,2.2" stroke="#b8b8b8" stroke-width="3.2" fill="none" opacity="0.8"/><path d="M1814.7,323.2 q3.9,10.1 -13.4,-6.1" stroke="#efefef" stroke-width="4.0" fill="none" opacity="0.8"/><path d="M1641.6,255.9 q-8.7,9.1 -2.1,-15.5" stroke="#efefef" stroke-width="3.8" fill="none" opacity="0.8"/><path d="M1659.3,248.3 q6.4,6.5 17.7,8.9" stroke="#c4c4c4" stroke-width="3.0" fill="none" opacity="0.8"/><path d="M1748.9,294.6 q-0.8,5.2 16.5,-5.8" stroke="#efefef" stroke-width="3.5" fill="none" opacity="0.8"/><path d="M1704.9,363.3 q8.6,9.0 3.4,16.2" stroke="#c0c0c0" stroke-width="2.3" fill="none" opacity="0.8"/><path d="M1749.3,184.3 q-5.0,-0.1 8.8,6.1" stroke="#c4c4c4" stroke-width="3.6" fill="none" opacity="0.8"/><path d="M1734.4,190.8 q-2.8,-10.9 -7.0,17.1" stroke="#c4c4c4" stroke-width="2.9" fill="none" opacity="0.8"/><path d="M1770.5,261.8 q-0.6,-4.7 5.1,3.7" stroke="#efefef" stroke-width="3.4" fill="none" opacity="0.8"/><path d="M1700.7,234.3 q-11.5,-8.0 -6.2,10.7" stroke="#c0c0c0" stroke-width="3.5" fill="none" opacity="0.8"/><path d="M1782.1,262.5 q-8.8,11.1 -16.2,-12.5" stroke="#c0c0c0" stroke-width="3.5" fill="none" opacity="0.8"/><path d="M1787.3,316.1 q-4.8,5.4 -0.7,-17.2" stroke="#f4f4f4" stroke-width="2.6" fill="none" opacity="0.8"/><path d="M1670.8,222.2 q-3.4,9.4 11.9,12.3" stroke="#b8b8b8" stroke-width="3.3" fill="none" opacity="0.8"/><path d="M1640.3,330.4 q6.1,-5.8 15.2,1.8" stroke="#f4f4f4" stroke-width="3.5" fill="none" opacity="0.8"/><path d="M1664.9,259.7 q-1.4,-4.9 2.2,-15.7" stroke="#c0c0c0" stroke-width="2.8" fill="none" opacity="0.8"/><path d="M1764.0,358.2 q-0.4,-6.1 -15.6,-13.8" stroke="#efefef" stroke-width="2.4" fill="none" opacity="0.8"/><path d="M1769.4,381.4 q-2.4,-7.4 0.5,-13.5" stroke="#b8b8b8" stroke-width="3.4" fill="none" opacity="0.8"/><path d="M1825.0,270.8 q-2.7,-10.2 2.4,0.3" stroke="#c0c0c0" stroke-width="2.5" fill="none" opacity="0.8"/><path d="M1789.6,250.5 q-10.4,-8.5 12.3,-5.3" stroke="#c4c4c4" stroke-width="3.7" fill="none" opacity="0.8"/><path d="M1757.7,305.6 q-2.0,9.2 8.8,-4.1" stroke="#b8b8b8" stroke-width="2.3" fill="none" opacity="0.8"/><path d="M1764.8,378.0 q7.5,8.7 -14.3,7.9" stroke="#c0c0c0" stroke-width="2.2" fill="none" opacity="0.8"/><path d="M1802.4,255.1 q4.1,8.8 -3.5,-15.4" stroke="#c0c0c0" stroke-width="2.5" fill="none" opacity="0.8"/><path d="M1772.9,169.6 q7.8,-0.1 -8.1,-11.5" stroke="#f4f4f4" stroke-width="3.4" fill="none" opacity="0.8"/><path d="M1778.2,359.1 q7.7,-10.9 15.7,9.3" stroke="#b8b8b8" stroke-width="3.9" fill="none" opacity="0.8"/><path d="M1784.4,358.4 q9.8,8.7 -4.8,-0.8" stroke="#b8b8b8" stroke-width="2.4" fill="none" opacity="0.8"/><path d="M1711.7,261.1 q-9.6,10.7 16.8,17.2" stroke="#c0c0c0" stroke-width="3.6" fill="none" opacity="0.8"/><path d="M1802.2,170.0 q-2.1,-7.9 -10.7,9.3" stroke="#efefef" stroke-width="3.9" fill="none" opacity="0.8"/><path d="M1825.2,240.8 q7.0,0.6 -13.7,3.0" stroke="#c4c4c4" stroke-width="3.8" fill="none" opacity="0.8"/><path d="M1799.2,179.9 q-10.5,3.1 -6.8,-10.6" stroke="#b8b8b8" stroke-width="2.2" fill="none" opacity="0.8"/><path d="M1828.1,184.1 q8.6,5.6 -2.1,-4.8" stroke="#efefef" stroke-width="3.5" fill="none" opacity="0.8"/><path d="M1800.4,300.5 q0.7,-2.0 -6.6,-8.3" stroke="#c0c0c0" stroke-width="2.3" fill="none" opacity="0.8"/><path d="M1817.0,289.6 q-0.2,7.8 11.5,1.4" stroke="#efefef" stroke-width="3.6" fill="none" opacity="0.8"/><path d="M1799.2,243.9 q10.7,-2.7 5.4,-16.2" stroke="#c4c4c4" stroke-width="3.0" fill="none" opacity="0.8"/><path d="M1736.2,368.1 q6.1,-4.0 13.4,15.0" stroke="#efefef" stroke-width="2.2" fill="none" opacity="0.8"/><path d="M1720.4,289.3 q5.7,4.0 6.5,-15.3" stroke="#b8b8b8" stroke-width="2.9" fill="none" opacity="0.8"/><path d="M1662.9,275.3 q-11.9,-9.4 14.4,14.9" stroke="#f4f4f4" stroke-width="3.0" fill="none" opacity="0.8"/><path d="M1695.3,233.6 q4.4,11.0 -2.0,-7.3" stroke="#c4c4c4" stroke-width="2.5" fill="none" opacity="0.8"/><path d="M1645.1,170.7 q6.8,9.2 0.8,-12.9" stroke="#b8b8b8" stroke-width="2.2" fill="none" opacity="0.8"/><path d="M1768.2,243.1 q-11.3,-5.5 -12.1,-6.5" stroke="#c4c4c4" stroke-width="3.3" fill="none" opacity="0.8"/><path d="M1712.5,217.9 q1.5,-4.2 -15.2,-11.7" stroke="#b8b8b8" stroke-width="2.1" fill="none" opacity="0.8"/><path d="M1812.1,212.6 q-0.8,10.7 6.3,-16.4" stroke="#c4c4c4" stroke-width="2.1" fill="none" opacity="0.8"/><path d="M1769.5,183.9 q9.8,-9.6 5.2,7.3" stroke="#b8b8b8" stroke-width="3.9" fill="none" opacity="0.8"/></g>
<path d="M1724.3,178.4 C1723.7,174.5 1723.2,172.2 1722.2,170.8 C1721.3,169.3 1719.7,170.1 1718.6,169.7 C1717.4,169.2 1716.5,168.1 1715.1,168.0 C1713.7,167.9 1711.8,169.1 1710.2,169.1 C1708.5,169.1 1706.7,168.0 1705.2,168.3 C1703.7,168.5 1702.7,170.2 1701.2,170.6 C1699.8,171.1 1698.1,170.4 1696.7,171.1 C1695.2,171.7 1694.0,173.7 1692.5,174.7 C1690.9,175.7 1689.0,176.5 1687.4,177.1 C1685.8,177.6 1684.3,177.4 1682.8,178.0 C1681.4,178.6 1680.1,179.6 1678.9,180.5 C1677.7,181.5 1677.0,182.8 1675.8,183.6 C1674.6,184.4 1672.9,184.3 1671.8,185.4 C1670.7,186.5 1670.0,188.6 1668.9,190.1 C1667.8,191.7 1666.5,193.0 1665.4,194.5 C1664.3,195.9 1663.1,197.4 1662.2,199.0 C1661.3,200.7 1660.7,202.4 1660.0,204.2 C1659.3,206.0 1658.6,207.9 1658.0,209.7 C1657.3,211.6 1656.9,213.5 1656.2,215.3 C1655.4,217.2 1654.0,218.8 1653.6,220.6 C1653.2,222.5 1653.8,224.5 1653.8,226.5 C1653.7,228.5 1653.1,231.2 1653.3,232.7 C1653.5,234.3 1654.5,234.9 1655.0,236.0 C1655.5,237.1 1657.4,238.3 1656.6,239.3 C1655.9,240.3 1651.8,240.9 1650.5,241.8 C1649.2,242.7 1649.3,243.8 1648.6,244.7 C1647.9,245.7 1647.0,246.1 1646.2,247.4 C1645.5,248.6 1644.7,250.5 1644.1,252.1 C1643.5,253.7 1643.0,255.2 1642.7,257.1 C1642.4,259.0 1642.9,261.4 1642.5,263.5 C1642.2,265.6 1641.2,267.6 1640.6,269.6 C1639.9,271.7 1638.9,273.7 1638.8,275.8 C1638.6,277.9 1639.3,280.0 1639.6,282.2 C1639.8,284.4 1640.2,286.8 1640.2,289.1 C1640.3,291.4 1639.9,293.9 1640.1,296.1 C1640.4,298.3 1641.3,300.2 1641.8,302.3 C1642.2,304.4 1642.2,306.6 1642.7,308.6 C1643.1,310.7 1643.7,312.6 1644.4,314.4 C1645.2,316.3 1646.1,318.2 1647.2,319.8 C1648.4,321.4 1650.2,322.4 1651.2,324.1 C1652.2,325.7 1652.5,327.9 1653.3,329.5 C1654.2,331.2 1655.2,332.6 1656.3,334.0 C1657.4,335.4 1658.7,336.3 1660.0,337.9 C1661.3,339.4 1663.5,341.6 1664.0,343.4 C1664.5,345.3 1663.0,347.3 1662.9,349.0 C1662.7,350.7 1662.6,352.1 1663.1,353.5 C1663.5,354.9 1664.4,356.2 1665.4,357.4 C1666.5,358.5 1668.1,359.3 1669.3,360.5 C1670.5,361.6 1671.3,363.0 1672.5,364.3 C1673.8,365.6 1675.1,367.4 1676.8,368.4 C1678.4,369.3 1680.4,369.2 1682.5,369.9 C1684.5,370.6 1686.7,371.8 1688.8,372.8 C1690.9,373.7 1693.3,374.4 1695.2,375.5 C1697.2,376.5 1698.6,378.1 1700.5,379.0 C1702.4,380.0 1704.9,380.5 1706.6,381.0 C1708.3,381.6 1709.5,382.0 1710.9,382.5 C1712.3,383.0 1713.8,384.1 1715.1,384.1 C1716.4,384.1 1717.4,383.0 1718.6,382.6 C1719.8,382.2 1720.9,383.0 1722.2,381.7 C1723.5,380.4 1725.4,377.4 1726.2,374.8 C1727.0,372.1 1727.3,370.2 1727.2,365.7 C1727.1,361.2 1726.3,355.3 1725.8,347.6 C1725.2,340.0 1724.3,330.2 1723.9,319.8 C1723.5,309.3 1723.4,296.6 1723.4,285.0 C1723.4,273.4 1723.6,261.8 1723.9,250.1 C1724.3,238.5 1725.0,224.6 1725.3,215.3 C1725.7,206.1 1726.4,200.6 1726.2,194.5 C1726.0,188.3 1725.0,182.4 1724.3,178.4Z" fill="none" stroke="#111" stroke-width="1.3"/><path d="M1745.7,178.4 C1746.3,174.5 1746.9,172.3 1747.8,170.8 C1748.7,169.2 1750.0,169.6 1751.2,169.1 C1752.4,168.6 1753.4,168.3 1754.9,168.0 C1756.3,167.7 1758.2,167.1 1759.9,167.2 C1761.5,167.2 1763.2,168.0 1764.8,168.3 C1766.4,168.5 1768.0,168.2 1769.4,168.7 C1770.8,169.2 1771.8,170.3 1773.3,171.1 C1774.8,171.8 1776.9,172.4 1778.4,173.4 C1779.9,174.4 1781.2,176.0 1782.6,177.1 C1783.9,178.1 1785.1,179.0 1786.5,179.6 C1787.9,180.1 1789.7,180.1 1791.1,180.5 C1792.5,181.0 1793.9,181.5 1795.1,182.3 C1796.3,183.1 1797.1,184.2 1798.2,185.4 C1799.3,186.6 1800.6,188.2 1801.7,189.7 C1802.8,191.2 1803.7,192.8 1804.6,194.5 C1805.4,196.1 1805.9,198.0 1806.8,199.6 C1807.7,201.2 1809.2,202.5 1810.0,204.2 C1810.8,205.9 1811.1,208.0 1811.8,209.8 C1812.4,211.7 1813.5,213.4 1813.8,215.3 C1814.1,217.2 1813.3,219.4 1813.7,221.2 C1814.1,223.1 1815.7,224.6 1816.2,226.5 C1816.7,228.4 1816.9,231.2 1816.7,232.7 C1816.5,234.3 1815.6,234.9 1815.1,236.0 C1814.5,237.1 1812.7,238.3 1813.4,239.3 C1814.1,240.2 1818.1,240.9 1819.5,241.8 C1820.9,242.7 1821.1,243.5 1821.8,244.4 C1822.5,245.4 1823.2,246.0 1823.8,247.4 C1824.3,248.7 1824.6,250.7 1825.2,252.4 C1825.8,254.0 1826.6,255.3 1827.3,257.1 C1828.0,258.9 1828.9,261.1 1829.3,263.2 C1829.6,265.3 1829.5,267.5 1829.4,269.6 C1829.3,271.8 1828.5,273.9 1828.7,276.0 C1828.8,278.1 1830.1,280.0 1830.4,282.2 C1830.8,284.4 1830.7,286.8 1830.6,289.2 C1830.5,291.5 1830.1,293.9 1829.9,296.1 C1829.6,298.3 1829.4,300.3 1828.9,302.4 C1828.5,304.5 1828.1,306.7 1827.3,308.6 C1826.6,310.6 1825.3,312.1 1824.5,314.0 C1823.7,315.8 1823.4,317.9 1822.8,319.8 C1822.1,321.6 1821.7,323.6 1820.7,325.2 C1819.6,326.9 1818.0,328.2 1816.7,329.5 C1815.4,330.9 1814.0,332.0 1812.9,333.4 C1811.8,334.8 1811.1,336.2 1810.0,337.9 C1808.8,339.5 1806.5,341.6 1806.0,343.4 C1805.5,345.3 1807.3,347.4 1807.1,349.0 C1806.9,350.6 1805.2,351.5 1804.8,352.9 C1804.4,354.2 1805.2,356.0 1804.6,357.4 C1804.0,358.8 1802.6,360.1 1801.4,361.2 C1800.2,362.4 1799.1,363.5 1797.5,364.3 C1795.9,365.1 1793.5,364.9 1791.8,365.9 C1790.2,366.8 1789.3,368.8 1787.5,369.9 C1785.8,371.0 1783.3,371.7 1781.1,372.6 C1779.0,373.5 1776.8,374.7 1774.8,375.5 C1772.7,376.3 1770.6,376.5 1768.7,377.5 C1766.8,378.4 1765.0,380.2 1763.4,381.0 C1761.8,381.9 1760.6,382.1 1759.2,382.7 C1757.8,383.2 1756.2,384.0 1754.9,384.1 C1753.6,384.2 1752.4,383.6 1751.2,383.2 C1750.1,382.8 1749.0,383.1 1747.8,381.7 C1746.5,380.3 1744.6,377.4 1743.8,374.8 C1743.0,372.1 1742.7,370.2 1742.8,365.7 C1742.9,361.2 1743.7,355.3 1744.2,347.6 C1744.8,340.0 1745.7,330.2 1746.1,319.8 C1746.5,309.3 1746.6,296.6 1746.6,285.0 C1746.6,273.4 1746.4,261.8 1746.1,250.1 C1745.7,238.5 1745.0,224.6 1744.7,215.3 C1744.3,206.1 1743.6,200.6 1743.8,194.5 C1744.0,188.3 1745.0,182.4 1745.7,178.4Z" fill="none" stroke="#111" stroke-width="1.3"/>
<rect x="1726.5" y="186.0" width="17" height="176" fill="#f6f6f6"/>
<path d="M1727.0,188.0 V360.0 M1743.0,188.0 V360.0" stroke="#111" stroke-width="1.3"/>
<line x1="1726.5" y1="190.0" x2="1743.5" y2="190.0" stroke="#0a50d8" stroke-width="2.0"/>
<line x1="1726.5" y1="196.0" x2="1743.5" y2="196.0" stroke="#222" stroke-width="2.6"/>
<line x1="1726.5" y1="208.0" x2="1743.5" y2="208.0" stroke="#0a50d8" stroke-width="2.0"/>
<line x1="1726.5" y1="218.0" x2="1743.5" y2="218.0" stroke="#0a50d8" stroke-width="1.5"/>
<line x1="1726.5" y1="242.0" x2="1743.5" y2="242.0" stroke="#0a50d8" stroke-width="2.0"/>
<line x1="1726.5" y1="250.0" x2="1743.5" y2="250.0" stroke="#0a50d8" stroke-width="2.0"/>
<line x1="1726.5" y1="264.0" x2="1743.5" y2="264.0" stroke="#1a6ae8" stroke-width="2.0"/>
<line x1="1726.5" y1="278.0" x2="1743.5" y2="278.0" stroke="#1a6ae8" stroke-width="1.5"/>
<line x1="1726.5" y1="292.0" x2="1743.5" y2="292.0" stroke="#0a50d8" stroke-width="1.5"/>
<line x1="1726.5" y1="306.0" x2="1743.5" y2="306.0" stroke="#0a50d8" stroke-width="2.0"/>
<line x1="1726.5" y1="318.0" x2="1743.5" y2="318.0" stroke="#0a50d8" stroke-width="2.6"/>
<line x1="1726.5" y1="328.0" x2="1743.5" y2="328.0" stroke="#1a6ae8" stroke-width="1.5"/>
<line x1="1726.5" y1="344.0" x2="1743.5" y2="344.0" stroke="#0a50d8" stroke-width="1.5"/>
<line x1="1726.5" y1="359.0" x2="1743.5" y2="359.0" stroke="#0a50d8" stroke-width="1.5"/>
<line x1="1726.5" y1="208.0" x2="1743.5" y2="196.0" stroke="#1a6ae8" stroke-width="1.8"/>
<line x1="1726.5" y1="242.0" x2="1743.5" y2="218.0" stroke="#0a50d8" stroke-width="1.8"/>
<line x1="1726.5" y1="242.0" x2="1743.5" y2="250.0" stroke="#1a6ae8" stroke-width="1.8"/>
<line x1="1726.5" y1="264.0" x2="1743.5" y2="250.0" stroke="#f0a020" stroke-width="1.8"/>
<line x1="1726.5" y1="278.0" x2="1743.5" y2="264.0" stroke="#333" stroke-width="1.8"/>
<line x1="1726.5" y1="318.0" x2="1743.5" y2="306.0" stroke="#333" stroke-width="1.8"/>
<line x1="1726.5" y1="318.0" x2="1743.5" y2="328.0" stroke="#1a6ae8" stroke-width="1.8"/>
<line x1="1706.6" y1="330.2" x2="1718.7" y2="243.9" stroke="#f08a30" stroke-width="1.4" opacity="0.8"/>
<line x1="1753.5" y1="274.5" x2="1798.2" y2="278.7" stroke="#f5c842" stroke-width="1.4" opacity="0.8"/>
<line x1="1683.2" y1="190.3" x2="1749.2" y2="195.2" stroke="#f08a30" stroke-width="1.4" opacity="0.8"/>
<line x1="1666.8" y1="284.3" x2="1760.6" y2="345.5" stroke="#f0b020" stroke-width="1.4" opacity="0.8"/>
<line x1="1676.1" y1="349.0" x2="1750.6" y2="284.3" stroke="#f5c842" stroke-width="1.4" opacity="0.8"/>
<line x1="1813.1" y1="294.0" x2="1671.8" y2="278.7" stroke="#f08a30" stroke-width="1.4" opacity="0.8"/>
<line x1="1765.5" y1="200.7" x2="1706.6" y2="330.2" stroke="#ffc000" stroke-width="1.4" opacity="0.8"/>
<line x1="1715.1" y1="236.2" x2="1745.7" y2="309.3" stroke="#ffc000" stroke-width="1.4" opacity="0.8"/>
<line x1="1793.9" y1="349.0" x2="1694.5" y2="282.9" stroke="#ffc000" stroke-width="1.4" opacity="0.8"/>
<line x1="1681.0" y1="240.4" x2="1683.2" y2="310.0" stroke="#f0b020" stroke-width="1.4" opacity="0.8"/>
<line x1="1753.5" y1="274.5" x2="1655.5" y2="278.0" stroke="#ffc000" stroke-width="1.4" opacity="0.8"/>
<line x1="1777.6" y1="325.3" x2="1673.2" y2="258.5" stroke="#ffc000" stroke-width="1.4" opacity="0.8"/>
<line x1="1786.8" y1="310.0" x2="1760.6" y2="345.5" stroke="#f5a623" stroke-width="1.4" opacity="0.8"/>
<line x1="1760.6" y1="345.5" x2="1720.1" y2="324.6" stroke="#ffc000" stroke-width="1.4" opacity="0.8"/>
<line x1="1720.1" y1="324.6" x2="1754.9" y2="236.2" stroke="#f5c842" stroke-width="1.4" opacity="0.8"/>
<line x1="1713.7" y1="358.1" x2="1749.2" y2="195.2" stroke="#f5a623" stroke-width="1.4" opacity="0.8"/>
<line x1="1679.6" y1="218.1" x2="1756.3" y2="358.1" stroke="#f5a623" stroke-width="1.4" opacity="0.8"/>
<line x1="1803.2" y1="284.3" x2="1749.2" y2="195.2" stroke="#f5a623" stroke-width="1.4" opacity="0.8"/>
<line x1="1709.4" y1="345.5" x2="1801.8" y2="212.6" stroke="#f08a30" stroke-width="1.4" opacity="0.8"/>
<line x1="1671.1" y1="346.2" x2="1750.6" y2="284.3" stroke="#f5a623" stroke-width="1.4" opacity="0.8"/>
<line x1="1750.6" y1="189.6" x2="1798.2" y2="278.7" stroke="#ffc000" stroke-width="1.4" opacity="0.8"/>
<line x1="1756.3" y1="358.1" x2="1749.2" y2="195.2" stroke="#f5c842" stroke-width="1.4" opacity="0.8"/>
<line x1="1811.7" y1="298.2" x2="1683.2" y2="310.0" stroke="#f5a623" stroke-width="1.4" opacity="0.8"/>
<line x1="1719.4" y1="284.3" x2="1673.2" y2="258.5" stroke="#f5c842" stroke-width="1.4" opacity="0.8"/>
<line x1="1681.0" y1="240.4" x2="1749.9" y2="324.6" stroke="#f0b020" stroke-width="1.4" opacity="0.8"/>
<line x1="1681.0" y1="240.4" x2="1673.2" y2="258.5" stroke="#f5c842" stroke-width="1.4" opacity="0.8"/>
<line x1="1673.2" y1="258.5" x2="1716.5" y2="274.5" stroke="#f5c842" stroke-width="1.4" opacity="0.8"/>
<line x1="1756.3" y1="358.1" x2="1814.5" y2="278.0" stroke="#ffc000" stroke-width="1.4" opacity="0.8"/>
<line x1="1753.5" y1="274.5" x2="1793.9" y2="349.0" stroke="#f5c842" stroke-width="1.4" opacity="0.8"/>
<line x1="1715.1" y1="236.2" x2="1745.7" y2="309.3" stroke="#f5a623" stroke-width="1.4" opacity="0.8"/>
<line x1="1666.8" y1="326.0" x2="1765.5" y2="200.7" stroke="#f0b020" stroke-width="1.4" opacity="0.8"/>
<line x1="1683.2" y1="310.0" x2="1775.5" y2="282.9" stroke="#f5a623" stroke-width="1.4" opacity="0.8"/>
<line x1="1715.1" y1="236.2" x2="1786.8" y2="310.0" stroke="#f0b020" stroke-width="1.4" opacity="0.8"/>
<line x1="1750.6" y1="189.6" x2="1786.8" y2="190.3" stroke="#ffc000" stroke-width="1.4" opacity="0.8"/>
<line x1="1704.5" y1="200.7" x2="1715.1" y2="236.2" stroke="#f0b020" stroke-width="1.4" opacity="0.8"/>
<line x1="1673.2" y1="258.5" x2="1749.2" y2="195.2" stroke="#f08a30" stroke-width="1.4" opacity="0.8"/>
<line x1="1678.9" y1="246.0" x2="1683.2" y2="310.0" stroke="#f5a623" stroke-width="1.4" opacity="0.8"/>
<line x1="1801.8" y1="212.6" x2="1777.6" y2="325.3" stroke="#ffc000" stroke-width="1.4" opacity="0.8"/>
<line x1="1798.2" y1="278.7" x2="1786.8" y2="310.0" stroke="#f08a30" stroke-width="1.4" opacity="0.8"/>
<line x1="1718.7" y1="243.9" x2="1704.5" y2="200.7" stroke="#ffc000" stroke-width="1.4" opacity="0.8"/>
<line x1="1745.7" y1="309.3" x2="1666.8" y2="284.3" stroke="#f08a30" stroke-width="1.4" opacity="0.8"/>
<line x1="1683.2" y1="190.3" x2="1704.5" y2="200.7" stroke="#f0b020" stroke-width="1.4" opacity="0.8"/>
<line x1="1793.9" y1="349.0" x2="1790.4" y2="218.1" stroke="#f5a623" stroke-width="1.4" opacity="0.8"/>
<line x1="1768.4" y1="209.1" x2="1716.5" y2="274.5" stroke="#f0b020" stroke-width="1.4" opacity="0.8"/>
<line x1="1803.2" y1="326.0" x2="1775.5" y2="359.5" stroke="#f08a30" stroke-width="1.4" opacity="0.8"/>
<line x1="1658.3" y1="298.2" x2="1791.1" y2="246.0" stroke="#ffc000" stroke-width="1.4" opacity="0.8"/>
<line x1="1681.0" y1="240.4" x2="1724.3" y2="309.3" stroke="#f5c842" stroke-width="1.4" opacity="0.8"/>
<line x1="1679.6" y1="218.1" x2="1793.9" y2="349.0" stroke="#f5a623" stroke-width="1.4" opacity="0.8"/>
<line x1="1709.4" y1="345.5" x2="1715.1" y2="236.2" stroke="#ffc000" stroke-width="1.4" opacity="0.8"/>
<line x1="1704.5" y1="200.7" x2="1760.6" y2="345.5" stroke="#f5c842" stroke-width="1.4" opacity="0.8"/>
<line x1="1713.7" y1="358.1" x2="1719.4" y2="284.3" stroke="#f5c842" stroke-width="1.4" opacity="0.8"/>
<line x1="1719.4" y1="189.6" x2="1775.5" y2="282.9" stroke="#ffc000" stroke-width="1.4" opacity="0.8"/>
<line x1="1704.5" y1="200.7" x2="1775.5" y2="359.5" stroke="#f08a30" stroke-width="1.4" opacity="0.8"/>
<line x1="1760.6" y1="345.5" x2="1658.3" y2="298.2" stroke="#f0b020" stroke-width="1.4" opacity="0.8"/>
<line x1="1750.6" y1="284.3" x2="1749.2" y2="195.2" stroke="#ffc000" stroke-width="1.4" opacity="0.8"/>
<line x1="1709.4" y1="345.5" x2="1791.1" y2="246.0" stroke="#ffc000" stroke-width="1.4" opacity="0.8"/>
<line x1="1724.3" y1="309.3" x2="1803.2" y2="284.3" stroke="#f5a623" stroke-width="1.4" opacity="0.8"/>
<line x1="1666.8" y1="326.0" x2="1814.5" y2="278.0" stroke="#f0b020" stroke-width="1.4" opacity="0.8"/>
<line x1="1671.8" y1="278.7" x2="1715.1" y2="236.2" stroke="#f5a623" stroke-width="1.4" opacity="0.8"/>
<line x1="1750.6" y1="284.3" x2="1671.8" y2="278.7" stroke="#f5a623" stroke-width="1.4" opacity="0.8"/>
<line x1="1713.7" y1="358.1" x2="1750.6" y2="284.3" stroke="#f5c842" stroke-width="1.4" opacity="0.8"/>
<line x1="1658.3" y1="298.2" x2="1678.9" y2="246.0" stroke="#f08a30" stroke-width="1.4" opacity="0.8"/>
<line x1="1692.4" y1="325.3" x2="1658.3" y2="298.2" stroke="#f0b020" stroke-width="1.4" opacity="0.8"/>
<line x1="1715.1" y1="236.2" x2="1683.2" y2="310.0" stroke="#f5a623" stroke-width="1.4" opacity="0.8"/>
<line x1="1753.5" y1="274.5" x2="1786.8" y2="190.3" stroke="#f0b020" stroke-width="1.4" opacity="0.8"/>
<line x1="1775.5" y1="359.5" x2="1754.9" y2="236.2" stroke="#f08a30" stroke-width="1.4" opacity="0.8"/>
<line x1="1671.8" y1="278.7" x2="1798.2" y2="278.7" stroke="#f08a30" stroke-width="1.4" opacity="0.8"/>
<line x1="1678.9" y1="246.0" x2="1666.8" y2="326.0" stroke="#f0b020" stroke-width="1.4" opacity="0.8"/>
<line x1="1751.3" y1="243.9" x2="1715.1" y2="236.2" stroke="#f08a30" stroke-width="1.4" opacity="0.8"/>
<line x1="1683.2" y1="190.3" x2="1777.6" y2="325.3" stroke="#ffc000" stroke-width="1.4" opacity="0.8"/>
<line x1="1756.3" y1="358.1" x2="1671.1" y2="346.2" stroke="#1f6fe8" stroke-width="1.8"/>
<line x1="1720.1" y1="324.6" x2="1671.1" y2="346.2" stroke="#0a60e0" stroke-width="1.8"/>
<line x1="1800.3" y1="307.9" x2="1813.1" y2="294.0" stroke="#1f6fe8" stroke-width="1.8"/>
<line x1="1798.2" y1="278.7" x2="1803.2" y2="284.3" stroke="#1f6fe8" stroke-width="1.8"/>
<line x1="1666.8" y1="326.0" x2="1692.4" y2="325.3" stroke="#1f6fe8" stroke-width="1.8"/>
<line x1="1719.4" y1="284.3" x2="1676.1" y2="349.0" stroke="#1e78d8" stroke-width="1.8"/>
<line x1="1745.7" y1="309.3" x2="1791.1" y2="246.0" stroke="#1e78d8" stroke-width="1.8"/>
<line x1="1706.6" y1="330.2" x2="1763.4" y2="330.2" stroke="#1e78d8" stroke-width="1.8"/>
<line x1="1798.2" y1="278.7" x2="1813.1" y2="294.0" stroke="#1e78d8" stroke-width="1.8"/>
<line x1="1658.3" y1="298.2" x2="1671.8" y2="278.7" stroke="#2a8af0" stroke-width="1.8"/>
<line x1="1719.4" y1="284.3" x2="1655.5" y2="278.0" stroke="#2a8af0" stroke-width="1.8"/>
<line x1="1694.5" y1="282.9" x2="1763.4" y2="330.2" stroke="#1e78d8" stroke-width="1.8"/>
<line x1="1765.5" y1="200.7" x2="1751.3" y2="243.9" stroke="#2a8af0" stroke-width="1.8"/>
<line x1="1713.7" y1="358.1" x2="1713.7" y2="358.1" stroke="#2a8af0" stroke-width="1.8"/>
<line x1="1720.8" y1="195.2" x2="1790.4" y2="218.1" stroke="#0a60e0" stroke-width="1.8"/>
<line x1="1655.5" y1="278.0" x2="1671.8" y2="278.7" stroke="#1f6fe8" stroke-width="1.8"/>
<line x1="1786.8" y1="190.3" x2="1789.0" y2="240.4" stroke="#1f6fe8" stroke-width="1.8"/>
<line x1="1798.2" y1="278.7" x2="1671.8" y2="278.7" stroke="#1e78d8" stroke-width="1.8"/>
<line x1="1681.0" y1="240.4" x2="1751.3" y2="243.9" stroke="#0a60e0" stroke-width="1.8"/>
<line x1="1775.5" y1="282.9" x2="1798.9" y2="346.2" stroke="#2a8af0" stroke-width="1.8"/>
<line x1="1719.4" y1="189.6" x2="1768.4" y2="209.1" stroke="#1e78d8" stroke-width="1.8"/>
<line x1="1676.1" y1="349.0" x2="1798.9" y2="346.2" stroke="#1e78d8" stroke-width="1.8"/>
<line x1="1678.9" y1="246.0" x2="1719.4" y2="189.6" stroke="#1f6fe8" stroke-width="1.8"/>
<line x1="1718.7" y1="243.9" x2="1673.2" y2="258.5" stroke="#0a60e0" stroke-width="1.8"/>
<line x1="1658.3" y1="298.2" x2="1694.5" y2="359.5" stroke="#1f6fe8" stroke-width="1.8"/>
<line x1="1789.0" y1="240.4" x2="1715.1" y2="236.2" stroke="#1f6fe8" stroke-width="1.8"/>
<line x1="1750.6" y1="189.6" x2="1765.5" y2="200.7" stroke="#1f6fe8" stroke-width="1.8"/>
<line x1="1751.3" y1="243.9" x2="1775.5" y2="282.9" stroke="#1f6fe8" stroke-width="1.8"/>
<line x1="1751.3" y1="243.9" x2="1796.8" y2="258.5" stroke="#1e78d8" stroke-width="1.8"/>
<line x1="1760.6" y1="345.5" x2="1745.7" y2="309.3" stroke="#2a8af0" stroke-width="1.8"/>
<line x1="1692.4" y1="325.3" x2="1706.6" y2="330.2" stroke="#1f6fe8" stroke-width="1.8"/>
<line x1="1775.5" y1="282.9" x2="1756.3" y2="358.1" stroke="#0a60e0" stroke-width="1.8"/>
<line x1="1803.2" y1="326.0" x2="1777.6" y2="325.3" stroke="#1e78d8" stroke-width="1.8"/>
<line x1="1750.6" y1="284.3" x2="1666.8" y2="284.3" stroke="#1e78d8" stroke-width="1.8"/>
<line x1="1753.5" y1="274.5" x2="1673.2" y2="258.5" stroke="#1e78d8" stroke-width="1.8"/>
<line x1="1658.3" y1="298.2" x2="1683.2" y2="310.0" stroke="#1f6fe8" stroke-width="1.8"/>
<line x1="1777.6" y1="325.3" x2="1745.7" y2="309.3" stroke="#1f6fe8" stroke-width="1.8"/>
<line x1="1768.4" y1="209.1" x2="1789.0" y2="240.4" stroke="#1e78d8" stroke-width="1.8"/>
<line x1="1724.3" y1="309.3" x2="1671.8" y2="278.7" stroke="#0a60e0" stroke-width="1.8"/>
<line x1="1683.2" y1="190.3" x2="1715.1" y2="236.2" stroke="#0a60e0" stroke-width="1.8"/>
<line x1="1716.5" y1="274.5" x2="1775.5" y2="282.9" stroke="#0a60e0" stroke-width="1.8"/>
<line x1="1798.9" y1="346.2" x2="1676.1" y2="349.0" stroke="#1f6fe8" stroke-width="1.8"/>
<line x1="1750.6" y1="189.6" x2="1749.2" y2="195.2" stroke="#2a8af0" stroke-width="1.8"/>
<line x1="1814.5" y1="278.0" x2="1786.8" y2="310.0" stroke="#1f6fe8" stroke-width="1.8"/>
<line x1="1745.7" y1="309.3" x2="1760.6" y2="345.5" stroke="#2a8af0" stroke-width="1.8"/>
<line x1="1750.6" y1="284.3" x2="1694.5" y2="282.9" stroke="#1f6fe8" stroke-width="1.8"/>
<line x1="1683.2" y1="190.3" x2="1715.1" y2="236.2" stroke="#1f6fe8" stroke-width="1.8"/>
<line x1="1655.5" y1="278.0" x2="1673.2" y2="258.5" stroke="#0a60e0" stroke-width="1.8"/>
<line x1="1655.5" y1="278.0" x2="1666.8" y2="284.3" stroke="#0a60e0" stroke-width="1.8"/>
<line x1="1811.7" y1="298.2" x2="1666.8" y2="284.3" stroke="#1f6fe8" stroke-width="1.8"/>
<line x1="1681.0" y1="240.4" x2="1678.9" y2="246.0" stroke="#2a8af0" stroke-width="1.8"/>
<line x1="1720.8" y1="195.2" x2="1754.9" y2="236.2" stroke="#2a8af0" stroke-width="1.8"/>
<line x1="1763.4" y1="330.2" x2="1800.3" y2="307.9" stroke="#1e78d8" stroke-width="1.8"/>
<line x1="1775.5" y1="359.5" x2="1709.4" y2="345.5" stroke="#0a60e0" stroke-width="1.8"/>
<line x1="1681.0" y1="240.4" x2="1701.6" y2="209.1" stroke="#1f6fe8" stroke-width="1.8"/>
<line x1="1671.8" y1="278.7" x2="1666.8" y2="284.3" stroke="#0a60e0" stroke-width="1.8"/>
<line x1="1719.4" y1="189.6" x2="1655.5" y2="278.0" stroke="#1e78d8" stroke-width="1.8"/>
<line x1="1777.6" y1="325.3" x2="1775.5" y2="359.5" stroke="#0a60e0" stroke-width="1.8"/>
<line x1="1753.5" y1="274.5" x2="1673.2" y2="258.5" stroke="#1f6fe8" stroke-width="1.8"/>
<line x1="1768.4" y1="209.1" x2="1683.2" y2="190.3" stroke="#2a8af0" stroke-width="1.8"/>
<line x1="1763.4" y1="330.2" x2="1749.9" y2="324.6" stroke="#1f6fe8" stroke-width="1.8"/>
<line x1="1803.2" y1="326.0" x2="1692.4" y2="325.3" stroke="#0a60e0" stroke-width="1.8"/>
<line x1="1720.8" y1="195.2" x2="1658.3" y2="298.2" stroke="#2a8af0" stroke-width="1.8"/>
<line x1="1749.2" y1="195.2" x2="1801.8" y2="212.6" stroke="#1e78d8" stroke-width="1.8"/>
<line x1="1765.5" y1="200.7" x2="1765.5" y2="200.7" stroke="#0a60e0" stroke-width="1.8"/>
<line x1="1713.7" y1="358.1" x2="1673.2" y2="258.5" stroke="#1f6fe8" stroke-width="1.8"/>
<line x1="1656.9" y1="294.0" x2="1719.4" y2="284.3" stroke="#0a60e0" stroke-width="1.8"/>
<line x1="1754.9" y1="236.2" x2="1750.6" y2="189.6" stroke="#2a8af0" stroke-width="1.8"/>
<line x1="1801.8" y1="212.6" x2="1720.8" y2="195.2" stroke="#2a8af0" stroke-width="1.8"/>
<line x1="1760.6" y1="345.5" x2="1706.6" y2="330.2" stroke="#1f6fe8" stroke-width="1.8"/>
<line x1="1768.4" y1="209.1" x2="1803.2" y2="284.3" stroke="#1e78d8" stroke-width="1.8"/>
<line x1="1775.5" y1="282.9" x2="1750.6" y2="284.3" stroke="#0a60e0" stroke-width="1.8"/>
<line x1="1671.8" y1="278.7" x2="1716.5" y2="274.5" stroke="#2a8af0" stroke-width="1.8"/>
<line x1="1786.8" y1="310.0" x2="1798.2" y2="278.7" stroke="#1f6fe8" stroke-width="1.8"/>
<line x1="1692.4" y1="325.3" x2="1777.6" y2="325.3" stroke="#1f6fe8" stroke-width="1.8"/>
<line x1="1789.0" y1="240.4" x2="1681.0" y2="240.4" stroke="#0a60e0" stroke-width="1.8"/>
<line x1="1789.0" y1="240.4" x2="1715.1" y2="236.2" stroke="#2a8af0" stroke-width="1.8"/>
<line x1="1692.4" y1="325.3" x2="1706.6" y2="330.2" stroke="#1f6fe8" stroke-width="1.8"/>
<line x1="1666.8" y1="284.3" x2="1658.3" y2="298.2" stroke="#1e78d8" stroke-width="1.8"/>
<line x1="1750.6" y1="189.6" x2="1683.2" y2="190.3" stroke="#0a60e0" stroke-width="1.8"/>
<line x1="1775.5" y1="359.5" x2="1760.6" y2="345.5" stroke="#0a60e0" stroke-width="1.8"/>
<line x1="1720.8" y1="195.2" x2="1750.6" y2="189.6" stroke="#1e78d8" stroke-width="1.8"/>
<line x1="1715.1" y1="236.2" x2="1768.4" y2="209.1" stroke="#2a8af0" stroke-width="1.8"/>
<line x1="1775.5" y1="282.9" x2="1777.6" y2="325.3" stroke="#2a8af0" stroke-width="1.8"/>
<line x1="1760.6" y1="345.5" x2="1709.4" y2="345.5" stroke="#0a60e0" stroke-width="1.8"/>
<line x1="1775.5" y1="282.9" x2="1666.8" y2="284.3" stroke="#2a8af0" stroke-width="1.8"/>
<line x1="1798.2" y1="278.7" x2="1750.6" y2="284.3" stroke="#0a60e0" stroke-width="1.8"/>
<line x1="1814.5" y1="278.0" x2="1655.5" y2="278.0" stroke="#2a8af0" stroke-width="1.8"/>
<line x1="1793.9" y1="349.0" x2="1763.4" y2="330.2" stroke="#1e78d8" stroke-width="1.8"/>
<line x1="1683.2" y1="310.0" x2="1658.3" y2="298.2" stroke="#1e78d8" stroke-width="1.8"/>
<line x1="1704.5" y1="200.7" x2="1765.5" y2="200.7" stroke="#1f6fe8" stroke-width="1.8"/>
<line x1="1745.7" y1="309.3" x2="1666.8" y2="326.0" stroke="#2a8af0" stroke-width="1.8"/>
<line x1="1750.6" y1="189.6" x2="1720.8" y2="195.2" stroke="#1f6fe8" stroke-width="1.8"/>
<line x1="1791.1" y1="246.0" x2="1745.7" y2="309.3" stroke="#0a60e0" stroke-width="1.8"/>
<line x1="1790.4" y1="218.1" x2="1786.8" y2="190.3" stroke="#2a8af0" stroke-width="1.8"/>
<line x1="1753.5" y1="274.5" x2="1666.8" y2="284.3" stroke="#1f6fe8" stroke-width="1.8"/>
<line x1="1709.4" y1="345.5" x2="1720.1" y2="324.6" stroke="#1e78d8" stroke-width="1.8"/>
<line x1="1756.3" y1="358.1" x2="1694.5" y2="359.5" stroke="#0a60e0" stroke-width="1.8"/>
<line x1="1679.6" y1="218.1" x2="1719.4" y2="284.3" stroke="#1f6fe8" stroke-width="1.8"/>
<line x1="1790.4" y1="218.1" x2="1789.0" y2="240.4" stroke="#2a8af0" stroke-width="1.8"/>
<circle cx="1683.2" cy="190.3" r="3.4" fill="url(#ndc)"/>
<circle cx="1786.8" cy="190.3" r="3.4" fill="url(#ndc)"/>
<circle cx="1719.4" cy="189.6" r="3.4" fill="url(#ndc)"/>
<circle cx="1750.6" cy="189.6" r="3.4" fill="url(#ndc)"/>
<circle cx="1720.8" cy="195.2" r="3.4" fill="url(#ndc)"/>
<circle cx="1749.2" cy="195.2" r="3.4" fill="url(#ndc)"/>
<circle cx="1704.5" cy="200.7" r="3.4" fill="url(#ndc)"/>
<circle cx="1765.5" cy="200.7" r="3.4" fill="url(#ndc)"/>
<circle cx="1701.6" cy="209.1" r="3.4" fill="url(#ndc)"/>
<circle cx="1768.4" cy="209.1" r="3.4" fill="url(#ndc)"/>
<circle cx="1668.2" cy="212.6" r="3.4" fill="url(#ndc)"/>
<circle cx="1801.8" cy="212.6" r="3.4" fill="url(#ndc)"/>
<circle cx="1679.6" cy="218.1" r="3.4" fill="url(#ndc)"/>
<circle cx="1790.4" cy="218.1" r="3.4" fill="url(#ndc)"/>
<circle cx="1715.1" cy="236.2" r="3.4" fill="url(#ndc)"/>
<circle cx="1754.9" cy="236.2" r="3.4" fill="url(#ndc)"/>
<circle cx="1681.0" cy="240.4" r="3.4" fill="url(#ndc)"/>
<circle cx="1789.0" cy="240.4" r="3.4" fill="url(#ndc)"/>
<circle cx="1678.9" cy="246.0" r="3.4" fill="url(#ndc)"/>
<circle cx="1791.1" cy="246.0" r="3.4" fill="url(#ndc)"/>
<circle cx="1718.7" cy="243.9" r="3.4" fill="url(#ndc)"/>
<circle cx="1751.3" cy="243.9" r="3.4" fill="url(#ndc)"/>
<circle cx="1673.2" cy="258.5" r="3.4" fill="url(#ndc)"/>
<circle cx="1796.8" cy="258.5" r="3.4" fill="url(#ndc)"/>
<circle cx="1655.5" cy="278.0" r="3.4" fill="url(#ndc)"/>
<circle cx="1814.5" cy="278.0" r="3.4" fill="url(#ndc)"/>
<circle cx="1671.8" cy="278.7" r="3.4" fill="url(#ndc)"/>
<circle cx="1798.2" cy="278.7" r="3.4" fill="url(#ndc)"/>
<circle cx="1666.8" cy="284.3" r="3.4" fill="url(#ndc)"/>
<circle cx="1803.2" cy="284.3" r="3.4" fill="url(#ndc)"/>
<circle cx="1694.5" cy="282.9" r="3.4" fill="url(#ndc)"/>
<circle cx="1775.5" cy="282.9" r="3.4" fill="url(#ndc)"/>
<circle cx="1716.5" cy="274.5" r="3.4" fill="url(#ndc)"/>
<circle cx="1753.5" cy="274.5" r="3.4" fill="url(#ndc)"/>
<circle cx="1719.4" cy="284.3" r="3.4" fill="url(#ndc)"/>
<circle cx="1750.6" cy="284.3" r="3.4" fill="url(#ndc)"/>
<circle cx="1656.9" cy="294.0" r="3.4" fill="url(#ndc)"/>
<circle cx="1813.1" cy="294.0" r="3.4" fill="url(#ndc)"/>
<circle cx="1658.3" cy="298.2" r="3.4" fill="url(#ndc)"/>
<circle cx="1811.7" cy="298.2" r="3.4" fill="url(#ndc)"/>
<circle cx="1669.7" cy="307.9" r="3.4" fill="url(#ndc)"/>
<circle cx="1800.3" cy="307.9" r="3.4" fill="url(#ndc)"/>
<circle cx="1683.2" cy="310.0" r="3.4" fill="url(#ndc)"/>
<circle cx="1786.8" cy="310.0" r="3.4" fill="url(#ndc)"/>
<circle cx="1724.3" cy="309.3" r="3.4" fill="url(#ndc)"/>
<circle cx="1745.7" cy="309.3" r="3.4" fill="url(#ndc)"/>
<circle cx="1666.8" cy="326.0" r="3.4" fill="url(#ndc)"/>
<circle cx="1803.2" cy="326.0" r="3.4" fill="url(#ndc)"/>
<circle cx="1692.4" cy="325.3" r="3.4" fill="url(#ndc)"/>
<circle cx="1777.6" cy="325.3" r="3.4" fill="url(#ndc)"/>
<circle cx="1720.1" cy="324.6" r="3.4" fill="url(#ndc)"/>
<circle cx="1749.9" cy="324.6" r="3.4" fill="url(#ndc)"/>
<circle cx="1706.6" cy="330.2" r="3.4" fill="url(#ndc)"/>
<circle cx="1763.4" cy="330.2" r="3.4" fill="url(#ndc)"/>
<circle cx="1671.1" cy="346.2" r="3.4" fill="url(#ndc)"/>
<circle cx="1798.9" cy="346.2" r="3.4" fill="url(#ndc)"/>
<circle cx="1676.1" cy="349.0" r="3.4" fill="url(#ndc)"/>
<circle cx="1793.9" cy="349.0" r="3.4" fill="url(#ndc)"/>
<circle cx="1709.4" cy="345.5" r="3.4" fill="url(#ndc)"/>
<circle cx="1760.6" cy="345.5" r="3.4" fill="url(#ndc)"/>
<circle cx="1694.5" cy="359.5" r="3.4" fill="url(#ndc)"/>
<circle cx="1775.5" cy="359.5" r="3.4" fill="url(#ndc)"/>
<circle cx="1713.7" cy="358.1" r="3.4" fill="url(#ndc)"/>
<circle cx="1756.3" cy="358.1" r="3.4" fill="url(#ndc)"/>
<text x="349.8" y="649.3" font-size="34.8" fill="#231f20" text-anchor="start" >Controls vs. FCD Type-II</text>
<text x="939.8" y="649.3" font-size="34.7" fill="#231f20" text-anchor="start" >Controls vs. HET</text>
<text x="1478.8" y="649.3" font-size="34.75" fill="#231f20" text-anchor="start" >Controls vs. PMG</text>
<rect x="1879" y="142.1" width="69" height="26.7" fill="#7a0086"/>
<text x="1956.3" y="165.2" font-size="27.8" fill="#000" text-anchor="start" >Frontal</text>
<rect x="1879" y="174.1" width="69" height="26.7" fill="#00a5d4"/>
<text x="1956.3" y="195.3" font-size="27.8" fill="#000" text-anchor="start" >Central</text>
<rect x="1879" y="204.1" width="69" height="26.7" fill="#f5e000"/>
<text x="1956.3" y="227.4" font-size="27.8" fill="#000" text-anchor="start" >Parietal</text>
<rect x="1879" y="237.2" width="69" height="25.6" fill="#00e600"/>
<text x="1956.3" y="259.5" font-size="27.8" fill="#000" text-anchor="start" >Occipital</text>
<rect x="1879" y="267" width="69" height="25.7" fill="#c9a8a8"/>
<text x="1956.3" y="292.3" font-size="27.8" fill="#000" text-anchor="start" >Limbic</text>
<rect x="1879" y="299.1" width="69" height="26.7" fill="#cc0000"/>
<text x="1956.3" y="324.6" font-size="27.8" fill="#000" text-anchor="start" >Temporal</text>
<text x="1868.7" y="407.4" font-size="31.3" fill="#231f20" text-anchor="start" >Correlation</text>
<text x="1868.4" y="444.9" font-size="31.3" fill="#231f20" text-anchor="start" >Difference</text>
<defs><linearGradient id="cbar" x1="0" y1="0" x2="0" y2="1"><stop offset="0" stop-color="#ffffff"/><stop offset="0.04" stop-color="#fffff0"/><stop offset="0.13" stop-color="#ffff00"/><stop offset="0.28" stop-color="#ffa020"/><stop offset="0.36" stop-color="#ff6060"/><stop offset="0.47" stop-color="#cc0000"/><stop offset="0.475" stop-color="#d8c8c0"/><stop offset="0.5" stop-color="#d0d0d8"/><stop offset="0.52" stop-color="#0000ff"/><stop offset="0.62" stop-color="#0010ff"/><stop offset="0.8" stop-color="#0090ff"/><stop offset="1" stop-color="#00ffff"/></linearGradient></defs>
<rect x="1883" y="478" width="68.5" height="119" fill="url(#cbar)"/>
<path d="M1883,476.7 H1970.7 M1883,597.7 H1970.7 M1882.7,476.5 V598 M1952,476.5 V598" stroke="#231f20" stroke-width="3" fill="none"/>
<line x1="1939.0" y1="501.1" x2="1950" y2="501.1" stroke="#6a5a50" stroke-width="0.8"/>
<line x1="1939.0" y1="525.6" x2="1950" y2="525.6" stroke="#6a5a50" stroke-width="0.8"/>
<line x1="1939.0" y1="549.8" x2="1950" y2="549.8" stroke="#6a5a50" stroke-width="0.8"/>
<line x1="1939.0" y1="574.3" x2="1950" y2="574.3" stroke="#6a5a50" stroke-width="0.8"/>
<text x="1980.5" y="485.4" font-size="31.2" fill="#231f20" text-anchor="start" >Patietns&gt;Controls</text>
<text x="1980.5" y="606.5" font-size="31.2" fill="#231f20" text-anchor="start" >Patients&lt;Controls</text>
<text x="1878.7" y="651.0" font-size="31.3" fill="#231f20" text-anchor="start" >FDR&lt;0.05</text>
<path d="M256.6,906.5 V1290.5 H743" stroke="#1a1418" stroke-width="2.6" fill="none"/>
<line x1="256.6" y1="907.8" x2="264" y2="907.8" stroke="#1a1418" stroke-width="2.4"/>
<text x="243.0" y="918.4" font-size="29.3" fill="#231f20" text-anchor="end" >0.7</text>
<line x1="256.6" y1="994.0" x2="264" y2="994.0" stroke="#1a1418" stroke-width="2.4"/>
<text x="243.0" y="1004.6" font-size="29.3" fill="#231f20" text-anchor="end" >0.6</text>
<line x1="256.6" y1="1076.6" x2="264" y2="1076.6" stroke="#1a1418" stroke-width="2.4"/>
<text x="243.0" y="1087.2" font-size="29.3" fill="#231f20" text-anchor="end" >0.5</text>
<line x1="256.6" y1="1162.4" x2="264" y2="1162.4" stroke="#1a1418" stroke-width="2.4"/>
<text x="243.0" y="1173.0" font-size="29.3" fill="#231f20" text-anchor="end" >0.4</text>
<line x1="256.6" y1="1247.8" x2="264" y2="1247.8" stroke="#1a1418" stroke-width="2.4"/>
<text x="243.0" y="1258.4" font-size="29.3" fill="#231f20" text-anchor="end" >0.3</text>
<line x1="266.5" y1="1281" x2="266.5" y2="1290" stroke="#1a1418" stroke-width="2.6"/>
<text x="268.5" y="1321.3" font-size="29.5" fill="#231f20" text-anchor="middle" >5</text>
<line x1="330.2" y1="1281" x2="330.2" y2="1290" stroke="#1a1418" stroke-width="2.6"/>
<text x="332.2" y="1321.3" font-size="29.5" fill="#231f20" text-anchor="middle" >10</text>
<line x1="393.9" y1="1281" x2="393.9" y2="1290" stroke="#1a1418" stroke-width="2.6"/>
<text x="395.9" y="1321.3" font-size="29.5" fill="#231f20" text-anchor="middle" >15</text>
<line x1="457.7" y1="1281" x2="457.7" y2="1290" stroke="#1a1418" stroke-width="2.6"/>
<text x="459.7" y="1321.3" font-size="29.5" fill="#231f20" text-anchor="middle" >20</text>
<line x1="521.4" y1="1281" x2="521.4" y2="1290" stroke="#1a1418" stroke-width="2.6"/>
<text x="523.4" y="1321.3" font-size="29.5" fill="#231f20" text-anchor="middle" >25</text>
<line x1="585.1" y1="1281" x2="585.1" y2="1290" stroke="#1a1418" stroke-width="2.6"/>
<text x="587.1" y="1321.3" font-size="29.5" fill="#231f20" text-anchor="middle" >30</text>
<line x1="648.8" y1="1281" x2="648.8" y2="1290" stroke="#1a1418" stroke-width="2.6"/>
<text x="650.8" y="1321.3" font-size="29.5" fill="#231f20" text-anchor="middle" >35</text>
<line x1="712.5" y1="1281" x2="712.5" y2="1290" stroke="#1a1418" stroke-width="2.6"/>
<text x="714.5" y="1321.3" font-size="29.5" fill="#231f20" text-anchor="middle" >40</text>
<text x="368.3" y="857.5" font-size="29.0" fill="#231f20" text-anchor="start" >Clustering coefficient</text>
<text x="451.6" y="1365.7" font-size="28.5" fill="#231f20" text-anchor="start" >Density</text>
<text transform="translate(166,1128.3) rotate(-90)" font-size="38" font-style="italic" fill="#231f20">Cp</text>
<polyline points="268.5,1138.6 281.4,1131.2 294.2,1080.3 306.4,1073.6 319.0,1068.1 331.5,1052.2 344.1,1026.8 356.9,1009.2 369.8,1023.4 382.4,1020.7 394.9,1017.6 407.5,1012.9 420.3,1007.5 432.9,1002.4 445.4,994.9 458.0,992.2 470.8,994.9 483.4,991.5 496.3,986.8 508.8,981.7 521.4,974.2 534.2,972.9 546.8,968.1 559.3,968.8 572.2,967.1 584.7,961.7 597.3,959.0 609.8,955.3 622.7,954.2 635.3,949.8 648.1,946.8 660.7,947.5 673.2,942.0 686.1,942.7 698.6,937.3 711.5,936.6" fill="none" stroke="#63ac3c" stroke-width="2.3" stroke-linejoin="round"/>
<circle cx="268.5" cy="1138.6" r="2.7" fill="#63ac3c"/>
<circle cx="281.4" cy="1131.2" r="2.7" fill="#63ac3c"/>
<circle cx="294.2" cy="1080.3" r="2.7" fill="#63ac3c"/>
<circle cx="306.4" cy="1073.6" r="2.7" fill="#63ac3c"/>
<circle cx="319.0" cy="1068.1" r="2.7" fill="#63ac3c"/>
<circle cx="331.5" cy="1052.2" r="2.7" fill="#63ac3c"/>
<circle cx="344.1" cy="1026.8" r="2.7" fill="#63ac3c"/>
<circle cx="356.9" cy="1009.2" r="2.7" fill="#63ac3c"/>
<circle cx="369.8" cy="1023.4" r="2.7" fill="#63ac3c"/>
<circle cx="382.4" cy="1020.7" r="2.7" fill="#63ac3c"/>
<circle cx="394.9" cy="1017.6" r="2.7" fill="#63ac3c"/>
<circle cx="407.5" cy="1012.9" r="2.7" fill="#63ac3c"/>
<circle cx="420.3" cy="1007.5" r="2.7" fill="#63ac3c"/>
<circle cx="432.9" cy="1002.4" r="2.7" fill="#63ac3c"/>
<circle cx="445.4" cy="994.9" r="2.7" fill="#63ac3c"/>
<circle cx="458.0" cy="992.2" r="2.7" fill="#63ac3c"/>
<circle cx="470.8" cy="994.9" r="2.7" fill="#63ac3c"/>
<circle cx="483.4" cy="991.5" r="2.7" fill="#63ac3c"/>
<circle cx="496.3" cy="986.8" r="2.7" fill="#63ac3c"/>
<circle cx="508.8" cy="981.7" r="2.7" fill="#63ac3c"/>
<circle cx="521.4" cy="974.2" r="2.7" fill="#63ac3c"/>
<circle cx="534.2" cy="972.9" r="2.7" fill="#63ac3c"/>
<circle cx="546.8" cy="968.1" r="2.7" fill="#63ac3c"/>
<circle cx="559.3" cy="968.8" r="2.7" fill="#63ac3c"/>
<circle cx="572.2" cy="967.1" r="2.7" fill="#63ac3c"/>
<circle cx="584.7" cy="961.7" r="2.7" fill="#63ac3c"/>
<circle cx="597.3" cy="959.0" r="2.7" fill="#63ac3c"/>
<circle cx="609.8" cy="955.3" r="2.7" fill="#63ac3c"/>
<circle cx="622.7" cy="954.2" r="2.7" fill="#63ac3c"/>
<circle cx="635.3" cy="949.8" r="2.7" fill="#63ac3c"/>
<circle cx="648.1" cy="946.8" r="2.7" fill="#63ac3c"/>
<circle cx="660.7" cy="947.5" r="2.7" fill="#63ac3c"/>
<circle cx="673.2" cy="942.0" r="2.7" fill="#63ac3c"/>
<circle cx="686.1" cy="942.7" r="2.7" fill="#63ac3c"/>
<circle cx="698.6" cy="937.3" r="2.7" fill="#63ac3c"/>
<circle cx="711.5" cy="936.6" r="2.7" fill="#63ac3c"/>
<polyline points="268.5,1162.4 281.4,1105.8 294.2,1112.2 306.4,1090.5 319.0,1081.0 331.5,1076.9 344.1,1072.9 356.9,1075.9 369.8,1079.7 382.4,1076.6 394.9,1076.6 407.5,1072.9 420.3,1080.0 432.9,1077.6 445.4,1082.7 458.0,1085.4 470.8,1081.7 483.4,1075.9 496.3,1070.8 508.8,1068.1 521.4,1064.7 534.2,1060.0 546.8,1054.6 559.3,1058.3 572.2,1056.3 584.7,1053.9 597.3,1044.7 609.8,1041.7 622.7,1041.4 635.3,1037.6 648.1,1034.6 660.7,1032.2 673.2,1030.8 686.1,1028.8 698.6,1025.4 711.5,1020.3" fill="none" stroke="#6b2a8e" stroke-width="2.3" stroke-linejoin="round"/>
<circle cx="268.5" cy="1162.4" r="2.7" fill="#6b2a8e"/>
<circle cx="281.4" cy="1105.8" r="2.7" fill="#6b2a8e"/>
<circle cx="294.2" cy="1112.2" r="2.7" fill="#6b2a8e"/>
<circle cx="306.4" cy="1090.5" r="2.7" fill="#6b2a8e"/>
<circle cx="319.0" cy="1081.0" r="2.7" fill="#6b2a8e"/>
<circle cx="331.5" cy="1076.9" r="2.7" fill="#6b2a8e"/>
<circle cx="344.1" cy="1072.9" r="2.7" fill="#6b2a8e"/>
<circle cx="356.9" cy="1075.9" r="2.7" fill="#6b2a8e"/>
<circle cx="369.8" cy="1079.7" r="2.7" fill="#6b2a8e"/>
<circle cx="382.4" cy="1076.6" r="2.7" fill="#6b2a8e"/>
<circle cx="394.9" cy="1076.6" r="2.7" fill="#6b2a8e"/>
<circle cx="407.5" cy="1072.9" r="2.7" fill="#6b2a8e"/>
<circle cx="420.3" cy="1080.0" r="2.7" fill="#6b2a8e"/>
<circle cx="432.9" cy="1077.6" r="2.7" fill="#6b2a8e"/>
<circle cx="445.4" cy="1082.7" r="2.7" fill="#6b2a8e"/>
<circle cx="458.0" cy="1085.4" r="2.7" fill="#6b2a8e"/>
<circle cx="470.8" cy="1081.7" r="2.7" fill="#6b2a8e"/>
<circle cx="483.4" cy="1075.9" r="2.7" fill="#6b2a8e"/>
<circle cx="496.3" cy="1070.8" r="2.7" fill="#6b2a8e"/>
<circle cx="508.8" cy="1068.1" r="2.7" fill="#6b2a8e"/>
<circle cx="521.4" cy="1064.7" r="2.7" fill="#6b2a8e"/>
<circle cx="534.2" cy="1060.0" r="2.7" fill="#6b2a8e"/>
<circle cx="546.8" cy="1054.6" r="2.7" fill="#6b2a8e"/>
<circle cx="559.3" cy="1058.3" r="2.7" fill="#6b2a8e"/>
<circle cx="572.2" cy="1056.3" r="2.7" fill="#6b2a8e"/>
<circle cx="584.7" cy="1053.9" r="2.7" fill="#6b2a8e"/>
<circle cx="597.3" cy="1044.7" r="2.7" fill="#6b2a8e"/>
<circle cx="609.8" cy="1041.7" r="2.7" fill="#6b2a8e"/>
<circle cx="622.7" cy="1041.4" r="2.7" fill="#6b2a8e"/>
<circle cx="635.3" cy="1037.6" r="2.7" fill="#6b2a8e"/>
<circle cx="648.1" cy="1034.6" r="2.7" fill="#6b2a8e"/>
<circle cx="660.7" cy="1032.2" r="2.7" fill="#6b2a8e"/>
<circle cx="673.2" cy="1030.8" r="2.7" fill="#6b2a8e"/>
<circle cx="686.1" cy="1028.8" r="2.7" fill="#6b2a8e"/>
<circle cx="698.6" cy="1025.4" r="2.7" fill="#6b2a8e"/>
<circle cx="711.5" cy="1020.3" r="2.7" fill="#6b2a8e"/>
<polyline points="268.5,1175.3 281.4,1174.2 294.2,1155.6 306.4,1179.3 319.0,1173.6 331.5,1176.6 344.1,1183.4 356.9,1169.8 369.8,1161.0 382.4,1153.6 394.9,1138.6 407.5,1124.1 420.3,1112.2 432.9,1107.1 445.4,1104.1 458.0,1104.1 470.8,1104.1 483.4,1104.1 496.3,1098.6 508.8,1092.2 521.4,1089.5 534.2,1087.8 546.8,1086.8 559.3,1082.0 572.2,1074.9 584.7,1072.5 597.3,1069.8 609.8,1063.4 622.7,1058.3 635.3,1057.3 648.1,1051.9 660.7,1046.4 673.2,1042.7 686.1,1037.6 698.6,1032.5 711.5,1028.8" fill="none" stroke="#eeaa2a" stroke-width="2.3" stroke-linejoin="round"/>
<circle cx="268.5" cy="1175.3" r="2.7" fill="#eeaa2a"/>
<circle cx="281.4" cy="1174.2" r="2.7" fill="#eeaa2a"/>
<circle cx="294.2" cy="1155.6" r="2.7" fill="#eeaa2a"/>
<circle cx="306.4" cy="1179.3" r="2.7" fill="#eeaa2a"/>
<circle cx="319.0" cy="1173.6" r="2.7" fill="#eeaa2a"/>
<circle cx="331.5" cy="1176.6" r="2.7" fill="#eeaa2a"/>
<circle cx="344.1" cy="1183.4" r="2.7" fill="#eeaa2a"/>
<circle cx="356.9" cy="1169.8" r="2.7" fill="#eeaa2a"/>
<circle cx="369.8" cy="1161.0" r="2.7" fill="#eeaa2a"/>
<circle cx="382.4" cy="1153.6" r="2.7" fill="#eeaa2a"/>
<circle cx="394.9" cy="1138.6" r="2.7" fill="#eeaa2a"/>
<circle cx="407.5" cy="1124.1" r="2.7" fill="#eeaa2a"/>
<circle cx="420.3" cy="1112.2" r="2.7" fill="#eeaa2a"/>
<circle cx="432.9" cy="1107.1" r="2.7" fill="#eeaa2a"/>
<circle cx="445.4" cy="1104.1" r="2.7" fill="#eeaa2a"/>
<circle cx="458.0" cy="1104.1" r="2.7" fill="#eeaa2a"/>
<circle cx="470.8" cy="1104.1" r="2.7" fill="#eeaa2a"/>
<circle cx="483.4" cy="1104.1" r="2.7" fill="#eeaa2a"/>
<circle cx="496.3" cy="1098.6" r="2.7" fill="#eeaa2a"/>
<circle cx="508.8" cy="1092.2" r="2.7" fill="#eeaa2a"/>
<circle cx="521.4" cy="1089.5" r="2.7" fill="#eeaa2a"/>
<circle cx="534.2" cy="1087.8" r="2.7" fill="#eeaa2a"/>
<circle cx="546.8" cy="1086.8" r="2.7" fill="#eeaa2a"/>
<circle cx="559.3" cy="1082.0" r="2.7" fill="#eeaa2a"/>
<circle cx="572.2" cy="1074.9" r="2.7" fill="#eeaa2a"/>
<circle cx="584.7" cy="1072.5" r="2.7" fill="#eeaa2a"/>
<circle cx="597.3" cy="1069.8" r="2.7" fill="#eeaa2a"/>
<circle cx="609.8" cy="1063.4" r="2.7" fill="#eeaa2a"/>
<circle cx="622.7" cy="1058.3" r="2.7" fill="#eeaa2a"/>
<circle cx="635.3" cy="1057.3" r="2.7" fill="#eeaa2a"/>
<circle cx="648.1" cy="1051.9" r="2.7" fill="#eeaa2a"/>
<circle cx="660.7" cy="1046.4" r="2.7" fill="#eeaa2a"/>
<circle cx="673.2" cy="1042.7" r="2.7" fill="#eeaa2a"/>
<circle cx="686.1" cy="1037.6" r="2.7" fill="#eeaa2a"/>
<circle cx="698.6" cy="1032.5" r="2.7" fill="#eeaa2a"/>
<circle cx="711.5" cy="1028.8" r="2.7" fill="#eeaa2a"/>
<polyline points="268.5,1246.4 281.4,1230.2 294.2,1197.3 306.4,1174.2 319.0,1183.4 331.5,1190.5 344.1,1183.4 356.9,1195.3 369.8,1197.6 382.4,1196.9 394.9,1192.2 407.5,1187.8 420.3,1193.6 432.9,1182.7 445.4,1178.6 458.0,1174.6 470.8,1166.4 483.4,1160.0 496.3,1158.0 508.8,1151.2 521.4,1143.7 534.2,1139.0 546.8,1133.2 559.3,1129.8 572.2,1125.4 584.7,1122.0 597.3,1118.3 609.8,1110.5 622.7,1103.7 635.3,1098.6 648.1,1092.9 660.7,1089.5 673.2,1083.1 686.1,1077.6 698.6,1069.2 711.5,1063.4" fill="none" stroke="#1a72bb" stroke-width="2.3" stroke-linejoin="round"/>
<circle cx="268.5" cy="1246.4" r="2.7" fill="#1a72bb"/>
<circle cx="281.4" cy="1230.2" r="2.7" fill="#1a72bb"/>
<circle cx="294.2" cy="1197.3" r="2.7" fill="#1a72bb"/>
<circle cx="306.4" cy="1174.2" r="2.7" fill="#1a72bb"/>
<circle cx="319.0" cy="1183.4" r="2.7" fill="#1a72bb"/>
<circle cx="331.5" cy="1190.5" r="2.7" fill="#1a72bb"/>
<circle cx="344.1" cy="1183.4" r="2.7" fill="#1a72bb"/>
<circle cx="356.9" cy="1195.3" r="2.7" fill="#1a72bb"/>
<circle cx="369.8" cy="1197.6" r="2.7" fill="#1a72bb"/>
<circle cx="382.4" cy="1196.9" r="2.7" fill="#1a72bb"/>
<circle cx="394.9" cy="1192.2" r="2.7" fill="#1a72bb"/>
<circle cx="407.5" cy="1187.8" r="2.7" fill="#1a72bb"/>
<circle cx="420.3" cy="1193.6" r="2.7" fill="#1a72bb"/>
<circle cx="432.9" cy="1182.7" r="2.7" fill="#1a72bb"/>
<circle cx="445.4" cy="1178.6" r="2.7" fill="#1a72bb"/>
<circle cx="458.0" cy="1174.6" r="2.7" fill="#1a72bb"/>
<circle cx="470.8" cy="1166.4" r="2.7" fill="#1a72bb"/>
<circle cx="483.4" cy="1160.0" r="2.7" fill="#1a72bb"/>
<circle cx="496.3" cy="1158.0" r="2.7" fill="#1a72bb"/>
<circle cx="508.8" cy="1151.2" r="2.7" fill="#1a72bb"/>
<circle cx="521.4" cy="1143.7" r="2.7" fill="#1a72bb"/>
<circle cx="534.2" cy="1139.0" r="2.7" fill="#1a72bb"/>
<circle cx="546.8" cy="1133.2" r="2.7" fill="#1a72bb"/>
<circle cx="559.3" cy="1129.8" r="2.7" fill="#1a72bb"/>
<circle cx="572.2" cy="1125.4" r="2.7" fill="#1a72bb"/>
<circle cx="584.7" cy="1122.0" r="2.7" fill="#1a72bb"/>
<circle cx="597.3" cy="1118.3" r="2.7" fill="#1a72bb"/>
<circle cx="609.8" cy="1110.5" r="2.7" fill="#1a72bb"/>
<circle cx="622.7" cy="1103.7" r="2.7" fill="#1a72bb"/>
<circle cx="635.3" cy="1098.6" r="2.7" fill="#1a72bb"/>
<circle cx="648.1" cy="1092.9" r="2.7" fill="#1a72bb"/>
<circle cx="660.7" cy="1089.5" r="2.7" fill="#1a72bb"/>
<circle cx="673.2" cy="1083.1" r="2.7" fill="#1a72bb"/>
<circle cx="686.1" cy="1077.6" r="2.7" fill="#1a72bb"/>
<circle cx="698.6" cy="1069.2" r="2.7" fill="#1a72bb"/>
<circle cx="711.5" cy="1063.4" r="2.7" fill="#1a72bb"/>
<path d="M268.5,876.5L268.5,884.5M265.0,878.5L272.0,882.5M272.0,878.5L265.0,882.5" stroke="#119a2a" stroke-width="1.6" fill="none"/>
<path d="M281.2,876.5L281.2,884.5M277.7,878.5L284.6,882.5M284.6,878.5L277.7,882.5" stroke="#119a2a" stroke-width="1.6" fill="none"/>
<path d="M293.8,876.5L293.8,884.5M290.4,878.5L297.3,882.5M297.3,878.5L290.4,882.5" stroke="#119a2a" stroke-width="1.6" fill="none"/>
<path d="M306.5,876.5L306.5,884.5M303.0,878.5L309.9,882.5M309.9,878.5L303.0,882.5" stroke="#119a2a" stroke-width="1.6" fill="none"/>
<path d="M319.1,876.5L319.1,884.5M315.7,878.5L322.6,882.5M322.6,878.5L315.7,882.5" stroke="#119a2a" stroke-width="1.6" fill="none"/>
<path d="M331.8,876.5L331.8,884.5M328.3,878.5L335.3,882.5M335.3,878.5L328.3,882.5" stroke="#119a2a" stroke-width="1.6" fill="none"/>
<path d="M344.5,876.5L344.5,884.5M341.0,878.5L347.9,882.5M347.9,878.5L341.0,882.5" stroke="#119a2a" stroke-width="1.6" fill="none"/>
<path d="M357.1,876.5L357.1,884.5M353.7,878.5L360.6,882.5M360.6,878.5L353.7,882.5" stroke="#119a2a" stroke-width="1.6" fill="none"/>
<path d="M369.8,876.5L369.8,884.5M366.3,878.5L373.2,882.5M373.2,878.5L366.3,882.5" stroke="#119a2a" stroke-width="1.6" fill="none"/>
<path d="M382.4,876.5L382.4,884.5M379.0,878.5L385.9,882.5M385.9,878.5L379.0,882.5" stroke="#119a2a" stroke-width="1.6" fill="none"/>
<path d="M395.1,876.5L395.1,884.5M391.6,878.5L398.6,882.5M398.6,878.5L391.6,882.5" stroke="#119a2a" stroke-width="1.6" fill="none"/>
<path d="M407.8,876.5L407.8,884.5M404.3,878.5L411.2,882.5M411.2,878.5L404.3,882.5" stroke="#119a2a" stroke-width="1.6" fill="none"/>
<path d="M420.4,876.5L420.4,884.5M417.0,878.5L423.9,882.5M423.9,878.5L417.0,882.5" stroke="#119a2a" stroke-width="1.6" fill="none"/>
<path d="M433.1,876.5L433.1,884.5M429.6,878.5L436.5,882.5M436.5,878.5L429.6,882.5" stroke="#119a2a" stroke-width="1.6" fill="none"/>
<path d="M445.7,876.5L445.7,884.5M442.3,878.5L449.2,882.5M449.2,878.5L442.3,882.5" stroke="#119a2a" stroke-width="1.6" fill="none"/>
<path d="M458.4,876.5L458.4,884.5M454.9,878.5L461.9,882.5M461.9,878.5L454.9,882.5" stroke="#119a2a" stroke-width="1.6" fill="none"/>
<path d="M471.1,876.5L471.1,884.5M467.6,878.5L474.5,882.5M474.5,878.5L467.6,882.5" stroke="#119a2a" stroke-width="1.6" fill="none"/>
<path d="M483.7,876.5L483.7,884.5M480.3,878.5L487.2,882.5M487.2,878.5L480.3,882.5" stroke="#119a2a" stroke-width="1.6" fill="none"/>
<path d="M496.4,876.5L496.4,884.5M492.9,878.5L499.8,882.5M499.8,878.5L492.9,882.5" stroke="#119a2a" stroke-width="1.6" fill="none"/>
<path d="M509.0,876.5L509.0,884.5M505.6,878.5L512.5,882.5M512.5,878.5L505.6,882.5" stroke="#119a2a" stroke-width="1.6" fill="none"/>
<path d="M521.7,876.5L521.7,884.5M518.2,878.5L525.2,882.5M525.2,878.5L518.2,882.5" stroke="#119a2a" stroke-width="1.6" fill="none"/>
<path d="M534.4,876.5L534.4,884.5M530.9,878.5L537.8,882.5M537.8,878.5L530.9,882.5" stroke="#119a2a" stroke-width="1.6" fill="none"/>
<path d="M547.0,876.5L547.0,884.5M543.6,878.5L550.5,882.5M550.5,878.5L543.6,882.5" stroke="#119a2a" stroke-width="1.6" fill="none"/>
<path d="M559.7,876.5L559.7,884.5M556.2,878.5L563.1,882.5M563.1,878.5L556.2,882.5" stroke="#119a2a" stroke-width="1.6" fill="none"/>
<path d="M572.3,876.5L572.3,884.5M568.9,878.5L575.8,882.5M575.8,878.5L568.9,882.5" stroke="#119a2a" stroke-width="1.6" fill="none"/>
<path d="M585.0,876.5L585.0,884.5M581.5,878.5L588.5,882.5M588.5,878.5L581.5,882.5" stroke="#119a2a" stroke-width="1.6" fill="none"/>
<path d="M597.7,876.5L597.7,884.5M594.2,878.5L601.1,882.5M601.1,878.5L594.2,882.5" stroke="#119a2a" stroke-width="1.6" fill="none"/>
<path d="M610.3,876.5L610.3,884.5M606.9,878.5L613.8,882.5M613.8,878.5L606.9,882.5" stroke="#119a2a" stroke-width="1.6" fill="none"/>
<path d="M623.0,876.5L623.0,884.5M619.5,878.5L626.4,882.5M626.4,878.5L619.5,882.5" stroke="#119a2a" stroke-width="1.6" fill="none"/>
<path d="M635.6,876.5L635.6,884.5M632.2,878.5L639.1,882.5M639.1,878.5L632.2,882.5" stroke="#119a2a" stroke-width="1.6" fill="none"/>
<path d="M648.3,876.5L648.3,884.5M644.8,878.5L651.8,882.5M651.8,878.5L644.8,882.5" stroke="#119a2a" stroke-width="1.6" fill="none"/>
<path d="M661.0,876.5L661.0,884.5M657.5,878.5L664.4,882.5M664.4,878.5L657.5,882.5" stroke="#119a2a" stroke-width="1.6" fill="none"/>
<path d="M673.6,876.5L673.6,884.5M670.2,878.5L677.1,882.5M677.1,878.5L670.2,882.5" stroke="#119a2a" stroke-width="1.6" fill="none"/>
<path d="M686.3,876.5L686.3,884.5M682.8,878.5L689.7,882.5M689.7,878.5L682.8,882.5" stroke="#119a2a" stroke-width="1.6" fill="none"/>
<path d="M698.9,876.5L698.9,884.5M695.5,878.5L702.4,882.5M702.4,878.5L695.5,882.5" stroke="#119a2a" stroke-width="1.6" fill="none"/>
<path d="M711.6,876.5L711.6,884.5M708.1,878.5L715.1,882.5M715.1,878.5L708.1,882.5" stroke="#119a2a" stroke-width="1.6" fill="none"/>
<path d="M281.2,892.4L281.2,900.4M277.7,894.4L284.6,898.4M284.6,894.4L277.7,898.4" stroke="#8a1a8a" stroke-width="1.6" fill="none"/>
<path d="M293.8,892.4L293.8,900.4M290.4,894.4L297.3,898.4M297.3,894.4L290.4,898.4" stroke="#8a1a8a" stroke-width="1.6" fill="none"/>
<path d="M306.5,892.4L306.5,900.4M303.0,894.4L309.9,898.4M309.9,894.4L303.0,898.4" stroke="#8a1a8a" stroke-width="1.6" fill="none"/>
<path d="M319.1,892.4L319.1,900.4M315.7,894.4L322.6,898.4M322.6,894.4L315.7,898.4" stroke="#8a1a8a" stroke-width="1.6" fill="none"/>
<path d="M331.8,892.4L331.8,900.4M328.3,894.4L335.3,898.4M335.3,894.4L328.3,898.4" stroke="#8a1a8a" stroke-width="1.6" fill="none"/>
<path d="M344.5,892.4L344.5,900.4M341.0,894.4L347.9,898.4M347.9,894.4L341.0,898.4" stroke="#8a1a8a" stroke-width="1.6" fill="none"/>
<path d="M357.1,892.4L357.1,900.4M353.7,894.4L360.6,898.4M360.6,894.4L353.7,898.4" stroke="#8a1a8a" stroke-width="1.6" fill="none"/>
<path d="M369.8,892.4L369.8,900.4M366.3,894.4L373.2,898.4M373.2,894.4L366.3,898.4" stroke="#8a1a8a" stroke-width="1.6" fill="none"/>
<path d="M382.4,892.4L382.4,900.4M379.0,894.4L385.9,898.4M385.9,894.4L379.0,898.4" stroke="#8a1a8a" stroke-width="1.6" fill="none"/>
<path d="M395.1,892.4L395.1,900.4M391.6,894.4L398.6,898.4M398.6,894.4L391.6,898.4" stroke="#8a1a8a" stroke-width="1.6" fill="none"/>
<path d="M407.8,892.4L407.8,900.4M404.3,894.4L411.2,898.4M411.2,894.4L404.3,898.4" stroke="#8a1a8a" stroke-width="1.6" fill="none"/>
<path d="M420.4,892.4L420.4,900.4M417.0,894.4L423.9,898.4M423.9,894.4L417.0,898.4" stroke="#8a1a8a" stroke-width="1.6" fill="none"/>
<path d="M433.1,892.4L433.1,900.4M429.6,894.4L436.5,898.4M436.5,894.4L429.6,898.4" stroke="#8a1a8a" stroke-width="1.6" fill="none"/>
<path d="M445.7,892.4L445.7,900.4M442.3,894.4L449.2,898.4M449.2,894.4L442.3,898.4" stroke="#8a1a8a" stroke-width="1.6" fill="none"/>
<path d="M458.4,892.4L458.4,900.4M454.9,894.4L461.9,898.4M461.9,894.4L454.9,898.4" stroke="#8a1a8a" stroke-width="1.6" fill="none"/>
<path d="M471.1,892.4L471.1,900.4M467.6,894.4L474.5,898.4M474.5,894.4L467.6,898.4" stroke="#8a1a8a" stroke-width="1.6" fill="none"/>
<path d="M483.7,892.4L483.7,900.4M480.3,894.4L487.2,898.4M487.2,894.4L480.3,898.4" stroke="#8a1a8a" stroke-width="1.6" fill="none"/>
<path d="M496.4,892.4L496.4,900.4M492.9,894.4L499.8,898.4M499.8,894.4L492.9,898.4" stroke="#8a1a8a" stroke-width="1.6" fill="none"/>
<path d="M509.0,892.4L509.0,900.4M505.6,894.4L512.5,898.4M512.5,894.4L505.6,898.4" stroke="#8a1a8a" stroke-width="1.6" fill="none"/>
<path d="M521.7,892.4L521.7,900.4M518.2,894.4L525.2,898.4M525.2,894.4L518.2,898.4" stroke="#8a1a8a" stroke-width="1.6" fill="none"/>
<path d="M534.4,892.4L534.4,900.4M530.9,894.4L537.8,898.4M537.8,894.4L530.9,898.4" stroke="#8a1a8a" stroke-width="1.6" fill="none"/>
<path d="M547.0,892.4L547.0,900.4M543.6,894.4L550.5,898.4M550.5,894.4L543.6,898.4" stroke="#8a1a8a" stroke-width="1.6" fill="none"/>
<path d="M559.7,892.4L559.7,900.4M556.2,894.4L563.1,898.4M563.1,894.4L556.2,898.4" stroke="#8a1a8a" stroke-width="1.6" fill="none"/>
<path d="M572.3,892.4L572.3,900.4M568.9,894.4L575.8,898.4M575.8,894.4L568.9,898.4" stroke="#8a1a8a" stroke-width="1.6" fill="none"/>
<path d="M585.0,892.4L585.0,900.4M581.5,894.4L588.5,898.4M588.5,894.4L581.5,898.4" stroke="#8a1a8a" stroke-width="1.6" fill="none"/>
<path d="M597.7,892.4L597.7,900.4M594.2,894.4L601.1,898.4M601.1,894.4L594.2,898.4" stroke="#8a1a8a" stroke-width="1.6" fill="none"/>
<path d="M610.3,892.4L610.3,900.4M606.9,894.4L613.8,898.4M613.8,894.4L606.9,898.4" stroke="#8a1a8a" stroke-width="1.6" fill="none"/>
<path d="M623.0,892.4L623.0,900.4M619.5,894.4L626.4,898.4M626.4,894.4L619.5,898.4" stroke="#8a1a8a" stroke-width="1.6" fill="none"/>
<path d="M635.6,892.4L635.6,900.4M632.2,894.4L639.1,898.4M639.1,894.4L632.2,898.4" stroke="#8a1a8a" stroke-width="1.6" fill="none"/>
<path d="M648.3,892.4L648.3,900.4M644.8,894.4L651.8,898.4M651.8,894.4L644.8,898.4" stroke="#8a1a8a" stroke-width="1.6" fill="none"/>
<path d="M661.0,892.4L661.0,900.4M657.5,894.4L664.4,898.4M664.4,894.4L657.5,898.4" stroke="#8a1a8a" stroke-width="1.6" fill="none"/>
<path d="M264.9,899.9L269.4,891.4L273.9,899.9Z" fill="#7b3294"/>
<path d="M670.1,899.9L674.6,891.4L679.1,899.9Z" fill="#7b3294"/>
<path d="M443.0,915.2L447.5,906.8L452.0,915.2Z" fill="#eeaa2a"/>
<path d="M455.5,915.2L460.0,906.8L464.5,915.2Z" fill="#eeaa2a"/>
<path d="M467.4,915.2L471.9,906.8L476.4,915.2Z" fill="#eeaa2a"/>
<path d="M479.9,915.2L484.4,906.8L488.9,915.2Z" fill="#eeaa2a"/>
<path d="M949.2,901.5 V1287.8 H1436.3" stroke="#1a1418" stroke-width="2.6" fill="none"/>
<line x1="949.2" y1="902.4" x2="957" y2="902.4" stroke="#1a1418" stroke-width="2.4"/>
<text x="937.0" y="913.0" font-size="30" fill="#231f20" text-anchor="end" >9.0</text>
<line x1="949.2" y1="999.0" x2="957" y2="999.0" stroke="#1a1418" stroke-width="2.4"/>
<text x="937.0" y="1009.6" font-size="30" fill="#231f20" text-anchor="end" >7.0</text>
<line x1="949.2" y1="1094.6" x2="957" y2="1094.6" stroke="#1a1418" stroke-width="2.4"/>
<text x="937.0" y="1105.2" font-size="30" fill="#231f20" text-anchor="end" >5.0</text>
<line x1="949.2" y1="1190.5" x2="957" y2="1190.5" stroke="#1a1418" stroke-width="2.4"/>
<text x="937.0" y="1201.1" font-size="30" fill="#231f20" text-anchor="end" >3.0</text>
<line x1="949.2" y1="1287.8" x2="957" y2="1287.8" stroke="#1a1418" stroke-width="2.4"/>
<text x="937.0" y="1298.4" font-size="30" fill="#231f20" text-anchor="end" >1.0</text>
<line x1="963.0" y1="1279" x2="963.0" y2="1288" stroke="#1a1418" stroke-width="2.6"/>
<text x="963.2" y="1323.0" font-size="29.5" fill="#231f20" text-anchor="middle" >5</text>
<line x1="1026.7" y1="1279" x2="1026.7" y2="1288" stroke="#1a1418" stroke-width="2.6"/>
<text x="1026.9" y="1323.0" font-size="29.5" fill="#231f20" text-anchor="middle" >10</text>
<line x1="1090.5" y1="1279" x2="1090.5" y2="1288" stroke="#1a1418" stroke-width="2.6"/>
<text x="1090.7" y="1323.0" font-size="29.5" fill="#231f20" text-anchor="middle" >15</text>
<line x1="1154.2" y1="1279" x2="1154.2" y2="1288" stroke="#1a1418" stroke-width="2.6"/>
<text x="1154.4" y="1323.0" font-size="29.5" fill="#231f20" text-anchor="middle" >20</text>
<line x1="1218.0" y1="1279" x2="1218.0" y2="1288" stroke="#1a1418" stroke-width="2.6"/>
<text x="1218.2" y="1323.0" font-size="29.5" fill="#231f20" text-anchor="middle" >25</text>
<line x1="1281.7" y1="1279" x2="1281.7" y2="1288" stroke="#1a1418" stroke-width="2.6"/>
<text x="1281.9" y="1323.0" font-size="29.5" fill="#231f20" text-anchor="middle" >30</text>
<line x1="1345.4" y1="1279" x2="1345.4" y2="1288" stroke="#1a1418" stroke-width="2.6"/>
<text x="1345.6" y="1323.0" font-size="29.5" fill="#231f20" text-anchor="middle" >35</text>
<line x1="1409.2" y1="1279" x2="1409.2" y2="1288" stroke="#1a1418" stroke-width="2.6"/>
<text x="1409.4" y="1323.0" font-size="29.5" fill="#231f20" text-anchor="middle" >40</text>
<text x="1062.0" y="857.5" font-size="29.1" fill="#231f20" text-anchor="start" >Shortest path length</text>
<text x="1144.0" y="1365.7" font-size="28.5" fill="#231f20" text-anchor="start" >Density</text>
<text transform="translate(858.8,1119.5) rotate(-90)" font-size="38" font-style="italic" fill="#231f20">Lp</text>
<polyline points="963.1,948.1 975.9,1054.6 988.5,1099.0 1001.4,1131.2 1013.9,1150.2 1026.8,1161.7 1039.3,1171.9 1052.2,1178.3 1064.7,1189.5 1077.6,1199.0 1090.2,1205.8 1103.1,1210.5 1115.6,1213.2 1128.5,1215.9 1141.0,1220.0 1153.9,1223.4 1166.4,1226.8 1179.3,1229.5 1191.9,1232.5 1204.7,1234.6 1217.3,1236.3 1230.2,1238.3 1242.7,1240.0 1255.6,1241.7 1268.1,1243.4 1281.0,1244.7 1293.6,1245.8 1306.4,1247.8 1319.0,1249.5 1331.9,1250.5 1344.4,1251.5 1357.3,1252.5 1369.8,1253.6 1382.7,1254.6 1395.3,1255.3 1408.1,1256.3" fill="none" stroke="#63ac3c" stroke-width="2.3" stroke-linejoin="round"/>
<circle cx="963.1" cy="948.1" r="2.7" fill="#63ac3c"/>
<circle cx="975.9" cy="1054.6" r="2.7" fill="#63ac3c"/>
<circle cx="988.5" cy="1099.0" r="2.7" fill="#63ac3c"/>
<circle cx="1001.4" cy="1131.2" r="2.7" fill="#63ac3c"/>
<circle cx="1013.9" cy="1150.2" r="2.7" fill="#63ac3c"/>
<circle cx="1026.8" cy="1161.7" r="2.7" fill="#63ac3c"/>
<circle cx="1039.3" cy="1171.9" r="2.7" fill="#63ac3c"/>
<circle cx="1052.2" cy="1178.3" r="2.7" fill="#63ac3c"/>
<circle cx="1064.7" cy="1189.5" r="2.7" fill="#63ac3c"/>
<circle cx="1077.6" cy="1199.0" r="2.7" fill="#63ac3c"/>
<circle cx="1090.2" cy="1205.8" r="2.7" fill="#63ac3c"/>
<circle cx="1103.1" cy="1210.5" r="2.7" fill="#63ac3c"/>
<circle cx="1115.6" cy="1213.2" r="2.7" fill="#63ac3c"/>
<circle cx="1128.5" cy="1215.9" r="2.7" fill="#63ac3c"/>
<circle cx="1141.0" cy="1220.0" r="2.7" fill="#63ac3c"/>
<circle cx="1153.9" cy="1223.4" r="2.7" fill="#63ac3c"/>
<circle cx="1166.4" cy="1226.8" r="2.7" fill="#63ac3c"/>
<circle cx="1179.3" cy="1229.5" r="2.7" fill="#63ac3c"/>
<circle cx="1191.9" cy="1232.5" r="2.7" fill="#63ac3c"/>
<circle cx="1204.7" cy="1234.6" r="2.7" fill="#63ac3c"/>
<circle cx="1217.3" cy="1236.3" r="2.7" fill="#63ac3c"/>
<circle cx="1230.2" cy="1238.3" r="2.7" fill="#63ac3c"/>
<circle cx="1242.7" cy="1240.0" r="2.7" fill="#63ac3c"/>
<circle cx="1255.6" cy="1241.7" r="2.7" fill="#63ac3c"/>
<circle cx="1268.1" cy="1243.4" r="2.7" fill="#63ac3c"/>
<circle cx="1281.0" cy="1244.7" r="2.7" fill="#63ac3c"/>
<circle cx="1293.6" cy="1245.8" r="2.7" fill="#63ac3c"/>
<circle cx="1306.4" cy="1247.8" r="2.7" fill="#63ac3c"/>
<circle cx="1319.0" cy="1249.5" r="2.7" fill="#63ac3c"/>
<circle cx="1331.9" cy="1250.5" r="2.7" fill="#63ac3c"/>
<circle cx="1344.4" cy="1251.5" r="2.7" fill="#63ac3c"/>
<circle cx="1357.3" cy="1252.5" r="2.7" fill="#63ac3c"/>
<circle cx="1369.8" cy="1253.6" r="2.7" fill="#63ac3c"/>
<circle cx="1382.7" cy="1254.6" r="2.7" fill="#63ac3c"/>
<circle cx="1395.3" cy="1255.3" r="2.7" fill="#63ac3c"/>
<circle cx="1408.1" cy="1256.3" r="2.7" fill="#63ac3c"/>
<polyline points="963.1,1022.4 975.9,1103.1 988.5,1139.3 1001.4,1163.4 1013.9,1180.0 1026.8,1194.6 1039.3,1201.4 1052.2,1208.8 1064.7,1214.2 1077.6,1219.3 1090.2,1223.7 1103.1,1227.1 1115.6,1230.2 1128.5,1232.9 1141.0,1235.3 1153.9,1237.6 1166.4,1239.7 1179.3,1241.4 1191.9,1243.1 1204.7,1244.7 1217.3,1246.1 1230.2,1247.5 1242.7,1248.8 1255.6,1250.5 1268.1,1251.9 1281.0,1252.9 1293.6,1253.9 1306.4,1254.9 1319.0,1255.6 1331.9,1256.6 1344.4,1257.3 1357.3,1258.0 1369.8,1258.3 1382.7,1259.0 1395.3,1259.7 1408.1,1260.0" fill="none" stroke="#6b2a8e" stroke-width="2.3" stroke-linejoin="round"/>
<circle cx="963.1" cy="1022.4" r="2.7" fill="#6b2a8e"/>
<circle cx="975.9" cy="1103.1" r="2.7" fill="#6b2a8e"/>
<circle cx="988.5" cy="1139.3" r="2.7" fill="#6b2a8e"/>
<circle cx="1001.4" cy="1163.4" r="2.7" fill="#6b2a8e"/>
<circle cx="1013.9" cy="1180.0" r="2.7" fill="#6b2a8e"/>
<circle cx="1026.8" cy="1194.6" r="2.7" fill="#6b2a8e"/>
<circle cx="1039.3" cy="1201.4" r="2.7" fill="#6b2a8e"/>
<circle cx="1052.2" cy="1208.8" r="2.7" fill="#6b2a8e"/>
<circle cx="1064.7" cy="1214.2" r="2.7" fill="#6b2a8e"/>
<circle cx="1077.6" cy="1219.3" r="2.7" fill="#6b2a8e"/>
<circle cx="1090.2" cy="1223.7" r="2.7" fill="#6b2a8e"/>
<circle cx="1103.1" cy="1227.1" r="2.7" fill="#6b2a8e"/>
<circle cx="1115.6" cy="1230.2" r="2.7" fill="#6b2a8e"/>
<circle cx="1128.5" cy="1232.9" r="2.7" fill="#6b2a8e"/>
<circle cx="1141.0" cy="1235.3" r="2.7" fill="#6b2a8e"/>
<circle cx="1153.9" cy="1237.6" r="2.7" fill="#6b2a8e"/>
<circle cx="1166.4" cy="1239.7" r="2.7" fill="#6b2a8e"/>
<circle cx="1179.3" cy="1241.4" r="2.7" fill="#6b2a8e"/>
<circle cx="1191.9" cy="1243.1" r="2.7" fill="#6b2a8e"/>
<circle cx="1204.7" cy="1244.7" r="2.7" fill="#6b2a8e"/>
<circle cx="1217.3" cy="1246.1" r="2.7" fill="#6b2a8e"/>
<circle cx="1230.2" cy="1247.5" r="2.7" fill="#6b2a8e"/>
<circle cx="1242.7" cy="1248.8" r="2.7" fill="#6b2a8e"/>
<circle cx="1255.6" cy="1250.5" r="2.7" fill="#6b2a8e"/>
<circle cx="1268.1" cy="1251.9" r="2.7" fill="#6b2a8e"/>
<circle cx="1281.0" cy="1252.9" r="2.7" fill="#6b2a8e"/>
<circle cx="1293.6" cy="1253.9" r="2.7" fill="#6b2a8e"/>
<circle cx="1306.4" cy="1254.9" r="2.7" fill="#6b2a8e"/>
<circle cx="1319.0" cy="1255.6" r="2.7" fill="#6b2a8e"/>
<circle cx="1331.9" cy="1256.6" r="2.7" fill="#6b2a8e"/>
<circle cx="1344.4" cy="1257.3" r="2.7" fill="#6b2a8e"/>
<circle cx="1357.3" cy="1258.0" r="2.7" fill="#6b2a8e"/>
<circle cx="1369.8" cy="1258.3" r="2.7" fill="#6b2a8e"/>
<circle cx="1382.7" cy="1259.0" r="2.7" fill="#6b2a8e"/>
<circle cx="1395.3" cy="1259.7" r="2.7" fill="#6b2a8e"/>
<circle cx="1408.1" cy="1260.0" r="2.7" fill="#6b2a8e"/>
<polyline points="963.1,1099.7 975.9,1147.1 988.5,1166.4 1001.4,1187.1 1013.9,1196.3 1026.8,1205.4 1039.3,1212.2 1052.2,1217.6 1064.7,1222.4 1077.6,1226.1 1090.2,1229.5 1103.1,1232.2 1115.6,1234.6 1128.5,1236.9 1141.0,1239.3 1153.9,1241.4 1166.4,1243.1 1179.3,1244.7 1191.9,1246.4 1204.7,1247.8 1217.3,1249.2 1230.2,1250.5 1242.7,1251.5 1255.6,1252.9 1268.1,1253.9 1281.0,1254.9 1293.6,1255.6 1306.4,1256.6 1319.0,1257.3 1331.9,1258.0 1344.4,1258.3 1357.3,1259.0 1369.8,1259.3 1382.7,1259.7 1395.3,1260.0 1408.1,1260.3" fill="none" stroke="#eeaa2a" stroke-width="2.3" stroke-linejoin="round"/>
<circle cx="963.1" cy="1099.7" r="2.7" fill="#eeaa2a"/>
<circle cx="975.9" cy="1147.1" r="2.7" fill="#eeaa2a"/>
<circle cx="988.5" cy="1166.4" r="2.7" fill="#eeaa2a"/>
<circle cx="1001.4" cy="1187.1" r="2.7" fill="#eeaa2a"/>
<circle cx="1013.9" cy="1196.3" r="2.7" fill="#eeaa2a"/>
<circle cx="1026.8" cy="1205.4" r="2.7" fill="#eeaa2a"/>
<circle cx="1039.3" cy="1212.2" r="2.7" fill="#eeaa2a"/>
<circle cx="1052.2" cy="1217.6" r="2.7" fill="#eeaa2a"/>
<circle cx="1064.7" cy="1222.4" r="2.7" fill="#eeaa2a"/>
<circle cx="1077.6" cy="1226.1" r="2.7" fill="#eeaa2a"/>
<circle cx="1090.2" cy="1229.5" r="2.7" fill="#eeaa2a"/>
<circle cx="1103.1" cy="1232.2" r="2.7" fill="#eeaa2a"/>
<circle cx="1115.6" cy="1234.6" r="2.7" fill="#eeaa2a"/>
<circle cx="1128.5" cy="1236.9" r="2.7" fill="#eeaa2a"/>
<circle cx="1141.0" cy="1239.3" r="2.7" fill="#eeaa2a"/>
<circle cx="1153.9" cy="1241.4" r="2.7" fill="#eeaa2a"/>
<circle cx="1166.4" cy="1243.1" r="2.7" fill="#eeaa2a"/>
<circle cx="1179.3" cy="1244.7" r="2.7" fill="#eeaa2a"/>
<circle cx="1191.9" cy="1246.4" r="2.7" fill="#eeaa2a"/>
<circle cx="1204.7" cy="1247.8" r="2.7" fill="#eeaa2a"/>
<circle cx="1217.3" cy="1249.2" r="2.7" fill="#eeaa2a"/>
<circle cx="1230.2" cy="1250.5" r="2.7" fill="#eeaa2a"/>
<circle cx="1242.7" cy="1251.5" r="2.7" fill="#eeaa2a"/>
<circle cx="1255.6" cy="1252.9" r="2.7" fill="#eeaa2a"/>
<circle cx="1268.1" cy="1253.9" r="2.7" fill="#eeaa2a"/>
<circle cx="1281.0" cy="1254.9" r="2.7" fill="#eeaa2a"/>
<circle cx="1293.6" cy="1255.6" r="2.7" fill="#eeaa2a"/>
<circle cx="1306.4" cy="1256.6" r="2.7" fill="#eeaa2a"/>
<circle cx="1319.0" cy="1257.3" r="2.7" fill="#eeaa2a"/>
<circle cx="1331.9" cy="1258.0" r="2.7" fill="#eeaa2a"/>
<circle cx="1344.4" cy="1258.3" r="2.7" fill="#eeaa2a"/>
<circle cx="1357.3" cy="1259.0" r="2.7" fill="#eeaa2a"/>
<circle cx="1369.8" cy="1259.3" r="2.7" fill="#eeaa2a"/>
<circle cx="1382.7" cy="1259.7" r="2.7" fill="#eeaa2a"/>
<circle cx="1395.3" cy="1260.0" r="2.7" fill="#eeaa2a"/>
<circle cx="1408.1" cy="1260.3" r="2.7" fill="#eeaa2a"/>
<polyline points="963.1,1113.2 975.9,1165.8 988.5,1171.5 1001.4,1187.8 1013.9,1200.3 1026.8,1209.2 1039.3,1215.9 1052.2,1221.7 1064.7,1225.8 1077.6,1228.8 1090.2,1231.5 1103.1,1233.9 1115.6,1237.3 1128.5,1239.3 1141.0,1241.0 1153.9,1243.1 1166.4,1244.7 1179.3,1246.4 1191.9,1248.1 1204.7,1249.5 1217.3,1250.8 1230.2,1251.9 1242.7,1252.9 1255.6,1253.6 1268.1,1254.2 1281.0,1255.3 1293.6,1255.9 1306.4,1256.6 1319.0,1257.3 1331.9,1258.0 1344.4,1258.3 1357.3,1259.0 1369.8,1259.3 1382.7,1259.7 1395.3,1260.0 1408.1,1260.3" fill="none" stroke="#1a72bb" stroke-width="2.3" stroke-linejoin="round"/>
<circle cx="963.1" cy="1113.2" r="2.7" fill="#1a72bb"/>
<circle cx="975.9" cy="1165.8" r="2.7" fill="#1a72bb"/>
<circle cx="988.5" cy="1171.5" r="2.7" fill="#1a72bb"/>
<circle cx="1001.4" cy="1187.8" r="2.7" fill="#1a72bb"/>
<circle cx="1013.9" cy="1200.3" r="2.7" fill="#1a72bb"/>
<circle cx="1026.8" cy="1209.2" r="2.7" fill="#1a72bb"/>
<circle cx="1039.3" cy="1215.9" r="2.7" fill="#1a72bb"/>
<circle cx="1052.2" cy="1221.7" r="2.7" fill="#1a72bb"/>
<circle cx="1064.7" cy="1225.8" r="2.7" fill="#1a72bb"/>
<circle cx="1077.6" cy="1228.8" r="2.7" fill="#1a72bb"/>
<circle cx="1090.2" cy="1231.5" r="2.7" fill="#1a72bb"/>
<circle cx="1103.1" cy="1233.9" r="2.7" fill="#1a72bb"/>
<circle cx="1115.6" cy="1237.3" r="2.7" fill="#1a72bb"/>
<circle cx="1128.5" cy="1239.3" r="2.7" fill="#1a72bb"/>
<circle cx="1141.0" cy="1241.0" r="2.7" fill="#1a72bb"/>
<circle cx="1153.9" cy="1243.1" r="2.7" fill="#1a72bb"/>
<circle cx="1166.4" cy="1244.7" r="2.7" fill="#1a72bb"/>
<circle cx="1179.3" cy="1246.4" r="2.7" fill="#1a72bb"/>
<circle cx="1191.9" cy="1248.1" r="2.7" fill="#1a72bb"/>
<circle cx="1204.7" cy="1249.5" r="2.7" fill="#1a72bb"/>
<circle cx="1217.3" cy="1250.8" r="2.7" fill="#1a72bb"/>
<circle cx="1230.2" cy="1251.9" r="2.7" fill="#1a72bb"/>
<circle cx="1242.7" cy="1252.9" r="2.7" fill="#1a72bb"/>
<circle cx="1255.6" cy="1253.6" r="2.7" fill="#1a72bb"/>
<circle cx="1268.1" cy="1254.2" r="2.7" fill="#1a72bb"/>
<circle cx="1281.0" cy="1255.3" r="2.7" fill="#1a72bb"/>
<circle cx="1293.6" cy="1255.9" r="2.7" fill="#1a72bb"/>
<circle cx="1306.4" cy="1256.6" r="2.7" fill="#1a72bb"/>
<circle cx="1319.0" cy="1257.3" r="2.7" fill="#1a72bb"/>
<circle cx="1331.9" cy="1258.0" r="2.7" fill="#1a72bb"/>
<circle cx="1344.4" cy="1258.3" r="2.7" fill="#1a72bb"/>
<circle cx="1357.3" cy="1259.0" r="2.7" fill="#1a72bb"/>
<circle cx="1369.8" cy="1259.3" r="2.7" fill="#1a72bb"/>
<circle cx="1382.7" cy="1259.7" r="2.7" fill="#1a72bb"/>
<circle cx="1395.3" cy="1260.0" r="2.7" fill="#1a72bb"/>
<circle cx="1408.1" cy="1260.3" r="2.7" fill="#1a72bb"/>
<path d="M964.0,876.5L964.0,884.5M960.5,878.5L967.5,882.5M967.5,878.5L960.5,882.5" stroke="#119a2a" stroke-width="1.6" fill="none"/>
<path d="M976.6,876.5L976.6,884.5M973.2,878.5L980.1,882.5M980.1,878.5L973.2,882.5" stroke="#119a2a" stroke-width="1.6" fill="none"/>
<path d="M989.2,876.5L989.2,884.5M985.8,878.5L992.7,882.5M992.7,878.5L985.8,882.5" stroke="#119a2a" stroke-width="1.6" fill="none"/>
<path d="M1001.9,876.5L1001.9,884.5M998.4,878.5L1005.3,882.5M1005.3,878.5L998.4,882.5" stroke="#119a2a" stroke-width="1.6" fill="none"/>
<path d="M1014.5,876.5L1014.5,884.5M1011.0,878.5L1017.9,882.5M1017.9,878.5L1011.0,882.5" stroke="#119a2a" stroke-width="1.6" fill="none"/>
<path d="M1027.1,876.5L1027.1,884.5M1023.6,878.5L1030.6,882.5M1030.6,878.5L1023.6,882.5" stroke="#119a2a" stroke-width="1.6" fill="none"/>
<path d="M1039.7,876.5L1039.7,884.5M1036.3,878.5L1043.2,882.5M1043.2,878.5L1036.3,882.5" stroke="#119a2a" stroke-width="1.6" fill="none"/>
<path d="M1052.3,876.5L1052.3,884.5M1048.9,878.5L1055.8,882.5M1055.8,878.5L1048.9,882.5" stroke="#119a2a" stroke-width="1.6" fill="none"/>
<path d="M1065.0,876.5L1065.0,884.5M1061.5,878.5L1068.4,882.5M1068.4,878.5L1061.5,882.5" stroke="#119a2a" stroke-width="1.6" fill="none"/>
<path d="M1077.6,876.5L1077.6,884.5M1074.1,878.5L1081.0,882.5M1081.0,878.5L1074.1,882.5" stroke="#119a2a" stroke-width="1.6" fill="none"/>
<path d="M1090.2,876.5L1090.2,884.5M1086.7,878.5L1093.7,882.5M1093.7,878.5L1086.7,882.5" stroke="#119a2a" stroke-width="1.6" fill="none"/>
<path d="M1102.8,876.5L1102.8,884.5M1099.4,878.5L1106.3,882.5M1106.3,878.5L1099.4,882.5" stroke="#119a2a" stroke-width="1.6" fill="none"/>
<path d="M1115.4,876.5L1115.4,884.5M1112.0,878.5L1118.9,882.5M1118.9,878.5L1112.0,882.5" stroke="#119a2a" stroke-width="1.6" fill="none"/>
<path d="M1128.1,876.5L1128.1,884.5M1124.6,878.5L1131.5,882.5M1131.5,878.5L1124.6,882.5" stroke="#119a2a" stroke-width="1.6" fill="none"/>
<path d="M1140.7,876.5L1140.7,884.5M1137.2,878.5L1144.1,882.5M1144.1,878.5L1137.2,882.5" stroke="#119a2a" stroke-width="1.6" fill="none"/>
<path d="M1153.3,876.5L1153.3,884.5M1149.8,878.5L1156.8,882.5M1156.8,878.5L1149.8,882.5" stroke="#119a2a" stroke-width="1.6" fill="none"/>
<path d="M1165.9,876.5L1165.9,884.5M1162.5,878.5L1169.4,882.5M1169.4,878.5L1162.5,882.5" stroke="#119a2a" stroke-width="1.6" fill="none"/>
<path d="M1178.5,876.5L1178.5,884.5M1175.1,878.5L1182.0,882.5M1182.0,878.5L1175.1,882.5" stroke="#119a2a" stroke-width="1.6" fill="none"/>
<path d="M1191.2,876.5L1191.2,884.5M1187.7,878.5L1194.6,882.5M1194.6,878.5L1187.7,882.5" stroke="#119a2a" stroke-width="1.6" fill="none"/>
<path d="M1203.8,876.5L1203.8,884.5M1200.3,878.5L1207.2,882.5M1207.2,878.5L1200.3,882.5" stroke="#119a2a" stroke-width="1.6" fill="none"/>
<path d="M1216.4,876.5L1216.4,884.5M1212.9,878.5L1219.9,882.5M1219.9,878.5L1212.9,882.5" stroke="#119a2a" stroke-width="1.6" fill="none"/>
<path d="M1229.0,876.5L1229.0,884.5M1225.6,878.5L1232.5,882.5M1232.5,878.5L1225.6,882.5" stroke="#119a2a" stroke-width="1.6" fill="none"/>
<path d="M1241.6,876.5L1241.6,884.5M1238.2,878.5L1245.1,882.5M1245.1,878.5L1238.2,882.5" stroke="#119a2a" stroke-width="1.6" fill="none"/>
<path d="M1254.3,876.5L1254.3,884.5M1250.8,878.5L1257.7,882.5M1257.7,878.5L1250.8,882.5" stroke="#119a2a" stroke-width="1.6" fill="none"/>
<path d="M1266.9,876.5L1266.9,884.5M1263.4,878.5L1270.3,882.5M1270.3,878.5L1263.4,882.5" stroke="#119a2a" stroke-width="1.6" fill="none"/>
<path d="M1279.5,876.5L1279.5,884.5M1276.0,878.5L1283.0,882.5M1283.0,878.5L1276.0,882.5" stroke="#119a2a" stroke-width="1.6" fill="none"/>
<path d="M1292.1,876.5L1292.1,884.5M1288.7,878.5L1295.6,882.5M1295.6,878.5L1288.7,882.5" stroke="#119a2a" stroke-width="1.6" fill="none"/>
<path d="M1304.7,876.5L1304.7,884.5M1301.3,878.5L1308.2,882.5M1308.2,878.5L1301.3,882.5" stroke="#119a2a" stroke-width="1.6" fill="none"/>
<path d="M1317.4,876.5L1317.4,884.5M1313.9,878.5L1320.8,882.5M1320.8,878.5L1313.9,882.5" stroke="#119a2a" stroke-width="1.6" fill="none"/>
<path d="M1330.0,876.5L1330.0,884.5M1326.5,878.5L1333.4,882.5M1333.4,878.5L1326.5,882.5" stroke="#119a2a" stroke-width="1.6" fill="none"/>
<path d="M1342.6,876.5L1342.6,884.5M1339.1,878.5L1346.1,882.5M1346.1,878.5L1339.1,882.5" stroke="#119a2a" stroke-width="1.6" fill="none"/>
<path d="M1355.2,876.5L1355.2,884.5M1351.8,878.5L1358.7,882.5M1358.7,878.5L1351.8,882.5" stroke="#119a2a" stroke-width="1.6" fill="none"/>
<path d="M1367.8,876.5L1367.8,884.5M1364.4,878.5L1371.3,882.5M1371.3,878.5L1364.4,882.5" stroke="#119a2a" stroke-width="1.6" fill="none"/>
<path d="M1380.5,876.5L1380.5,884.5M1377.0,878.5L1383.9,882.5M1383.9,878.5L1377.0,882.5" stroke="#119a2a" stroke-width="1.6" fill="none"/>
<path d="M1393.1,876.5L1393.1,884.5M1389.6,878.5L1396.5,882.5M1396.5,878.5L1389.6,882.5" stroke="#119a2a" stroke-width="1.6" fill="none"/>
<path d="M1405.7,876.5L1405.7,884.5M1402.2,878.5L1409.2,882.5M1409.2,878.5L1402.2,882.5" stroke="#119a2a" stroke-width="1.6" fill="none"/>
<path d="M960.6,900.5L965.1,892.0L969.6,900.5Z" fill="#7b3294"/>
<path d="M972.1,900.5L976.6,892.0L981.1,900.5Z" fill="#7b3294"/>
<path d="M986.7,900.5L991.2,892.0L995.7,900.5Z" fill="#7b3294"/>
<path d="M997.9,900.5L1002.4,892.0L1006.9,900.5Z" fill="#7b3294"/>
<path d="M1011.4,900.5L1015.9,892.0L1020.4,900.5Z" fill="#7b3294"/>
<path d="M1035.8,900.5L1040.3,892.0L1044.8,900.5Z" fill="#7b3294"/>
<path d="M1063.0,900.5L1067.5,892.0L1072.0,900.5Z" fill="#7b3294"/>
<rect x="1124.4" y="954.8" width="17.6" height="7" fill="#1a72bb"/>
<text x="1149.5" y="964.3" font-size="17.5" fill="#333" text-anchor="start" >Control</text>
<rect x="1124.4" y="973.8" width="17.6" height="7" fill="#f5b060"/>
<text x="1149.5" y="983.3" font-size="17.5" fill="#333" text-anchor="start" >FCD Type-II</text>
<rect x="1124.4" y="992.8" width="17.6" height="7" fill="#6b2a8e"/>
<text x="1149.5" y="1002.3" font-size="17.5" fill="#333" text-anchor="start" >HET</text>
<rect x="1124.4" y="1011.8" width="17.6" height="7" fill="#3cb44b"/>
<text x="1149.5" y="1021.3" font-size="17.5" fill="#333" text-anchor="start" >PMG</text>
<rect x="1824.7" y="866.8" width="261.1" height="422.7" fill="#f2f2f2"/>
<line x1="1621.5" y1="1135.3" x2="2104" y2="1135.3" stroke="#d8d8d8" stroke-width="1.5"/>
<path d="M1621.6,901.5 V1289.5 H2104" stroke="#1a1418" stroke-width="2.4" fill="none"/>
<line x1="1621.6" y1="903.4" x2="1630.6" y2="903.4" stroke="#1a1418" stroke-width="2.2"/>
<text x="1613.0" y="918.3" font-size="29.5" fill="#231f20" text-anchor="end" >2.5</text>
<line x1="1621.6" y1="980.2" x2="1630.6" y2="980.2" stroke="#1a1418" stroke-width="2.2"/>
<text x="1613.0" y="992.4" font-size="29.5" fill="#231f20" text-anchor="end" >2.0</text>
<line x1="1621.6" y1="1057.3" x2="1630.6" y2="1057.3" stroke="#1a1418" stroke-width="2.2"/>
<text x="1613.0" y="1074.8" font-size="29.5" fill="#231f20" text-anchor="end" >1.5</text>
<line x1="1621.6" y1="1135.3" x2="1630.6" y2="1135.3" stroke="#1a1418" stroke-width="2.2"/>
<text x="1613.0" y="1147.5" font-size="29.5" fill="#231f20" text-anchor="end" >1.0</text>
<line x1="1621.6" y1="1213.2" x2="1630.6" y2="1213.2" stroke="#1a1418" stroke-width="2.2"/>
<text x="1613.0" y="1224.4" font-size="29.5" fill="#231f20" text-anchor="end" >0.5</text>
<line x1="1621.6" y1="1289.5" x2="1630.6" y2="1289.5" stroke="#1a1418" stroke-width="2.2"/>
<text x="1613.0" y="1302.3" font-size="29.5" fill="#231f20" text-anchor="end" >0</text>
<text x="1625.1" y="1322.0" font-size="29.5" fill="#231f20" text-anchor="middle" >0</text>
<line x1="1689.8" y1="1280" x2="1689.8" y2="1289.5" stroke="#1a1418" stroke-width="2.4"/>
<text x="1689.8" y="1322.0" font-size="29.5" fill="#231f20" text-anchor="middle" >2</text>
<line x1="1760.3" y1="1280" x2="1760.3" y2="1289.5" stroke="#1a1418" stroke-width="2.4"/>
<text x="1760.3" y="1322.0" font-size="29.5" fill="#231f20" text-anchor="middle" >4</text>
<line x1="1830.8" y1="1280" x2="1830.8" y2="1289.5" stroke="#1a1418" stroke-width="2.4"/>
<text x="1830.8" y="1322.0" font-size="29.5" fill="#231f20" text-anchor="middle" >6</text>
<line x1="1901.3" y1="1280" x2="1901.3" y2="1289.5" stroke="#1a1418" stroke-width="2.4"/>
<text x="1901.3" y="1322.0" font-size="29.5" fill="#231f20" text-anchor="middle" >8</text>
<line x1="1971.8" y1="1280" x2="1971.8" y2="1289.5" stroke="#1a1418" stroke-width="2.4"/>
<text x="1971.8" y="1322.0" font-size="29.5" fill="#231f20" text-anchor="middle" >10</text>
<line x1="2042.3" y1="1280" x2="2042.3" y2="1289.5" stroke="#1a1418" stroke-width="2.4"/>
<text x="2042.3" y="1322.0" font-size="29.5" fill="#231f20" text-anchor="middle" >12</text>
<text x="1697.0" y="857.5" font-size="29.0" fill="#231f20" text-anchor="start" >Rich club coefficient</text>
<text x="1743.5" y="1365.7" font-size="29.1" fill="#231f20" text-anchor="start" >Rich club level (<tspan font-style="italic">k</tspan>)</text>
<text transform="translate(2095.5,933) rotate(90)" font-size="18" font-style="italic" fill="#a8a8a8">Rich club regime</text>
<text transform="translate(1540.7,1100) rotate(-90)" font-size="38" fill="#000">Φ<tspan font-size="25.5" font-style="italic" dy="7">normalized</tspan></text>
<text transform="translate(1540.7,1253) rotate(-90)" font-size="38" fill="#000">Φ<tspan font-size="25.5" font-style="italic" dy="7">raw</tspan></text>
<polyline points="1655.9,1272.5 1690.5,1271.5 1725.4,1270.8 1761.0,1269.2 1796.6,1266.8 1832.2,1262.4 1866.8,1260.0 1901.7,1253.9 1937.3,1241.4 1972.2,1190.2 2007.5,1170.8 2043.1,1170.8 2078.0,1167.5" fill="none" stroke="#1a72bb" stroke-width="2.2" stroke-dasharray="9,8" stroke-linejoin="round"/>
<polyline points="1655.9,1273.6 1690.5,1272.9 1725.4,1272.2 1761.0,1271.5 1796.6,1270.2 1832.2,1267.5 1866.8,1264.7 1901.7,1257.3 1937.3,1247.1 1972.2,1243.7 2007.5,1247.8 2043.1,1217.6 2078.0,1186.1" fill="none" stroke="#eeaa2a" stroke-width="2.2" stroke-dasharray="9,8" stroke-linejoin="round"/>
<polyline points="1655.9,1271.9 1690.5,1271.2 1725.4,1269.5 1761.0,1267.5 1796.6,1263.4 1832.2,1260.0 1866.8,1256.6 1901.7,1249.8 1937.3,1241.4 1972.2,1233.6 2007.5,1224.1 2043.1,1196.3 2078.0,1165.8" fill="none" stroke="#6b2a8e" stroke-width="2.2" stroke-dasharray="9,8" stroke-linejoin="round"/>
<polyline points="1655.9,1273.2 1690.5,1272.5 1725.4,1271.5 1761.0,1270.8 1796.6,1269.2 1832.2,1265.8 1866.8,1263.4 1901.7,1258.0 1937.3,1253.2 1972.2,1243.7 2007.5,1226.1 2043.1,1234.2 2078.0,1135.3" fill="none" stroke="#63ac3c" stroke-width="2.2" stroke-dasharray="9,8" stroke-linejoin="round"/>
<polyline points="1655.9,1135.9 1690.5,1135.9 1725.4,1135.3 1761.0,1134.6 1796.6,1131.2 1832.2,1127.8 1866.8,1123.4 1901.7,1107.5 1937.3,1082.7 1972.2,983.7 2007.5,930.8 2043.1,930.8 2078.0,931.9" fill="none" stroke="#1a72bb" stroke-width="2.2" stroke-linejoin="round"/>
<circle cx="1655.9" cy="1135.9" r="4.2" fill="#1a72bb"/>
<circle cx="1690.5" cy="1135.9" r="4.2" fill="#1a72bb"/>
<circle cx="1725.4" cy="1135.3" r="4.2" fill="#1a72bb"/>
<circle cx="1761.0" cy="1134.6" r="4.2" fill="#1a72bb"/>
<circle cx="1796.6" cy="1131.2" r="4.2" fill="#1a72bb"/>
<circle cx="1832.2" cy="1127.8" r="4.2" fill="#1a72bb"/>
<circle cx="1866.8" cy="1123.4" r="4.2" fill="#1a72bb"/>
<circle cx="1901.7" cy="1107.5" r="4.2" fill="#1a72bb"/>
<circle cx="1937.3" cy="1082.7" r="4.2" fill="#1a72bb"/>
<circle cx="1972.2" cy="983.7" r="4.2" fill="#1a72bb"/>
<circle cx="2007.5" cy="930.8" r="4.2" fill="#1a72bb"/>
<circle cx="2043.1" cy="930.8" r="4.2" fill="#1a72bb"/>
<circle cx="2078.0" cy="931.9" r="4.2" fill="#1a72bb"/>
<polyline points="1655.9,1135.9 1690.5,1135.9 1725.4,1135.9 1761.0,1135.9 1796.6,1134.6 1832.2,1129.5 1866.8,1124.4 1901.7,1103.1 1937.3,1087.1 1972.2,1095.3 2007.5,1115.9 2043.1,1030.2 2078.0,930.8" fill="none" stroke="#eeaa2a" stroke-width="2.2" stroke-linejoin="round"/>
<circle cx="1655.9" cy="1135.9" r="4.2" fill="#eeaa2a"/>
<circle cx="1690.5" cy="1135.9" r="4.2" fill="#eeaa2a"/>
<circle cx="1725.4" cy="1135.9" r="4.2" fill="#eeaa2a"/>
<circle cx="1761.0" cy="1135.9" r="4.2" fill="#eeaa2a"/>
<circle cx="1796.6" cy="1134.6" r="4.2" fill="#eeaa2a"/>
<circle cx="1832.2" cy="1129.5" r="4.2" fill="#eeaa2a"/>
<circle cx="1866.8" cy="1124.4" r="4.2" fill="#eeaa2a"/>
<circle cx="1901.7" cy="1103.1" r="4.2" fill="#eeaa2a"/>
<circle cx="1937.3" cy="1087.1" r="4.2" fill="#eeaa2a"/>
<circle cx="1972.2" cy="1095.3" r="4.2" fill="#eeaa2a"/>
<circle cx="2007.5" cy="1115.9" r="4.2" fill="#eeaa2a"/>
<circle cx="2043.1" cy="1030.2" r="4.2" fill="#eeaa2a"/>
<circle cx="2078.0" cy="930.8" r="4.2" fill="#eeaa2a"/>
<polyline points="1655.9,1135.9 1690.5,1135.9 1725.4,1135.3 1761.0,1134.2 1796.6,1129.8 1832.2,1126.1 1866.8,1121.7 1901.7,1108.1 1937.3,1095.3 1972.2,1087.8 2007.5,1069.2 2043.1,1009.8 2078.0,944.7" fill="none" stroke="#6b2a8e" stroke-width="2.2" stroke-linejoin="round"/>
<circle cx="1655.9" cy="1135.9" r="4.2" fill="#6b2a8e"/>
<circle cx="1690.5" cy="1135.9" r="4.2" fill="#6b2a8e"/>
<circle cx="1725.4" cy="1135.3" r="4.2" fill="#6b2a8e"/>
<circle cx="1761.0" cy="1134.2" r="4.2" fill="#6b2a8e"/>
<circle cx="1796.6" cy="1129.8" r="4.2" fill="#6b2a8e"/>
<circle cx="1832.2" cy="1126.1" r="4.2" fill="#6b2a8e"/>
<circle cx="1866.8" cy="1121.7" r="4.2" fill="#6b2a8e"/>
<circle cx="1901.7" cy="1108.1" r="4.2" fill="#6b2a8e"/>
<circle cx="1937.3" cy="1095.3" r="4.2" fill="#6b2a8e"/>
<circle cx="1972.2" cy="1087.8" r="4.2" fill="#6b2a8e"/>
<circle cx="2007.5" cy="1069.2" r="4.2" fill="#6b2a8e"/>
<circle cx="2043.1" cy="1009.8" r="4.2" fill="#6b2a8e"/>
<circle cx="2078.0" cy="944.7" r="4.2" fill="#6b2a8e"/>
<polyline points="1655.9,1135.9 1690.5,1135.9 1725.4,1134.6 1761.0,1133.9 1796.6,1131.9 1832.2,1131.2 1866.8,1126.8 1901.7,1125.1 1937.3,1120.7 1972.2,1095.3 2007.5,1057.3 2043.1,1104.1 2078.0,907.5" fill="none" stroke="#63ac3c" stroke-width="2.2" stroke-linejoin="round"/>
<circle cx="1655.9" cy="1135.9" r="4.2" fill="#63ac3c"/>
<circle cx="1690.5" cy="1135.9" r="4.2" fill="#63ac3c"/>
<circle cx="1725.4" cy="1134.6" r="4.2" fill="#63ac3c"/>
<circle cx="1761.0" cy="1133.9" r="4.2" fill="#63ac3c"/>
<circle cx="1796.6" cy="1131.9" r="4.2" fill="#63ac3c"/>
<circle cx="1832.2" cy="1131.2" r="4.2" fill="#63ac3c"/>
<circle cx="1866.8" cy="1126.8" r="4.2" fill="#63ac3c"/>
<circle cx="1901.7" cy="1125.1" r="4.2" fill="#63ac3c"/>
<circle cx="1937.3" cy="1120.7" r="4.2" fill="#63ac3c"/>
<circle cx="1972.2" cy="1095.3" r="4.2" fill="#63ac3c"/>
<circle cx="2007.5" cy="1057.3" r="4.2" fill="#63ac3c"/>
<circle cx="2043.1" cy="1104.1" r="4.2" fill="#63ac3c"/>
<circle cx="2078.0" cy="907.5" r="4.2" fill="#63ac3c"/>
<path d="M1936.9,882.1L1942.4,873.1L1947.9,882.1Z" fill="#5a9a2a"/>
<path d="M2033.5,882.1L2039.0,873.1L2044.5,882.1Z" fill="#5a9a2a"/>
<text x="1972.2" y="895" font-size="34" fill="#6aaa3a" text-anchor="middle">*</text>
<text x="1972.2" y="911" font-size="34" fill="#6b2a8e" text-anchor="middle">*</text>
<path d="M1966.7,916.0L1972.2,907.0L1977.7,916.0Z" fill="#f0a860"/>
<text x="2006.1" y="895" font-size="34" fill="#6aaa3a" text-anchor="middle">*</text>
<text x="2006.1" y="911" font-size="34" fill="#6b2a8e" text-anchor="middle">*</text>
<path d="M2000.6,916.0L2006.1,907.0L2011.6,916.0Z" fill="#f0a860"/>
</svg>
<div class="cap" style="top:1405.5px;word-spacing:1.509px"><b>Figure 1.</b> Structural network alterations in MCD.&nbsp; A) Significant group differences in inter-regional correlation are displayed</div>
<div class="cap" style="top:1455.3px;word-spacing:0.690px">across controls, Focal Cortical Dysplasia Type-II (FCD-II), heterotopia (HET) and polymicrogyria (PMG). Increase/decrease</div>
<div class="cap" style="top:1505.2px;word-spacing:-0.181px">in patients relative to controls are shown in red/blue, corrected for multiple comparisons at FDR&lt;0.05.&nbsp; B) Global topological</div>
<div class="cap" style="top:1555.0px;word-spacing:-0.325px">parameters of clustering coefficient (Cp; leftmost), shortest path length (Lp; middle), and rich club (; rightmost) are shown as</div>
<div class="cap" style="top:1604.9px;word-spacing:0.481px">a function of network density (5-40% for Cp and Lp) and as a function of degree (0-12 for ) for each patient cohort and con-</div>
<div class="cap" style="top:1654.8px;word-spacing:0.330px">trols. Significant group differences were indicated by asterisks (FDR&lt;0.05) and triangles (uncorrected p&lt;0.05).</div>

</body></html>
